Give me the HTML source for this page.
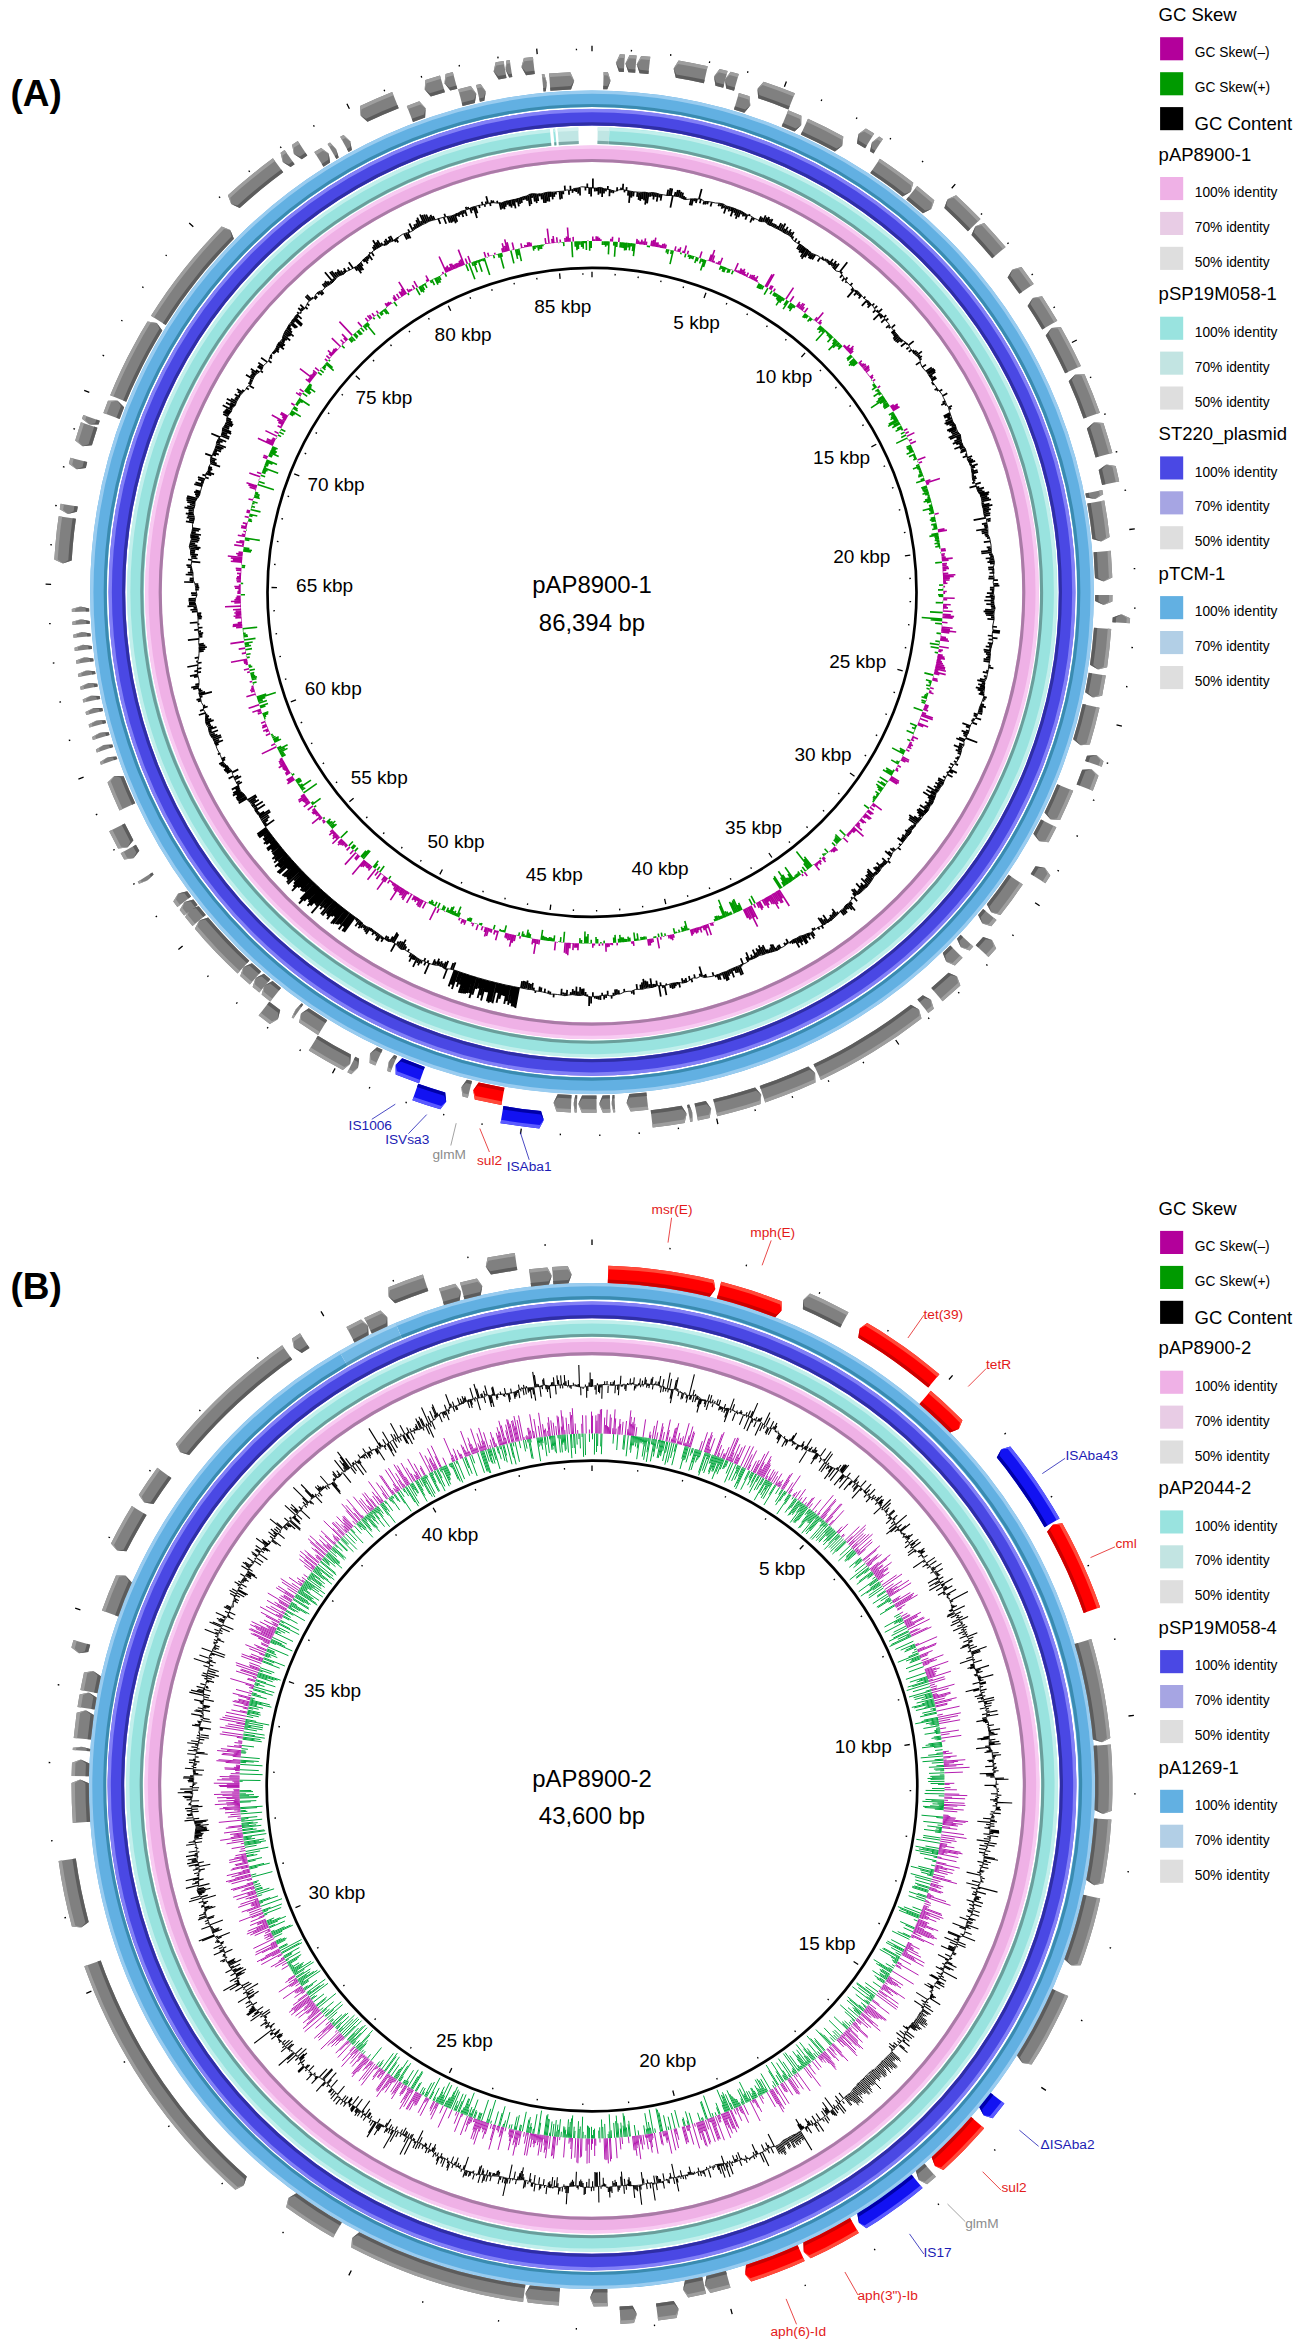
<!DOCTYPE html><html><head><meta charset="utf-8"><title>BRIG</title><style>html,body{margin:0;padding:0;background:#fff;font-family:"Liberation Sans",sans-serif}svg{display:block}</style></head><body><svg width="1301" height="2351" viewBox="0 0 1301 2351" font-family="Liberation Sans, sans-serif"><rect width="1301" height="2351" fill="#fff"/><g><path d="M592.9 188l0 -9.5M594.8 188l0 3.5M596.7 188.1l0 3.2M598.5 187.6l-0.1 7.2M600.4 187.4l-0.1 6.1M602.3 187.7l-0.2 9.2M604.1 188.8l-0.1 4.6M606 188.6l-0.1 2.8M607.8 189.4l0.1 -3.4M609.7 189.3l-0.3 7M611.5 190.2l-0.1 2.6M613.4 190.6l-0.1 2.6M617 191.2l0.2 -3.9M620.9 189.9l0.2 -2.3M622.8 189.6l0.4 -5.9M624.6 190l-0.2 2.4M626.4 190.5l0.3 -3.4M628.3 190.7l-0.4 4.9M630.1 191.1l-1.1 11.7M631.9 191.5l-0.6 6.1M633.8 191.8l-0.5 4.6M637.5 192.1l-0.5 4.8M639.3 192.9l-0.8 7M641.2 192.3l-1 8.5M643.1 192.2l-0.9 7M645 192.2l-1.1 8.1M646.8 192.6l-1.7 12.1M648.6 192.9l-1.5 10.5M650.5 193l-0.6 3.9M652.5 192.5l-0.6 3.9M654.3 193l-1 6.5M656.2 193.1l-0.6 3.8M658 193.7l-1.3 7.9M659.8 194.3l-0.5 3.2M661.6 194.8l-1 5.8M667.1 195.5l1.1 -5.9M669 195.7l1.5 -7.5M670.9 195.5l1.4 -7M672.8 195.7l-2.4 11.9M674.6 196.1l0.9 -4.1M676.5 196.3l1.3 -6.3M678.3 196.6l1.4 -6.6M680.1 197.3l1.2 -5.5M681.8 198.3l1.3 -5.7M683.5 199.2l0.7 -3.2M685.3 199.5l0.5 -2.3M691.3 198.8l-1.6 6.5M693.2 198.9l-1.7 6.6M695.2 198.6l-0.7 2.7M697 199l-1.1 4.1M699 199l2.7 -10M701 199l-1.2 4.2M704.2 201.4l-0.9 3.1M706.1 201.6l-0.9 2.9M708.1 201.6l-0.8 2.6M711.8 202.2l-1.3 4.3M719.4 203.2l-1 3.1M721.3 203.7l-0.8 2.5M723.2 204l-1.6 4.8M724.6 205.5l-0.9 2.7M726.5 206l-2.6 7.5M728.2 206.7l-0.9 2.6M730.1 207l-1.6 4.5M731.9 207.7l-1.2 3.4M733.7 208.1l-3.1 8.3M735.5 208.7l-1.5 4M737.2 209.6l-2.3 5.9M738.9 210.4l-3.2 8.3M740.8 210.9l-2.5 6.4M742.5 211.7l-1 2.7M744.1 212.8l-1.5 3.7M745.6 214l-1 2.4M747.3 214.8l-2 4.9M748.9 215.9l0.8 -1.8M752.4 217.3l-2.2 5.2M754.1 218.2l-1 2.3M758.9 221.3l2.2 -4.9M760.8 221.6l1.8 -3.9M763 221.3l2.7 -5.9M765 221.7l2 -4.3M766.4 222.9l2.8 -5.9M767.8 224.4l2.5 -5.2M769.4 225.4l3.1 -6.4M771.3 225.8l1.4 -2.9M773 226.7l1.5 -3M774.6 227.7l1.6 -3.2M776.5 228.1l1.2 -2.3M778 229.2l3.1 -6.1M779.7 230.1l3 -5.7M781.4 231.1l4 -7.6M783.1 231.9l1.8 -3.3M784.5 233.1l3.3 -6.2M786.4 233.7l1.6 -3M788 234.7l2.9 -5.3M789.5 235.7l2 -3.6M791 236.9l2.8 -5M792.1 238.8l1.4 -2.4M794.8 241.6l1.9 -3.2M798 243.7l1.6 -2.7M799.9 244.1l-3 5M801.5 245l-3 5.1M803 246.2l-3.8 6.3M804.4 247.5l-3.3 5.4M805.9 248.5l-5.3 8.4M807.7 249.3l-6 9.5M808.9 250.8l-4.1 6.5M810.6 251.7l-2.6 4M811.7 253.4l-3.1 4.8M813.4 254.2l-3.2 4.9M815.3 254.7l-3.2 4.8M820.1 257.7l-2.5 3.7M821.5 258.9l1.5 -2.1M822.8 260.3l1.2 -1.8M825 260.5l1.2 -1.8M826.6 261.5l1.4 -1.9M827.8 263l1.6 -2.3M828.8 264.7l4.2 -5.8M831.1 264.7l1.6 -2.2M832.5 266l3.7 -5M833.2 268.2l3.2 -4.4M834.5 269.6l4.5 -6M839.9 271.8l7.4 -9.6M840.9 273.5l1.3 -1.6M842.2 274.9l-2.2 2.8M844.3 278.3l-2.3 2.8M845.4 279.9l2 -2.5M846.5 281.4l-1.1 1.4M850.5 285.3l1.9 -2.3M853 288.2l-1.9 2.2M853.9 289.9l-6.5 7.5M856 290.4l-1.2 1.4M857.7 291.2l-3.7 4.2M859 292.5l-2 2.3M860.4 293.8l-1.8 2M861.4 295.4l-2.8 3.1M863.6 298.5l1.8 -2M866.9 300.4l-5.1 5.4M868.7 301.2l-1.8 1.9M869.9 302.6l-2.3 2.4M871 304.2l-3.4 3.5M872.2 305.6l2.1 -2.1M874.9 308.1l2.3 -2.3M875.3 310.3l-2.4 2.4M876.4 311.8l1.7 -1.7M878.1 312.7l4 -3.9M879.8 313.7l-6.4 6.2M881.7 314.4l-2.2 2.1M883 315.7l-2.7 2.6M884 317.3l2.3 -2.2M884.8 319.2l-3.6 3.4M885.9 320.7l2.4 -2.2M888.9 325.3l-2.8 2.5M890.1 326.8l-1.4 1.3M891.8 327.7l3.3 -3M894.9 330l-3.5 3M895.2 332.1l-2.6 2.3M896.3 333.7l-2.7 2.3M897.6 334.9l-4.4 3.7M898.6 336.5l-4.7 3.9M899.9 337.9l-4.5 3.7M901.3 339.1l-4.3 3.5M902.7 340.3l-2.2 1.8M905.9 342.5l-5 4M907.6 343.5l-1.3 1M908.6 345.1l5.1 -4M908.7 347.4l-2.3 1.8M911.7 349.7l-2.9 2.2M912.4 351.5l1.8 -1.3M913.1 353.3l3.4 -2.5M914.7 354.4l3.2 -2.3M916.2 355.6l5.7 -4.2M917.8 356.7l2.2 -1.6M918.8 358.3l3.1 -2.2M919.9 359.8l1.7 -1.2M919.9 362.1l-4 2.8M922.2 367.2l3.8 -2.6M926.1 371.3l5.7 -3.8M927.3 372.7l6.5 -4.3M928.5 374.1l6.7 -4.4M929.1 375.9l6.3 -4.1M930.2 377.4l2.4 -1.6M931.3 379l4.2 -2.6M931.8 380.8l4.7 -2.9M932.8 382.4l-1.3 0.8M934 383.8l-1.5 0.9M937.2 388.4l-2.6 1.5M938.3 389.9l-1.6 0.9M939.4 391.3l2.9 -1.7M943 395.7l4.3 -2.4M945.1 401l-2.6 1.4M945.4 402.9l-4.1 2.2M946.5 404.4l-1.6 0.9M948.5 407.5l3.4 -1.7M949.3 409.2l1.9 -1M949.8 413.1l-6.2 3.1M950.6 414.8l-6.2 3.1M950.4 416.9l-3 1.5M951.8 418.3l-6.3 3M952.2 420.2l-7.6 3.6M953 421.8l-6.6 3.1M954 423.4l-4.5 2.1M955.3 424.8l-3.7 1.7M955.9 426.6l-8.8 4M956.3 428.4l-7.5 3.4M956.5 430.3l-5.5 2.4M957.8 431.8l-5.7 2.5M959 433.3l-10.4 4.5M960.4 434.7l-10.3 4.4M960.8 436.6l-4.3 1.8M960.9 438.5l-6.6 2.7M961.5 440.3l-8.7 3.6M961.6 442.2l-5.3 2.2M962.6 443.8l-3.2 1.3M963.1 445.6l-8.7 3.4M963.9 447.2l-4.1 1.6M965.4 448.7l-4.6 1.8M966 450.4l-5.7 2.2M966.9 454l-1.7 0.6M967.1 455.9l-4.4 1.6M967.1 457.8l5 -1.8M967.4 459.7l3.9 -1.4M968.2 461.4l4.9 -1.7M969.3 462.9l5.9 -2M969.6 464.8l2.3 -0.8M971 466.3l6.7 -2.2M971.6 468l3.5 -1.1M971.5 470l2.2 -0.7M971.7 471.8l5.8 -1.8M972.1 473.6l5.9 -1.8M972.1 475.5l2 -0.6M972.3 477.4l3.7 -1.1M972.3 479.3l4.4 -1.3M973.2 481l2.2 -0.6M974.4 482.6l-2.2 0.6M975.7 484.1l5.1 -1.5M976.4 485.8l-6.9 1.9M976.5 487.7l2.8 -0.8M977.2 489.4l6.8 -1.8M977.7 491.2l4.8 -1.2M978.6 492.9l6 -1.5M980 494.4l9.2 -2.3M980.3 496.2l8.3 -2M981.3 497.9l6 -1.5M982.1 499.6l7 -1.7M981.9 501.5l9.1 -2.1M981.8 503.5l2.4 -0.5M982.1 505.3l7.4 -1.6M982.5 507.1l9.9 -2.2M983.2 508.8l6 -1.3M983.5 510.7l7.3 -1.5M983.6 512.5l5.2 -1.1M983.9 514.3l6.5 -1.3M984.4 516.1l5.8 -1.1M985.7 517.8l-12.1 2.3M986.5 519.5l4.2 -0.8M987.5 521.2l3.1 -0.6M986.9 523.2l-5 0.9M987 525.1l-3.1 0.5M987.7 526.8l-3.2 0.5M987 528.8l-10.8 1.7M987.9 530.5l-6.4 1M987.8 532.4l-6 0.9M987.9 534.3l-3.3 0.5M988.7 536l-3.2 0.5M989.6 537.8l-2.6 0.4M990.3 541.4l-6.5 0.8M990.6 547l-3.9 0.4M991.2 548.8l-3.4 0.4M991.1 550.7l-10 1M991.4 552.5l-10 1M992 554.3l-3 0.3M993.2 556.1l-3 0.3M993.1 557.9l-7.4 0.6M993.9 559.7l-4.7 0.4M994.5 561.6l-7.1 0.5M994.3 563.4l-4.3 0.3M993.4 567.2l-5.3 0.3M994.1 569.1l-5.7 0.3M993.9 570.9l-2.1 0.1M994.2 572.8l-4.7 0.2M993.4 576.5l-4.6 0.2M994.1 578.4l-5.8 0.2M993.8 580.2l4.1 -0.1M994.1 583.9l4.3 -0.1M993.9 585.8l5.5 -0.1M993.9 587.7l-4 0M993.9 589.5l-4 0M993.7 591.4l-2 0M993.5 593.2l-6.6 0M993.3 595.1l-3.6 0M994.3 596.9l-8.7 -0.1M994.3 598.8l-3.5 -0.1M993.7 600.7l-9.4 -0.2M994 602.5l-3.3 -0.1M994 604.4l-7.7 -0.2M994.8 606.3l-4 -0.1M995.1 608.1l-3.9 -0.2M994 610l-8.9 -0.4M994.1 611.8l-10.5 -0.5M993.6 613.7l-8.4 -0.4M993.9 615.5l-7.9 -0.5M994.1 617.4l-3.1 -0.2M994.1 619.3l-6.7 -0.5M992.6 626.6l4.4 0.4M993 630.4l7.1 0.7M992.3 632.2l7.5 0.7M992.5 636l-4.7 -0.5M992.4 637.8l5.1 0.6M992.1 639.7l-3.5 -0.4M992.7 643.5l-5 -0.6M991.8 645.2l-2.8 -0.4M991.4 647.1l-5.7 -0.8M990.8 648.9l-1.5 -0.2M990.7 650.7l-7.1 -1M990.3 652.6l-6.1 -0.9M990.6 654.5l-4.7 -0.7M990.2 656.3l-2.9 -0.5M990 658.2l-4 -0.7M989.9 660l-6.3 -1.1M989.6 661.9l-6.1 -1.1M988.9 665.5l1.8 0.3M988.5 667.4l4.9 0.9M988.1 671.1l-1.9 -0.4M987.6 672.9l-4.8 -1M986.6 676.5l-2.8 -0.6M986.5 678.4l-2 -0.4M985.2 680l-5.3 -1.2M984.7 681.8l-7.4 -1.7M985.1 683.8l-3.5 -0.8M984.5 685.6l-6.3 -1.5M985 687.6l-5.1 -1.2M984.4 689.4l-8.6 -2.1M983.6 691.1l-6 -1.5M983.8 693.1l-3.6 -0.9M984.2 695.1l-5.5 -1.4M983.7 696.9l3.1 0.8M983.2 698.7l2.4 0.6M982.4 700.5l2 0.5M981 704l3.1 0.9M980.3 705.7l5.6 1.6M979.5 707.4l3.2 1M979.1 709.2l3.6 1.1M978.6 711l4 1.2M978.2 712.9l4 1.2M977.6 714.6l-3.9 -1.2M976.6 716.3l-3 -1M975.8 718l5.3 1.7M974.8 719.6l-2.3 -0.8M973.3 721.1l-2 -0.7M972.4 722.7l4.6 1.6M970.4 726l-8 -2.8M969.6 727.6l-3.7 -1.3M968.9 731.4l-3 -1.1M968.6 733.2l-7 -2.6M967.3 734.7l-4.1 -1.6M966.7 736.5l-3.2 -1.2M965.9 738.1l11.4 4.4M965 739.8l-5.9 -2.3M964 741.4l-7.7 -3.1M963.9 745.3l-4.7 -1.9M962.1 746.6l-3.3 -1.4M961.8 748.5l-7.9 -3.4M960.9 750.1l-3 -1.3M961.1 752.2l-5.4 -2.4M960.7 754.1l-3.1 -1.4M959.1 757.5l-1.8 -0.8M958.4 759.1l-3 -1.4M956.4 762.3l-2.5 -1.2M955.4 763.9l2.6 1.2M953.4 765l-3.2 -1.5M951.5 768.2l-2.8 -1.4M950.1 769.6l6.7 3.3M948.9 771.1l3.9 2M948.4 772.9l-1.8 -0.9M947.4 774.4l5.1 2.6M945.6 777.6l-2.6 -1.3M944.1 781l-5.8 -3.1M943.6 782.9l-5.7 -3.1M942.9 784.6l-4.5 -2.4M941.4 785.9l-6.1 -3.4M940.4 787.4l-3.4 -1.9M939.1 788.8l-5.2 -2.9M938.6 790.7l-3.5 -2M937.3 792l-9.8 -5.7M936.1 793.5l-4.8 -2.8M935.5 795.2l-9.1 -5.4M935.1 797.2l-4.6 -2.8M934.6 799l-11.4 -6.9M933.6 800.6l-5.7 -3.5M933.3 802.5l-4.5 -2.8M932.2 804l-3.7 -2.3M930.6 805.2l-5.4 -3.4M929.7 806.8l-3.3 -2.1M928.7 808.4l-4.2 -2.7M928.3 810.4l-8.4 -5.5M927.1 811.8l-2.9 -1.9M926 813.2l-7.2 -4.8M924.4 814.4l-7.4 -5M923.2 815.8l-5.8 -3.9M921.4 816.8l-2.8 -1.9M921.1 818.9l-2.6 -1.8M919.8 820.2l-5.6 -3.9M918.7 821.7l-9.5 -6.7M917.2 822.9l-7.8 -5.5M916.1 824.4l-7.4 -5.3M915.6 826.2l-2.2 -1.6M914.1 827.5l-2.8 -2.1M912.9 828.8l-3 -2.2M911.6 830.2l-3.1 -2.3M911.4 832.4l-4 -3M910.2 833.8l-5 -3.8M908.9 835.1l-3.3 -2.5M907.6 836.4l-2.6 -2M906.3 837.8l-4 -3.2M905.4 839.4l-3.5 -2.7M904.1 840.7l-3 -2.4M903.1 842.2l-5.5 -4.5M900.9 845.2l-1.9 -1.5M898 847.6l2.7 2.3M895.3 850.2l-2.7 -2.3M893.5 851l-3.2 -2.7M891.8 854.4l-3.3 -2.9M891.2 856.3l-6 -5.3M889.1 859.4l-1.4 -1.2M888.2 861.1l2.1 1.9M887.1 862.6l-4.9 -4.5M886 864.1l-2.9 -2.7M884.5 865.2l-2.5 -2.3M883.2 866.5l-2.7 -2.6M881.7 867.6l-5.1 -4.9M880.3 868.9l-2.5 -2.4M879.8 871l-4.4 -4.3M878.4 872.2l-4.9 -4.8M877.4 873.8l-2.2 -2.2M875.6 874.6l-1.9 -1.9M874.3 875.9l-6.7 -6.7M872.9 877.1l-5.7 -5.8M872.5 879.3l-5.1 -5.2M871.3 880.8l-5.6 -5.8M870.4 882.5l-4.3 -4.5M869.3 884l-4.4 -4.7M868.1 885.5l-6.8 -7.2M867.2 887.2l-2.7 -2.9M865.5 888.2l-4.7 -5.1M863.9 889.1l-3.4 -3.7M862.7 890.6l-6.5 -7.2M861.5 892l-2.9 -3.2M860 893.2l-2.4 -2.7M858.5 894.3l-4.8 -5.4M856.4 894.8l-4.8 -5.5M855.3 896.3l-2.6 -3M853.9 897.5l3.2 3.8M852.4 898.6l-1.2 -1.5M850.3 901.9l2.1 2.6M848.9 903.1l6.1 7.4M847.2 904l4.7 5.8M845.7 905.1l3.1 3.9M844.5 906.5l2.4 3M843.6 908.4l3.5 4.3M842.4 909.9l3.3 4.2M840.5 910.6l3.6 4.6M838.4 913.9l-1.6 -2.1M836.8 915l-4.6 -6M835.6 916.5l-3.1 -4.1M834 917.4l-2.2 -3M832.8 919l-2.9 -3.9M831.6 920.5l-2.2 -3.1M829.8 921.2l-1.7 -2.3M828.4 922.4l-5.3 -7.4M826.5 923.1l-2.7 -3.8M825.2 924.5l-4.6 -6.5M823.3 925l-5.1 -7.3M821.4 925.6l2 3M817.8 926.9l1.8 2.7M815 929.4l-1.1 -1.7M813.5 930.5l-1.5 -2.3M812.1 931.8l2.6 4.1M810.6 932.9l3.6 5.6M808.4 933l1.6 2.6M806.8 933.8l3.6 5.7M805.1 934.7l2.2 3.5M803.3 935.3l4.5 7.4M801.6 936l4.9 8M799.5 936.3l3.2 5.4M798.1 937.5l4.5 7.6M796.4 938.3l2.8 4.7M794.6 939l4.9 8.5M792.9 939.7l2 3.4M791.5 940.9l1.6 2.8M789.9 942l0.8 1.5M788.2 942.7l-2.1 -3.7M786.9 944.1l-0.8 -1.4M785.4 945.2l-1.4 -2.5M780.6 948.1l-1.8 -3.4M779.2 949.4l-1.9 -3.7M777.5 950.3l-1.5 -2.8M775.7 950.7l-3.3 -6.4M773.9 951.3l-3.4 -6.8M772.2 952.1l-2.2 -4.4M770.2 952.3l-1.4 -2.9M768.6 953.2l-1.9 -3.9M766.6 953.2l-3.9 -8M764.8 953.8l-3.3 -6.9M763.1 954.7l-4.4 -9.3M761 954.5l-2.5 -5.4M759.4 955.4l-3.2 -7M757.8 956.4l-1.9 -4.1M756.2 957.4l-3.5 -7.8M754.6 958.2l-1.1 -2.5M752.8 958.9l-1.9 -4.2M751.1 959.4l-0.8 -1.8M749.4 960.1l-3.3 -7.7M748.1 961.9l-2 -4.8M743.1 964.3l-2.4 -6M741.1 964.3l0.8 2.1M739.6 965.5l3.5 8.9M738 966.6l3.4 8.7M736.1 966.9l2.2 5.7M734.4 967.7l2 5.3M732.7 968.3l1 2.6M731.1 969.2l3 8.2M729.3 969.8l1.5 4M727.7 970.9l1.8 4.9M726 971.6l2.9 8.3M724.2 972l3.1 8.9M722.4 972.6l2.3 6.7M720.7 973.5l0.7 2M719 974.2l1.8 5.5M717.2 974.6l1.7 5.2M715.5 975.4l0.6 1.8M713.6 975.7l-1.1 -3.5M706.3 977.2l-1 -3.3M704.5 977.4l-0.7 -2.5M702.3 976.5l-2.9 -10.1M700.3 976.3l-0.7 -2.5M695 977.9l-0.9 -3.5M691.4 978.7l0.9 3.5M689.9 980.1l-1 -4.1M686.6 982.2l-1 -4.2M684.8 982.7l-0.7 -2.9M682.9 983l-1.1 -4.8M679 982.6l1.1 4.9M677.1 982.1l0.5 2.5M675.3 982.9l0.7 3.4M673.5 983l1.1 5.2M671.7 983.4l1.1 5.4M670 984.4l0.7 3.6M666.4 985.2l-0.3 -1.7M664.6 985.6l1.8 9.5M662.7 985.5l0.4 2.5M660.9 985.8l-0.6 -3.4M659 985.9l1.8 10.8M657.1 985.6l-0.8 -4.9M655.4 986.8l-0.5 -3M653.6 987.1l-0.5 -3.1M651.8 987.8l-1.4 -9.4M649.9 987.7l-0.5 -3.6M648 987.4l-0.8 -6M646.3 988.1l-1 -7.4M644.4 987.9l-1.2 -9.1M642.7 989.2l-0.9 -6.8M640.8 989l-0.5 -4.3M637.1 989l-0.6 -4.9M633.5 990l0.5 4.6M631.7 991.2l0.2 2.4M624.4 991.9l-0.3 -3.1M619 994.2l-0.3 -4M617.1 994.1l-0.3 -4.9M615.3 994.7l-0.3 -5.3M613.5 995.7l-0.2 -2.9M611.6 995.7l0.1 2.9M607.8 994.9l-0.2 -4.1M606 994.9l0.1 3.1M604.1 995.3l0.1 4.1M602.2 995.5l-0.1 -2.8M600.4 995.7l0.1 4.2M598.5 996.3l0.1 3.3M596.7 996.6l0 2.5M594.8 996.4l0 2.1M592.9 996.3l0 -4M591.1 996.9l0 6.7M589.2 996.7l-0.1 9.4M587.3 996.2l0 -1.8M585.5 995.8l0.1 -3.7M583.6 995l0.1 -6.4M581.8 994.9l0.2 -6.2M579.9 995.5l0.3 -8.4M578 995.5l0.1 -4M576.2 995.2l0.3 -8.6M574.3 994.7l0.2 -4M572.5 994.6l0.3 -5.6M570.6 994.9l0.2 -2.8M566.8 995.5l0.3 -5.6M564.9 995.7l0.2 -3M563.1 994.6l0.2 -2.3M561.2 995l0.5 -6.3M553.8 994.1l-0.3 3.2M550.1 994.2l0.3 -2.5M548.3 993.2l0.3 -2.6M544.6 992.7l0.5 -4M541 991.5l0.5 -4M539.2 991.3l0.6 -4.7M535.5 990.9l-0.3 1.9M533.7 990l0.3 -2.3M531.9 989.7l1 -6.9M530.1 988.8l0.8 -4.9M528.2 989.3l1 -6.3M526.4 988.4l1.3 -7.9M524.5 988.6l1.2 -7.1M522.7 988.2l1.3 -7.3M520.9 987.9l1.2 -6.7M452.8 969.7l2.7 -7.3M451 969.1l2.3 -6.1M447.2 968.7l-3.8 10M445 969.1l3.2 -8.2M443.4 968.1l2.5 -6.4M441.9 966.7l1.4 -3.5M440.1 966.3l2 -5M438.4 965.4l1.6 -3.9M436.8 964.6l2.4 -5.9M434.6 965l1.5 -3.7M432.7 964.7l2.3 -5.3M429.4 963l-4.8 10.9M427.4 962.8l1.1 -2.5M425.6 962.1l-1.5 3.3M424.1 961.1l1.3 -2.9M422 961.1l-1.1 2.4M420.5 959.9l-2.5 5.4M418.8 959.1l-1.8 3.7M417.3 957.9l-4.3 8.9M415.7 956.8l-1.5 3.1M414.3 955.5l-1.9 4M412.6 954.8l-3.4 6.9M411.1 953.5l-1.8 3.6M407.8 951.7l1.3 -2.5M404.7 949.6l1.7 -3.2M402.7 949.5l2.8 -5.4M400.7 949.2l5.1 -9.6M399.3 947.9l3.4 -6.3M398 946.3l2.8 -5.1M396.8 944.6l1.7 -3.1M395.3 943.5l-4.5 8.1M393.5 942.9l4.9 -8.7M392 941.8l5.3 -9.3M390 941.5l2.9 -5M388 941.2l1.3 -2.3M386.5 940.2l2.1 -3.6M384.8 939.3l2.1 -3.5M383.6 937.7l-2.4 4M382.2 936.5l-1.3 2.2M380.4 935.8l-3.3 5.3M379.1 934.4l-3.5 5.7M377.7 933.1l-1.8 2.9M376.1 932.1l-1.3 2.1M374.5 931.2l-2.4 3.7M373.1 930l-1.3 2M371.8 928.6l-1.6 2.4M370 927.9l-4 6M368.1 927.4l-3.1 4.6M366.4 926.6l-2.5 3.7M364.9 925.5l-1.7 2.4M363.3 924.5l-2.5 3.6M362.3 922.6l-3.9 5.6M360.9 921.4l-2.4 3.5M359.5 920.2l-4.2 6M358 919.1l-1.8 2.5M356.5 918.1l-1.2 1.7M265.2 826.3l9 -6.4M264.2 824.7l2.3 -1.6M263.2 823.2l4.8 -3.4M262.3 821.6l7.1 -5M261.4 819.9l7 -4.8M260.4 818.3l10 -6.8M259.3 816.8l10.2 -6.9M258.7 815l5.4 -3.6M257 813.9l2.5 -1.6M256.1 812.3l2.1 -1.4M254.9 810.9l10 -6.5M254.6 808.9l2.6 -1.7M253.6 807.3l9.2 -5.9M252.1 806l2.9 -1.8M251.9 804l6.9 -4.3M250.5 802.7l5.3 -3.3M249 801.4l7.9 -4.8M247.5 800.1l8.5 -5.1M237.6 784.4l4.3 -2.3M236.2 783l3.5 -1.9M235 779.4l6.1 -3.2M234 777.8l4.2 -2.2M233 776.3l-4.4 2.3M232.3 772.4l6 -3M222.1 760.8l3 -1.4M221.7 758.9l3.6 -1.6M220.4 753.3l-2.6 1.1M215.8 745.1l2.9 -1.2M214.5 743.6l8.5 -3.4M214.3 741.6l4.9 -1.9M213.2 740l8.3 -3.2M212.7 738.2l8.2 -3.2M211 736.9l6.4 -2.4M210.2 735.2l4.6 -1.7M210 733.2l8 -3M209 731.6l2.7 -1M208.7 729.7l7.8 -2.8M208.4 727.8l4.4 -1.5M208.1 725.9l2.9 -1M206.4 724.5l3.7 -1.3M205.6 722.8l8.1 -2.7M205.5 720.8l5.8 -1.9M205.5 718.9l3 -1M205.6 716.9l3.4 -1.1M205.9 714.8l1.5 -0.5M205.7 712.9l-6.9 2.1M203.5 709.7l-3.5 1.1M203.2 707.8l4.5 -1.3M203.4 705.8l1.8 -0.5M200.9 700.7l-3 0.8M200.7 698.8l-4.2 1.1M199.9 697.1l2.6 -0.7M199.4 695.2l12.5 -3.3M198.6 693.5l6.5 -1.7M199.1 691.4l3.4 -0.9M198.5 689.7l2.5 -0.6M198.4 687.8l-5.2 1.3M198.7 685.8l-7.5 1.8M199 683.8l-3.7 0.9M198.1 676.3l-4.1 0.9M197.4 674.6l-7.4 1.5M197.3 672.7l3.7 -0.8M198.2 670.6l-3.9 0.8M197.3 668.9l4.1 -0.8M198 665l-10.7 2M198.1 663.1l3.5 -0.6M197.8 661.3l-1.6 0.3M198.7 657.4l-4 0.7M199.2 651.7l4.6 -0.7M199.1 649.9l6.1 -0.9M198.8 648.1l8.1 -1.1M199.2 646.2l6.1 -0.8M198.9 644.4l4.9 -0.7M199 638.8l-11.1 1.3M199.4 636.9l3 -0.3M199 635.1l3.5 -0.4M199 633.3l4.2 -0.4M198.3 631.5l2.7 -0.3M198.1 629.7l-3.9 0.4M198.4 627.9l4.1 -0.4M197.8 624.2l1.6 -0.1M197.5 622.4l-7.7 0.6M198.2 618.7l3.4 -0.2M197.9 616.9l4.2 -0.3M197.4 615.1l3.7 -0.2M197.4 613.3l3.9 -0.2M197.1 611.5l-5.2 0.3M197.1 609.6l-6.7 0.3M196.4 607.8l-2.9 0.1M196.2 606l-8.7 0.3M196 604.2l-7 0.2M195 602.4l-6.1 0.2M195.4 600.5l-6.9 0.1M195.5 598.7l-6.9 0.1M197 595l-5.5 0M196.4 593.2l-5.4 0M195.4 589.6l3.4 0M195.7 587.7l3.6 0M196.1 585.9l2.5 0M195 584l3.3 0.1M193.5 582.2l-9.4 -0.2M193.4 580.3l-3.9 -0.1M193.5 578.5l-3.8 -0.1M192.7 574.8l-7 -0.3M193 572.9l-5.2 -0.3M192.1 571l-2 -0.1M192 569.2l-1.9 -0.1M191.5 567.3l-4.1 -0.3M191.1 565.4l-4.7 -0.3M191.6 561.7l8.7 0.7M191.5 559.8l-3.5 -0.3M191.9 558l5.6 0.5M192 556.2l4.4 0.4M190.6 554.2l7.4 0.7M190.6 552.3l4.3 0.4M190.5 550.4l4.8 0.5M190.3 548.5l8.6 0.9M189.3 546.5l11.2 1.3M189.8 544.7l7.5 0.9M190.2 542.9l5 0.6M190.7 541l7.5 1M191.4 539.2l7.9 1.1M190.5 537.2l9.3 1.3M190.6 535.4l8.2 1.2M191.5 533.6l9.5 1.4M191.8 531.8l4 0.6M192.1 529.9l6.9 1.1M192.6 528.1l7.8 1.2M193.6 522.6l-7.7 -1.3M193.9 520.7l-4.9 -0.9M194.6 519l-7.9 -1.5M194.2 517l-6.5 -1.2M193.5 514.9l-7.7 -1.5M193.1 513l-4.6 -0.9M192.9 511l-4.4 -0.9M193.6 509.2l-9.1 -1.9M194.4 507.5l-7.2 -1.5M194.8 505.6l-4.9 -1.1M194.9 503.7l-7.7 -1.7M195.1 501.8l-8.6 -2M196.2 500.2l-9.7 -2.3M197.2 498.5l-10 -2.4M198.7 496.9l-3 -0.7M199.6 495.2l-4.6 -1.1M200 493.4l-5.9 -1.5M200.4 491.6l-4.8 -1.2M202.1 486.2l-7.8 -2.1M202.6 484.4l-7.1 -2M203.4 482.7l-2.5 -0.7M203.8 480.9l-5.7 -1.6M204.6 479.2l-6.7 -2M205.6 477.5l3.1 0.9M205.7 475.6l-3.3 -1M205.9 473.7l5.4 1.7M207.4 472.2l6.7 2.1M208.1 470.5l2.6 0.8M208.3 468.6l4 1.3M208.8 466.8l3.2 1M210.7 463.5l9.4 3.2M210.6 461.5l6.1 2.1M210.4 459.5l4.6 1.6M210.3 457.5l6.2 2.2M212.1 456.1l-6.9 -2.5M212.7 454.4l3.3 1.2M213.3 452.6l5.5 2M214.2 450.9l2.7 1M214.8 449.2l6.2 2.4M215.4 447.4l6.1 2.3M216.1 445.7l7.4 2.9M217 444l8.9 3.5M216.7 441.9l3.5 1.4M217.4 440.2l5.2 2.1M218.5 438.6l7.7 3.2M219.8 437.1l-8.5 -3.6M221.2 435.7l7.8 3.3M221.6 433.9l7.9 3.4M222.2 432.1l5.1 2.2M222.2 430l9 3.9M222.6 428.2l8.5 3.8M223.9 426.7l5.2 2.3M224.8 425.1l4.7 2.1M225.4 423.3l6.7 3.1M226.6 421.8l6.6 3.1M226.7 419.8l5.7 2.7M226.9 417.8l4.3 2.1M227.6 416.1l-4.4 -2.1M228.9 414.6l-5.7 -2.8M230 413.1l-5.4 -2.7M231.3 411.7l-5.4 -2.7M231.8 409.8l-9.1 -4.6M232.3 408l-2.7 -1.4M233.7 406.6l-7.7 -4M235.3 405.4l-4.9 -2.6M235.9 403.6l-9.1 -4.8M236.5 401.8l-5.5 -3M237.4 400.1l-2.8 -1.5M238.4 398.6l-2.8 -1.6M239.7 397.1l-5 -2.8M240.3 395.3l-1.5 -0.9M241.4 393.8l-3.6 -2M242.8 392.5l-5.9 -3.4M244.3 391.2l-2.2 -1.3M246.2 388l2.7 1.6M249.6 385.7l4.3 2.6M251 384.4l-2.6 -1.6M251.3 382.4l-1.8 -1.1M252.3 380.9l-2.5 -1.5M252.8 379l-6.8 -4.3M253.9 377.5l-3.5 -2.2M254.7 375.8l-3.2 -2M255.9 374.4l-4.4 -2.8M257.2 373l-6.4 -4.2M259.3 372.2l-3.3 -2.2M260.8 371l2.1 1.4M261.9 369.5l-4.4 -3M262.7 367.9l-4 -2.7M263.2 366l-4.9 -3.4M267 361.9l-5.9 -4.2M268.7 360.8l2.8 2M269.9 357.1l2 1.4M270.2 355.1l1.9 1.4M272.5 352.2l2.1 1.6M274 351l2 1.5M275.2 349.6l3.6 2.8M276.1 348l2.8 2.2M276.7 346.1l2.8 2.2M277.5 344.3l6.4 5M278.3 342.6l4.9 3.9M280 341.6l4.9 3.9M281.5 340.4l2.9 2.3M282.4 338.8l2.7 2.2M282.6 336.6l4.3 3.6M283.4 334.8l6.8 5.7M284.2 333.1l4.3 3.6M285 331.3l5.5 4.7M286.2 329.9l7.4 6.4M287.1 328.2l4.9 4.3M288 326.5l3.5 3.1M288.9 324.8l1.9 1.7M290.4 323.6l5.2 4.6M291.2 321.9l6.2 5.6M292 320l2.6 2.4M293.5 318.9l8 7.3M294.7 317.5l7.7 7.2M295.5 315.7l2.4 2.2M296.8 314.3l4.8 4.5M298.8 313.7l-1.6 -1.6M300.2 312.3l1.1 1.1M301.6 311.2l-3.3 -3.2M302.9 309.8l-1.7 -1.7M304.6 308.8l-4.3 -4.2M305.5 307.1l2.1 2.1M307.2 303.5l2.1 2.1M309.7 300.7l-4.3 -4.4M311.4 299.7l-4.6 -4.8M312.9 298.6l-1.1 -1.2M314.3 297.4l1.8 2M315.4 295.9l1.9 2M317.3 292.4l2.1 2.3M319.1 291.5l3.3 3.6M321.3 291.2l2.4 2.6M325.3 287.3l-2.9 -3.3M326.8 286.1l-2.8 -3.2M328.6 285.3l-3.6 -4.2M330 284.1l-2.5 -2.9M331.7 283.3l-1.7 -2M333.2 282.1l-8.3 -9.9M334.4 280.6l-1.6 -1.9M335.7 279.2l-5.9 -7.2M336.7 277.5l-5.2 -6.4M338.1 276.2l-3.2 -3.9M339.9 275.5l-3 -3.8M341.7 274.9l-4.3 -5.4M343.6 274.2l-2.9 -3.7M344.9 272.8l-1.5 -2M346.3 271.6l-2.6 -3.4M349.8 270l-2 -2.6M353.1 268.2l-4.3 -5.9M354.5 267l2.7 3.7M356.4 266.4l4.9 6.8M357.6 264.9l4 5.6M359.1 263.9l4.4 6.1M360.5 262.6l2.3 3.3M362.9 259.5l1.8 2.6M364.4 258.4l3.4 5M365.9 257.3l2.3 3.5M367.4 256.2l1.7 2.5M368.5 254.4l3.8 5.7M370.2 253.6l-0.8 -1.3M371.7 252.5l2.2 3.4M374.7 250.2l-2.1 -3.3M376.1 249l-2.5 -4M377.7 248l-4.8 -7.7M379.4 247.2l-3.1 -5M380.9 246.1l-3.6 -5.9M382.6 245.2l-1.5 -2.5M385 245.5l-1.1 -1.9M386.7 244.8l-2.4 -4.1M388.3 243.8l-2.8 -4.9M389.6 242.3l-1.2 -2M391.1 241.2l-2.6 -4.5M393.2 241l-2.9 -5.1M394.4 239.5l1.4 2.5M396 238.5l2.2 4M397.4 237.2l0.8 1.4M404.2 234.1l2.8 5.4M405.9 233.1l2.8 5.5M407.9 233.1l2.7 5.3M409.6 232.3l-1.5 -3M412.9 230.6l-3.5 -7.1M414.3 229.2l-1 -2M416 228.3l-2 -4M417.6 227.4l-1.8 -3.8M419.3 226.5l-3.1 -6.5M420.9 225.5l-3.7 -7.9M422.5 224.6l-1.6 -3.6M424 223.4l-4 -8.9M425.9 223.2l-3.7 -8.2M427.4 221.8l-3.3 -7.3M429.2 221.3l-3 -6.8M430.9 220.6l-1.7 -4M432.8 220.2l-2.3 -5.4M434.6 219.7l-1.6 -3.7M438.2 218.5l2.2 5.4M443.7 217.3l2.5 6.4M445.5 216.8l-1.2 -3.1M447.4 216.5l2.4 6.3M449.5 216.8l2.3 6M451.2 216l2.1 5.6M452.9 215.3l2.9 8M454.7 214.6l2.6 7.3M456.2 213.4l1 2.7M458.1 213.1l1.3 3.7M459.7 212.2l0.9 2.6M461.3 211.2l2 5.8M463.1 210.7l1 3.1M464.9 210.3l1.9 5.8M466.6 209.5l-0.9 -2.6M468.5 209.1l-0.7 -2.2M470 207.9l1.7 5.3M471.8 207.3l1 3.1M473.6 206.7l3.4 11.2M475.4 206.4l2.1 6.9M479 205.3l0.8 2.7M482.7 204.9l-0.9 -3.1M484.7 205.1l0.5 1.7M486.3 204l-0.7 -2.5M488 203l-1.8 -6.7M489.9 202.9l0.8 3.1M491.9 203.1l-0.7 -2.8M493.7 202.7l-0.6 -2.2M497.6 203.1l-0.6 -2.3M499.4 202.5l1.7 7.1M501.4 202.9l1.3 5.7M503.1 202.3l1.6 7M504.8 201.5l1.2 5.3M506.6 200.8l0.9 4M508.5 200.8l1.2 5.5M510.2 200.2l1.5 7.4M512.1 199.9l1.2 5.7M513.8 199.3l1.8 9.1M515.7 199.2l0.6 3.2M517.4 198.5l1.5 7.8M519.3 198.2l1 5.7M521 197.3l1 5.5M522.8 196.9l0.6 3.3M524.6 196.3l0.6 3.3M526.4 196l0.8 4.9M528.2 195.3l1.7 10.7M529.9 194.2l1.6 10M531.7 193.7l0.6 4.2M533.6 193.7l1.2 8M535.5 193.8l1.3 9.4M537.4 194.1l0.9 6.9M539.2 193.6l0.4 2.7M541.1 193.9l0.7 5.5M542.9 193.6l1.2 9.4M544.7 192.8l1.2 10M546.5 192.4l1 9M548.4 192.1l1 9.6M550.2 191.8l0.5 5M552.1 192.2l0.7 7.2M554 192.3l0.4 4.5M555.8 191.9l0.2 2.6M559.5 191.4l0.7 8.1M561.4 191.5l0.6 7.3M563.2 191.2l0.2 3.1M565 190.3l-0.3 -4.7M568.8 190.4l0.3 4.4M570.6 190.5l-0.3 -4.7M572.5 189.8l0.1 3.1M574.3 188.5l0.1 2.6M576.1 188.2l0.1 3.8M578 188l0.2 5.6M579.9 187.9l0.2 7.6M585.4 187l0.1 3.5M587.3 187.7l0 -4.1M589.2 187.8l0 6.1M591.1 187.5l0 9" fill="none" stroke="#000" stroke-width="1.75"/><path d="M519 987.6l-3.8 20.4M517.2 987.3l-3.7 19.4M515.4 986.9l-3.8 19.5M513.6 986.6l-3.3 16.8M511.8 986.2l-3.8 18.6M509.9 985.8l-3.2 15.3M508.1 985.5l-3.9 18.4M506.3 985.1l-2.4 10.9M504.5 984.7l-2.4 10.7M502.7 984.3l-3.3 14.6M500.9 983.8l-4.4 19M499.1 983.4l-2.2 9.4M497.3 983l-4.9 20.3M495.4 982.5l-4.8 19.4M493.6 982.1l-5.2 20.6M491.8 981.6l-5 19.6M490 981.2l-2.9 11M488.3 980.7l-3 11.4M486.5 980.2l-5.5 20.3M484.7 979.7l-4.3 15.5M482.9 979.2l-5.3 18.8M481.1 978.7l-2.8 9.7M479.3 978.2l-3.2 10.9M477.5 977.7l-5.1 17.1M475.7 977.1l-6.3 20.9M474 976.6l-5 16.4M472.2 976l-5.3 17.1M470.4 975.5l-5.7 18.1M468.7 974.9l-6 18.5M466.9 974.3l-6.2 18.8M465.1 973.8l-6.3 18.9M463.4 973.2l-3.8 11.3M461.6 972.6l-4.8 14.1M459.9 972l-3.5 10M458.1 971.3l-6.2 17.7M456.4 970.7l-5 13.9M454.6 970.1l-5.9 16.2M355 917l-10.9 14.9M353.5 915.9l-11.2 15.2M352 914.8l-8.6 11.6M350.5 913.7l-11.8 15.7M349 912.5l-9.1 11.9M347.5 911.4l-10.1 13.1M346.1 910.3l-10.6 13.7M344.6 909.1l-11.6 14.8M343.1 908l-12.2 15.5M341.7 906.8l-7.6 9.6M340.2 905.7l-8.6 10.7M338.8 904.5l-11.8 14.6M337.3 903.3l-10.2 12.5M335.9 902.2l-9.4 11.4M334.5 901l-12.1 14.5M333 899.8l-12.1 14.4M331.6 898.6l-7.8 9.2M330.2 897.4l-10.1 11.8M328.8 896.2l-8.5 9.8M327.4 894.9l-15.9 18.2M326 893.7l-10.3 11.7M324.6 892.5l-10 11.2M323.2 891.3l-12.7 14.2M321.9 890l-14.4 15.8M320.5 888.8l-11.9 13M319.1 887.5l-11.1 12M317.8 886.2l-13.7 14.7M316.4 885l-17.4 18.5M315.1 883.7l-14.7 15.5M313.7 882.4l-9.1 9.5M312.4 881.1l-10 10.4M311 879.8l-10.5 10.7M309.7 878.5l-8.9 9M308.4 877.2l-10.3 10.3M307.1 875.9l-15.1 15M305.8 874.6l-12.4 12.2M304.5 873.3l-10.6 10.4M303.2 871.9l-9 8.7M301.9 870.6l-14.1 13.5M300.6 869.2l-13.9 13.2M299.3 867.9l-12.1 11.4M298.1 866.5l-11.6 10.8M296.8 865.2l-12.5 11.5M295.5 863.8l-13.1 12M294.3 862.4l-7 6.4M293 861.1l-13.8 12.4M291.8 859.7l-14.4 12.8M290.6 858.3l-10.6 9.3M289.4 856.9l-11 9.6M288.1 855.5l-13 11.3M286.9 854.1l-8.7 7.5M285.7 852.7l-11.6 9.9M284.5 851.3l-9.6 8.1M283.3 849.8l-10.9 9.1M282.1 848.4l-8.3 6.9M281 847l-8.5 7M279.8 845.5l-8.2 6.6M278.6 844.1l-7.1 5.7M277.5 842.6l-9.8 7.8M276.3 841.2l-9.5 7.5M275.2 839.7l-5.2 4M274 838.2l-7.8 6.1M272.9 836.8l-9 6.9M271.8 835.3l-7.3 5.5M270.6 833.8l-7.4 5.6M269.5 832.3l-5.6 4.2M268.4 830.8l-9.2 6.8M267.3 829.3l-9.3 6.8M266.2 827.8l-8.9 6.5M246.8 798.4l-8.1 4.9M246 796.7l-7.7 4.5M244.8 795.2l-8 4.7M243.7 793.7l-7.6 4.4M242.2 792.5l-5.5 3.1M240.5 791.3l-7.6 4.3M239.7 789.6l-6.5 3.6M239.2 787.7l-3.6 2M239.1 785.7l-7.3 4M231.7 770.7l-4.9 2.4M229.7 769.6l-4.4 2.1M229.1 767.8l-5.1 2.5M228.1 766.2l-3.4 1.6M226.1 765.1l-3.5 1.7M224.5 763.8l-3.8 1.8M223.4 762.2l-4.2 2" fill="none" stroke="#000" stroke-width="1.9"/><path d="M592.9 188L596.7 188.1L600.4 187.4L604.1 188.8L607.8 189.4L611.5 190.2L615.2 191.3L619 189.8L622.8 189.6L626.4 190.5L630.1 191.1L633.8 191.8L637.5 192.1L641.2 192.3L645 192.2L648.6 192.9L652.5 192.5L656.2 193.1L659.8 194.3L663.5 194.8L667.1 195.5L670.9 195.5L674.6 196.1L678.3 196.6L681.8 198.3L685.3 199.5L689.3 199.2L693.2 198.9L697 199L701 199L704.2 201.4L708.1 201.6L711.8 202.2L715.5 203L719.4 203.2L723.2 204L726.5 206L730.1 207L733.7 208.1L737.2 209.6L740.8 210.9L744.1 212.8L747.3 214.8L750.9 216L754.1 218.2L757.6 219.7L760.8 221.6L765 221.7L767.8 224.4L771.3 225.8L774.6 227.7L778 229.2L781.4 231.1L784.5 233.1L788 234.7L791 236.9L793.3 240.4L796.4 242.6L799.9 244.1L803 246.2L805.9 248.5L808.9 250.8L811.7 253.4L815.3 254.7L818.8 256.2L821.5 258.9L825 260.5L827.8 263L831.1 264.7L833.2 268.2L835.9 270.9L839.9 271.8L842.2 274.9L844.3 278.3L846.5 281.4L849 284.3L852 286.5L853.9 289.9L857.7 291.2L860.4 293.8L862.6 296.8L865.3 299.4L868.7 301.2L871 304.2L873.5 306.8L875.3 310.3L878.1 312.7L881.7 314.4L884 317.3L885.9 320.7L888.5 323.3L890.1 326.8L892.9 329.3L895.2 332.1L897.6 334.9L899.9 337.9L902.7 340.3L905.9 342.5L908.6 345.1L910.3 348.4L912.4 351.5L914.7 354.4L917.8 356.7L919.9 359.8L920.7 363.8L922.2 367.2L924.7 370L927.3 372.7L929.1 375.9L931.3 379L932.8 382.4L935 385.4L937.2 388.4L939.4 391.3L941.9 394.2L943.4 397.6L945.1 401L946.5 404.4L948.5 407.5L949.4 411.2L950.6 414.8L951.8 418.3L953 421.8L955.3 424.8L956.3 428.4L957.8 431.8L960.4 434.7L960.9 438.5L961.6 442.2L963.1 445.6L965.4 448.7L966.4 452.2L967.1 455.9L967.4 459.7L969.3 462.9L971 466.3L971.5 470L972.1 473.6L972.3 477.4L973.2 481L975.7 484.1L976.5 487.7L977.7 491.2L980 494.4L981.3 497.9L981.9 501.5L982.1 505.3L983.2 508.8L983.6 512.5L984.4 516.1L986.5 519.5L986.9 523.2L987.7 526.8L987.9 530.5L987.9 534.3L989.6 537.8L990.3 541.4L991 545.1L991.2 548.8L991.4 552.5L993.2 556.1L993.9 559.7L994.3 563.4L993.4 567.2L993.9 570.9L993.6 574.7L994.1 578.4L993.1 582.1L993.9 585.8L993.9 589.5L993.5 593.2L994.3 596.9L993.7 600.7L994 604.4L995.1 608.1L994.1 611.8L993.9 615.5L994.1 619.3L993.3 623L992.6 626.6L993 630.4L992.2 634L992.4 637.8L992.8 641.6L991.8 645.2L990.8 648.9L990.3 652.6L990.2 656.3L989.9 660L989.1 663.7L988.5 667.4L988.1 671.1L987.3 674.7L986.5 678.4L984.7 681.8L984.5 685.6L984.4 689.4L983.8 693.1L983.7 696.9L982.4 700.5L981 704L979.5 707.4L978.6 711L977.6 714.6L975.8 718L973.3 721.1L971 724.2L969.6 727.6L968.9 731.4L967.3 734.7L965.9 738.1L964 741.4L963.9 745.3L961.8 748.5L961.1 752.2L960 755.8L958.4 759.1L956.4 762.3L953.4 765L951.5 768.2L948.9 771.1L947.4 774.4L945.6 777.6L944.1 781L942.9 784.6L940.4 787.4L938.6 790.7L936.1 793.5L935.1 797.2L933.6 800.6L932.2 804L929.7 806.8L928.3 810.4L926 813.2L923.2 815.8L921.1 818.9L918.7 821.7L916.1 824.4L914.1 827.5L911.6 830.2L910.2 833.8L907.6 836.4L905.4 839.4L903.1 842.2L900.9 845.2L898 847.6L895.3 850.2L892.5 852.6L891.2 856.3L889.1 859.4L887.1 862.6L884.5 865.2L881.7 867.6L879.8 871L877.4 873.8L874.3 875.9L872.5 879.3L870.4 882.5L868.1 885.5L865.5 888.2L862.7 890.6L860 893.2L856.4 894.8L853.9 897.5L851.1 900L848.9 903.1L845.7 905.1L843.6 908.4L840.5 910.6L838.4 913.9L835.6 916.5L832.8 919L829.8 921.2L826.5 923.1L823.3 925L819.9 926.6L816.7 928.5L813.5 930.5L810.6 932.9L806.8 933.8L803.3 935.3L799.5 936.3L796.4 938.3L792.9 939.7L789.9 942L786.9 944.1L783.9 946.4L780.6 948.1L777.5 950.3L773.9 951.3L770.2 952.3L766.6 953.2L763.1 954.7L759.4 955.4L756.2 957.4L752.8 958.9L749.4 960.1L746.4 962.7L743.1 964.3L739.6 965.5L736.1 966.9L732.7 968.3L729.3 969.8L726 971.6L722.4 972.6L719 974.2L715.5 975.4L711.9 976.4L708.2 976.9L704.5 977.4L700.3 976.3L697 978.1L693.1 977.9L689.9 980.1L686.6 982.2L682.9 983L679 982.6L675.3 982.9L671.7 983.4L668.2 984.6L664.6 985.6L660.9 985.8L657.1 985.6L653.6 987.1L649.9 987.7L646.3 988.1L642.7 989.2L639 989.3L635.3 989.5L631.7 991.2L628 991.3L624.4 991.9L620.8 993.7L617.1 994.1L613.5 995.7L609.7 995.8L606 994.9L602.2 995.5L598.5 996.3L594.8 996.4L591.1 996.9L587.3 996.2L583.6 995L579.9 995.5L576.2 995.2L572.5 994.6L568.7 995L564.9 995.7L561.2 995L557.5 994.5L553.8 994.1L550.1 994.2L546.5 992.9L542.8 992L539.2 991.3L535.5 990.9L531.9 989.7L528.2 989.3L524.5 988.6L520.9 987.9L517.2 987.3L513.6 986.6L509.9 985.8L506.3 985.1L502.7 984.3L499.1 983.4L495.4 982.5L491.8 981.6L488.3 980.7L484.7 979.7L481.1 978.7L477.5 977.7L474 976.6L470.4 975.5L466.9 974.3L463.4 973.2L459.9 972L456.4 970.7L452.8 969.7L449.1 968.9L445 969.1L441.9 966.7L438.4 965.4L434.6 965L431 964L427.4 962.8L424.1 961.1L420.5 959.9L417.3 957.9L414.3 955.5L411.1 953.5L407.8 951.7L404.7 949.6L400.7 949.2L398 946.3L395.3 943.5L392 941.8L388 941.2L384.8 939.3L382.2 936.5L379.1 934.4L376.1 932.1L373.1 930L370 927.9L366.4 926.6L363.3 924.5L360.9 921.4L358 919.1L355 917L352 914.8L349 912.5L346.1 910.3L343.1 908L340.2 905.7L337.3 903.3L334.5 901L331.6 898.6L328.8 896.2L326 893.7L323.2 891.3L320.5 888.8L317.8 886.2L315.1 883.7L312.4 881.1L309.7 878.5L307.1 875.9L304.5 873.3L301.9 870.6L299.3 867.9L296.8 865.2L294.3 862.4L291.8 859.7L289.4 856.9L286.9 854.1L284.5 851.3L282.1 848.4L279.8 845.5L277.5 842.6L275.2 839.7L272.9 836.8L270.6 833.8L268.4 830.8L266.2 827.8L264.2 824.7L262.3 821.6L260.4 818.3L258.7 815L256.1 812.3L254.6 808.9L252.1 806L250.5 802.7L247.5 800.1L246 796.7L243.7 793.7L240.5 791.3L239.2 787.7L237.6 784.4L235.6 781.2L234 777.8L232.6 774.4L231.7 770.7L229.1 767.8L226.1 765.1L223.4 762.2L221.7 758.9L220.4 755.3L218.7 752L217 748.7L215.8 745.1L214.3 741.6L212.7 738.2L210.2 735.2L209 731.6L208.4 727.8L206.4 724.5L205.5 720.8L205.6 716.9L205.7 712.9L203.5 709.7L203.4 705.8L201.4 702.4L200.7 698.8L199.4 695.2L199.1 691.4L198.4 687.8L199 683.8L199 680L198.1 676.3L197.3 672.7L197.3 668.9L198 665L197.8 661.3L198.7 657.4L199 653.6L199.1 649.9L199.2 646.2L198.7 642.5L199 638.8L199 635.1L198.3 631.5L198.4 627.9L197.8 624.2L198.1 620.6L197.9 616.9L197.4 613.3L197.1 609.6L196.2 606L195 602.4L195.5 598.7L197 595L196.3 591.4L195.7 587.7L195 584L193.4 580.3L193 576.6L193 572.9L192 569.2L191.1 565.4L191.6 561.7L191.9 558L190.6 554.2L190.5 550.4L189.3 546.5L190.2 542.9L191.4 539.2L190.6 535.4L191.8 531.8L192.6 528.1L192.5 524.3L193.9 520.7L194.2 517L193.1 513L193.6 509.2L194.8 505.6L195.1 501.8L197.2 498.5L199.6 495.2L200.4 491.6L201.4 488L202.6 484.4L203.8 480.9L205.6 477.5L205.9 473.7L208.1 470.5L208.8 466.8L210.7 463.5L210.4 459.5L212.1 456.1L213.3 452.6L214.8 449.2L216.1 445.7L216.7 441.9L218.5 438.6L221.2 435.7L222.2 432.1L222.6 428.2L224.8 425.1L226.6 421.8L226.9 417.8L228.9 414.6L231.3 411.7L232.3 408L235.3 405.4L236.5 401.8L238.4 398.6L240.3 395.3L242.8 392.5L245.5 389.7L247.4 386.6L251 384.4L252.3 380.9L253.9 377.5L255.9 374.4L259.3 372.2L261.9 369.5L263.2 366L265.9 363.3L268.7 360.8L269.9 357.1L271.8 353.9L274 351L276.1 348L277.5 344.3L280 341.6L282.4 338.8L283.4 334.8L285 331.3L287.1 328.2L288.9 324.8L291.2 321.9L293.5 318.9L295.5 315.7L298.8 313.7L301.6 311.2L304.6 308.8L306.4 305.4L308.2 301.9L311.4 299.7L314.3 297.4L316.1 293.9L319.1 291.5L322.9 290.2L325.3 287.3L328.6 285.3L331.7 283.3L334.4 280.6L336.7 277.5L339.9 275.5L343.6 274.2L346.3 271.6L349.8 270L353.1 268.2L356.4 266.4L359.1 263.9L361.9 261.4L364.4 258.4L367.4 256.2L370.2 253.6L373 251.1L376.1 249L379.4 247.2L382.6 245.2L386.7 244.8L389.6 242.3L393.2 241L396 238.5L399.2 236.6L402.3 234.4L405.9 233.1L409.6 232.3L412.9 230.6L416 228.3L419.3 226.5L422.5 224.6L425.9 223.2L429.2 221.3L432.8 220.2L436.5 219.4L440.1 218.2L443.7 217.3L447.4 216.5L451.2 216L454.7 214.6L458.1 213.1L461.3 211.2L464.9 210.3L468.5 209.1L471.8 207.3L475.4 206.4L479 205.3L482.7 204.9L486.3 204L489.9 202.9L493.7 202.7L497.6 203.1L501.4 202.9L504.8 201.5L508.5 200.8L512.1 199.9L515.7 199.2L519.3 198.2L522.8 196.9L526.4 196L529.9 194.2L533.6 193.7L537.4 194.1L541.1 193.9L544.7 192.8L548.4 192.1L552.1 192.2L555.8 191.9L559.5 191.4L563.2 191.2L566.9 189.9L570.6 190.5L574.3 188.5L578 188L581.7 186.8L585.4 187L589.2 187.8Z" fill="none" stroke="#000" stroke-width="0.9"/><path d="M592.8 241l0 -4.6M594.4 241l0 -1.8M596.1 241l0.1 -4.7M597.7 241l0.1 -4.4M599.3 241.1l0.1 -3.4M600.9 241.1l0 -1.9M610.7 241.5l0.1 -2.7M612.3 241.6l0.3 -4.8M618.8 242l0.3 -4.4M636.5 243.8l0.6 -4.9M638.1 244l0.5 -3.6M639.7 244.3l0.4 -2.7M641.3 244.5l0.7 -4.8M642.9 244.7l0.5 -3.4M644.5 245l1 -6.7M646.2 245.2l0.5 -3.5M651 246l0.9 -5.3M652.6 246.3l1.1 -6.4M654.2 246.5l1.6 -8.8M655.8 246.8l0.8 -4.4M657.3 247.1l0.9 -4.8M658.9 247.4l0.5 -2.7M660.5 247.8l0.5 -2.7M662.1 248.1l0.8 -4.2M663.7 248.4l1 -4.9M665.3 248.7l0.9 -4.1M674.8 250.9l1.1 -4.5M676.4 251.3l0.1 -0.6M677.9 251.7l0.8 -3M679.5 252.1l1.2 -4.9M682.7 252.9l0.6 -2.2M684.2 253.3l2.1 -7.8M687.4 254.2l1 -3.5M699.8 257.9l2.1 -6.5M707.5 260.5l0.2 -0.6M709 261.1l2.4 -6.7M710.5 261.6l4.1 -11.5M712.1 262.2l2.4 -6.6M713.6 262.7l0.7 -2M715.1 263.3l0.2 -0.6M716.6 263.9l0.6 -1.5M718.1 264.4l1.3 -3.4M719.7 265l2.8 -7.2M731.7 270l0.2 -0.6M734.6 271.3l3.6 -8.2M736.1 271.9l0.7 -1.6M737.6 272.6l1 -2.2M739.1 273.3l2.3 -4.9M740.5 274l2 -4.3M742 274.6l2.7 -5.8M743.5 275.3l1.7 -3.6M744.9 276l0.9 -1.8M746.4 276.8l2 -4.1M747.9 277.5l0.3 -0.5M749.3 278.2l1.8 -3.6M750.8 278.9l2 -3.9M752.2 279.7l2.4 -4.7M753.7 280.4l1.6 -3.2M755.1 281.2l2.7 -5.1M756.5 281.9l0.9 -1.7M758 282.7l0.3 -0.5M765.1 286.6l7 -12.3M766.5 287.4l7.6 -13.2M769.3 289l2.2 -3.7M770.7 289.8l2.4 -4M773.5 291.5l1.7 -2.8M785.8 299.3l7.7 -11.7M789.9 302l3.9 -5.7M796.5 306.7l3.4 -4.7M797.8 307.6l2.5 -3.5M799.1 308.6l4 -5.5M800.5 309.5l4.1 -5.6M801.8 310.5l2.5 -3.4M803.1 311.5l0.4 -0.5M804.4 312.4l3.4 -4.5M814.5 320.5l2.6 -3.2M815.8 321.5l7.5 -9M817.1 322.6l0.4 -0.5M818.3 323.6l3.1 -3.7M819.5 324.6l2 -2.3M843.3 346.8l1.7 -1.7M844.4 347.9l1.8 -1.8M845.5 349.1l4.3 -4.1M846.6 350.3l2.9 -2.7M847.8 351.5l5.7 -5.4M848.9 352.6l4.4 -4.1M850 353.8l3.2 -3M858.6 363.5l3.2 -2.8M859.7 364.8l1.8 -1.6M860.7 366l3 -2.5M861.7 367.2l4 -3.3M862.8 368.5l3.6 -3M863.8 369.8l5.2 -4.2M864.8 371l4.5 -3.6M865.9 372.3l3.7 -3M866.9 373.5l0.5 -0.4M867.9 374.8l0.5 -0.4M868.9 376.1l0.5 -0.4M869.9 377.4l3.2 -2.4M870.9 378.7l2.2 -1.7M872.8 381.2l2.4 -1.8M877.6 387.8l2.6 -1.8M890.3 406.7l3.4 -2.1M891.1 408.1l6.6 -4.1M892 409.4l5.9 -3.6M892.8 410.8l6.7 -4.1M903.9 430.6l3.5 -1.8M905.4 433.5l3.4 -1.7M906.8 436.4l7.6 -3.8M909 440.8l3 -1.4M909.7 442.3l0.5 -0.3M910.3 443.8l5.6 -2.6M917.5 460.1l7.9 -3.2M918.7 463.1l3.4 -1.4M925.3 481.4l5.1 -1.7M925.9 483l14 -4.6M926.4 484.5l2.8 -0.9M934.5 514.2l4.2 -1M937.8 530.1l6.7 -1.2M938 531.7l8.9 -1.6M940.7 549.4l4.8 -0.6M940.9 551l5 -0.6M941.2 554.2l3.7 -0.4M941.4 555.8l3.1 -0.3M941.6 557.5l4.1 -0.4M941.7 559.1l11 -1M941.9 560.7l6.7 -0.6M942.2 563.9l4.8 -0.4M942.3 565.5l4.3 -0.3M942.4 567.2l5.8 -0.4M942.5 568.8l6.5 -0.4M942.6 570.4l3.7 -0.2M942.7 572l0.6 0M942.8 573.6l5.5 -0.3M942.9 575.3l12.5 -0.6M943 576.9l10.8 -0.5M943 578.5l6.9 -0.3M943.1 580.1l6.5 -0.2M943.1 581.8l2.9 -0.1M943.2 583.4l4.3 -0.1M943.3 586.6l1.8 0M943.3 591.5l3.5 0M943.3 593.1l1.8 0M943.3 598l11.4 0.2M943.2 599.6l4 0.1M943.1 604.5l7.6 0.3M943 606.1l3.7 0.1M943 607.7l5 0.2M942.9 609.3l0.6 0M942.8 611l9.8 0.5M942.6 614.2l8.2 0.5M942.5 615.8l11.6 0.8M942.4 617.4l10.3 0.7M942 622.3l5.5 0.5M941.7 625.5l0.6 0.1M941.6 627.1l11 1.1M941.4 628.8l8.6 0.9M941.2 630.4l15 1.6M941.1 632l8.2 0.9M940.7 635.2l0.6 0.1M940.5 636.8l5.5 0.7M940.3 638.4l7.6 1M940 640l9 1.2M939.1 646.5l9.7 1.5M938.6 649.7l4.3 0.7M938.3 651.3l3.1 0.5M937.8 654.5l5 0.9M937.5 656.1l7 1.3M937.2 657.6l7.7 1.5M936.9 659.2l3.9 0.8M936.5 660.8l5.4 1.1M936.2 662.4l6.7 1.4M935.9 664l8.3 1.7M935.6 665.6l9.6 2.1M935.2 667.2l9.8 2.1M934.9 668.8l11 2.5M934.5 670.4l3.9 0.9M934.2 671.9l11.5 2.7M933.8 673.5l5.5 1.3M933 676.7l0.6 0.1M932.6 678.2l4.9 1.2M932.2 679.8l5.6 1.5M930.1 687.7l3.6 1M929.2 690.8l2.3 0.7M928.8 692.3l4.7 1.4M926.4 700.1l0.6 0.2M924.8 704.7l3.9 1.3M924.3 706.2l4 1.4M923.8 707.8l3.6 1.2M923.2 709.3l4.9 1.7M922.1 712.4l4 1.4M921.6 713.9l11.3 4.2M921 715.4l11.7 4.4M920.4 716.9l0.6 0.2M919.9 718.4l8.1 3.1M919.3 720l0.6 0.2M918.7 721.5l0.6 0.2M918.1 723l10 4M917.5 724.5l5.7 2.3M913 734.9l0.5 0.2M912.4 736.4l5.5 2.5M911.7 737.9l1.7 0.8M911 739.4l3.1 1.4M909.7 742.3l2.2 1M909 743.8l3.9 1.9M908.3 745.2l2.8 1.3M907.5 746.7l3.9 1.9M906.8 748.2l0.5 0.3M906.1 749.6l3.3 1.6M902.4 756.8l6.8 3.6M901.6 758.3l7.1 3.8M900.9 759.7l4.5 2.4M897.7 765.4l3.1 1.8M896.9 766.8l0.5 0.3M896.1 768.2l2 1.2M895.3 769.6l2.9 1.7M891.1 776.5l8 4.9M890.3 777.9l8.4 5.3M889.4 779.3l7.6 4.8M888.5 780.7l0.5 0.3M872.8 803.4l8.9 6.7M871.9 804.7l2.9 2.2M870.9 805.9l0.5 0.4M869.9 807.2l3.9 3M867.9 809.8l5.5 4.4M866.9 811.1l4.5 3.5M865.9 812.3l0.5 0.4M864.8 813.6l6.5 5.3M863.8 814.8l5.8 4.7M862.8 816.1l2.6 2.1M861.7 817.4l0.5 0.4M860.7 818.6l5.2 4.4M859.7 819.8l4 3.4M858.6 821.1l0.5 0.4M857.5 822.3l2.4 2.1M856.5 823.5l3.5 3M855.4 824.7l6.5 5.7M854.3 826l0.4 0.4M853.2 827.2l10.3 9.2M852.2 828.4l3.3 2.9M851.1 829.6l3.3 3.1M850 830.8l1.9 1.7M848.9 832l2 1.8M847.8 833.1l1.8 1.7M846.6 834.3l2.4 2.2M843.3 837.8l4.6 4.5M836.4 844.7l0.4 0.4M834 846.9l3.5 3.7M832.8 848.1l2.8 3M831.7 849.2l2.8 3M830.5 850.3l1.6 1.7M829.3 851.4l0.4 0.4M823.2 856.8l2.1 2.4M822 857.8l3.6 4.2M819.5 860l1.8 2.1M818.3 861l2.9 3.5M817.1 862l1.4 1.7M815.8 863.1l2 2.4M814.5 864.1l5 6.1M804.4 872.2l2.9 3.8M801.8 874.1l1.4 1.9M779 889.7l10.3 16.3M777.6 890.6l4.8 7.8M776.2 891.4l6.9 11.1M774.9 892.3l6.6 10.9M773.5 893.1l5 8.2M772.1 893.9l5.9 9.9M770.7 894.8l8.2 13.9M769.3 895.6l5 8.6M767.9 896.4l4.4 7.7M766.5 897.2l2.5 4.3M765.1 898l4 7.1M763.7 898.8l5.1 9.1M762.2 899.6l3.4 6.1M760.8 900.4l0.3 0.5M759.4 901.2l3.7 6.8M758 901.9l4.3 7.9M756.5 902.7l2.7 5.1M753.7 904.2l1.8 3.5M750.8 905.7l6.8 13.5M749.3 906.4l5.4 10.7M747.9 907.1l9.7 19.6M746.4 907.8l5.2 10.7M744.9 908.6l5.4 11.1M743.5 909.3l4.2 8.8M713.6 921.9l0.2 0.6M712.1 922.4l1.2 3.4M710.5 923l1 2.8M709 923.5l0.2 0.6M707.5 924.1l3.8 10.9M705.9 924.6l1.3 3.7M704.4 925.1l3.6 10.5M702.9 925.6l1.5 4.6M701.3 926.2l0.7 2.1M699.8 926.7l1.9 5.7M698.2 927.2l0.9 3M696.7 927.6l1.5 4.9M695.1 928.1l1.7 5.4M693.6 928.6l1.2 3.8M692 929.1l1.5 5.1M690.5 929.5l1.8 6.2M673.2 934.1l0.9 3.6M671.6 934.5l1.3 5.7M670.1 934.8l1 4.3M668.5 935.2l0.7 3.3M666.9 935.5l0.1 0.6M663.7 936.2l0.1 0.6M660.5 936.8l0.6 2.8M657.3 937.5l2 10.8M652.6 938.3l0.7 3.9M651 938.6l0.7 4.4M649.4 938.9l1.1 6.6M647.8 939.1l1 6.5M633.3 941.2l0.6 4.7M631.7 941.4l0.3 2.3M617.1 942.7l0.2 2.7M612.3 943l0.1 2.3M610.7 943.1l0.1 1.6M609 943.2l0.2 3.6M607.4 943.3l0.2 3.9M605.8 943.3l0.3 8.4M602.5 943.4l0.1 2.1M599.3 943.5l0.1 2.5M594.4 943.6l0 1.8M592.8 943.6l0 4.1M578.2 943.3l-0.3 6.9M576.6 943.3l-0.2 4.3M575 943.2l-0.2 4.6M573.3 943.1l-0.4 7M571.7 943l0 0.6M570.1 942.9l-0.3 5.5M568.5 942.8l-0.8 12.5M566.9 942.7l-0.8 11.2M565.2 942.6l-0.8 10.2M562 942.3l-0.1 0.6M557.2 941.9l-0.1 0.6M555.5 941.7l-0.9 8.6M539.5 939.6l-0.7 4.9M537.8 939.4l-0.7 4.6M536.2 939.1l-2.4 14.7M534.6 938.9l-0.7 4.3M533 938.6l-1 5.8M520.3 936.2l-0.5 2.4M515.5 935.2l-1.3 6M513.9 934.8l-1.8 8M512.4 934.5l-2.8 12.1M510.8 934.1l-1.4 6M509.2 933.7l-1.6 6.7M507.6 933.3l-1.3 5.3M506.1 932.9l-1.2 4.7M498.2 930.8l-2.6 9.5M496.6 930.4l-0.6 2M495.1 930l-1.3 4.5M492 929.1l-1.1 3.6M490.4 928.6l-0.9 3.1M488.9 928.1l-2.4 7.8M487.3 927.6l-2.8 8.9M485.8 927.2l-1.5 4.8M484.2 926.7l-0.2 0.6M482.7 926.2l-1.3 4M478.1 924.6l-1.9 5.5M473.5 923l-1.2 3.3M471.9 922.4l-0.5 1.4M465.9 920.2l-1.8 4.6M464.3 919.6l-1.2 3M462.8 919l-1.8 4.6M461.3 918.4l-0.2 0.6M459.8 917.8l-1 2.6M444.9 911.3l-0.3 0.5M439.1 908.6l-2.1 4.3M436.1 907.1l-6.4 12.9M427.5 902.7l-0.3 0.5M426 901.9l-3.5 6.4M424.6 901.2l-0.3 0.5M423.2 900.4l-3.8 6.9M421.8 899.6l-4 7.1M420.3 898.8l-3.6 6.4M418.9 898l-1.7 3M417.5 897.2l-2.7 4.7M416.1 896.4l-2.1 3.6M414.7 895.6l-2.6 4.4M413.3 894.8l-0.3 0.5M411.9 893.9l-5.3 8.9M410.5 893.1l-0.3 0.5M409.1 892.3l-1.3 2.1M407.8 891.4l-5.2 8.4M406.4 890.6l-4.7 7.6M405 889.7l-3.6 5.7M403.6 888.8l-4.1 6.5M402.3 888l-3.1 4.9M400.9 887.1l-3.1 4.8M399.5 886.2l-9.1 13.9M398.2 885.3l-3.7 5.7M396.8 884.4l-3.3 5M395.5 883.5l-2 2.9M394.1 882.6l-1.8 2.7M392.8 881.7l-1.1 1.6M391.5 880.7l-0.9 1.3M390.1 879.8l-2.5 3.6M387.5 877.9l-3 4.2M386.2 877l-9.1 12.6M384.9 876l-3.2 4.4M383.5 875.1l-0.4 0.5M382.2 874.1l-0.4 0.5M380.9 873.1l-4.4 5.8M378.4 871.2l-3.4 4.4M375.8 869.2l-8.3 10.6M372 866.2l-3.6 4.4M370.7 865.1l-2.8 3.5M369.5 864.1l-3 3.6M368.2 863.1l-2.8 3.4M366.9 862l-4.1 4.9M365.7 861l-4.9 5.8M364.5 860l-12.2 14.4M359.6 855.7l-3.9 4.4M358.3 854.6l-3.6 4.1M357.1 853.5l-0.4 0.4M355.9 852.5l-11 12.1M353.5 850.3l-3.4 3.7M350 846.9l-3.4 3.5M347.6 844.7l-2.5 2.6M346.5 843.6l-2.1 2.2M345.3 842.4l-3 3.1M344.2 841.3l-3.7 3.7M343 840.1l-5 5M341.9 839l-3.8 3.8M339.6 836.7l-7.2 7M338.5 835.5l-2.9 2.8M337.4 834.3l-4.7 4.5M336.2 833.1l-3.4 3.2M335.1 832l-2.3 2.1M334 830.8l-4.7 4.4M332.9 829.6l-2.7 2.4M325.4 821.1l-2.3 2M324.3 819.8l-1.9 1.6M322.3 817.4l-3.1 2.6M321.2 816.1l-9.1 7.5M320.2 814.8l-1.8 1.5M319.2 813.6l-2.9 2.4M318.1 812.3l-2.8 2.2M317.1 811.1l-3.9 3.1M316.1 809.8l-4.2 3.3M315.1 808.5l-2.8 2.2M313.1 805.9l-5.4 4.1M310.2 802.1l-6.5 4.8M309.2 800.8l-3.8 2.8M308.3 799.4l-4 3M307.3 798.1l-4.6 3.4M306.4 796.8l-7.5 5.4M305.4 795.5l-7 4.9M304.5 794.2l-3.6 2.5M294.6 779.3l-7.2 4.5M293.7 777.9l-5.7 3.6M292.9 776.5l-6.2 3.8M290.4 772.4l-4.4 2.6M289.5 771l-4.3 2.5M288.7 769.6l-2.7 1.6M287.9 768.2l-3.6 2.1M287.1 766.8l-4.4 2.5M286.3 765.4l-3.9 2.2M285.5 764l-6.8 3.8M284.7 762.5l-4.6 2.6M283.9 761.1l-4.5 2.5M283.1 759.7l-4.3 2.3M282.4 758.3l-2.6 1.4M276.5 746.7l-14.7 7.2M275 743.8l-3.8 1.8M270.3 733.5l-4.5 2M269.7 732l-0.6 0.2M269 730.5l-3.1 1.3M268.4 729l-5.2 2.2M267.8 727.5l-0.6 0.2M267.1 726l-4.9 2M266.5 724.5l-4.2 1.7M265.9 723l-0.6 0.2M265.3 721.5l-4.2 1.7M261.9 712.4l-4.1 1.5M261.3 710.8l-3.7 1.3M260.8 709.3l-8.4 3M259.2 704.7l-10.6 3.6M256.2 695.4l-0.6 0.2M255.7 693.9l-9.3 2.8M255.2 692.3l-0.6 0.2M254.8 690.8l-3.7 1.1M254.3 689.2l-4.2 1.2M253.9 687.7l-2.8 0.8M253.5 686.1l-2 0.6M252.2 681.4l-2.5 0.7M249.8 671.9l-2.7 0.6M249.1 668.8l-5.2 1.2M248.1 664l-2.5 0.5M247.8 662.4l-3.8 0.8M247.5 660.8l-3.9 0.8M247.1 659.2l-16.1 3.1M246.5 656.1l-0.6 0.1M246 652.9l-4.2 0.7M245.7 651.3l-0.6 0.1M245.2 648.1l-6.5 1M244.2 641.6l-13.8 2M242.4 627.1l-6.3 0.6M242.3 625.5l-9.7 0.9M242.1 623.9l-9.2 0.8M242 622.3l-4.3 0.4M241.8 620.7l-0.6 0M241.7 619.1l-0.6 0M241.6 617.4l-6.3 0.5M241.5 615.8l-7.9 0.5M241.4 614.2l-5.8 0.4M241.3 612.6l-7 0.4M241.2 611l-5.6 0.3M241.1 609.3l-8.1 0.4M241 607.7l-0.6 0M241 606.1l-16 0.6M240.9 604.5l-0.6 0M240.9 602.8l-6.6 0.2M240.8 601.2l-9.9 0.3M240.8 599.6l-6.4 0.1M240.7 598l-5.1 0.1M240.7 596.4l-4.1 0M240.7 593.1l-3.4 0M240.7 591.5l-3.3 0M240.7 589.9l-2.3 0M240.7 588.2l-5.7 -0.1M240.7 586.6l-6.4 -0.1M240.8 585l-2 0M240.9 581.8l-4.1 -0.1M240.9 580.1l-4.6 -0.2M241 578.5l-4.8 -0.2M241 576.9l-4 -0.2M241.1 575.3l-2 -0.1M241.2 573.6l-4.2 -0.2M241.3 572l-0.6 0M241.4 570.4l-5.3 -0.3M241.5 568.8l-5.8 -0.4M241.8 563.9l-0.6 0M242 562.3l-11.2 -1M242.1 560.7l-9.3 -0.8M242.3 559.1l-11.5 -1.1M242.4 557.5l-14.6 -1.5M242.6 555.8l-5.1 -0.5M242.8 554.2l-6.7 -0.7M242.9 552.6l-4.4 -0.5M243.7 546.2l-9.5 -1.3M244 544.6l-2 -0.3M244.2 543l-8 -1.1M244.4 541.4l-4.9 -0.7M245.2 536.5l-7.4 -1.2M245.4 534.9l-3.6 -0.6M245.7 533.3l-0.6 -0.1M246 531.7l-2.6 -0.5M246.5 528.5l-5.5 -1M246.8 527l-5.6 -1.1M247.1 525.4l-1.8 -0.4M247.5 523.8l-4.7 -0.9M247.8 522.2l-0.6 -0.1M248.8 517.4l-4.1 -0.9M249.8 512.7l-3.4 -0.8M250.2 511.1l-3.4 -0.8M253 500.1l-4.5 -1.2M253.5 498.5l-0.6 -0.2M255.7 490.7l-0.6 -0.2M256.2 489.2l-6.6 -2M256.7 487.6l-8.3 -2.6M257.1 486.1l-10.6 -3.4M259.2 479.9l-0.6 -0.2M260.2 476.8l-10.9 -3.8M261.3 473.8l-4.3 -1.5M267.1 458.6l-4.1 -1.7M267.8 457.1l-4.2 -1.8M273 445.2l-15.1 -6.9M273.7 443.8l-7.3 -3.4M274.3 442.3l-7.4 -3.5M275 440.8l-3.4 -1.6M275.7 439.4l-3.1 -1.5M277.2 436.4l-11.8 -5.8M278.6 433.5l-4.1 -2.1M281.6 427.8l-4 -2.1M282.4 426.3l-1.7 -0.9M283.1 424.9l-4.8 -2.6M283.9 423.5l-6.6 -3.6M284.7 422.1l-12.9 -7.1M285.5 420.6l-2.9 -1.6M286.3 419.2l-4.2 -2.4M287.1 417.8l-6.8 -3.9M287.9 416.4l-6.8 -3.9M288.7 415l-0.5 -0.3M294.6 405.3l-3.3 -2M300.8 395.8l-4.7 -3.1M301.7 394.4l-2.5 -1.7M303.6 391.8l-3.9 -2.7M310.2 382.5l-4.4 -3.3M311.2 381.2l-3.1 -2.4M312.1 379.9l-2.9 -2.2M313.1 378.7l-13.2 -10.1M314.1 377.4l-3.6 -2.8M315.1 376.1l-2.8 -2.2M316.1 374.8l-3.1 -2.5M317.1 373.5l-4 -3.2M319.2 371l-4.1 -3.3M321.2 368.5l-0.5 -0.4M327.5 361.1l-2.6 -2.3M329.7 358.6l-3.3 -3M330.8 357.4l-0.4 -0.4M331.8 356.2l-2.8 -2.5M332.9 355l-5 -4.6M334 353.8l-2.1 -1.9M335.1 352.6l-2.4 -2.3M336.2 351.5l-2.8 -2.6M337.4 350.3l-2.1 -2M338.5 349.1l-0.4 -0.4M339.6 347.9l-0.4 -0.4M340.7 346.8l-8.9 -8.7M343 344.5l-1 -1M344.2 343.3l-3.6 -3.6M345.3 342.2l-0.4 -0.4M346.5 341l-2.8 -2.9M347.6 339.9l-5.6 -5.8M352.3 335.4l-12.9 -13.8M362 326.8l-4.1 -4.7M368.2 321.5l-2.8 -3.4M369.5 320.5l-0.4 -0.5M370.7 319.5l-3.3 -4.1M372 318.4l-2.6 -3.3M374.5 316.4l-2.5 -3.2M375.8 315.4l-0.4 -0.5M378.4 313.4l-2 -2.7M387.5 306.7l-2.4 -3.4M388.8 305.7l-1.9 -2.7M390.1 304.8l-2 -2.8M391.5 303.9l-1.4 -1.9M395.5 301.1l-2.5 -3.7M396.8 300.2l-3.3 -4.9M398.2 299.3l-0.3 -0.5M399.5 298.4l-2.9 -4.4M400.9 297.5l-0.3 -0.5M402.3 296.6l-3.2 -5M403.6 295.8l-2.8 -4.3M405 294.9l-3.7 -5.9M406.4 294l-7.6 -12.1M409.1 292.3l-2.1 -3.4M410.5 291.5l-1.2 -2.1M411.9 290.7l-1 -1.7M413.3 289.8l-0.3 -0.5M414.7 289l-2.3 -3.9M417.5 287.4l-3.5 -6.2M427.5 281.9l-1.2 -2.2M428.9 281.2l-3 -5.7M442 274.6l-0.3 -0.5M443.5 274l-1 -2.2M446.4 272.6l-7.3 -16.1M447.9 271.9l-2.2 -4.8M449.4 271.3l-2.5 -5.7M450.8 270.6l-1.5 -3.4M452.3 270l-2.6 -6.1M453.8 269.3l-2.4 -5.7M455.3 268.7l-1.7 -4M456.8 268.1l-1.8 -4.3M458.3 267.4l-1.8 -4.3M459.8 266.8l-1.6 -4M461.3 266.2l-2.2 -5.5M462.8 265.6l-2.4 -6.1M464.3 265l-6 -15.4M467.4 263.9l-2.1 -5.4M470.4 262.7l-2.4 -6.6M485.8 257.4l-1.7 -5.4M488.9 256.5l-1.2 -3.8M490.4 256l-0.2 -0.6M492 255.5l-0.2 -0.6M495.1 254.6l-0.5 -1.9M502.9 252.5l-1.1 -4.3M504.5 252.1l-2.3 -8.8M506.1 251.7l-1.5 -5.8M507.6 251.3l-2.9 -11.9M509.2 250.9l-2.1 -8.7M512.4 250.1l-0.1 -0.6M513.9 249.8l-1.7 -7.3M520.3 248.4l-0.1 -0.6M521.9 248.1l-1 -4.8M523.5 247.8l-0.1 -0.6M525.1 247.4l-0.5 -2.5M526.7 247.1l-0.4 -2.3M528.2 246.8l-0.8 -4.4M529.8 246.5l-0.8 -4.3M531.4 246.3l-0.6 -3.6M545.9 244l-0.8 -5.8M547.5 243.8l-0.1 -0.6M549.1 243.6l-1.8 -15M550.7 243.4l-0.1 -0.6M552.3 243.2l-0.5 -4.4M553.9 243.1l-0.8 -7.1M555.5 242.9l-0.1 -0.6M557.2 242.7l-0.5 -5.4M560.4 242.4l-0.3 -2.9M565.2 242l-0.3 -4M566.9 241.9l-0.4 -5.4M568.5 241.8l-1 -14.3M570.1 241.7l-0.2 -3.8M573.3 241.5l-0.2 -4.6M587.9 241l0 -0.6" fill="none" stroke="#b3009b" stroke-width="1.6"/><path d="M602.5 241.2l-0.1 3.7M604.2 241.2l-0.1 3.7M605.8 241.3l-0.2 5.5M607.4 241.3l-0.2 4.1M609 241.4l-0.6 13M613.9 241.7l-0.2 3.9M615.5 241.8l-1 15M617.1 241.9l-0.4 5.1M620.4 242.1l-0.4 5.4M622 242.3l-0.5 5.5M623.6 242.4l-0.5 5.7M625.2 242.6l-0.7 7.9M626.8 242.7l-0.7 7.4M628.5 242.9l-0.5 4.6M630.1 243.1l-0.8 7.2M631.7 243.2l-0.4 3.1M633.3 243.4l-0.9 7.7M634.9 243.6l-1.5 12.5M647.8 245.5l-0.3 1.6M649.4 245.7l-0.3 1.6M666.9 249.1l-0.8 3.6M668.5 249.4l-1 4.7M670.1 249.8l-0.1 0.6M671.6 250.1l-0.9 3.8M673.2 250.5l-3.2 13.6M681.1 252.5l-0.4 1.7M685.8 253.8l-1 3.6M688.9 254.6l-0.7 2.4M690.5 255.1l-1.2 4M692 255.5l-0.9 3.1M693.6 256l-1 3.3M695.1 256.5l-0.2 0.6M696.7 257l-1.9 6M698.2 257.4l-1.2 3.9M701.3 258.4l-1.7 5.1M702.9 259l-1 3M704.4 259.5l-3.8 11.1M705.9 260l-2.4 7M721.2 265.6l-1.7 4.2M722.7 266.2l-1.1 2.8M724.2 266.8l-2 4.8M725.7 267.4l-2 4.9M727.2 268.1l-0.6 1.4M728.7 268.7l-1.7 4.1M730.2 269.3l-1.5 3.5M733.2 270.6l-1.6 3.7M759.4 283.4l-2.4 4.4M760.8 284.2l-2.4 4.3M762.2 285l-2.3 4.1M763.7 285.8l-2 3.5M767.9 288.2l-3.7 6.4M772.1 290.7l-2 3.4M774.9 292.3l-2.1 3.4M776.2 293.2l-2 3.3M777.6 294l-1.8 2.9M779 294.9l-2.7 4.4M780.4 295.8l-3.1 4.9M781.7 296.6l-5.6 8.8M783.1 297.5l-3.4 5.2M784.5 298.4l-1.7 2.5M787.2 300.2l-3.3 4.9M788.5 301.1l-5.4 8M791.2 302.9l-3.3 4.8M792.5 303.9l-3.3 4.8M793.9 304.8l-4.4 6.3M795.2 305.7l-1.6 2.3M805.6 313.4l-3 4M806.9 314.4l-2.7 3.5M808.2 315.4l-2.3 2.9M809.5 316.4l-0.4 0.5M810.8 317.4l-3.2 4.1M812 318.4l-2 2.5M813.3 319.5l-0.4 0.5M820.8 325.7l-3.4 4M822 326.8l-2.8 3.3M823.2 327.8l-4.3 4.9M824.4 328.9l-2.7 3.1M825.7 330l-9.7 10.8M826.9 331.1l-1.2 1.4M828.1 332.1l-1.5 1.7M829.3 333.2l-2.4 2.6M830.5 334.3l-2.2 2.4M831.7 335.4l-2.7 2.9M832.8 336.5l-5.3 5.6M834 337.7l-0.4 0.4M835.2 338.8l-2.4 2.5M836.4 339.9l-4 4.1M837.5 341l-8.9 9.1M838.7 342.2l-5.6 5.6M839.8 343.3l-3.2 3.2M841 344.5l-2.8 2.8M842.1 345.6l-3.9 3.8M851.1 355l-4.2 3.8M852.2 356.2l-4.8 4.4M853.2 357.4l-0.4 0.4M854.3 358.6l-4.8 4.3M855.4 359.9l-6.5 5.7M856.5 361.1l-5.2 4.6M857.5 362.3l-4.3 3.7M871.9 379.9l-0.5 0.4M873.8 382.5l-0.5 0.4M874.8 383.8l-2.3 1.7M875.7 385.2l-2.2 1.6M876.7 386.5l-4.7 3.4M878.6 389.1l-3.2 2.3M879.5 390.4l-2.1 1.4M880.4 391.8l-6.8 4.7M881.4 393.1l-2.8 1.9M882.3 394.4l-0.5 0.3M883.2 395.8l-5.2 3.5M884.1 397.1l-7.6 5.1M885 398.5l-14 9.3M885.9 399.8l-5.9 3.9M886.8 401.2l-3.7 2.4M887.7 402.6l-4.5 2.9M888.5 403.9l-5.3 3.3M889.4 405.3l-5.2 3.3M893.6 412.2l-4.7 2.8M894.5 413.6l-3.3 2M895.3 415l-4.4 2.6M896.1 416.4l-5.6 3.2M896.9 417.8l-3.5 2M897.7 419.2l-9 5.1M898.5 420.6l-10.4 5.8M899.3 422.1l-5.8 3.2M900.1 423.5l-7.8 4.3M900.9 424.9l-0.5 0.3M901.6 426.3l-4.5 2.4M902.4 427.8l-6.8 3.6M903.1 429.2l-1.8 0.9M904.6 432.1l-3.7 1.9M906.1 435l-4.9 2.5M907.5 437.9l-11.3 5.5M908.3 439.4l-0.5 0.3M911 445.2l-4.6 2.1M911.7 446.7l-4.9 2.2M912.4 448.2l-3.9 1.8M913 449.7l-3.9 1.7M913.7 451.1l-7.1 3.1M914.3 452.6l-0.6 0.2M915 454.1l-6 2.6M915.6 455.6l-2.3 1M916.2 457.1l-2.4 1M916.9 458.6l-3.6 1.5M918.1 461.6l-0.6 0.2M919.3 464.6l-3.2 1.3M919.9 466.2l-7 2.7M920.4 467.7l-3.2 1.2M921 469.2l-2.5 0.9M921.6 470.7l-2.7 1M922.1 472.2l-2.8 1M922.7 473.8l-4.4 1.6M923.2 475.3l-5 1.7M923.8 476.8l-0.6 0.2M924.3 478.4l-3.7 1.3M924.8 479.9l-8.6 2.9M926.9 486.1l-5.7 1.8M927.3 487.6l-5.2 1.6M927.8 489.2l-5.2 1.6M928.3 490.7l-4.6 1.4M928.8 492.3l-6.3 1.9M929.2 493.8l-4 1.2M929.7 495.4l-2.2 0.6M930.1 496.9l-2.7 0.8M930.5 498.5l-5.5 1.5M931 500.1l-7.4 2M931.4 501.6l-4.5 1.2M931.8 503.2l-0.6 0.2M932.2 504.8l-3.3 0.9M932.6 506.4l-3.2 0.8M933 507.9l-10.3 2.6M933.4 509.5l-4.3 1M933.8 511.1l-3.4 0.8M934.2 512.7l-5.3 1.2M934.9 515.8l-0.6 0.1M935.2 517.4l-4.5 1M935.6 519l-5.8 1.2M935.9 520.6l-4.5 0.9M936.2 522.2l-0.6 0.1M936.5 523.8l-5.3 1.1M936.9 525.4l-3.6 0.7M937.2 527l-3.7 0.7M937.5 528.5l-5.3 1M938.3 533.3l-7 1.2M938.6 534.9l-9.2 1.5M938.8 536.5l-4.4 0.7M939.1 538.1l-4.1 0.6M939.3 539.8l-4.6 0.7M939.6 541.4l-3.1 0.4M939.8 543l-5.3 0.7M940 544.6l-2.5 0.3M940.3 546.2l-5 0.7M940.5 547.8l-1.5 0.2M941.1 552.6l-0.6 0.1M942 562.3l-6.8 0.6M943.2 585l-4.1 0.1M943.3 588.2l-0.6 0M943.3 589.9l-5.3 0M943.3 594.7l-5.3 0M943.3 596.4l-4.5 -0.1M943.2 601.2l-0.6 0M943.1 602.8l-7.4 -0.2M942.7 612.6l-12.7 -0.7M942.3 619.1l-20.6 -1.6M942.2 620.7l-11.6 -0.9M941.9 623.9l-6.8 -0.6M940.9 633.6l-4.4 -0.5M939.8 641.6l-4.5 -0.6M939.6 643.2l-0.6 -0.1M939.3 644.8l-9.5 -1.4M938.8 648.1l-8.2 -1.3M938 652.9l-3.3 -0.6M933.4 675.1l-9 -2.2M931.8 681.4l-5.9 -1.6M931.4 683l-2.8 -0.8M931 684.5l-1.5 -0.4M930.5 686.1l-4.4 -1.2M929.7 689.2l-3.2 -0.9M928.3 693.9l-1.9 -0.6M927.8 695.4l-3.1 -1M927.3 697l-3.5 -1.1M926.9 698.5l-5.4 -1.7M925.9 701.6l-4.5 -1.5M925.3 703.2l-3.8 -1.3M922.7 710.8l-9.1 -3.3M916.9 726l-6.8 -2.8M916.2 727.5l-1.6 -0.7M915.6 729l-3.6 -1.5M915 730.5l-0.6 -0.2M914.3 732l-0.6 -0.2M913.7 733.5l-7.1 -3.1M910.3 740.8l-3 -1.4M905.4 751.1l-5.6 -2.8M904.6 752.5l-4.7 -2.4M903.9 754l-11.8 -6.1M903.1 755.4l-0.5 -0.3M900.1 761.1l-0.5 -0.3M899.3 762.5l-2.9 -1.6M898.5 764l-7.3 -4.1M894.5 771l-1.6 -1M893.6 772.4l-7.5 -4.5M892.8 773.8l-6.5 -3.9M892 775.2l-9 -5.5M887.7 782l-8 -5.1M886.8 783.4l-0.5 -0.3M885.9 784.8l-5 -3.2M885 786.1l-7.4 -4.9M884.1 787.5l-0.5 -0.3M883.2 788.8l-7 -4.7M882.3 790.2l-5.1 -3.5M881.4 791.5l-3.4 -2.3M880.4 792.8l-0.5 -0.3M879.5 794.2l-4.1 -2.9M878.6 795.5l-2.2 -1.5M877.6 796.8l-1.6 -1.1M876.7 798.1l-3.2 -2.3M875.7 799.4l-2.9 -2.1M874.8 800.8l-1.9 -1.4M873.8 802.1l-1.2 -0.9M868.9 808.5l-4.8 -3.7M845.5 835.5l-5.8 -5.6M844.4 836.7l-0.4 -0.4M842.1 839l-0.4 -0.4M841 840.1l-5.6 -5.6M839.8 841.3l-4.8 -4.8M838.7 842.4l-4 -4M837.5 843.6l-3.8 -3.9M835.2 845.8l-3.1 -3.2M828.1 852.5l-3.5 -3.8M826.9 853.5l-0.4 -0.4M825.7 854.6l-1.2 -1.3M824.4 855.7l-1.9 -2.1M820.8 858.9l-1.1 -1.2M813.3 865.1l-0.4 -0.5M812 866.2l-7.6 -9.4M810.8 867.2l-6.5 -8.2M809.5 868.2l-13.1 -16.6M808.2 869.2l-4.5 -5.8M806.9 870.2l-0.4 -0.5M805.6 871.2l-3.3 -4.3M803.1 873.1l-2.4 -3.2M800.5 875.1l-2.7 -3.6M799.1 876l-1.9 -2.6M797.8 877l-2 -2.8M796.5 877.9l-1.8 -2.5M795.2 878.9l-1.4 -2M793.9 879.8l-8.8 -12.5M792.5 880.7l-4.6 -6.7M791.2 881.7l-2.8 -4.1M789.9 882.6l-3.3 -4.9M788.5 883.5l-5.9 -8.7M787.2 884.4l-8.8 -13.2M785.8 885.3l-5.1 -7.8M784.5 886.2l-2.7 -4.2M783.1 887.1l-0.3 -0.5M781.7 888l-7.5 -11.7M780.4 888.8l-6.9 -10.8M755.1 903.4l-4 -7.6M752.2 904.9l-3.1 -6.1M742 910l-3.4 -7.2M740.5 910.6l-2.7 -5.8M739.1 911.3l-5.6 -12.2M737.6 912l-5.3 -11.5M736.1 912.7l-4.6 -10.2M734.6 913.3l-5.1 -11.4M733.2 914l-0.2 -0.5M731.7 914.6l-1.3 -2.9M730.2 915.3l-1.2 -2.7M728.7 915.9l-1.8 -4.4M727.2 916.5l-2.2 -5.3M725.7 917.2l-7.2 -17.4M724.2 917.8l-4.7 -11.7M722.7 918.4l-1.2 -2.9M721.2 919l-1.2 -3M719.7 919.6l-1.5 -4M718.1 920.2l-1.7 -4.4M716.6 920.7l-1.7 -4.5M715.1 921.3l-0.9 -2.3M688.9 930l-0.4 -1.6M687.4 930.4l-2.6 -9.4M685.8 930.8l-1.4 -5.1M684.2 931.3l-0.9 -3.4M682.7 931.7l-1.3 -5M681.1 932.1l-0.2 -0.6M679.5 932.5l-0.8 -2.9M677.9 932.9l-0.1 -0.6M676.4 933.3l-0.4 -1.7M674.8 933.7l-1.3 -5.5M665.3 935.9l-0.5 -2.5M662.1 936.5l-0.8 -3.8M658.9 937.2l-0.7 -3.6M655.8 937.8l-0.3 -1.7M654.2 938.1l-0.3 -1.6M646.2 939.4l-0.4 -2.9M644.5 939.6l-0.5 -3.2M642.9 939.9l-0.4 -3M641.3 940.1l-0.5 -3.2M639.7 940.3l-0.1 -0.6M638.1 940.6l-0.9 -7.2M636.5 940.8l-0.3 -2.2M634.9 941l-1 -8.5M630.1 941.5l-0.4 -3.8M628.5 941.7l-0.5 -5.1M626.8 941.9l-0.3 -2.9M625.2 942l-0.3 -3.3M623.6 942.2l-0.4 -4.8M622 942.3l-0.4 -5M620.4 942.5l-0.6 -7.6M618.8 942.6l-0.3 -3.9M615.5 942.8l-0.5 -7.9M613.9 942.9l-0.3 -5.5M604.2 943.4l-0.1 -2.8M600.9 943.5l0 -1.5M597.7 943.6l-0.1 -4.7M596.1 943.6l-0.1 -6.6M591.2 943.6l0 -3.9M589.6 943.6l0 -0.6M587.9 943.6l0.1 -9.5M586.3 943.6l0.1 -7M584.7 943.5l0.3 -12M583.1 943.5l0 -0.6M581.5 943.4l0.1 -3.5M579.8 943.4l0.2 -5.3M563.6 942.5l0.9 -10.7M560.4 942.2l0.5 -5.1M558.8 942l0.1 -0.6M553.9 941.5l0.7 -6.1M552.3 941.4l0.4 -3.3M550.7 941.2l0.5 -3.8M549.1 941l0.5 -4M547.5 940.8l0.4 -3M545.9 940.6l0.5 -3.5M544.3 940.3l0.5 -3.6M542.7 940.1l0.6 -4.5M541.1 939.9l1.5 -10M531.4 938.3l0.1 -0.6M529.8 938.1l0.7 -4.1M528.2 937.8l1 -5.3M526.7 937.5l1.5 -7.9M525.1 937.2l0.4 -1.9M523.5 936.8l0.6 -3.1M521.9 936.5l1.1 -5.2M518.7 935.9l0.8 -3.6M517.1 935.5l0.1 -0.6M504.5 932.5l1.8 -7.1M502.9 932.1l0.6 -2.1M501.3 931.7l0.5 -1.7M499.8 931.3l0.6 -2.3M493.5 929.5l1.4 -4.6M481.1 925.6l0.8 -2.5M479.6 925.1l0.7 -2.2M476.5 924.1l0.2 -0.6M475 923.5l0.2 -0.6M470.4 921.9l1.4 -3.8M468.9 921.3l1.4 -3.8M467.4 920.7l1 -2.7M458.3 917.2l1.9 -4.6M456.8 916.5l4.1 -9.9M455.3 915.9l1.2 -2.8M453.8 915.3l2 -4.6M452.3 914.6l1.5 -3.5M450.8 914l3.3 -7.5M449.4 913.3l2.8 -6.3M447.9 912.7l1.3 -2.8M446.4 912l2 -4.4M443.5 910.6l1.9 -4M442 910l2.2 -4.7M440.5 909.3l0.3 -0.5M437.6 907.8l2.4 -5M434.7 906.4l2.3 -4.5M433.2 905.7l0.8 -1.6M431.8 904.9l1.6 -3.2M430.3 904.2l2.2 -4.3M428.9 903.4l1.2 -2.3M388.8 878.9l2 -2.8M379.6 872.2l4.6 -6.1M377.1 870.2l2.7 -3.4M374.5 868.2l3.2 -4.1M373.2 867.2l5.1 -6.5M363.2 858.9l7 -8.1M362 857.8l6.7 -7.7M360.8 856.8l5.2 -6M354.7 851.4l3.2 -3.5M352.3 849.2l3.4 -3.7M351.2 848.1l3.3 -3.5M348.8 845.8l4.1 -4.3M340.7 837.8l6.8 -6.7M331.8 828.4l4.7 -4.2M330.8 827.2l3.6 -3.2M329.7 826l5.6 -5M328.6 824.7l3.8 -3.3M327.5 823.5l2.8 -2.4M326.5 822.3l4 -3.5M323.3 818.6l1.4 -1.1M314.1 807.2l2.1 -1.6M312.1 804.7l8.5 -6.4M311.2 803.4l2.2 -1.7M303.6 792.8l13.2 -9.2M302.6 791.5l0.5 -0.3M301.7 790.2l3.6 -2.4M300.8 788.8l2.8 -1.9M299.9 787.5l11.1 -7.4M299 786.1l3.5 -2.3M298.1 784.8l1.5 -1M297.2 783.4l4.5 -2.9M296.3 782l4.6 -3M295.5 780.7l4.1 -2.6M292 775.2l2.3 -1.4M291.2 773.8l0.5 -0.3M281.6 756.8l4.1 -2.2M280.9 755.4l3.8 -2M280.1 754l3.7 -1.9M279.4 752.5l8.1 -4.1M278.6 751.1l6.2 -3.2M277.9 749.6l9.7 -4.8M277.2 748.2l4 -2M275.7 745.2l0.5 -0.3M274.3 742.3l6.7 -3.2M273.7 740.8l5 -2.3M273 739.4l5.7 -2.6M272.3 737.9l3.2 -1.5M271.6 736.4l2.1 -1M271 734.9l1.7 -0.8M264.7 720l0.6 -0.2M264.1 718.4l1.4 -0.5M263.6 716.9l2.6 -1M263 715.4l5.2 -1.9M262.4 713.9l6 -2.2M260.2 707.8l5.3 -1.9M259.7 706.2l8.3 -2.8M258.7 703.2l8.2 -2.7M258.1 701.6l4.7 -1.5M257.6 700.1l7.7 -2.5M257.1 698.5l18.7 -5.9M256.7 697l9.5 -3M253 684.5l0.6 -0.2M252.6 683l4 -1.1M251.8 679.8l4.7 -1.2M251.4 678.2l5.6 -1.4M251 676.7l4.3 -1.1M250.6 675.1l3.5 -0.8M250.2 673.5l4.1 -1M249.5 670.4l5.4 -1.2M248.8 667.2l3.5 -0.8M248.4 665.6l2.4 -0.5M246.8 657.6l2.9 -0.5M246.2 654.5l4.4 -0.8M245.4 649.7l6.6 -1.1M244.9 646.5l6.2 -1M244.7 644.8l4.4 -0.7M244.4 643.2l8.3 -1.2M244 640l11.5 -1.6M243.7 638.4l0.6 -0.1M243.5 636.8l4.5 -0.6M243.3 635.2l4.2 -0.5M243.1 633.6l2.6 -0.3M242.9 632l0.6 -0.1M242.8 630.4l0.6 -0.1M242.6 628.8l14.6 -1.5M240.7 594.7l4.3 0M240.8 583.4l2.4 0.1M241.6 567.2l3.3 0.2M241.7 565.5l3.6 0.3M243.1 551l7.9 0.9M243.3 549.4l8.7 1.1M243.5 547.8l5.9 0.8M244.7 539.8l4.7 0.7M244.9 538.1l14.9 2.3M246.2 530.1l0.6 0.1M248.1 520.6l4 0.8M248.4 519l3.2 0.7M249.1 515.8l3.4 0.7M249.5 514.2l7.8 1.8M250.6 509.5l9.9 2.4M251 507.9l0.6 0.1M251.4 506.4l3.6 0.9M251.8 504.8l0.6 0.1M252.2 503.2l2.3 0.6M252.6 501.6l5 1.3M253.9 496.9l5.9 1.7M254.3 495.4l4.9 1.4M254.8 493.8l4.9 1.4M255.2 492.3l3.1 0.9M257.6 484.5l16.3 5.3M258.1 483l0.6 0.2M258.7 481.4l6 2M259.7 478.4l0.6 0.2M260.8 475.3l4.3 1.5M261.9 472.2l3.6 1.3M262.4 470.7l3.6 1.3M263 469.2l4.5 1.7M263.6 467.7l14.6 5.5M264.1 466.2l2.3 0.9M264.7 464.6l3.5 1.4M265.3 463.1l3.4 1.4M265.9 461.6l6.5 2.6M266.5 460.1l10.5 4.3M268.4 455.6l3.6 1.5M269 454.1l3.7 1.6M269.7 452.6l9 3.9M270.3 451.1l5.4 2.4M271 449.7l5.9 2.6M271.6 448.2l4.2 1.9M272.3 446.7l5.3 2.4M276.5 437.9l0.5 0.3M277.9 435l3.2 1.6M279.4 432.1l4.4 2.3M280.1 430.6l0.5 0.3M280.9 429.2l4.5 2.3M289.5 413.6l3.6 2.1M290.4 412.2l4.2 2.5M291.2 410.8l9.6 5.8M292 409.4l0.5 0.3M292.9 408.1l4.7 2.9M293.7 406.7l3.9 2.4M295.5 403.9l2.5 1.6M296.3 402.6l2.5 1.6M297.2 401.2l3 1.9M298.1 399.8l4.5 2.9M299 398.5l10.6 7M299.9 397.1l0.5 0.3M302.6 393.1l4.6 3.2M304.5 390.4l5.4 3.8M305.4 389.1l5.6 3.9M306.4 387.8l3.6 2.6M307.3 386.5l7.9 5.7M308.3 385.2l3.1 2.3M309.2 383.8l2.6 1.9M318.1 372.3l3.6 2.9M320.2 369.8l3.5 2.8M322.3 367.2l3.1 2.6M323.3 366l2.3 1.9M324.3 364.8l1.9 1.6M325.4 363.5l8.3 7.1M326.5 362.3l6.1 5.3M328.6 359.9l1.5 1.3M341.9 345.6l2.7 2.7M348.8 338.8l3.4 3.6M350 337.7l3.4 3.6M351.2 336.5l4.1 4.3M353.5 334.3l3.8 4.1M354.7 333.2l3.3 3.6M355.9 332.1l0.4 0.4M357.1 331.1l3.5 3.9M358.3 330l4 4.5M359.6 328.9l0.4 0.4M360.8 327.8l3.3 3.8M363.2 325.7l3.8 4.4M364.5 324.6l2.2 2.6M365.7 323.6l9.3 11.1M366.9 322.6l2.5 3M373.2 317.4l1.5 1.9M377.1 314.4l3.2 4.2M379.6 312.4l2.3 3M380.9 311.5l2.3 3.1M382.2 310.5l1 1.4M383.5 309.5l3.3 4.4M384.9 308.6l3.9 5.4M386.2 307.6l0.4 0.5M392.8 302.9l0.3 0.5M394.1 302l2.8 4.1M407.8 293.2l1.1 1.8M416.1 288.2l3.9 6.8M418.9 286.6l3 5.4M420.3 285.8l3.7 6.6M421.8 285l2.8 5M423.2 284.2l0.8 1.5M424.6 283.4l2.4 4.4M426 282.7l0.3 0.5M430.3 280.4l1.3 2.6M431.8 279.7l2.7 5.4M433.2 278.9l0.3 0.5M434.7 278.2l3.3 6.5M436.1 277.5l2.7 5.5M437.6 276.8l2.9 5.9M439.1 276l1.9 4M440.5 275.3l0.3 0.5M444.9 273.3l1.6 3.4M465.9 264.4l2.6 6.6M468.9 263.3l6 16M471.9 262.2l1.4 3.9M473.5 261.6l3.8 10.6M475 261.1l1.4 4M476.5 260.5l0.8 2.3M478.1 260l4 11.8M479.6 259.5l0.7 2.2M481.1 259l0.7 2.1M482.7 258.4l0.9 2.9M484.2 257.9l5.5 17M487.3 257l0.2 0.6M493.5 255.1l0.9 3.1M496.6 254.2l0.2 0.6M498.2 253.8l1.1 4M499.8 253.3l4.1 15.2M501.3 252.9l1 3.9M510.8 250.5l3.1 12.9M515.5 249.4l2.1 9.4M517.1 249.1l1.4 6.2M518.7 248.7l2.7 12.5M533 246l0.8 4.6M534.6 245.7l0.5 3.3M536.2 245.5l0.3 2M537.8 245.2l0.9 5.5M539.5 245l0.6 4.1M541.1 244.7l0.6 4.3M542.7 244.5l0.3 1.9M544.3 244.3l0.1 0.6M558.8 242.6l0.1 0.6M562 242.3l0.1 0.6M563.6 242.1l0.3 4M571.7 241.6l0.9 15.7M575 241.4l0.3 5.4M576.6 241.3l0.4 9M578.2 241.3l0.3 7.7M579.8 241.2l0.1 3.6M581.5 241.2l0.2 5.8M583.1 241.1l0.2 7.7M584.7 241.1l0 2.1M586.3 241l0.1 8.9M589.6 241l0.1 9.7M591.2 241l0 7" fill="none" stroke="#009a00" stroke-width="1.6"/><circle cx="592" cy="592.3" r="324.5" fill="none" stroke="#000" stroke-width="2.7"/><path d="M592 277.3L592 271.8M592 51.3L592 45.8M615.1 275.5L615.2 273.9M631.4 51.5L631.5 49.9M638 278.1L638.3 276.5M670.6 55.8L670.8 54.2M660.7 282.2L661.1 280.7M709.4 63L709.7 61.4M683.1 288L683.6 286.5M747.5 72.9L748 71.3M704 297.9L706 292.8M784.4 86.7L786.4 81.5M726.2 304.5L726.9 303M821.2 100.9L821.8 99.5M746.8 315L747.6 313.6M856.3 118.9L857 117.5M766.5 327L767.4 325.6M890 139.3L890.8 138M785.4 340.3L786.3 339.1M922.1 162.2L923.1 160.9M801.4 357L805.1 352.9M951.7 188.2L955.3 184.1M819.8 371L821 369.9M980.9 214.5L982.1 213.4M835.3 388.2L836.5 387.1M1007.4 243.8L1008.6 242.8M849.5 406.4L850.8 405.4M1031.6 274.9L1032.9 274M862.3 425.6L863.7 424.7M1053.5 307.7L1054.9 306.9M871.4 446.9L876.3 444.3M1071.9 342.5L1076.8 340M883.6 466.5L885.1 465.9M1089.9 377.6L1091.3 377M892 488.1L893.5 487.5M1104.2 414.3L1105.7 413.8M898.8 510.1L900.3 509.7M1115.7 452L1117.3 451.6M903.9 532.6L905.5 532.3M1124.5 490.4L1126.1 490.1M904.9 555.8L910.3 555.1M1129.3 529.5L1134.8 528.9M909.3 578.5L910.9 578.4M1133.7 568.7L1135.3 568.6M909.5 601.6L911.1 601.6M1134 608.1L1135.6 608.2M908 624.6L909.5 624.8M1131.4 647.5L1133 647.6M904.8 647.5L906.3 647.8M1126 686.5L1127.5 686.8M897.4 669.4L902.7 670.8M1116.5 724.8L1121.9 726.1M893.5 692.2L895 692.7M1106.7 762.9L1108.2 763.4M885.4 713.9L886.9 714.5M1092.9 799.9L1094.4 800.5M875.8 734.9L877.2 735.6M1076.5 835.7L1077.9 836.4M864.7 755.1L866.1 755.9M1057.5 870.3L1058.9 871.1M850 773L854.5 776.2M1035.1 902.7L1039.6 905.8M838.2 792.9L839.4 793.9M1012.3 934.8L1013.6 935.8M823 810.3L824.1 811.4M986.3 964.4L987.5 965.5M806.5 826.5L807.6 827.7M958.2 992.1L959.3 993.3M788.9 841.5L789.9 842.7M928.2 1017.7L929.2 1018.9M768.9 853L771.9 857.5M895.7 1040L898.8 1044.5M750.7 867.4L751.5 868.8M863 1061.9L863.8 1063.3M730.3 878.2L731 879.6M828.2 1080.4L828.9 1081.8M709.2 887.5L709.8 889M792.1 1096.2L792.7 1097.7M687.4 895.2L687.9 896.7M754.9 1109.4L755.4 1111M664.6 898.8L665.8 904.2M716.7 1118.7L717.9 1124.1M642.5 905.9L642.8 907.4M678.3 1127.6L678.5 1129.2M619.6 908.7L619.8 910.3M639.1 1132.4L639.3 1134M596.6 909.9L596.6 911.5M599.8 1134.4L599.8 1136M573.5 909.4L573.4 911M560.4 1133.6L560.3 1135.2M550.8 904.6L550.1 910M521.3 1128.7L520.5 1134.1M527.7 903.3L527.4 904.9M482.2 1123.3L481.9 1124.8M505.3 897.8L504.8 899.4M443.9 1113.9L443.5 1115.4M483.3 890.7L482.8 892.2M406.4 1101.8L405.9 1103.3M461.9 882L461.2 883.5M369.9 1086.9L369.2 1088.4M442.4 869.5L439.8 874.4M335.1 1068.4L332.5 1073.3M421.3 860.1L420.4 861.5M300.6 1049.5L299.7 1050.9M402.3 847L401.3 848.3M268.1 1027.1L267.2 1028.4M384.3 832.5L383.2 833.8M237.4 1002.4L236.3 1003.7M367.4 816.8L366.2 817.9M208.5 975.6L207.4 976.7M353.6 798.2L349.4 801.8M182.6 945.9L178.4 949.5M337.2 781.9L335.9 782.8M157 916L155.7 916.9M324.1 762.9L322.7 763.7M134.6 883.5L133.3 884.4M312.4 743L311 743.7M114.7 849.5L113.3 850.2M302.2 722.2L300.7 722.9M97.3 814.1L95.8 814.8M296 699.9L290.8 701.8M83.6 777.2L78.4 779.1M286.4 678.9L284.9 679.3M70.3 740.1L68.8 740.5M280.9 656.4L279.4 656.7M61 701.8L59.4 702.1M277.1 633.7L275.5 633.9M54.4 662.9L52.8 663.1M274.9 610.7L273.3 610.8M50.7 623.7L49.1 623.7M277 587.6L271.5 587.5M51.1 584.3L45.6 584.2M275.6 564.5L274 564.4M51.9 544.9L50.3 544.7M278.5 541.6L276.9 541.3M56.8 505.7L55.2 505.5M283 519L281.4 518.6M64.5 467.1L62.9 466.7M289.1 496.7L287.6 496.2M75 429.1L73.4 428.6M299.3 475.9L294.2 473.9M89.3 392.4L84.2 390.3M306.2 453.8L304.7 453.1M104.1 355.9L102.6 355.2M317 433.4L315.6 432.6M122.5 321L121.2 320.2M329.3 413.8L328 412.9M143.5 287.6L142.2 286.7M342.9 395.2L341.7 394.2M166.8 255.8L165.6 254.9M359.8 379.4L355.8 375.7M193.3 226.7L189.2 222.9M374.1 361.2L373 360M220.1 197.8L219 196.6M391.5 346L390.5 344.7M249.7 171.8L248.7 170.6M409.9 332.1L409 330.8M281.2 148L280.3 146.7M429.3 319.5L428.5 318.1M314.3 126.6L313.5 125.2M450.7 310.7L448.3 305.8M349.4 108.7L346.9 103.8M470.6 298.8L470 297.3M384.7 91.3L384.1 89.8M492.2 290.8L491.7 289.3M421.7 77.6L421.2 76M514.4 284.3L514 282.8M459.5 66.5L459.1 65M537 279.5L536.7 277.9M498.1 58.3L497.8 56.7M560.1 278.9L559.6 273.4M537.2 54.1L536.7 48.6M582.9 274.8L582.9 273.2M576.5 50.3L576.4 48.7" stroke="#000" stroke-width="1.3" fill="none"/><text x="562.8" y="313" font-size="19.0" fill="#000" text-anchor="middle">85 kbp</text><text x="463.1" y="341.3" font-size="19.0" fill="#000" text-anchor="middle">80 kbp</text><text x="383.9" y="403.5" font-size="19.0" fill="#000" text-anchor="middle">75 kbp</text><text x="336" y="490.6" font-size="19.0" fill="#000" text-anchor="middle">70 kbp</text><text x="324.6" y="592.2" font-size="19.0" fill="#000" text-anchor="middle">65 kbp</text><text x="696.6" y="329" font-size="19.0" fill="#000" text-anchor="middle">5 kbp</text><text x="783.7" y="383.1" font-size="19.0" fill="#000" text-anchor="middle">10 kbp</text><text x="841.6" y="464.3" font-size="19.0" fill="#000" text-anchor="middle">15 kbp</text><text x="861.8" y="563.4" font-size="19.0" fill="#000" text-anchor="middle">20 kbp</text><text x="857.7" y="667.5" font-size="19.0" fill="#000" text-anchor="middle">25 kbp</text><text x="823" y="760.9" font-size="19.0" fill="#000" text-anchor="middle">30 kbp</text><text x="753.6" y="833.5" font-size="19.0" fill="#000" text-anchor="middle">35 kbp</text><text x="660.1" y="875.3" font-size="19.0" fill="#000" text-anchor="middle">40 kbp</text><text x="333.2" y="694.5" font-size="19.0" fill="#000" text-anchor="middle">60 kbp</text><text x="379.2" y="783.6" font-size="19.0" fill="#000" text-anchor="middle">55 kbp</text><text x="456" y="848.2" font-size="19.0" fill="#000" text-anchor="middle">50 kbp</text><text x="554.2" y="880.7" font-size="19.0" fill="#000" text-anchor="middle">45 kbp</text><circle cx="592" cy="592.3" r="438.5" fill="none" stroke="#efb1e6" stroke-width="16.6"/><circle cx="592" cy="592.3" r="445.2" fill="none" stroke="#f8cbf2" stroke-width="3.3"/><circle cx="592" cy="592.3" r="431.8" fill="none" stroke="#a97ba6" stroke-width="3.1"/><path d="M609.1 135.9A456.7 456.7 0 1 1 550.6 137.5" fill="none" stroke="#99e3df" stroke-width="16.6"/><path d="M609.3 129.3A463.4 463.4 0 1 1 550 130.9" fill="none" stroke="#c2efec" stroke-width="3.3"/><path d="M608.8 142.7A449.9 449.9 0 1 1 551.2 144.2" fill="none" stroke="#6a9e9b" stroke-width="3.1"/><path d="M553.8 137.2A456.7 456.7 0 0 1 555.8 137" fill="none" stroke="#99e3df" stroke-width="16.6"/><path d="M553.2 130.6A463.4 463.4 0 0 1 555.2 130.4" fill="none" stroke="#c2efec" stroke-width="3.3"/><path d="M554.3 143.9A449.9 449.9 0 0 1 556.3 143.8" fill="none" stroke="#6a9e9b" stroke-width="3.1"/><path d="M558.2 136.9A456.7 456.7 0 0 1 578.5 135.8" fill="none" stroke="#c0e6e4" stroke-width="16.6"/><path d="M557.7 130.2A463.4 463.4 0 0 1 578.3 129.2" fill="none" stroke="#d6f1ef" stroke-width="3.3"/><path d="M558.7 143.6A449.9 449.9 0 0 1 578.7 142.5" fill="none" stroke="#7fa9a7" stroke-width="3.1"/><path d="M597.6 135.6A456.7 456.7 0 0 1 609.1 135.9" fill="none" stroke="#c0e6e4" stroke-width="16.6"/><path d="M597.7 129A463.4 463.4 0 0 1 609.3 129.3" fill="none" stroke="#d6f1ef" stroke-width="3.3"/><path d="M597.5 142.4A449.9 449.9 0 0 1 608.8 142.7" fill="none" stroke="#7fa9a7" stroke-width="3.1"/><circle cx="592" cy="592.3" r="475.1" fill="none" stroke="#4a48e4" stroke-width="16.6"/><circle cx="592" cy="592.3" r="481.8" fill="none" stroke="#8280f6" stroke-width="3.3"/><circle cx="592" cy="592.3" r="468.4" fill="none" stroke="#2f2ea6" stroke-width="3.1"/><circle cx="592" cy="592.3" r="493.5" fill="none" stroke="#62b0e2" stroke-width="16.6"/><circle cx="592" cy="592.3" r="500.2" fill="none" stroke="#99ccf0" stroke-width="3.3"/><circle cx="592" cy="592.3" r="486.8" fill="none" stroke="#3a8bb0" stroke-width="3.1"/></g><g><path d="M603.6 71.9L607.8 72L610.6 80.8L607.3 89.3L603.2 89.2Z" fill="#808080"/><path d="M603.6 71.9L607.8 72L610.6 80.8L607.7 75.4L603.6 75.3Z" fill="#9e9e9e"/><path d="M603.3 85.8L607.4 85.9L610.6 80.8L607.3 89.3L603.2 89.2Z" fill="#5c5c5c"/><path d="M624.9 54.6L619.9 54.3L615.9 62.8L619 71.7L623.8 72Z" fill="#808080"/><path d="M624.9 54.6L619.9 54.3L615.9 62.8L619.8 57.7L624.7 58Z" fill="#9e9e9e"/><path d="M624 68.6L619.2 68.3L615.9 62.8L619 71.7L623.8 72Z" fill="#5c5c5c"/><path d="M636.6 55.5L629.6 54.9L625.4 63.4L628.4 72.3L635.2 72.8Z" fill="#808080"/><path d="M636.6 55.5L629.6 54.9L625.4 63.4L629.3 58.3L636.3 58.8Z" fill="#9e9e9e"/><path d="M635.4 69.4L628.6 68.9L625.4 63.4L628.4 72.3L635.2 72.8Z" fill="#5c5c5c"/><path d="M650.3 56.8L641.2 55.9L636.8 64.2L639.6 73.2L648.4 74.1Z" fill="#808080"/><path d="M650.3 56.8L641.2 55.9L636.8 64.2L640.9 59.2L649.9 60.1Z" fill="#9e9e9e"/><path d="M648.8 70.7L639.9 69.8L636.8 64.2L639.6 73.2L648.4 74.1Z" fill="#5c5c5c"/><path d="M707.7 66.2L693.2 63.2L678.6 60.6L673.6 68.6L675.8 77.8L689.9 80.3L703.9 83.2Z" fill="#808080"/><path d="M707.7 66.2L693.2 63.2L678.6 60.6L673.6 68.6L678 64L692.5 66.5L706.9 69.5Z" fill="#9e9e9e"/><path d="M704.7 79.8L690.5 76.9L676.3 74.4L673.6 68.6L675.8 77.8L689.9 80.3L703.9 83.2Z" fill="#5c5c5c"/><path d="M727.6 70.9L719.6 68.9L714 76.5L715.5 85.8L723.2 87.8Z" fill="#808080"/><path d="M727.6 70.9L719.6 68.9L714 76.5L718.8 72.2L726.8 74.2Z" fill="#9e9e9e"/><path d="M724.1 84.5L716.3 82.5L714 76.5L715.5 85.8L723.2 87.8Z" fill="#5c5c5c"/><path d="M738.8 74L730.7 71.8L725 79.3L726.2 88.6L734 90.7Z" fill="#808080"/><path d="M738.8 74L730.7 71.8L725 79.3L729.8 75L737.8 77.3Z" fill="#9e9e9e"/><path d="M735 87.4L727.1 85.3L725 79.3L726.2 88.6L734 90.7Z" fill="#5c5c5c"/><path d="M738.9 93L749.5 96.2L750.3 105.6L744.3 112.7L734 109.5Z" fill="#808080"/><path d="M738.9 93L749.5 96.2L750.3 105.6L748.5 99.5L737.9 96.2Z" fill="#9e9e9e"/><path d="M734.9 106.3L745.3 109.5L750.3 105.6L744.3 112.7L734 109.5Z" fill="#5c5c5c"/><path d="M794.9 93.3L779.4 87.3L763.7 81.7L757.5 88.8L758.2 98.2L773.4 103.6L788.4 109.4Z" fill="#808080"/><path d="M794.9 93.3L779.4 87.3L763.7 81.7L757.5 88.8L762.6 84.9L778.2 90.4L793.7 96.4Z" fill="#9e9e9e"/><path d="M789.7 106.3L774.5 100.4L759.3 95L757.5 88.8L758.2 98.2L773.4 103.6L788.4 109.4Z" fill="#5c5c5c"/><path d="M788.2 110.2L801.4 115.8L801.2 125.2L794.5 131.6L781.7 126.2Z" fill="#808080"/><path d="M788.2 110.2L801.4 115.8L801.2 125.2L800.1 118.9L787 113.4Z" fill="#9e9e9e"/><path d="M783 123.1L795.8 128.5L801.2 125.2L794.5 131.6L781.7 126.2Z" fill="#5c5c5c"/><path d="M808 118.7L825.8 127.3L843.3 136.5L842.3 145.8L834.9 151.6L818 142.7L800.8 134.5Z" fill="#808080"/><path d="M808 118.7L825.8 127.3L843.3 136.5L842.3 145.8L841.6 139.5L824.3 130.3L806.6 121.8Z" fill="#9e9e9e"/><path d="M802.2 131.4L819.6 139.7L836.6 148.6L842.3 145.8L834.9 151.6L818 142.7L800.8 134.5Z" fill="#5c5c5c"/><path d="M874.2 133.4L865.9 128.4L858.4 134.1L857 143.4L865.1 148.2Z" fill="#808080"/><path d="M874.2 133.4L865.9 128.4L858.4 134.1L864.2 131.4L872.4 136.3Z" fill="#9e9e9e"/><path d="M866.9 145.4L858.8 140.5L858.4 134.1L857 143.4L865.1 148.2Z" fill="#5c5c5c"/><path d="M882.9 138.9L879.2 136.6L872 142.3L870 151.3L873.5 153.5Z" fill="#808080"/><path d="M882.9 138.9L879.2 136.6L872 142.3L877.4 139.4L881 141.7Z" fill="#9e9e9e"/><path d="M875.3 150.7L871.8 148.4L872 142.3L870 151.3L873.5 153.5Z" fill="#5c5c5c"/><path d="M879.9 158.7L891.2 166.4L902.4 174.5L913.3 182.8L910.8 191.8L902.6 196.4L892.1 188.3L881.3 180.6L870.3 173.1Z" fill="#808080"/><path d="M879.9 158.7L891.2 166.4L902.4 174.5L913.3 182.8L910.8 191.8L911.2 185.5L900.3 177.2L889.3 169.2L878 161.5Z" fill="#9e9e9e"/><path d="M872.2 170.2L883.2 177.8L894.1 185.6L904.7 193.7L910.8 191.8L902.6 196.4L892.1 188.3L881.3 180.6L870.3 173.1Z" fill="#5c5c5c"/><path d="M917.2 185.9L934.3 200.2L931.3 209.1L922.9 213.2L906.3 199.4Z" fill="#808080"/><path d="M917.2 185.9L934.3 200.2L931.3 209.1L932 202.7L915 188.5Z" fill="#9e9e9e"/><path d="M908.5 196.7L925.1 210.6L931.3 209.1L922.9 213.2L906.3 199.4Z" fill="#5c5c5c"/><path d="M980.5 219.1L968.5 207L956.1 195.3L947.5 199.2L944.3 208.1L956.3 219.4L967.9 231.2Z" fill="#808080"/><path d="M980.5 219.1L968.5 207L956.1 195.3L947.5 199.2L953.8 197.8L966.1 209.4L978 221.5Z" fill="#9e9e9e"/><path d="M970.4 228.8L958.7 217L946.6 205.6L947.5 199.2L944.3 208.1L956.3 219.4L967.9 231.2Z" fill="#5c5c5c"/><path d="M1005.6 247.1L995.1 234.9L984.2 223L975.4 226.3L971.5 234.9L982 246.4L992.2 258.3Z" fill="#808080"/><path d="M1005.6 247.1L995.1 234.9L984.2 223L975.4 226.3L981.7 225.3L992.5 237.1L1003 249.3Z" fill="#9e9e9e"/><path d="M994.8 256.1L984.6 244.2L974 232.6L975.4 226.3L971.5 234.9L982 246.4L992.2 258.3Z" fill="#5c5c5c"/><path d="M1033.7 283.9L1021.5 267.1L1012.4 269.5L1007.6 277.6L1019.4 293.8Z" fill="#808080"/><path d="M1033.7 283.9L1021.5 267.1L1012.4 269.5L1018.8 269.2L1030.9 285.8Z" fill="#9e9e9e"/><path d="M1022.2 291.9L1010.3 275.6L1012.4 269.5L1007.6 277.6L1019.4 293.8Z" fill="#5c5c5c"/><path d="M1057.3 320.8L1049.8 308.4L1042.1 296.3L1032.8 298.1L1027.6 305.9L1035 317.6L1042.2 329.5Z" fill="#808080"/><path d="M1057.3 320.8L1049.8 308.4L1042.1 296.3L1032.8 298.1L1039.2 298.2L1046.9 310.2L1054.3 322.5Z" fill="#9e9e9e"/><path d="M1045.2 327.8L1037.9 315.8L1030.4 304L1032.8 298.1L1027.6 305.9L1035 317.6L1042.2 329.5Z" fill="#5c5c5c"/><path d="M1080.9 366L1074.5 352.8L1067.8 339.8L1060.8 326.9L1051.5 328.1L1045.7 335.5L1052.5 347.9L1058.9 360.5L1065.1 373.3Z" fill="#808080"/><path d="M1080.9 366L1074.5 352.8L1067.8 339.8L1060.8 326.9L1051.5 328.1L1057.9 328.6L1064.8 341.4L1071.5 354.3L1077.8 367.4Z" fill="#9e9e9e"/><path d="M1068.2 371.9L1062 359L1055.5 346.3L1048.6 333.8L1051.5 328.1L1045.7 335.5L1052.5 347.9L1058.9 360.5L1065.1 373.3Z" fill="#5c5c5c"/><path d="M1099.9 412.8L1092.6 393.4L1084.6 374.2L1075.2 374.5L1068.7 381.3L1076.5 399.8L1083.5 418.6Z" fill="#808080"/><path d="M1099.9 412.8L1092.6 393.4L1084.6 374.2L1075.2 374.5L1081.5 375.6L1089.5 394.6L1096.7 414Z" fill="#9e9e9e"/><path d="M1086.7 417.5L1079.6 398.5L1071.8 379.9L1075.2 374.5L1068.7 381.3L1076.5 399.8L1083.5 418.6Z" fill="#5c5c5c"/><path d="M1112.4 453L1108.1 437.9L1103.4 423L1094 422.3L1086.9 428.4L1091.4 442.9L1095.6 457.5Z" fill="#808080"/><path d="M1112.4 453L1108.1 437.9L1103.4 423L1094 422.3L1100.2 424L1104.8 438.9L1109.1 453.8Z" fill="#9e9e9e"/><path d="M1098.8 456.6L1094.7 441.9L1090.1 427.4L1094 422.3L1086.9 428.4L1091.4 442.9L1095.6 457.5Z" fill="#5c5c5c"/><path d="M1119.2 481.4L1115.7 465.9L1106.3 464.4L1098.7 470L1102.1 485Z" fill="#808080"/><path d="M1119.2 481.4L1115.7 465.9L1106.3 464.4L1112.4 466.7L1115.8 482.1Z" fill="#9e9e9e"/><path d="M1105.5 484.3L1102.1 469.2L1106.3 464.4L1098.7 470L1102.1 485Z" fill="#5c5c5c"/><path d="M1102.3 490L1103.2 494.2L1095.3 498.9L1086.2 497.5L1085.4 493.4Z" fill="#808080"/><path d="M1102.3 490L1103.2 494.2L1095.3 498.9L1099.8 494.9L1099 490.6Z" fill="#9e9e9e"/><path d="M1088.7 492.7L1089.5 496.9L1095.3 498.9L1086.2 497.5L1085.4 493.4Z" fill="#5c5c5c"/><path d="M1104.3 500.5L1107.3 518.8L1109.6 537.1L1101.3 541.6L1092.4 539L1090.2 521.2L1087.3 503.5Z" fill="#808080"/><path d="M1104.3 500.5L1107.3 518.8L1109.6 537.1L1101.3 541.6L1106.2 537.5L1103.9 519.2L1101 501.1Z" fill="#9e9e9e"/><path d="M1090.7 502.9L1093.5 520.7L1095.7 538.6L1101.3 541.6L1092.4 539L1090.2 521.2L1087.3 503.5Z" fill="#5c5c5c"/><path d="M1110.8 550.8L1112.3 577.6L1103.7 581.4L1095 578L1093.6 552.2Z" fill="#808080"/><path d="M1110.8 550.8L1112.3 577.6L1103.7 581.4L1108.9 577.7L1107.5 551.1Z" fill="#9e9e9e"/><path d="M1097 551.9L1098.4 578L1103.7 581.4L1095 578L1093.6 552.2Z" fill="#5c5c5c"/><path d="M1112.5 595L1112.4 601.4L1103.7 604.9L1095.1 601.1L1095.2 594.9Z" fill="#808080"/><path d="M1112.5 595L1112.4 601.4L1103.7 604.9L1109 601.4L1109.1 595Z" fill="#9e9e9e"/><path d="M1098.6 595L1098.5 601.2L1103.7 604.9L1095.1 601.1L1095.2 594.9Z" fill="#5c5c5c"/><path d="M1129.8 623.3L1130.1 618.3L1121.5 614.3L1112.7 617.5L1112.4 622.3Z" fill="#808080"/><path d="M1129.8 623.3L1130.1 618.3L1121.5 614.3L1126.7 618.1L1126.4 623.1Z" fill="#9e9e9e"/><path d="M1115.8 622.5L1116.1 617.6L1121.5 614.3L1112.7 617.5L1112.4 622.3Z" fill="#5c5c5c"/><path d="M1111.2 628.9L1109.5 648.1L1107.1 667.2L1098 669.5L1090 664.7L1092.3 646.2L1094 627.7Z" fill="#808080"/><path d="M1111.2 628.9L1109.5 648.1L1107.1 667.2L1098 669.5L1103.7 666.7L1106.1 647.7L1107.8 628.6Z" fill="#9e9e9e"/><path d="M1097.3 627.9L1095.7 646.6L1093.3 665.2L1098 669.5L1090 664.7L1092.3 646.2L1094 627.7Z" fill="#5c5c5c"/><path d="M1105.8 675.6L1102.1 695.8L1092.9 697.6L1085.2 692.3L1088.7 672.8Z" fill="#808080"/><path d="M1105.8 675.6L1102.1 695.8L1092.9 697.6L1098.8 695.1L1102.4 675.1Z" fill="#9e9e9e"/><path d="M1092.1 673.4L1088.5 693L1092.9 697.6L1085.2 692.3L1088.7 672.8Z" fill="#5c5c5c"/><path d="M1099.5 707.7L1095 726.1L1089.8 744.4L1080.5 745.3L1073.2 739.3L1078.3 721.7L1082.7 703.9Z" fill="#808080"/><path d="M1099.5 707.7L1095 726.1L1089.8 744.4L1080.5 745.3L1086.5 743.4L1091.7 725.3L1096.2 707Z" fill="#9e9e9e"/><path d="M1086 704.6L1081.6 722.6L1076.5 740.3L1080.5 745.3L1073.2 739.3L1078.3 721.7L1082.7 703.9Z" fill="#5c5c5c"/><path d="M1101.7 766.7L1103.5 761.3L1096.4 755.1L1087 755.8L1085.2 761.1Z" fill="#808080"/><path d="M1101.7 766.7L1103.5 761.3L1096.4 755.1L1100.3 760.2L1098.5 765.6Z" fill="#9e9e9e"/><path d="M1088.4 762.2L1090.2 756.9L1096.4 755.1L1087 755.8L1085.2 761.1Z" fill="#5c5c5c"/><path d="M1092.8 790.8L1098.5 775.7L1091.6 769.3L1082.2 769.7L1076.6 784.4Z" fill="#808080"/><path d="M1092.8 790.8L1098.5 775.7L1091.6 769.3L1095.3 774.5L1089.6 789.5Z" fill="#9e9e9e"/><path d="M1079.8 785.6L1085.4 770.9L1091.6 769.3L1082.2 769.7L1076.6 784.4Z" fill="#5c5c5c"/><path d="M1073.2 790.8L1066.8 805.5L1060.1 820L1050.7 819.4L1044.5 812.4L1051.1 798.4L1057.2 784.2Z" fill="#808080"/><path d="M1073.2 790.8L1066.8 805.5L1060.1 820L1050.7 819.4L1057 818.5L1063.7 804.1L1070 789.5Z" fill="#9e9e9e"/><path d="M1060.3 785.5L1054.2 799.8L1047.6 813.9L1050.7 819.4L1044.5 812.4L1051.1 798.4L1057.2 784.2Z" fill="#5c5c5c"/><path d="M1056.4 827.3L1048.6 842.2L1039.3 841.2L1033.4 833.8L1041 819.5Z" fill="#808080"/><path d="M1056.4 827.3L1048.6 842.2L1039.3 841.2L1045.6 840.5L1053.4 825.8Z" fill="#9e9e9e"/><path d="M1044 821L1036.4 835.5L1039.3 841.2L1033.4 833.8L1041 819.5Z" fill="#5c5c5c"/><path d="M1045.4 883.2L1050.3 875.4L1044.8 867.8L1035.5 866.3L1030.7 873.9Z" fill="#808080"/><path d="M1045.4 883.2L1050.3 875.4L1044.8 867.8L1047.4 873.7L1042.5 881.4Z" fill="#9e9e9e"/><path d="M1033.6 875.7L1038.4 868.1L1044.8 867.8L1035.5 866.3L1030.7 873.9Z" fill="#5c5c5c"/><path d="M1022.8 884.4L1011.9 899.9L1000.4 915L991.4 912.5L986.8 904.3L997.9 889.7L1008.5 874.7Z" fill="#808080"/><path d="M1022.8 884.4L1011.9 899.9L1000.4 915L991.4 912.5L997.7 912.9L1009.1 897.9L1020 882.5Z" fill="#9e9e9e"/><path d="M1011.3 876.6L1000.7 891.7L989.5 906.4L991.4 912.5L986.8 904.3L997.9 889.7L1008.5 874.7Z" fill="#5c5c5c"/><path d="M996.5 919.9L991.3 926.2L982.4 923.4L978.1 915.1L983.1 909Z" fill="#808080"/><path d="M996.5 919.9L991.3 926.2L982.4 923.4L988.7 924L993.9 917.7Z" fill="#9e9e9e"/><path d="M985.7 911.1L980.7 917.2L982.4 923.4L978.1 915.1L983.1 909Z" fill="#5c5c5c"/><path d="M988.5 956.9L996.2 948.5L992 940L983.1 937L975.7 945.2Z" fill="#808080"/><path d="M988.5 956.9L996.2 948.5L992 940L993.6 946.2L986 954.6Z" fill="#9e9e9e"/><path d="M978.2 947.5L985.6 939.2L992 940L983.1 937L975.7 945.2Z" fill="#5c5c5c"/><path d="M973.3 946.6L969.6 950.6L960.8 947.2L957 938.7L960.6 934.8Z" fill="#808080"/><path d="M973.3 946.6L969.6 950.6L960.8 947.2L967.1 948.2L970.8 944.3Z" fill="#9e9e9e"/><path d="M963.1 937.2L959.5 941L960.8 947.2L957 938.7L960.6 934.8Z" fill="#5c5c5c"/><path d="M962.6 957.8L954.9 965.4L946.3 961.7L942.8 953L950.3 945.6Z" fill="#808080"/><path d="M962.6 957.8L954.9 965.4L946.3 961.7L952.5 963L960.2 955.4Z" fill="#9e9e9e"/><path d="M952.7 948L945.2 955.5L946.3 961.7L942.8 953L950.3 945.6Z" fill="#5c5c5c"/><path d="M942.6 1001.3L960.4 985.4L957 976.6L948.5 972.7L931.3 988Z" fill="#808080"/><path d="M942.6 1001.3L960.4 985.4L957 976.6L958 982.9L940.4 998.7Z" fill="#9e9e9e"/><path d="M933.5 990.6L950.8 975.2L957 976.6L948.5 972.7L931.3 988Z" fill="#5c5c5c"/><path d="M928.3 1013.1L933.8 1008.7L931 999.7L922.8 995.2L917.4 999.5Z" fill="#808080"/><path d="M928.3 1013.1L933.8 1008.7L931 999.7L931.6 1006.1L926.2 1010.5Z" fill="#9e9e9e"/><path d="M919.6 1002.2L924.9 997.9L931 999.7L922.8 995.2L917.4 999.5Z" fill="#5c5c5c"/><path d="M820.9 1080L834.1 1073.5L847.2 1066.7L860.2 1059.5L872.9 1052L885.4 1044.1L897.7 1035.9L909.7 1027.3L921.5 1018.5L919 1009.4L910.9 1004.7L899.4 1013.3L887.8 1021.6L875.9 1029.5L863.8 1037.1L851.5 1044.4L839 1051.4L826.3 1058L813.5 1064.2Z" fill="#808080"/><path d="M820.9 1080L834.1 1073.5L847.2 1066.7L860.2 1059.5L872.9 1052L885.4 1044.1L897.7 1035.9L909.7 1027.3L921.5 1018.5L919 1009.4L919.4 1015.8L907.7 1024.6L895.7 1033.1L883.5 1041.3L871.1 1049.1L858.5 1056.6L845.6 1063.7L832.6 1070.5L819.4 1076.9Z" fill="#9e9e9e"/><path d="M814.9 1067.3L827.9 1061L840.6 1054.4L853.2 1047.4L865.6 1040L877.7 1032.4L889.7 1024.4L901.4 1016L912.9 1007.4L919 1009.4L910.9 1004.7L899.4 1013.3L887.8 1021.6L875.9 1029.5L863.8 1037.1L851.5 1044.4L839 1051.4L826.3 1058L813.5 1064.2Z" fill="#5c5c5c"/><path d="M765.2 1102.4L782.2 1096.3L799 1089.7L815.5 1082.5L815.1 1073L808.3 1066.6L792.3 1073.6L776.1 1080L759.7 1085.9Z" fill="#808080"/><path d="M765.2 1102.4L782.2 1096.3L799 1089.7L815.5 1082.5L815.1 1073L814.1 1079.4L797.7 1086.5L781 1093.1L764.2 1099.2Z" fill="#9e9e9e"/><path d="M760.7 1089.1L777.3 1083.2L793.6 1076.7L809.7 1069.7L815.1 1073L808.3 1066.6L792.3 1073.6L776.1 1080L759.7 1085.9Z" fill="#5c5c5c"/><path d="M717.2 1116.2L731.8 1112.6L746.2 1108.5L760.5 1104L761.2 1094.6L755.1 1087.4L741.2 1091.8L727.2 1095.8L713.2 1099.3Z" fill="#808080"/><path d="M717.2 1116.2L731.8 1112.6L746.2 1108.5L760.5 1104L761.2 1094.6L759.5 1100.7L745.2 1105.2L730.9 1109.3L716.4 1112.9Z" fill="#9e9e9e"/><path d="M714 1102.6L728.1 1099L742.2 1095L756.2 1090.7L761.2 1094.6L755.1 1087.4L741.2 1091.8L727.2 1095.8L713.2 1099.3Z" fill="#5c5c5c"/><path d="M697.9 1120.5L709.6 1118L711.2 1108.7L705.8 1101L694.5 1103.4Z" fill="#808080"/><path d="M697.9 1120.5L709.6 1118L711.2 1108.7L708.9 1114.7L697.3 1117.1Z" fill="#9e9e9e"/><path d="M695.2 1106.8L706.6 1104.3L711.2 1108.7L705.8 1101L694.5 1103.4Z" fill="#5c5c5c"/><path d="M690.3 1122L692.5 1121.5L692.4 1112.7L689.2 1104.5L687.1 1104.9Z" fill="#808080"/><path d="M690.3 1122L692.5 1121.5L692.4 1112.7L691.8 1118.2L689.6 1118.6Z" fill="#9e9e9e"/><path d="M687.7 1108.2L689.8 1107.8L692.4 1112.7L689.2 1104.5L687.1 1104.9Z" fill="#5c5c5c"/><path d="M652.7 1127.6L668.7 1125.5L684.6 1123L686.7 1113.8L681.6 1105.8L666.2 1108.3L650.7 1110.3Z" fill="#808080"/><path d="M652.7 1127.6L668.7 1125.5L684.6 1123L686.7 1113.8L684 1119.6L668.2 1122.1L652.3 1124.2Z" fill="#9e9e9e"/><path d="M651.1 1113.7L666.7 1111.7L682.2 1109.2L686.7 1113.8L681.6 1105.8L666.2 1108.3L650.7 1110.3Z" fill="#5c5c5c"/><path d="M648.3 1109.7L630.7 1111.4L626.5 1103L629.4 1094.1L646.4 1092.5Z" fill="#808080"/><path d="M648.3 1109.7L630.7 1111.4L626.5 1103L630.4 1108L647.9 1106.4Z" fill="#9e9e9e"/><path d="M646.8 1095.9L629.7 1097.5L626.5 1103L629.4 1094.1L646.4 1092.5Z" fill="#5c5c5c"/><path d="M615.2 1112.3L613.3 1112.4L611.6 1103.8L612.6 1095.1L614.4 1095Z" fill="#808080"/><path d="M615.2 1112.3L613.3 1112.4L611.6 1103.8L613.2 1109L615 1108.9Z" fill="#9e9e9e"/><path d="M614.5 1098.4L612.7 1098.5L611.6 1103.8L612.6 1095.1L614.4 1095Z" fill="#5c5c5c"/><path d="M610.4 1112.5L602.9 1112.7L599.1 1104.1L602.6 1095.4L609.8 1095.2Z" fill="#808080"/><path d="M610.4 1112.5L602.9 1112.7L599.1 1104.1L602.9 1109.3L610.3 1109.1Z" fill="#9e9e9e"/><path d="M609.9 1098.6L602.6 1098.8L599.1 1104.1L602.6 1095.4L609.8 1095.2Z" fill="#5c5c5c"/><path d="M596.6 1112.8L581.8 1112.7L578.3 1104L582.1 1095.4L596.5 1095.5Z" fill="#808080"/><path d="M596.6 1112.8L581.8 1112.7L578.3 1104L581.8 1109.3L596.6 1109.4Z" fill="#9e9e9e"/><path d="M596.5 1098.9L582 1098.8L578.3 1104L582.1 1095.4L596.5 1095.5Z" fill="#5c5c5c"/><path d="M576.7 1112.6L574.7 1112.5L573.6 1103.8L575.3 1095.2L577.2 1095.3Z" fill="#808080"/><path d="M576.7 1112.6L574.7 1112.5L573.6 1103.8L574.9 1109.1L576.8 1109.2Z" fill="#9e9e9e"/><path d="M577.1 1098.7L575.2 1098.6L573.6 1103.8L575.3 1095.2L577.2 1095.3Z" fill="#5c5c5c"/><path d="M570.8 1112.4L556.5 1111.6L553.5 1102.7L557.7 1094.3L571.5 1095.1Z" fill="#808080"/><path d="M570.8 1112.4L556.5 1111.6L553.5 1102.7L556.8 1108.2L571 1109Z" fill="#9e9e9e"/><path d="M571.4 1098.5L557.5 1097.7L553.5 1102.7L557.7 1094.3L571.5 1095.1Z" fill="#5c5c5c"/><path d="M500.5 1123.2L519.9 1126.1L539.3 1128.4L543.8 1120.1L541 1111.1L522.2 1108.9L503.4 1106Z" fill="#1212f2"/><path d="M500.5 1123.2L519.9 1126.1L539.3 1128.4L543.8 1120.1L539.7 1125L520.3 1122.8L501.1 1119.8Z" fill="#5a5aff"/><path d="M502.9 1109.4L521.7 1112.3L540.7 1114.5L543.8 1120.1L541 1111.1L522.2 1108.9L503.4 1106Z" fill="#0000a8"/><path d="M501.4 1104.9L474.8 1099.4L473.2 1090.2L478.7 1082.6L504.4 1087.8Z" fill="#ff0000"/><path d="M501.4 1104.9L474.8 1099.4L473.2 1090.2L475.5 1096.1L502 1101.5Z" fill="#ff4a3a"/><path d="M503.9 1091.2L477.9 1085.9L473.2 1090.2L478.7 1082.6L504.4 1087.8Z" fill="#cc0000"/><path d="M467.8 1097.8L462.6 1096.5L461.3 1087.2L466.9 1079.7L472 1081Z" fill="#808080"/><path d="M467.8 1097.8L462.6 1096.5L461.3 1087.2L463.4 1093.2L468.7 1094.5Z" fill="#9e9e9e"/><path d="M471.2 1084.3L466 1083L461.3 1087.2L466.9 1079.7L472 1081Z" fill="#5c5c5c"/><path d="M412.4 1100.2L426.3 1104.9L440.3 1109.2L446.2 1101.8L445.2 1092.5L431.6 1088.3L418.2 1083.8Z" fill="#1212f2"/><path d="M412.4 1100.2L426.3 1104.9L440.3 1109.2L446.2 1101.8L441.2 1105.9L427.3 1101.6L413.6 1097Z" fill="#5a5aff"/><path d="M417.1 1087L430.6 1091.6L444.2 1095.8L446.2 1101.8L445.2 1092.5L431.6 1088.3L418.2 1083.8Z" fill="#0000a8"/><path d="M419 1083.2L395.7 1074.4L395.6 1065L402.2 1058.3L424.8 1066.9Z" fill="#1212f2"/><path d="M419 1083.2L395.7 1074.4L395.6 1065L397 1071.2L420.2 1080Z" fill="#5a5aff"/><path d="M423.6 1070.1L400.9 1061.5L395.6 1065L402.2 1058.3L424.8 1066.9Z" fill="#0000a8"/><path d="M390.4 1072.2L387.3 1070.9L388.6 1062L394.1 1055L397.1 1056.2Z" fill="#808080"/><path d="M390.4 1072.2L387.3 1070.9L388.6 1062L388.7 1067.7L391.7 1069Z" fill="#9e9e9e"/><path d="M395.8 1059.4L392.8 1058.1L388.6 1062L394.1 1055L397.1 1056.2Z" fill="#5c5c5c"/><path d="M375.3 1065.6L369.6 1062.9L370 1053.5L377 1047.2L382.5 1049.8Z" fill="#808080"/><path d="M375.3 1065.6L369.6 1062.9L370 1053.5L371 1059.8L376.7 1062.5Z" fill="#9e9e9e"/><path d="M381.1 1052.9L375.5 1050.3L370 1053.5L377 1047.2L382.5 1049.8Z" fill="#5c5c5c"/><path d="M347.4 1072.3L351.3 1074.3L358 1067.8L359.1 1058.7L355.3 1056.8Z" fill="#808080"/><path d="M347.4 1072.3L351.3 1074.3L358 1067.8L352.8 1071.2L349 1069.3Z" fill="#9e9e9e"/><path d="M353.8 1059.8L357.6 1061.7L358 1067.8L359.1 1058.7L355.3 1056.8Z" fill="#5c5c5c"/><path d="M308.8 1050.5L325.6 1060.5L342.8 1069.9L350.1 1063.9L350.9 1054.5L334.2 1045.4L317.9 1035.7Z" fill="#808080"/><path d="M308.8 1050.5L325.6 1060.5L342.8 1069.9L350.1 1063.9L344.4 1066.9L327.3 1057.6L310.6 1047.6Z" fill="#9e9e9e"/><path d="M316.1 1038.6L332.6 1048.4L349.3 1057.5L350.1 1063.9L350.9 1054.5L334.2 1045.4L317.9 1035.7Z" fill="#5c5c5c"/><path d="M318.1 1034.9L299.1 1022.6L301 1013.4L308.8 1008.3L327.2 1020.2Z" fill="#808080"/><path d="M318.1 1034.9L299.1 1022.6L301 1013.4L301 1019.7L319.9 1032Z" fill="#9e9e9e"/><path d="M325.4 1023.1L306.9 1011.1L301 1013.4L308.8 1008.3L327.2 1020.2Z" fill="#5c5c5c"/><path d="M293.3 1018.6L291.7 1017.4L295.6 1009.6L301.7 1003.3L303.2 1004.4Z" fill="#808080"/><path d="M293.3 1018.6L291.7 1017.4L295.6 1009.6L293.7 1014.7L295.3 1015.8Z" fill="#9e9e9e"/><path d="M301.3 1007.2L299.7 1006.1L295.6 1009.6L301.7 1003.3L303.2 1004.4Z" fill="#5c5c5c"/><path d="M258.6 1015.4L269.8 1024L277.9 1019.2L280.2 1010.1L269.3 1001.7Z" fill="#808080"/><path d="M258.6 1015.4L269.8 1024L277.9 1019.2L271.8 1021.3L260.7 1012.7Z" fill="#9e9e9e"/><path d="M267.2 1004.4L278.1 1012.8L277.9 1019.2L280.2 1010.1L269.3 1001.7Z" fill="#5c5c5c"/><path d="M270.3 1001.5L261.6 994.5L264.3 985.5L272.6 981.1L281 987.9Z" fill="#808080"/><path d="M270.3 1001.5L261.6 994.5L264.3 985.5L263.7 991.8L272.4 998.8Z" fill="#9e9e9e"/><path d="M278.9 990.5L270.4 983.7L264.3 985.5L272.6 981.1L281 987.9Z" fill="#5c5c5c"/><path d="M259.3 992.6L252.6 986.9L255.5 978L263.9 973.8L270.4 979.3Z" fill="#808080"/><path d="M259.3 992.6L252.6 986.9L255.5 978L254.8 984.3L261.5 990Z" fill="#9e9e9e"/><path d="M268.2 981.9L261.7 976.4L255.5 978L263.9 973.8L270.4 979.3Z" fill="#5c5c5c"/><path d="M249.8 984.5L240.2 975.9L243.4 967.1L251.9 963.2L261.2 971.5Z" fill="#808080"/><path d="M249.8 984.5L240.2 975.9L243.4 967.1L242.5 973.4L252.1 982Z" fill="#9e9e9e"/><path d="M259 974.1L249.6 965.7L243.4 967.1L251.9 963.2L261.2 971.5Z" fill="#5c5c5c"/><path d="M237.6 973.5L226.4 962.8L215.5 951.7L205 940.4L194.9 928.8L199.2 920.4L208.1 917.6L217.9 928.8L228.1 939.8L238.5 950.5L249.3 960.8Z" fill="#808080"/><path d="M237.6 973.5L226.4 962.8L215.5 951.7L205 940.4L194.9 928.8L199.2 920.4L197.5 926.6L207.6 938.1L218 949.4L228.8 960.4L239.9 971Z" fill="#9e9e9e"/><path d="M247 963.3L236.2 952.9L225.6 942.2L215.4 931.1L205.5 919.8L199.2 920.4L208.1 917.6L217.9 928.8L228.1 939.8L238.5 950.5L249.3 960.8Z" fill="#5c5c5c"/><path d="M192.5 926L185.2 917L189.7 908.8L198.7 906.2L205.8 914.9Z" fill="#808080"/><path d="M192.5 926L185.2 917L189.7 908.8L187.8 914.9L195.1 923.8Z" fill="#9e9e9e"/><path d="M203.2 917.1L196 908.3L189.7 908.8L198.7 906.2L205.8 914.9Z" fill="#5c5c5c"/><path d="M184.1 915.6L179.7 910L184.4 901.9L193.4 899.5L197.6 904.9Z" fill="#808080"/><path d="M184.1 915.6L179.7 910L184.4 901.9L182.4 908L186.8 913.5Z" fill="#9e9e9e"/><path d="M195 907L190.8 901.6L184.4 901.9L193.4 899.5L197.6 904.9Z" fill="#5c5c5c"/><path d="M177.4 906.9L173.3 901.5L178.1 893.4L187.2 891.2L191.1 896.5Z" fill="#808080"/><path d="M177.4 906.9L173.3 901.5L178.1 893.4L176 899.5L180.1 904.9Z" fill="#9e9e9e"/><path d="M188.4 898.5L184.5 893.2L178.1 893.4L187.2 891.2L191.1 896.5Z" fill="#5c5c5c"/><path d="M137.7 881.7L139 883.8L147.3 880.6L153.6 874.4L152.3 872.4Z" fill="#808080"/><path d="M137.7 881.7L139 883.8L147.3 880.6L141.8 882L140.5 879.9Z" fill="#9e9e9e"/><path d="M149.5 874.2L150.8 876.2L147.3 880.6L153.6 874.4L152.3 872.4Z" fill="#5c5c5c"/><path d="M120.7 853.2L124.2 859.4L133.5 858.2L139.3 850.7L135.9 844.8Z" fill="#808080"/><path d="M120.7 853.2L124.2 859.4L133.5 858.2L127.1 857.7L123.7 851.6Z" fill="#9e9e9e"/><path d="M133 846.4L136.3 852.4L133.5 858.2L139.3 850.7L135.9 844.8Z" fill="#5c5c5c"/><path d="M109.2 831.3L118.1 848.4L127.5 847.5L133.4 840.2L124.8 823.6Z" fill="#808080"/><path d="M109.2 831.3L118.1 848.4L127.5 847.5L121.1 846.8L112.3 829.8Z" fill="#9e9e9e"/><path d="M121.8 825.1L130.4 841.8L127.5 847.5L133.4 840.2L124.8 823.6Z" fill="#5c5c5c"/><path d="M119.5 810.5L113.3 796.6L107.5 782.6L114.3 776.1L123.6 776.3L129.2 789.9L135.2 803.3Z" fill="#808080"/><path d="M119.5 810.5L113.3 796.6L107.5 782.6L114.3 776.1L110.7 781.3L116.4 795.3L122.6 809.1Z" fill="#9e9e9e"/><path d="M132.1 804.7L126.1 791.2L120.5 777.5L114.3 776.1L123.6 776.3L129.2 789.9L135.2 803.3Z" fill="#5c5c5c"/><path d="M100.9 764.8L100 762.1L107.5 757.3L116.3 756.5L117.3 759.1Z" fill="#808080"/><path d="M100.9 764.8L100 762.1L107.5 757.3L103.2 761L104.1 763.7Z" fill="#9e9e9e"/><path d="M114 760.2L113.1 757.6L107.5 757.3L116.3 756.5L117.3 759.1Z" fill="#5c5c5c"/><path d="M96.8 752.5L95.9 749.6L103.5 745L112.3 744.4L113.2 747.1Z" fill="#808080"/><path d="M96.8 752.5L95.9 749.6L103.5 745L99.1 748.6L100 751.4Z" fill="#9e9e9e"/><path d="M110 748.2L109.1 745.4L103.5 745L112.3 744.4L113.2 747.1Z" fill="#5c5c5c"/><path d="M92.9 740L92.1 737.1L99.8 732.7L108.7 732.3L109.5 735Z" fill="#808080"/><path d="M92.9 740L92.1 737.1L99.8 732.7L95.3 736.2L96.1 739Z" fill="#9e9e9e"/><path d="M106.2 736L105.4 733.3L99.8 732.7L108.7 732.3L109.5 735Z" fill="#5c5c5c"/><path d="M89.4 727.5L88.6 724.6L96.4 720.4L105.3 720.2L106.1 723Z" fill="#808080"/><path d="M89.4 727.5L88.6 724.6L96.4 720.4L91.9 723.8L92.7 726.7Z" fill="#9e9e9e"/><path d="M102.8 723.9L102 721.1L96.4 720.4L105.3 720.2L106.1 723Z" fill="#5c5c5c"/><path d="M86.2 715L85.5 712.1L93.4 708.1L102.3 708.1L103 711Z" fill="#808080"/><path d="M86.2 715L85.5 712.1L93.4 708.1L88.8 711.3L89.5 714.2Z" fill="#9e9e9e"/><path d="M99.7 711.8L99 708.9L93.4 708.1L102.3 708.1L103 711Z" fill="#5c5c5c"/><path d="M83.3 702.6L82.7 699.6L90.7 695.7L99.6 696.1L100.2 698.9Z" fill="#808080"/><path d="M83.3 702.6L82.7 699.6L90.7 695.7L86 698.9L86.6 701.8Z" fill="#9e9e9e"/><path d="M96.9 699.6L96.3 696.8L90.7 695.7L99.6 696.1L100.2 698.9Z" fill="#5c5c5c"/><path d="M80.7 689.8L80.2 686.8L88.3 683.1L97.2 683.7L97.7 686.6Z" fill="#808080"/><path d="M80.7 689.8L80.2 686.8L88.3 683.1L83.5 686.2L84.1 689.2Z" fill="#9e9e9e"/><path d="M94.4 687.2L93.8 684.3L88.3 683.1L97.2 683.7L97.7 686.6Z" fill="#5c5c5c"/><path d="M78.4 676.9L77.9 673.9L86.1 670.4L95 671.2L95.5 674.1Z" fill="#808080"/><path d="M78.4 676.9L77.9 673.9L86.1 670.4L81.3 673.4L81.8 676.3Z" fill="#9e9e9e"/><path d="M92.1 674.6L91.7 671.7L86.1 670.4L95 671.2L95.5 674.1Z" fill="#5c5c5c"/><path d="M76.4 663.7L76 660.6L84.3 657.3L93.2 658.4L93.6 661.3Z" fill="#808080"/><path d="M76.4 663.7L76 660.6L84.3 657.3L79.4 660.2L79.8 663.2Z" fill="#9e9e9e"/><path d="M90.2 661.8L89.8 658.8L84.3 657.3L93.2 658.4L93.6 661.3Z" fill="#5c5c5c"/><path d="M74.8 650.9L74.5 647.8L82.8 644.7L91.7 646L92 648.9Z" fill="#808080"/><path d="M74.8 650.9L74.5 647.8L82.8 644.7L77.9 647.5L78.2 650.5Z" fill="#9e9e9e"/><path d="M88.6 649.3L88.3 646.3L82.8 644.7L91.7 646L92 648.9Z" fill="#5c5c5c"/><path d="M73.5 637.8L73.2 634.8L81.7 631.9L90.5 633.4L90.7 636.3Z" fill="#808080"/><path d="M73.5 637.8L73.2 634.8L81.7 631.9L76.6 634.5L76.9 637.5Z" fill="#9e9e9e"/><path d="M87.3 636.6L87.1 633.7L81.7 631.9L90.5 633.4L90.7 636.3Z" fill="#5c5c5c"/><path d="M72.5 624.9L72.3 621.8L80.9 619.2L89.6 620.9L89.8 623.8Z" fill="#808080"/><path d="M72.5 624.9L72.3 621.8L80.9 619.2L75.7 621.6L75.9 624.7Z" fill="#9e9e9e"/><path d="M86.4 624L86.2 621.1L80.9 619.2L89.6 620.9L89.8 623.8Z" fill="#5c5c5c"/><path d="M71.9 612.1L71.8 609L80.3 606.6L89.1 608.5L89.2 611.4Z" fill="#808080"/><path d="M71.9 612.1L71.8 609L80.3 606.6L75.2 608.9L75.3 612Z" fill="#9e9e9e"/><path d="M85.8 611.6L85.7 608.6L80.3 606.6L89.1 608.5L89.2 611.4Z" fill="#5c5c5c"/><path d="M58.7 516.2L56.8 530.6L55.4 545L54.3 559.4L62.8 563.5L71.7 560.5L72.7 546.5L74.1 532.6L75.9 518.7Z" fill="#808080"/><path d="M58.7 516.2L56.8 530.6L55.4 545L54.3 559.4L62.8 563.5L57.7 559.6L58.8 545.3L60.2 531L62.1 516.7Z" fill="#9e9e9e"/><path d="M72.6 518.2L70.8 532.2L69.3 546.2L68.3 560.3L62.8 563.5L71.7 560.5L72.7 546.5L74.1 532.6L75.9 518.7Z" fill="#5c5c5c"/><path d="M60.6 503.8L59.8 509.2L67.8 514.1L76.9 511.8L77.8 506.6Z" fill="#808080"/><path d="M60.6 503.8L59.8 509.2L67.8 514.1L63.1 509.7L64 504.3Z" fill="#9e9e9e"/><path d="M74.4 506.1L73.6 511.3L67.8 514.1L76.9 511.8L77.8 506.6Z" fill="#5c5c5c"/><path d="M70.4 457.8L68.9 463.7L76.5 469.3L85.8 467.9L87.2 462.1Z" fill="#808080"/><path d="M70.4 457.8L68.9 463.7L76.5 469.3L72.2 464.5L73.7 458.6Z" fill="#9e9e9e"/><path d="M83.9 461.3L82.5 467.1L76.5 469.3L85.8 467.9L87.2 462.1Z" fill="#5c5c5c"/><path d="M80.9 422.2L75.2 440.4L82.5 446.3L91.9 445.3L97.4 427.7Z" fill="#808080"/><path d="M80.9 422.2L75.2 440.4L82.5 446.3L78.4 441.3L84.1 423.2Z" fill="#9e9e9e"/><path d="M94.2 426.6L88.6 444.3L82.5 446.3L91.9 445.3L97.4 427.7Z" fill="#5c5c5c"/><path d="M83.3 415L82 418.8L89.3 424.4L98.5 424.4L99.8 420.7Z" fill="#808080"/><path d="M83.3 415L82 418.8L89.3 424.4L85.2 419.9L86.5 416.1Z" fill="#9e9e9e"/><path d="M96.5 419.6L95.2 423.3L89.3 424.4L98.5 424.4L99.8 420.7Z" fill="#5c5c5c"/><path d="M103.4 413L108 400.8L117.4 400.6L124.1 407.2L119.6 419Z" fill="#808080"/><path d="M103.4 413L108 400.8L117.4 400.6L111.2 402.1L106.5 414.2Z" fill="#9e9e9e"/><path d="M116.4 417.8L120.9 405.9L117.4 400.6L124.1 407.2L119.6 419Z" fill="#5c5c5c"/><path d="M110.2 395.3L115.6 382.6L121.3 370L127.4 357.6L133.8 345.4L140.5 333.3L147.5 321.4L156.8 322.9L162.3 330.5L155.5 341.9L149 353.6L142.8 365.4L137 377.4L131.4 389.6L126.2 401.8Z" fill="#808080"/><path d="M110.2 395.3L115.6 382.6L121.3 370L127.4 357.6L133.8 345.4L140.5 333.3L147.5 321.4L156.8 322.9L150.4 323.2L143.4 335L136.8 347L130.4 359.2L124.4 371.5L118.7 384L113.4 396.6Z" fill="#9e9e9e"/><path d="M123.1 400.6L128.3 388.2L133.9 376L139.8 363.9L146 352L152.6 340.2L159.4 328.7L156.8 322.9L162.3 330.5L155.5 341.9L149 353.6L142.8 365.4L137 377.4L131.4 389.6L126.2 401.8Z" fill="#5c5c5c"/><path d="M151 315.8L158.8 303.8L166.8 292.1L175.2 280.5L183.9 269.3L192.9 258.2L202.2 247.4L211.8 236.9L221.6 226.6L230.3 230.1L233.9 238.7L224.4 248.7L215.1 258.9L206.1 269.3L197.4 280L189 290.9L180.9 302L173.2 313.4L165.7 325Z" fill="#808080"/><path d="M151 315.8L158.8 303.8L166.8 292.1L175.2 280.5L183.9 269.3L192.9 258.2L202.2 247.4L211.8 236.9L221.6 226.6L230.3 230.1L224 229L214.2 239.2L204.7 249.7L195.5 260.4L186.5 271.4L177.9 282.6L169.6 294L161.6 305.7L153.9 317.6Z" fill="#9e9e9e"/><path d="M162.8 323.2L170.3 311.5L178.2 300.1L186.3 288.9L194.8 277.9L203.5 267.1L212.6 256.6L221.9 246.4L231.5 236.4L230.3 230.1L233.9 238.7L224.4 248.7L215.1 258.9L206.1 269.3L197.4 280L189 290.9L180.9 302L173.2 313.4L165.7 325Z" fill="#5c5c5c"/><path d="M272.9 158.3L261.3 167L249.9 176.2L238.8 185.6L227.9 195.3L231.2 204.1L239.7 208.1L250.2 198.7L261 189.6L272 180.8L283.2 172.3Z" fill="#808080"/><path d="M272.9 158.3L261.3 167L249.9 176.2L238.8 185.6L227.9 195.3L231.2 204.1L230.2 197.8L241 188.1L252.1 178.8L263.4 169.7L274.9 161Z" fill="#9e9e9e"/><path d="M281.2 169.5L269.9 178.1L258.8 187L248 196.1L237.4 205.6L231.2 204.1L239.7 208.1L250.2 198.7L261 189.6L272 180.8L283.2 172.3Z" fill="#5c5c5c"/><path d="M284.6 149.9L280.6 152.7L282.7 161.9L290.6 166.9L294.6 164.2Z" fill="#808080"/><path d="M284.6 149.9L280.6 152.7L282.7 161.9L282.5 155.5L286.6 152.7Z" fill="#9e9e9e"/><path d="M292.6 161.4L288.7 164.2L282.7 161.9L290.6 166.9L294.6 164.2Z" fill="#5c5c5c"/><path d="M297.8 141L292.1 144.8L293.9 154.1L301.8 159.3L307.3 155.6Z" fill="#808080"/><path d="M297.8 141L292.1 144.8L293.9 154.1L294 147.6L299.7 143.9Z" fill="#9e9e9e"/><path d="M305.5 152.7L299.9 156.4L293.9 154.1L301.8 159.3L307.3 155.6Z" fill="#5c5c5c"/><path d="M314.3 152.1L321.1 147.9L328.7 153.4L330.1 162.6L323.5 166.7Z" fill="#808080"/><path d="M314.3 152.1L321.1 147.9L328.7 153.4L322.9 150.8L316.1 155Z" fill="#9e9e9e"/><path d="M321.7 163.9L328.3 159.7L328.7 153.4L330.1 162.6L323.5 166.7Z" fill="#5c5c5c"/><path d="M327.6 144L330 142.5L336.1 149L338.7 157.5L336.4 158.9Z" fill="#808080"/><path d="M327.6 144L330 142.5L336.1 149L331.7 145.5L329.3 146.9Z" fill="#9e9e9e"/><path d="M334.7 155.9L337 154.6L336.1 149L338.7 157.5L336.4 158.9Z" fill="#5c5c5c"/><path d="M340.2 136.8L343.6 134.9L350.2 141.2L351.9 150.1L348.6 151.9Z" fill="#808080"/><path d="M340.2 136.8L343.6 134.9L350.2 141.2L345.3 137.9L341.9 139.7Z" fill="#9e9e9e"/><path d="M346.9 148.9L350.3 147.1L350.2 141.2L351.9 150.1L348.6 151.9Z" fill="#5c5c5c"/><path d="M392.2 92L376 98.8L360 106.1L360.5 115.5L367.5 121.8L383 114.7L398.7 108.2Z" fill="#808080"/><path d="M392.2 92L376 98.8L360 106.1L360.5 115.5L361.5 109.2L377.3 101.9L393.5 95.2Z" fill="#9e9e9e"/><path d="M397.4 105L381.6 111.6L366 118.8L360.5 115.5L367.5 121.8L383 114.7L398.7 108.2Z" fill="#5c5c5c"/><path d="M406.8 105.9L419.3 101.3L425.6 108.2L425.1 117.6L413 122Z" fill="#808080"/><path d="M406.8 105.9L419.3 101.3L425.6 108.2L420.5 104.5L408 109Z" fill="#9e9e9e"/><path d="M411.8 118.8L424 114.4L425.6 108.2L425.1 117.6L413 122Z" fill="#5c5c5c"/><path d="M440 75.5L425.4 80L424.7 89.4L430.8 96.5L444.9 92.2Z" fill="#808080"/><path d="M440 75.5L425.4 80L424.7 89.4L426.5 83.2L441 78.8Z" fill="#9e9e9e"/><path d="M443.9 88.9L429.8 93.3L424.7 89.4L430.8 96.5L444.9 92.2Z" fill="#5c5c5c"/><path d="M452.8 71.9L445.6 73.9L444.5 83.2L450.3 90.6L457.3 88.7Z" fill="#808080"/><path d="M452.8 71.9L445.6 73.9L444.5 83.2L446.5 77.2L453.6 75.2Z" fill="#9e9e9e"/><path d="M456.4 85.4L449.4 87.4L444.5 83.2L450.3 90.6L457.3 88.7Z" fill="#5c5c5c"/><path d="M458.2 89.3L470.8 86.1L476.3 93.7L474.8 102.9L462.6 106Z" fill="#808080"/><path d="M458.2 89.3L470.8 86.1L476.3 93.7L471.6 89.4L459 92.6Z" fill="#9e9e9e"/><path d="M461.7 102.7L474.1 99.6L476.3 93.7L474.8 102.9L462.6 106Z" fill="#5c5c5c"/><path d="M476.1 84.9L480.6 83.9L485.8 91.6L484.3 100.8L479.9 101.7Z" fill="#808080"/><path d="M476.1 84.9L480.6 83.9L485.8 91.6L481.4 87.2L476.8 88.2Z" fill="#9e9e9e"/><path d="M479.2 98.4L483.6 97.4L485.8 91.6L484.3 100.8L479.9 101.7Z" fill="#5c5c5c"/><path d="M503.6 60.9L495.6 62.3L493.6 71.5L498.7 79.4L506.5 78.1Z" fill="#808080"/><path d="M503.6 60.9L495.6 62.3L493.6 71.5L496.2 65.6L504.2 64.2Z" fill="#9e9e9e"/><path d="M505.9 74.7L498.1 76.1L493.6 71.5L498.7 79.4L506.5 78.1Z" fill="#5c5c5c"/><path d="M509.7 59.9L506.4 60.4L505.5 69.4L509.2 77.6L512.3 77.1Z" fill="#808080"/><path d="M509.7 59.9L506.4 60.4L505.5 69.4L507 63.8L510.2 63.3Z" fill="#9e9e9e"/><path d="M511.8 73.8L508.7 74.3L505.5 69.4L509.2 77.6L512.3 77.1Z" fill="#5c5c5c"/><path d="M532.9 56.9L523.9 57.9L521.4 67L526.1 75.2L534.8 74.1Z" fill="#808080"/><path d="M532.9 56.9L523.9 57.9L521.4 67L524.3 61.3L533.3 60.2Z" fill="#9e9e9e"/><path d="M534.4 70.8L525.7 71.8L521.4 67L526.1 75.2L534.8 74.1Z" fill="#5c5c5c"/><path d="M541.8 74.2L544.3 74L546.8 82.5L545.8 91.2L543.5 91.4Z" fill="#808080"/><path d="M541.8 74.2L544.3 74L546.8 82.5L544.6 77.4L542.2 77.6Z" fill="#9e9e9e"/><path d="M543.2 88.1L545.5 87.8L546.8 82.5L545.8 91.2L543.5 91.4Z" fill="#5c5c5c"/><path d="M549 73.6L570.3 72.3L574.2 80.8L571 89.5L550.4 90.8Z" fill="#808080"/><path d="M549 73.6L570.3 72.3L574.2 80.8L570.4 75.7L549.3 77Z" fill="#9e9e9e"/><path d="M550.1 87.4L570.8 86.1L574.2 80.8L571 89.5L550.4 90.8Z" fill="#5c5c5c"/></g><path d="M395.3 1104.2L371.8 1119.3" stroke="#1c1cb4" stroke-width="0.8" fill="none"/><text x="348.6" y="1129.8" font-size="13.7" fill="#1c1cb4">IS1006</text><path d="M426.7 1114.6L408.4 1133.7" stroke="#1c1cb4" stroke-width="0.8" fill="none"/><text x="385.2" y="1144.2" font-size="13.7" fill="#1c1cb4">ISVsa3</text><path d="M456.2 1123.2L450.8 1145.5" stroke="#8c8c8c" stroke-width="0.8" fill="none"/><text x="432.5" y="1159.3" font-size="13.7" fill="#8c8c8c">glmM</text><path d="M479.8 1128.5L489.4 1152" stroke="#e31a1a" stroke-width="0.8" fill="none"/><text x="477" y="1164.5" font-size="13.7" fill="#e31a1a">sul2</text><path d="M520.3 1132.4L529.2 1159.8" stroke="#1c1cb4" stroke-width="0.8" fill="none"/><text x="506.7" y="1171" font-size="13.7" fill="#1c1cb4">ISAba1</text><text x="592" y="592.7" font-size="23.9" fill="#000" text-anchor="middle">pAP8900-1</text><text x="592" y="631" font-size="23.9" fill="#000" text-anchor="middle">86,394 bp</text><g><path d="M592.6 1386.3l0 -7.1M595 1386.2l0 3.6M596.2 1385.7l-0.1 8.9M597.4 1385l0 -1.7M598.6 1385.2l-0.1 6.8M599.8 1385.1l-0.2 8.1M601 1384.8l-0.1 2.7M602.2 1384.7l-0.4 14M603.4 1385.1l0 -1.1M604.6 1384.8l0.1 -3.6M605.8 1384.4l0 0.6M607 1384.6l0.1 -3.7M608.2 1385.8l-0.3 7.1M610.6 1385.3l0.2 -3.3M611.8 1385.4l0.1 -1.3M613 1385.3l0.2 -3.6M614.2 1385l0.3 -4.6M615.4 1385.4l-0.5 7.9M616.6 1385.2l0 0.6M617.8 1384.8l-0.3 4.9M619.1 1384.4l-0.7 10.8M620.3 1384.4l0.6 -8.7M621.4 1385l-0.1 1.8M622.7 1384.6l-0.1 1.9M623.9 1384.8l0.1 -1.1M625.1 1384.9l-0.4 4.4M626.3 1384.7l-0.5 6.3M627.5 1384.7l0.1 -1.7M628.8 1384.1l-0.1 1M630 1384.2l0.5 -5.7M631.3 1383.5l-0.2 1.8M632.4 1384l0.1 -1.4M633.6 1384.2l0.7 -6.8M634.7 1385.5l-0.5 5M636 1384.8l-0.4 3.7M637.2 1385l-0.2 1.3M638.4 1385.4l0.3 -2.2M639.6 1384.9l0.8 -6.4M640.8 1385l-0.3 2.2M642.1 1384.7l0.5 -4.1M643.3 1384.4l-0.3 2.1M644.6 1384l0.9 -6.7M645.8 1384l0.6 -4.4M647.1 1383.5l-0.6 4.2M648.3 1383.7l-0.3 2.3M649.5 1384.2l-0.6 4M650.7 1384.4l0.8 -5.8M651.9 1384.4l1.1 -7.5M653.1 1384.9l-0.7 4.4M654.3 1385.1l0.2 -1.4M655.6 1384.7l0.5 -3.4M656.7 1385.2l0.1 -0.8M657.9 1385.2l0.6 -3.6M659 1386.1l1.7 -10.1M660.3 1385.8l-0.3 1.7M661.4 1386.5l-1 6M662.7 1386.4l1.3 -7.2M663.9 1386.2l-1 5.6M664.9 1387.8l-0.2 1M666.1 1388l-0.6 3.4M667.2 1388.5l3 -15.9M668.5 1388.3l-0.8 4.1M669.5 1389.6l2.1 -10.8M670.7 1389.6l-0.1 0.8M672 1389.1l-1.9 9.5M673.2 1389.4l-2.8 13.7M674.5 1389.3l1.9 -9.3M675.7 1389.3l2.5 -12M676.8 1390.2l0.4 -1.7M677.7 1391.5l0.5 -2.3M678.9 1391.8l-1 4.4M680.1 1391.9l0.2 -1M681.3 1392.1l-0.2 1M682.3 1392.9l-1.5 6.4M683.5 1393.4l-1.2 5.3M684.7 1393.4l0.3 -1.2M685.7 1394.5l0.3 -1.1M686.7 1395.2l-0.8 3.1M687.9 1395.5l-1.8 7.2M689.1 1395.6l5.3 -21.2M690.4 1395.5l-1.1 4.2M691.6 1395.5l-1.1 4.2M692.9 1395.3l1.4 -5.5M694.1 1395.6l-1.7 6.6M695.3 1395.8l0.5 -1.8M696.4 1396.3l-1.6 5.8M697.7 1396.1l-1 3.8M698.5 1397.7l-0.6 2M699.6 1398.5l-2.3 8.1M700.7 1399l-3.8 13.5M701.8 1399.4l-1.4 4.8M703 1399.6l-0.4 1.4M704.3 1399.5l-0.4 1.5M705.5 1399.7l-1.3 4.5M706.4 1400.9l-1.8 6.1M707.6 1401.1l2 -6.6M708.8 1401.3l-2.6 8.6M709.7 1402.4l2.2 -7.3M711.1 1402l-0.5 1.5M712.3 1402.3l0.9 -2.7M713.2 1403.4l-1.2 3.8M714.5 1403.2l0.7 -2.2M716.6 1404.5l1.7 -5.1M717.6 1405.3l0.5 -1.5M718.7 1405.8l1.9 -5.8M719.8 1406.3l-1.3 4M720.9 1406.7l-1 3.1M722.1 1406.9l-0.8 2.3M723.1 1407.6l-1.4 4.2M724.1 1408.4l1.5 -4.3M725.4 1408.3l-1.6 4.5M726.8 1408l-1 2.9M728.1 1407.9l-3.4 9.5M729.1 1408.8l-4.8 13.2M730.1 1409.6l4 -11M731.1 1410.3l-0.9 2.3M732.4 1410.2l2.2 -5.9M733.5 1410.7l0.3 -0.9M734.4 1411.8l0.3 -0.7M735.4 1412.6l-3.1 8.1M736.4 1413l1 -2.5M737.8 1412.8l-0.6 1.4M739.1 1412.9l0.4 -0.9M740.1 1413.5l1.3 -3.2M741.2 1414l0.9 -2.3M743.4 1415.1l-4 9.7M744.3 1415.9l0.4 -1M745.9 1415.1l1.3 -3M747.1 1415.5l-0.8 1.9M748.2 1416l2.3 -5.4M749.4 1416.2l-5.5 12.9M750.3 1417.3l2.6 -6.1M751.3 1418l6.4 -14.9M752.4 1418.3l-5.6 12.7M753.2 1419.4l-1.4 3.3M754.3 1419.9l0.6 -1.3M755.4 1420.6l1.6 -3.7M756.3 1421.4l-2.5 5.6M757.6 1421.4l1.3 -2.9M759 1421.2l1.3 -2.9M760.3 1421.3l1.7 -3.7M761 1422.7l-5.9 12.7M763 1424.1l-3.3 7M764 1424.8l5.9 -12.4M764.9 1425.5l-1.5 3.2M766.2 1425.6l3.8 -7.9M767.8 1427.8l-2.6 5.3M768.7 1428.7l-2.8 5.7M770 1428.8l3.7 -7.5M771.5 1428.4l-3.2 6.4M772.7 1428.6l1.1 -2.1M773.9 1429.1l3.1 -6.2M774.8 1429.8l2 -3.9M775.7 1430.7l-0.6 1.3M776.7 1431.4l-0.5 1M778 1431.4l0.4 -0.7M778.8 1432.6l-0.7 1.3M779.4 1433.9l-2.7 5M780.5 1434.5l-2.8 5.3M781.5 1435.1l-4.4 8.1M783.9 1438.2l1.1 -1.9M784.7 1439.2l0.5 -0.9M786.1 1439l-4.3 7.8M787.4 1439.3l-1.8 3.2M788 1440.6l-2.8 4.9M789 1441.2l1.4 -2.4M790.4 1441.2l3.4 -5.8M791.8 1441.1l4.8 -8.2M793.1 1441.3l-0.9 1.5M794.2 1441.7l-2.4 4.1M794.9 1442.9l-0.9 1.6M796 1443.4l-0.6 0.9M798 1444.8l-2.7 4.5M799.2 1445l-2.9 4.7M800.4 1445.3l-0.9 1.4M801.1 1446.6l3.2 -5.2M802.3 1446.9l1.5 -2.5M803.3 1447.5l-1.7 2.7M804.1 1448.4l1.5 -2.4M804.9 1449.4l6.7 -10.6M805.8 1450.3l2.4 -3.8M806.5 1451.3l-7.3 11.4M808.3 1450.8l1.8 -2.7M809.4 1451.3l2.9 -4.4M811.8 1451.9l1.5 -2.4M813.1 1452.1l3.2 -4.8M814.2 1452.7l1.9 -2.9M815.4 1452.9l1.8 -2.7M816.8 1453.1l-4.2 6.2M818 1453.4l-7.2 10.6M818.6 1454.6l-3.1 4.6M819.4 1455.7l0.4 -0.6M820.4 1456.3l5.4 -7.8M820.9 1457.8l-0.8 1.2M821.5 1459l-2.4 3.4M823.5 1460.2l0.9 -1.2M824.1 1461.4l7.1 -9.9M824.9 1462.4l-6 8.4M825.4 1463.7l7.2 -10M826.4 1464.4l-5.5 7.6M827.5 1464.9l1.5 -2.1M828.6 1465.5l-2.6 3.6M829.4 1466.3l-1.5 2M831 1466.2l-1 1.3M831.8 1467.2l-3.4 4.5M832.8 1467.7l-8.4 11.2M833.8 1468.5l0.4 -0.5M834.9 1468.9l-6.3 8.3M836.1 1469.4l1.6 -2.1M837.5 1469.5l3.5 -4.5M838.8 1469.7l-8.6 11M840 1470.3l4.4 -5.7M840.7 1471.3l5.3 -6.7M841.3 1472.4l5.5 -7M842.2 1473.2l6.6 -8.2M842.9 1474.3l-8.8 10.9M843.9 1474.9l-3.5 4.3M844.5 1476l-5 6.1M845.7 1476.5l-0.9 1.2M846.9 1477l3.5 -4.2M847.9 1477.6l-8.9 10.8M849.3 1477.8l-0.9 1.1M851.6 1480.7l-7.7 9.1M852.6 1481.3l-3.3 3.8M853.5 1482.2l5.7 -6.7M854.2 1483.2l3.2 -3.7M855.4 1483.6l-3.4 3.9M856.5 1484.2l2.3 -2.6M857.6 1484.7l-4.1 4.7M858.6 1485.4l-5.5 6.2M859.7 1485.9l-0.7 0.7M860.4 1487l5.8 -6.4M861.3 1487.9l-9.4 10.4M862 1488.9l-1.7 1.9M863.7 1490.5l0.4 -0.5M863.8 1492.1l7.4 -8M864.7 1493l1.4 -1.5M865.7 1493.7l4 -4.2M866.4 1494.7l-2.5 2.6M867.9 1494.8l1.2 -1.3M868.9 1495.6l6.2 -6.5M869.8 1496.3l-1.3 1.3M870.7 1497.1l-4.7 4.9M872.2 1497.3l2.3 -2.3M873.6 1497.6l-2.3 2.4M874.3 1498.6l1.7 -1.7M875.7 1500.6l3.4 -3.4M876.7 1501.3l5.5 -5.5M877.4 1502.3l-2.3 2.3M878.1 1503.3l3.9 -3.8M879.1 1504l4.6 -4.5M880.1 1504.7l2.6 -2.5M880.1 1506.3l1.8 -1.8M880.9 1507.3l-7.2 6.9M881.9 1508l8.8 -8.5M882.8 1508.8l-1.2 1.2M883.9 1509.4l6.7 -6.4M885.1 1511.6l4.2 -3.9M885.7 1512.6l2.2 -2M887.4 1514.4l-1.4 1.2M888.6 1514.9l5.6 -5.1M889.3 1515.9l5.5 -5M890.4 1516.5l-2.4 2.2M891.3 1517.3l-1.7 1.6M891.9 1518.4l-5.8 5.2M892.9 1519.1l4.4 -3.9M893.5 1520.2l1.8 -1.6M894 1521.3l-2.8 2.5M894.4 1522.6l0.6 -0.5M895.2 1523.5l-6.2 5.3M895.8 1524.5l10.9 -9.3M896.2 1525.8l-9.8 8.4M896.7 1526.9l-6.1 5.2M897.3 1528l4.3 -3.7M898.5 1528.6l-3.8 3.2M899.2 1529.5l-1.5 1.3M899.5 1530.8l6.3 -5.2M900.2 1531.8l9.8 -8M901.5 1532.3l-1 0.8M902.4 1533.1l-1.1 0.9M903.1 1534.1l1.2 -1M903.5 1535.3l2.1 -1.7M904.2 1536.3l-1.6 1.3M904.8 1537.3l2.1 -1.7M905.9 1538l3.6 -2.9M907.2 1538.5l5.4 -4.2M907.5 1539.7l2.2 -1.7M907.9 1540.9l-2.6 2.1M908.7 1543.4l4.4 -3.3M909.3 1544.4l-4.4 3.3M910.5 1545l7.9 -5.9M911.5 1545.7l3.7 -2.8M912.1 1546.8l-1.8 1.3M912.5 1548l8.1 -6M913.3 1548.9l-5.4 4M915.7 1550l-7.7 5.6M916.3 1551.1l-1.6 1.2M917.7 1551.6l2 -1.4M918.5 1552.5l5.9 -4.2M920.3 1552.7l3.1 -2.2M920.9 1553.8l4 -2.8M921.8 1554.6l-3.6 2.5M922.6 1555.5l-1 0.7M923.5 1556.4l-1.3 0.9M924.1 1557.4l3.4 -2.3M924.4 1560.1l-11.2 7.6M925 1561.2l-1.8 1.2M926.4 1563.1l8.5 -5.7M927.5 1563.8l-5 3.3M928.3 1564.7l-1.7 1.1M929.9 1565.1l6.5 -4.3M930.2 1566.3l-3.3 2.1M931.5 1568.4l2.4 -1.5M931.6 1569.8l10 -6.4M932.4 1570.7l3.3 -2.1M933.6 1571.4l-3.2 2M934.2 1572.4l2.4 -1.5M934.9 1573.4l7.9 -4.9M935.6 1574.4l2.3 -1.4M936.6 1575.2l2.3 -1.4M937.3 1576.2l3 -1.8M938 1577.2l-10 6.1M938.2 1578.4l-2.5 1.5M938.8 1579.5l4.5 -2.7M939.3 1580.6l-10 5.9M939.9 1581.7l-4.9 2.9M940.2 1582.9l3.3 -1.9M940.2 1584.3l-10.9 6.3M941 1585.2l11.6 -6.6M941.9 1586.1l2.8 -1.6M943 1586.8l-6.9 3.9M944.1 1587.6l2.3 -1.3M943.5 1589.3l3.7 -2.1M943.9 1590.5l8.4 -4.7M944.2 1591.7l-6.3 3.5M945 1592.6l-1.9 1M945.5 1593.7l-2 1.1M946.7 1594.4l9.4 -5.1M947.3 1595.5l3 -1.6M948.1 1596.4l-1.5 0.8M948.2 1597.7l-0.8 0.4M948.7 1598.8l1 -0.5M950.2 1600.8l17.7 -9.2M950.2 1602.2l2.9 -1.5M950.9 1605.8l1.7 -0.9M951.8 1606.7l2.6 -1.3M951.4 1608.2l5.5 -2.7M952.3 1609.2l-3.4 1.7M952.9 1610.2l-2.7 1.3M953.3 1611.3l11.5 -5.6M953.6 1612.5l-6.1 2.9M954.6 1613.4l-7.6 3.6M955.3 1614.4l5.7 -2.7M956.2 1615.3l-5.4 2.5M957.2 1616.1l2 -0.9M958.4 1616.9l-2.3 1.1M959.1 1617.9l3.6 -1.6M959.1 1619.2l-7.1 3.2M959.4 1620.4l8.7 -3.9M960 1621.5l-9.3 4.2M960.5 1622.6l1.9 -0.8M961 1623.7l1.8 -0.8M961.7 1624.7l-4.4 1.9M962.7 1625.6l2.4 -1M962.8 1626.8l-9.7 4.2M963.2 1628l4.1 -1.8M963.4 1629.2l-2.4 1M963.6 1630.4l2.7 -1.1M964.3 1631.4l-5.7 2.4M965.1 1632.5l2 -0.8M965.7 1633.5l-3.2 1.3M966 1634.7l1.7 -0.7M966.5 1635.8l-6.9 2.8M966.7 1637l10.6 -4.2M968.5 1638.9l4.9 -1.9M968.2 1640.3l-4.9 1.9M968.9 1641.3l3.5 -1.4M968.5 1642.8l4 -1.5M969 1643.9l-6.7 2.5M968.9 1645.2l-8.6 3.2M968.6 1646.6l5 -1.9M969.5 1647.5l-1.5 0.5M969.9 1648.7l7 -2.5M970.4 1649.8l-1.1 0.4M971 1650.8l-3.3 1.2M971.5 1651.9l15.1 -5.3M971.5 1653.2l8.6 -3M972 1654.3l8.5 -2.9M972.2 1655.5l1.7 -0.6M972.5 1656.7l-6.2 2.1M972.9 1657.8l0.6 -0.2M973.2 1659l-13.3 4.4M972.6 1660.4l2.4 -0.8M973.5 1662.7l8.5 -2.7M973.7 1663.9l-3.5 1.1M974.4 1664.9l-3.9 1.2M974.4 1666.2l-6.9 2.2M974.6 1667.4l-4.5 1.4M975 1668.5l-1.1 0.3M975 1669.7l14 -4.3M975.8 1670.8l4.8 -1.4M976.4 1671.8l2.4 -0.7M976.3 1673.1l6.3 -1.9M976.9 1674.2l-3 0.9M977.8 1675.2l-2.7 0.8M977.7 1676.4l2.5 -0.7M977.8 1677.7l3.4 -1M978 1678.8l15.3 -4.2M978.5 1679.9l2.4 -0.6M979.5 1680.9l4 -1.1M979.5 1682.2l-6.9 1.9M979.4 1683.4l6.5 -1.7M980.3 1684.4l5.8 -1.5M979.6 1687.1l3.5 -0.9M979.2 1688.4l-13.6 3.4M979.5 1689.6l-6.2 1.5M980.4 1690.6l6.2 -1.5M981.2 1691.6l-0.8 0.2M981.6 1692.8l3.2 -0.8M982.3 1693.8l-3 0.7M982.2 1695.1l-7.5 1.7M982.6 1696.2l2.7 -0.6M983 1697.4l-6 1.3M983.5 1698.5l-2.6 0.6M983.7 1699.7l10.3 -2.3M983.8 1700.9l-5.6 1.2M983.8 1702.1l10.6 -2.3M984.4 1703.2l2.7 -0.6M984.8 1704.3l6.9 -1.4M985 1705.5l-0.9 0.2M985.3 1706.7l6.1 -1.2M986 1707.8l-6.2 1.2M986.4 1708.9l2.5 -0.5M986.1 1710.2l-0.8 0.2M986.8 1711.3l2.6 -0.5M987.2 1712.5l10.2 -1.9M987 1713.7l-4.9 0.9M986.4 1715l3.6 -0.6M986.4 1716.3l11.9 -2.1M986 1717.5l-4 0.7M986.5 1718.7l-3.9 0.7M986.7 1719.9l-10.3 1.7M987.4 1720.9l-4.1 0.7M988.5 1722l-3.6 0.6M988.5 1723.2l-0.6 0.1M989 1724.3l-2.3 0.4M988.4 1725.6l5.6 -0.8M988.5 1726.8l-1.2 0.2M988.3 1728.1l1.9 -0.3M988.3 1729.3l1.5 -0.2M988.4 1730.5l11.7 -1.6M988.9 1731.6l2.3 -0.3M989.1 1732.8l4.6 -0.6M988.9 1734l5.8 -0.8M989.3 1735.2l8.3 -1.1M989.4 1736.4l-6 0.8M989.3 1737.6l-12 1.5M989.4 1738.8l-8.5 1M989.2 1740l6.2 -0.7M989.4 1741.2l2.2 -0.2M989.1 1742.5l10.2 -1.1M988.8 1743.7l5.8 -0.6M988.8 1744.9l11.9 -1.2M989.5 1746l-4.3 0.4M990 1747.2l-13.9 1.4M990.5 1748.3l-2.2 0.2M991.2 1749.5l-2.4 0.2M992.5 1750.6l-6 0.5M992.1 1751.8l-7.6 0.7M992.1 1753l6.6 -0.5M992.1 1754.2l0.8 -0.1M992.5 1755.4l8.6 -0.7M992.4 1756.6l3.5 -0.3M992.8 1757.8l2.1 -0.1M993.5 1758.9l1.3 -0.1M993.3 1760.1l-6 0.4M993.5 1761.3l-4.8 0.3M993.3 1762.6l-1.2 0.1M993.7 1763.7l2.4 -0.1M994.5 1764.9l-2.1 0.1M993.6 1766.2l-8.4 0.4M993.9 1767.3l3.1 -0.1M993.4 1768.6l3 -0.1M994.1 1769.8l-2 0.1M993.9 1771l4.7 -0.2M993.3 1772.2l2.4 -0.1M993.7 1773.4l-14 0.4M994 1774.6l-8.1 0.2M993.9 1775.8l-7.5 0.2M994.1 1777l-3.8 0.1M995.1 1778.2l8.9 -0.2M995.5 1779.4l13 -0.2M996.6 1781.8l-0.6 0M996.7 1783l-0.8 0M995.9 1784.2l2.6 0M995.8 1785.4l-11.3 0M996 1786.6l-2.4 0M995.9 1787.8l-0.6 0M997.1 1789l1.8 0M997 1790.2l0.9 0M997.5 1791.5l1.5 0M997.5 1793.9l-6.6 -0.1M997.3 1795.1l4.1 0.1M996.9 1796.3l-1.5 0M997.2 1797.5l1.9 0.1M997.3 1798.7l-2.2 -0.1M997.2 1799.9l-7.2 -0.2M997.3 1801.2l-3.9 -0.1M996.8 1802.4l15.4 0.6M997 1803.6l-1.9 -0.1M996.9 1804.8l-1.2 -0.1M996.4 1806l-3.8 -0.2M996.4 1807.2l3.8 0.2M996.1 1808.4l3.6 0.2M995.9 1809.6l5.1 0.3M993.7 1811.9l-3 -0.2M993.6 1813.1l7.1 0.5M992.7 1814.2l-2.9 -0.2M992.3 1815.4l1.4 0.1M991.9 1816.6l2.8 0.2M991 1817.7l3.2 0.3M990.7 1818.9l-7.7 -0.6M990.9 1820.1l4 0.3M990.4 1821.3l6.6 0.6M990 1822.4l-12.7 -1.2M990.3 1823.6l4 0.4M990.1 1824.8l-4 -0.4M990.1 1826l4.4 0.4M990.1 1827.2l-2.2 -0.2M989.9 1828.4l-5.5 -0.6M990.3 1829.7l8.7 1M990.2 1830.9l8.9 1M990 1832l9.2 1.1M989.6 1833.2l3.8 0.4M989.6 1834.4l-6.2 -0.7M990.4 1835.7l7.8 1M990.6 1837l-3.3 -0.4M990.6 1838.2l-1.5 -0.2M989.7 1839.3l-5.9 -0.8M989.6 1840.5l0.9 0.1M989.1 1841.6l-12.4 -1.7M988.4 1842.7l8.3 1.2M987.9 1843.9l-3.6 -0.5M987.4 1845l7.2 1.1M987.1 1846.2l-7.5 -1.1M986.7 1847.3l1.1 0.2M986.1 1848.4l1 0.2M985.8 1849.6l-6.8 -1.1M985.4 1850.7l5 0.8M985 1853.1l-6 -1M984.5 1854.2l3.4 0.6M984 1855.3l-1.3 -0.2M984.2 1856.6l10.7 1.9M983.8 1857.7l14.2 2.6M983.8 1860.1l3.3 0.6M983.6 1861.3l7.2 1.4M983.3 1862.5l-5.8 -1.1M982.6 1863.6l5.5 1.1M982.5 1866l-3 -0.6M981.5 1867l6.9 1.4M980.8 1868l-0.9 -0.2M980 1869.1l0.8 0.2M979.9 1870.3l4.5 1M979.6 1871.4l3.8 0.8M979.9 1872.7l-2.6 -0.6M979.9 1873.9l1.5 0.3M980.2 1875.2l-13.6 -3.1M980.7 1876.6l1.7 0.4M981.6 1878l3.2 0.8M981.4 1879.2l0.6 0.1M981 1880.3l1.3 0.3M980.9 1881.5l2.6 0.6M979.8 1882.5l-7.8 -1.9M979.8 1883.7l0.5 0.1M979.3 1884.8l-1.1 -0.3M979.1 1886l-12.8 -3.3M978.4 1887.1l19.1 5M978 1888.2l2.2 0.6M977.2 1889.2l-5.8 -1.6M976.7 1890.3l-0.7 -0.2M976.1 1891.4l9.8 2.7M976 1892.6l-2.9 -0.8M976.7 1894l-1.3 -0.4M976.2 1895.1l-4.2 -1.2M976.1 1896.3l4.8 1.4M975.2 1897.3l3.7 1.1M974.5 1898.4l4.8 1.4M973.7 1899.4l2.7 0.8M974.2 1900.8l8.7 2.6M973.7 1901.9l-7.1 -2.1M973.7 1903.1l-1.5 -0.5M973.7 1904.4l7.8 2.4M973.6 1905.6l-4.5 -1.4M973.6 1906.8l-1.2 -0.4M973.3 1908l1.5 0.5M973.4 1909.3l-3.8 -1.2M973.4 1910.6l6.3 2M972.8 1911.6l-5.7 -1.9M972.3 1912.7l-4.3 -1.4M971.5 1913.7l7.7 2.6M970.7 1914.7l1.7 0.6M969.9 1917l-3.7 -1.3M969 1917.9l6.6 2.3M968.4 1919l4.5 1.6M967.8 1920l-8.2 -2.9M967.3 1921.1l5.4 1.9M966.9 1922.2l4.6 1.7M966.7 1923.4l0.9 0.3M966.6 1924.7l11.8 4.4M966 1925.7l2.7 1M965.7 1926.9l5 1.9M965.6 1928.1l-13.1 -5M966 1929.6l-6.6 -2.5M965.3 1931.9l6.3 2.5M965.2 1933.1l-0.7 -0.3M964 1933.9l0.6 0.2M963.7 1935.1l-3.3 -1.3M962 1935.7l13.1 5.3M960.7 1936.5l-12.7 -5.2M959.7 1937.3l-11.9 -4.9M958.9 1938.3l-1.6 -0.7M959.4 1939.8l-2.6 -1.1M958.7 1940.8l-4.8 -2M958.1 1941.8l7.6 3.2M957.4 1942.8l-12.9 -5.5M957.1 1944l8.4 3.6M956.7 1945.1l-6.9 -3M956.6 1946.4l1.3 0.6M955.8 1947.3l-1.5 -0.7M955.1 1948.3l-6.4 -2.8M954.7 1949.5l-6.3 -2.9M954.1 1950.5l-6.1 -2.8M953.7 1951.6l-12.7 -5.8M952.5 1952.3l3.8 1.7M952 1953.4l3.4 1.6M951 1955.6l1 0.5M950.2 1956.5l-5.1 -2.4M950.2 1957.8l2 1M949.3 1958.7l1.9 0.9M948.9 1959.9l-10.9 -5.3M947.7 1960.6l-2.6 -1.3M947.1 1961.6l5.3 2.6M945.7 1962.2l10.8 5.4M945 1963.2l1.6 0.8M944.7 1964.4l-2.4 -1.2M944.4 1965.6l9.2 4.7M943.7 1966.5l6.4 3.3M943.8 1967.9l0.5 0.3M943.4 1969l-3 -1.6M943.4 1970.4l-7.6 -4M943.2 1971.6l13.7 7.2M942.9 1972.8l-0.5 -0.3M942.5 1973.9l-1.4 -0.8M941.5 1974.8l-4.9 -2.6M940.8 1975.7l3.1 1.7M940.6 1977l-2.4 -1.3M939.7 1977.8l6.4 3.5M938.8 1978.7l-7.7 -4.3M938.3 1979.8l-8.9 -5M937.5 1980.7l6.8 3.9M936.7 1981.6l3.9 2.2M935.8 1982.4l8.5 4.8M935.4 1983.6l-0.8 -0.5M934.8 1986l5.3 3.1M933.6 1986.7l-6.1 -3.6M933 1987.7l-2.8 -1.6M932.6 1988.8l-8.2 -4.9M931.7 1989.6l1.6 1M931.7 1991l-1 -0.6M931.9 1992.6l-2.3 -1.4M931.4 1993.7l1.7 1.1M930.9 1994.7l4.9 3M930.3 1995.7l3.8 2.4M929.9 1996.9l2.2 1.4M929.9 1998.3l10.3 6.5M928.8 1999l-0.9 -0.6M928 1999.9l-11.8 -7.5M926.8 2000.6l-0.6 -0.4M925.7 2001.3l2.5 1.6M925.7 2002.7l-4.2 -2.7M925.5 2004l5.2 3.4M924.7 2004.9l-2.1 -1.4M924.2 2006l8.9 5.9M923.7 2007.1l-9.4 -6.3M923.3 2008.3l-1.9 -1.3M922.7 2009.3l7.9 5.3M922.2 2010.4l6.1 4.2M921.6 2011.4l1.4 0.9M911.5 2023.3l8.4 6.2M911.3 2024.6l4.7 3.5M910.2 2025.3l7 5.3M909.1 2025.9l5.9 4.5M908.3 2026.9l1.6 1.2M908.4 2028.4l-2.3 -1.7M908.3 2029.8l-5.2 -4M907 2030.3l0.6 0.4M906.6 2031.5l7.6 5.9M906 2032.6l-1.5 -1.2M905.3 2033.5l6.5 5.1M904.8 2034.7l-5.2 -4.1M904.5 2036l-0.7 -0.5M904.1 2037.2l5.2 4.2M904 2038.6l-7.6 -6.1M903.4 2039.7l1.6 1.3M902.7 2040.7l6.9 5.6M901.5 2041.3l-4.2 -3.5M900.7 2042.2l-0.5 -0.4M899.9 2043.1l-2.4 -2M900.1 2044.8l4.6 3.9M898.9 2045.3l8.6 7.3M897.3 2045.6l-3.7 -3.1M895.5 2047.2l-2.6 -2.3M894.5 2047.9l-5.2 -4.5M893.8 2048.8l0.7 0.6M892.8 2049.6l-3.8 -3.3M892.3 2050.7l-1.1 -1M843.5 2098.5l-4.5 -5.6M842.4 2101l2 2.6M840.2 2102.1l-4.9 -6.3M839.2 2102.8l6.7 8.6M838.6 2103.9l-3 -3.9M837.7 2104.8l6.7 8.7M836.2 2106.7l2.5 3.2M835.1 2107.3l-1.9 -2.6M833.9 2107.7l4.1 5.4M833.2 2108.7l-8.4 -11.2M832.3 2109.5l4.6 6.2M831.4 2110.4l3.9 5.3M830.6 2111.3l2.6 3.5M829.6 2112.1l-7.1 -9.8M828.6 2112.7l-3.4 -4.7M827.6 2113.4l-2.5 -3.5M827.4 2115.2l-4.9 -6.9M826.6 2116.1l3.1 4.4M825.2 2116.2l-3.7 -5.2M824.7 2117.6l3.9 5.6M822.4 2118.6l2 2.9M821.2 2118.9l0.4 0.6M820.7 2120.4l-4.7 -6.9M818 2120.8l-0.9 -1.3M817.4 2122l6.3 9.4M816.5 2122.8l-4.6 -6.9M815 2122.7l2.2 3.3M814.2 2123.7l5.2 8M813 2124.1l-2.4 -3.7M811.9 2124.6l0.8 1.2M810.7 2124.9l-2.7 -4.2M809.5 2125.4l-4.3 -6.8M808.3 2125.7l-1.1 -1.7M807.1 2126l4.5 7.1M806 2126.6l1.2 2M805.2 2127.6l2.4 3.9M804 2128l-1.3 -2.1M803 2128.6l-2.9 -4.8M802.1 2129.4l-6.3 -10.3M801.1 2130.1l-3.5 -5.7M800.4 2131.3l11.4 18.8M774.4 2146.6l-6.3 -12.5M773.2 2147l-0.5 -0.9M770.6 2147.1l3 6.1M769.5 2147.7l-1.4 -2.8M768.3 2148l-2.7 -5.6M767.3 2148.6l2.2 4.6M766.5 2149.7l-0.9 -1.8M765.9 2151.4l-0.3 -0.6M764.5 2151.1l-3.1 -6.5M762.3 2152.1l6.5 13.9M761.1 2152.4l0.4 0.9M760 2153l4.2 9.3M759.3 2154.2l-0.2 -0.5M757.8 2154l-1.5 -3.2M756.7 2154.5l-4.6 -10.3M755.4 2154.5l1.2 2.8M754.3 2154.9l-1.3 -2.9M753.3 2155.6l1.5 3.4M752.3 2156.5l0.4 0.9M751.3 2157.2l0.3 0.8M750.3 2157.8l0.4 0.9M749.2 2158.4l0.8 1.8M748 2158.7l-0.5 -1.1M746.7 2158.8l-1.4 -3.3M745.7 2159.3l1.5 3.6M744.3 2159.2l0.6 1.5M742.7 2158.6l0.5 1.3M741.7 2159.1l-0.5 -1.2M740.7 2159.9l-3 -7.6M739.5 2160.1l2.3 5.7M737.9 2159.4l-1.8 -4.5M737.4 2161.4l-0.9 -2.4M736.2 2161.7l-1 -2.7M735.1 2162.2l-2.6 -6.8M732.7 2162.6l-0.5 -1.3M731.5 2162.9l1.2 3.1M730.2 2162.8l-0.8 -2.1M729.1 2163.3l4 10.9M727.7 2163l-0.6 -1.7M726.6 2163.4l1.4 3.8M725.4 2163.6l4.7 13.4M724.3 2164.2l-2.9 -8.4M722.9 2163.6l2.5 7.1M721.6 2163.6l0.8 2.4M720.4 2163.9l4.7 13.7M719.2 2164l0.7 2M718 2164l3.3 9.8M716.8 2164.3l1.9 5.6M715.7 2164.7l-0.2 -0.6M714.7 2165.6l0.4 1.3M713.7 2166.3l0.6 1.9M712.6 2167l0.9 2.9M710.5 2168.2l-0.8 -2.6M708.4 2169.5l2.4 8M707.1 2169.3l-0.7 -2.3M706.1 2170.3l-0.4 -1.3M703.6 2170.3l1.9 6.4M702.6 2171l0.8 2.8M701.5 2171.5l0.3 1.1M700.2 2171.4l1.3 4.8M699 2171.4l-1 -3.8M697.8 2171.7l1.2 4.3M696.8 2172.6l-0.2 -0.7M694.6 2173.5l-0.5 -1.8M693.6 2174.4l-0.4 -1.4M692.3 2174.2l-0.5 -2M691.1 2174.4l-2 -7.8M689.9 2174.5l-0.7 -2.7M688.7 2174.7l-0.7 -2.8M687.4 2174.6l0.4 1.8M686.3 2174.9l0.2 0.9M685.1 2175.3l1 4.1M682.8 2175.7l0.8 3.3M681.8 2176.7l-1.5 -6.4M680.7 2177.2l0.4 1.6M679.4 2177l-0.4 -1.7M678.2 2177.3l-0.3 -1.3M677.2 2178.3l0.9 4.2M675.8 2177.1l3 14.2M674.6 2177.5l-2.9 -13.7M673.4 2177.7l1.3 6.1M672.2 2177.9l-0.2 -0.9M671 2177.9l-1 -5M670 2178.7l-0.4 -2M668.9 2179.7l0.7 3.6M667.7 2179.8l0.6 3.3M666.6 2180.4l-0.3 -1.6M664.2 2180.3l-1.3 -6.9M663.1 2181.1l1.3 7.4M662 2181.6l0.3 1.6M660.9 2182.4l-0.6 -3.4M659.7 2182.6l-0.6 -3.7M658.5 2182.7l-1.1 -6.7M657.3 2183.2l-1.3 -7.6M656.2 2183.3l1.1 6.9M654.9 2183.2l-1.2 -7.6M653.7 2183l0.3 1.7M652.5 2183.1l2.7 17.4M651.3 2183.2l-0.2 -1.1M650 2183.1l0.8 5.2M648.9 2183.4l-0.2 -1.1M647.6 2183.1l-0.5 -3.4M646.4 2183.5l0.8 5.7M644 2183.4l-0.6 -4.9M642.9 2184.4l-1.6 -12.3M641.8 2184.8l0.1 0.9M640.6 2184.9l0.6 4.7M639.4 2185.4l2.3 19.4M638.3 2186l0.1 0.7M637 2185.4l0.7 5.9M635.8 2185.7l0.5 4.5M634.6 2185.5l0.4 3.7M633.4 2185.2l1.3 12.7M632.2 2185.8l-0.1 -0.7M631 2186.1l-0.5 -4.7M629.8 2186.2l-0.9 -9M628.6 2185.9l-0.6 -6.3M627.3 2185.2l-0.1 -1.4M626.1 2185l0.4 4.7M625 2185.7l-0.6 -6.8M623.8 2185.9l0.6 7.8M622.5 2185.6l-1.1 -14M621.3 2185.5l-0.7 -8.9M620.2 2186.3l0.1 1.3M619 2186.1l0.3 4M617.8 2186l0.4 5.7M616.6 2186l-0.2 -4M615.4 2186.3l-0.4 -6.4M614.2 2185.8l-0.2 -2.8M613 2186.3l-0.3 -5.2M611.8 2186.7l0.3 6.3M610.6 2186.8l0.2 4.6M609.4 2187.1l0.5 10.4M608.2 2187.4l0.2 4.6M607 2186.8l0 1.2M605.8 2186.3l-0.1 -2.1M604.6 2185.9l-0.1 -2.4M603.4 2186l-0.2 -8.2M602.2 2186.5l0 -1.7M601 2186.4l0.1 2.4M599.8 2185.7l-0.3 -14M598.6 2186.4l0.3 16.1M597.4 2186.3l-0.2 -14M596.2 2186.4l-0.1 -14M595 2185.9l-0.1 -14M593.8 2186.9l0 3.8M592.6 2187.2l0 -6M591.4 2187.1l0 4.1M589 2187.4l0.1 -8.6M587.8 2187.1l0 -0.7M586.6 2187.2l0.1 -5.2M585.4 2187l-0.1 7.1M584.2 2187.3l-0.1 7.7M583 2187.3l0.1 -4.4M581.8 2187l0.1 -5.8M580.6 2186.7l0.2 -7.2M579.4 2185.9l0.1 -4.7M578.2 2185.7l-0.1 3.9M577.1 2185.5l-0.1 2.5M575.8 2185.7l0.6 -14M574.6 2186.1l0 -0.9M573.4 2186.3l0.2 -4.7M572.2 2186.3l0.3 -6.6M571 2186.1l0.2 -4.4M569.8 2186.5l0.2 -3.2M568.6 2186.4l-0.4 6.7M567.4 2186l-1.1 18.2M566.2 2186.2l-0.4 6.8M565 2186.2l-0.2 3M563.8 2186.7l0.2 -2.3M562.5 2187.2l-0.3 4.4M560.1 2187.7l-0.3 3.6M558.9 2187.7l-0.6 6.8M557.7 2187.4l0.4 -4.2M556.5 2187l0.9 -9.7M555.3 2187.1l0.1 -1.1M554.1 2187l0.6 -6.7M552.9 2187.1l-0.1 1.4M551.7 2186.8l1 -9.8M550.4 2187.7l0.4 -3.5M549.2 2187.6l0.7 -6.3M548 2187.1l0.5 -4.7M546.8 2187.1l-0.8 7M545.7 2185.8l0.1 -0.7M544.6 2185.1l-0.3 2.8M543.4 2184.9l0.7 -5.8M542.2 2185.2l-0.1 0.8M541 2184.7l-0.5 3.9M539.9 2184.3l-0.8 6M538.7 2183.8l0.9 -6.4M536.2 2184.3l-0.1 0.7M535.1 2183.7l-1.1 7.6M533.9 2183.3l1.2 -8.3M532.8 2182.5l-0.7 4.5M531.6 2182.8l-0.5 3.5M530.5 2181.9l0.5 -3M529.3 2181.7l1.4 -8.5M528.1 2181.8l-0.4 2.3M525.9 2180.7l-1.1 6.6M524.7 2180.4l-1.4 8.1M523.5 2180.2l0.5 -2.9M522.4 2179.7l1 -5.6M521.1 2180l2.3 -12.6M519.9 2179.7l1.6 -8.7M518.7 2179.9l1.3 -6.8M517.4 2180l0.7 -3.7M516.4 2179.3l-0.9 4.8M513.9 2179.3l1.5 -7.7M512.8 2178.7l-0.3 1.7M510.5 2178.3l-1.1 5.2M509.2 2178.4l2.9 -13.7M508 2178.5l-1.1 5.1M506.8 2178.1l-3.9 17.9M505.6 2178l-1.2 5.4M504.4 2177.9l-0.2 0.9M503.4 2177.1l-1.2 5.5M501 2176.7l-0.7 3.1M499.8 2176.6l-1.8 7.6M498.6 2176.4l1.1 -4.6M497.5 2175.7l1.3 -5.4M496.3 2175.7l1.2 -4.8M495 2175.9l0.5 -2M493.7 2176l0.8 -3M492.5 2175.9l0.8 -2.9M491.2 2176.2l-1.3 4.9M489.9 2176.4l1.1 -4M488.8 2175.9l1 -3.9M487.6 2175.5l-1.7 6.2M486.5 2175l1.4 -5.2M485.4 2174.6l-1.7 6.3M484.1 2174.7l-2.2 8.1M482.8 2174.7l1.2 -4.2M481.6 2174.6l1.8 -6.3M480.3 2174.8l-2.3 8.1M479.1 2174.5l2.7 -9.2M477.8 2174.7l2.4 -8.3M476.7 2174.2l-0.4 1.5M474.3 2173.8l-1.7 5.5M473.2 2173.2l0.8 -2.5M472.1 2172.7l0.4 -1.4M471.1 2171.7l-1.3 4.2M469.9 2171.7l-1.6 4.9M468.7 2171.3l-0.3 0.8M467.5 2171.1l-1.5 4.8M466.5 2170.3l-1.7 5.3M465.2 2170.3l-2.3 7.1M464 2170.2l4.4 -13.3M463.1 2169l1.3 -3.7M461.7 2169.3l-0.9 2.5M459.5 2168.4l1.2 -3.4M458.5 2167.4l0.5 -1.5M457.5 2166.7l1.4 -3.8M456.5 2165.8l-0.6 1.6M455.6 2164.9l2.6 -7.3M454.3 2165l1.1 -3.1M453.2 2164.3l-1.4 3.7M452.2 2163.7l0.3 -0.9M451 2163.4l2.6 -6.8M449.6 2163.6l-2.6 7M449 2161.8l-2.3 6.1M448.1 2160.8l-0.8 2.2M447.1 2160.1l0.9 -2.3M445.2 2158.4l-3.4 8.5M444.1 2157.9l-0.3 0.9M442.8 2158.1l-2.2 5.4M441.2 2158.7l1 -2.4M440.2 2157.9l1.9 -4.7M439.3 2157l-3.1 7.5M438.1 2156.8l-1.6 3.9M437.1 2155.9l1.4 -3.3M436.1 2155.2l-0.5 1.3M435.2 2154.3l0.8 -2M434.4 2153.2l-1.7 3.9M433.4 2152.6l2.2 -5M432.4 2151.7l3.3 -7.5M431.6 2150.7l1.4 -3.1M430.6 2150.1l-0.8 1.8M429.6 2149.2l-1.7 3.7M428.6 2148.6l2.5 -5.6M427.5 2148.1l-2.3 5M426.6 2147.2l-0.9 1.9M425.3 2147.2l1.4 -3.1M424.3 2146.5l1.7 -3.7M423.6 2145.3l-1.7 3.6M422.7 2144.4l-0.5 1M421.8 2143.5l-0.3 0.6M420.5 2143.5l-2.4 5.1M419.4 2143l2.8 -5.8M418.4 2142.4l-3.2 6.6M417.3 2142l5.7 -11.5M416.1 2141.6l-3.2 6.4M414.8 2141.6l-0.8 1.5M413.8 2141.1l1.1 -2.1M412.7 2140.6l1.3 -2.6M411.8 2139.6l-7.5 14.8M410.9 2138.9l2.5 -4.9M409.9 2138.1l1.8 -3.6M408.6 2138.1l-8.6 16.5M407.5 2137.7l2.2 -4.2M406.6 2136.8l-2.7 5.1M405.5 2136.4l2.3 -4.2M404.2 2136.2l2.8 -5.2M403.4 2135.2l0.7 -1.3M402.4 2134.6l3.8 -6.9M401.5 2133.7l-1.6 3M400.5 2133.2l2.1 -3.8M398.4 2132.1l-2.7 4.8M397.5 2131.2l0.6 -1M396.1 2131.2l-6 10.5M395.1 2130.5l2.3 -4.1M393.7 2130.6l-10.2 17.7M392.7 2130l-2.5 4.3M391.5 2129.7l1.7 -2.9M390.2 2129.5l-2.2 3.7M389 2129.2l2.8 -4.7M388 2128.7l-1.7 2.9M386.9 2128.1l-2.7 4.6M386.2 2127l4.7 -7.9M384.9 2126.8l2.4 -4M383.9 2126.1l-0.7 1.1M383.3 2124.8l-1.4 2.2M381.9 2124.8l-3.9 6.2M380.9 2124.3l-6.7 10.7M379.7 2123.9l-3.2 5.1M378.2 2124l-2.5 3.9M377.3 2123.2l2.8 -4.4M376.4 2122.4l-9.4 14.7M375.4 2121.8l-7 10.9M374.3 2121.2l-0.6 0.9M373.2 2120.8l-3.1 4.7M370.8 2120l-1.8 2.6M370.2 2118.7l1.8 -2.7M369.1 2118.2l-0.3 0.4M368.1 2117.6l3 -4.5M367.2 2116.8l3.1 -4.6M366.1 2116.2l-2.9 4.3M365.2 2115.5l4.6 -6.6M364 2115.1l1.2 -1.7M363.4 2113.8l-2.6 3.8M362.5 2113.1l1.6 -2.3M361.7 2112.1l8.1 -11.4M360.8 2111.3l-3.5 4.9M360.1 2110.2l-1.9 2.6M358.9 2109.8l-4.2 5.9M358.2 2108.8l-2.9 4.1M357.3 2108.1l-2.6 3.6M356 2107.7l6.4 -8.7M355.2 2106.8l-3.8 5.1M354.2 2106.2l-3.4 4.6M353.2 2105.6l-2.9 3.9M352.5 2104.5l6.2 -8.2M351.4 2103.9l-2.4 3.1M350.3 2103.4l-1.5 1.9M348.9 2103.2l3.4 -4.4M347.9 2102.7l4.1 -5.3M346.4 2102.6l-3 3.9M345.1 2102.4l-0.9 1.1M344 2101.8l4.1 -5.2M343.1 2101l-2.8 3.5M342 2100.5l4 -5M341.4 2099.2l-0.5 0.7M340.4 2098.6l-4.6 5.8M339.4 2097.9l0.8 -0.9M338.5 2097.2l-0.6 0.7M337.7 2096.2l-4.3 5.2M337.4 2094.7l7.1 -8.7M336.8 2093.5l0.4 -0.4M335.9 2092.8l-5.2 6.2M334.4 2090.9l-3.8 4.5M333.7 2089.8l-0.4 0.4M332.8 2089l-3.2 3.7M331.8 2088.4l-3.4 3.9M330.9 2087.5l6.6 -7.6M329 2086.1l0.9 -1.1M328.8 2084.5l-2.1 2.3M327.7 2084l3.8 -4.3M327 2083l9.3 -10.4M325.7 2082.7l-3.1 3.4M324.8 2081.9l-8.5 9.4M324.1 2080.8l1 -1.1M323.3 2080l9.4 -10.3M322.6 2078.9l9.5 -10.3M321.3 2078.7l-0.4 0.5M319.5 2077l7.6 -8.1M318.4 2076.5l-6.8 7.2M316.9 2076.3l-2.1 2.3M315.4 2076.2l-0.6 0.6M314.8 2075.1l0.7 -0.7M313.5 2074.7l1.9 -2M312.3 2074.2l-5.8 6M311.3 2073.5l-1.7 1.7M310.3 2072.8l0.9 -1M309.2 2072.2l-0.5 0.5M308.9 2070.8l5.1 -5.1M306.6 2069.7l-1.3 1.3M305.7 2068.9l4 -3.9M305 2067.9l3.3 -3.2M304.4 2066.8l-5.9 5.7M303.5 2066l-5.6 5.5M302.4 2065.4l1.4 -1.3M301.6 2064.4l0.4 -0.3M301.4 2063l3.3 -3.1M301.2 2061.6l-3.2 3M300.2 2060.9l4.1 -3.9M299.7 2059.7l7.2 -6.7M299.4 2058.4l4.7 -4.4M298.5 2057.5l-3.2 3M297.9 2056.4l8.5 -7.8M297 2055.6l-0.8 0.7M296.3 2054.7l-9.3 8.4M295.4 2053.9l6.7 -6.1M294.5 2053.1l-7.1 6.4M293.5 2052.3l-14.8 13.2M291.1 2051.3l1.1 -0.9M290 2050.7l-0.7 0.6M289.2 2049.8l1.3 -1.1M288 2049.2l5.9 -5.1M287.4 2048.1l4.9 -4.2M286.3 2047.4l-5.2 4.4M285.5 2046.6l7.1 -6M284.6 2045.8l-2.3 2M284.2 2044.6l5.3 -4.4M283.6 2043.4l-1.3 1.1M282.7 2042.6l2.8 -2.3M281.4 2040.6l-2.5 2M279.9 2040.3l-1 0.8M279.2 2039.3l-1 0.8M278.4 2038.4l3.9 -3.2M277.2 2037.8l5.5 -4.4M276.9 2036.5l3.6 -2.8M275.7 2035.9l-4.3 3.4M274.9 2035l4.3 -3.4M274.2 2034l5.8 -4.5M273.3 2033.2l-2.7 2.1M272.3 2032.5l-2.3 1.7M271.9 2031.3l3.4 -2.6M271.7 2029.9l-17.5 13.3M270.4 2027.8l1.8 -1.4M269.9 2026.7l4.6 -3.4M269.3 2025.6l-3.8 2.8M268.9 2024.4l-3.5 2.6M268.1 2023.6l1.8 -1.3M267.3 2022.7l-2.5 1.9M266.5 2021.7l-6 4.4M266.5 2020.3l-1.1 0.8M265.7 2019.3l-1.8 1.3M265.3 2018.1l1.6 -1.2M264.4 2017.4l2 -1.4M263.6 2016.4l6.6 -4.6M262.6 2015.7l-2.2 1.6M262.2 2014.5l7.4 -5.1M261.3 2013.6l-10.8 7.5M260 2013.1l2.7 -1.8M259 2012.3l-6.8 4.6M258.3 2011.3l-4 2.7M257.4 2010.5l5.8 -3.9M256.3 2009.7l-8.6 5.8M255.2 2009l-8.6 5.7M254.5 2008l-5.6 3.7M253.9 2007l-4.4 2.9M253.2 2006.1l-1.8 1.2M252.7 2004.9l4.2 -2.7M252.3 2003.7l-6.1 3.9M251.3 2003l0.6 -0.4M250.5 2002l-1.8 1.1M250 2000.9l-4.4 2.8M248.7 1998.8l5.5 -3.4M248.1 1997.8l10.5 -6.5M248 1996.4l-10 6.1M247.2 1995.5l6.9 -4.2M247.2 1994.1l2.4 -1.4M246.9 1992.9l6.3 -3.8M246.6 1991.7l-3.4 2M246 1990.6l12.1 -7.1M244.2 1988.9l-1 0.6M243.7 1987.8l7.8 -4.5M243 1986.8l-7.7 4.4M241.8 1986.1l7.4 -4.2M241.9 1984.6l0.4 -0.2M240.4 1984.1l-10.6 6M239.3 1983.3l-2.9 1.6M239.2 1982l-15.8 8.8M239.1 1980.7l-1.9 1M238.1 1979.9l-3.7 2M237.6 1978.8l2 -1.1M237.2 1977.6l-7.4 4M236.3 1976.7l8.3 -4.4M236 1975.5l5.5 -2.9M236 1974.2l10 -5.3M235.6 1973l-5.1 2.7M234.5 1972.2l8.8 -4.6M233.3 1971.5l7.6 -3.9M232.6 1970.5l3.8 -2M231.9 1969.5l-6.4 3.3M231.2 1968.5l9 -4.6M230.1 1967.7l3.7 -1.9M230 1966.4l-0.7 0.4M228.7 1965.7l12.5 -6.2M228.7 1964.3l6.8 -3.3M228 1963.3l6.1 -3M227.1 1962.4l8 -3.9M226.2 1961.5l0.9 -0.4M225.5 1960.5l-3 1.4M225.3 1959.2l-5.1 2.4M225.5 1957.8l1.7 -0.8M225 1956.7l-0.7 0.3M225.1 1955.3l-2.5 1.2M225 1954l-2 0.9M224.8 1952.8l7.6 -3.5M224.6 1951.5l-1 0.4M224.3 1950.4l-10.5 4.7M223.8 1949.3l-4.2 1.9M223.2 1948.2l3.1 -1.4M222 1947.4l-3.2 1.4M221.3 1945.1l-7.7 3.3M221 1943.9l2.5 -1.1M220.3 1942.9l3.6 -1.5M219.8 1941.8l-2.4 1M219.2 1940.8l-4.1 1.7M217.8 1940l-1.5 0.6M217.8 1938.7l3.9 -1.6M216.8 1937.8l13 -5.3M215.5 1937l2.3 -0.9M214.5 1936.1l-12.4 4.9M214.2 1934.9l-15.4 6.1M212.2 1933.1l9.8 -3.8M212.3 1931.8l6.4 -2.5M212.1 1930.5l7.2 -2.7M212 1929.3l2 -0.8M211.1 1928.3l1.8 -0.7M210.6 1927.2l1.8 -0.7M210.9 1925.8l-9.6 3.5M209.7 1924.9l13.2 -4.8M209.1 1923.9l-0.8 0.3M209 1922.6l-3.6 1.3M208.5 1920.2l-3.7 1.3M207.9 1919.1l6 -2.1M206.8 1918.2l7.6 -2.6M206 1917.2l-8 2.7M205.8 1916l-6.8 2.3M205.9 1914.6l-1.2 0.4M205.6 1913.5l-6.5 2.2M205.5 1912.2l-2.1 0.7M204.6 1911.2l2.5 -0.8M204.7 1909.9l10.7 -3.4M204.8 1908.6l7.6 -2.4M204.6 1907.4l4.7 -1.5M204 1906.3l-3 0.9M203.6 1905.2l-2.2 0.7M203.7 1903.9l2.9 -0.9M203.6 1902.6l4.5 -1.4M203.4 1901.4l-4.7 1.4M202.4 1899.2l13.4 -3.9M201.2 1898.3l-12.1 3.5M200.8 1897.1l7 -2M199.7 1896.2l-9 2.5M199.3 1895l2.8 -0.8M198.7 1893.9l5.9 -1.6M197.8 1892.9l7.9 -2.1M197.3 1891.8l13.2 -3.5M197.1 1890.5l8.4 -2.2M197.7 1889.1l6.2 -1.6M198.5 1886.4l11 -2.8M198.5 1885.2l-12.6 3.2M198 1884l1.2 -0.3M198.5 1882.6l-6.4 1.6M198.9 1881.3l-3.9 0.9M198.7 1880.1l4.9 -1.2M199.2 1878.7l-6.4 1.5M198.9 1877.6l-13.2 3.1M198.9 1875.1l-2.1 0.5M199 1873.9l-1 0.2M198.4 1872.7l-4.3 1M198.5 1871.5l2.1 -0.5M199.1 1870.1l5.7 -1.2M198.6 1869l-5.7 1.2M198.8 1867.7l-3.3 0.7M199.1 1866.5l11.2 -2.3M199 1865.2l-4.1 0.8M198.8 1864.1l-10.1 2M198.3 1862.9l5.6 -1.1M197.9 1861.8l-10.8 2.1M197.1 1860.7l-5.5 1M196.6 1859.6l-4.9 0.9M196.3 1858.4l-8.6 1.6M196.7 1857.1l1.7 -0.3M197.4 1855.8l-3.1 0.5M197.3 1854.6l-11.3 2M197.6 1853.3l-2.8 0.5M197.7 1852.1l1.7 -0.3M196.9 1851l-8.2 1.3M197.1 1848.5l1.3 -0.2M197.2 1847.3l-2.5 0.4M195.5 1845.2l1.1 -0.2M195 1844l-8.9 1.3M194.9 1842.8l7.1 -1M195.1 1841.6l-6.5 0.9M194.7 1840.4l-1.2 0.2M195 1839.2l7.4 -1M194.4 1838l4.4 -0.6M194.7 1836.8l7.3 -0.9M194.9 1835.6l7.7 -1M195.2 1834.3l8.4 -1M194.9 1833.1l6.4 -0.8M195.3 1831.9l13.9 -1.6M195.1 1830.7l12 -1.3M195.4 1829.5l11.8 -1.3M195.8 1828.2l10.7 -1.1M196 1827l7.4 -0.8M196 1825.8l12.7 -1.3M195.4 1824.7l5.3 -0.5M194.8 1823.5l7.9 -0.7M194.5 1822.4l11.9 -1.1M194.2 1821.2l13.9 -1.2M194.6 1820l-10.1 0.9M194 1818.8l5.2 -0.4M193.2 1817.7l-6.7 0.5M192.5 1815.3l-4.6 0.3M192.2 1814.2l-5.2 0.4M192 1813l-1.6 0.1M191.8 1811.8l6.9 -0.4M191.9 1810.6l-5.3 0.3M191.7 1809.4l6.3 -0.4M191.7 1808.2l-6.6 0.4M191.7 1807l10.8 -0.6M191.9 1805.8l6.6 -0.3M191.3 1804.6l-3 0.1M190.6 1803.4l-1.8 0.1M190.6 1802.2l0.7 0M191.1 1801l8 -0.3M190.9 1799.8l-4.3 0.1M191.8 1798.6l-2.1 0.1M192.1 1797.4l-7.7 0.2M192.6 1796.2l-9.8 0.3M192.8 1793.8l-2.3 0M192 1792.6l-14.3 0.2M191.9 1791.4l-7.6 0.1M192.4 1790.2l5.7 -0.1M192.1 1789l-11.9 0.1M192.4 1787.8l6.7 0M193 1786.6l-3.3 0M192.6 1785.4l1.5 0M192.9 1784.2l2.6 0M192.9 1783l4.3 0M193.6 1781.8l-5.5 -0.1M193 1780.6l-5.4 -0.1M193.7 1779.4l-4.8 -0.1M193.4 1778.2l-10.4 -0.2M192.9 1777l-9.3 -0.2M193 1775.9l-3 -0.1M193.6 1774.7l8.8 0.3M193.8 1773.5l4.5 0.1M193.4 1772.3l2.4 0.1M192.9 1771.1l2.7 0.1M193.3 1769.9l10.7 0.4M193 1768.7l-8.1 -0.4M193.1 1767.5l3.2 0.1M193.3 1766.3l-1.8 -0.1M193.6 1765.1l2.5 0.1M193.3 1763.9l3.6 0.2M193.6 1762.7l-4.7 -0.3M194.3 1761.6l5.2 0.3M195.3 1760.4l-6.3 -0.4M195.3 1759.3l-2.1 -0.1M195.4 1756.9l3.2 0.2M195.5 1754.5l-8.3 -0.7M195.9 1753.3l11.8 1M197 1752.2l7.6 0.6M196.9 1751l-8.7 -0.8M196.8 1749.8l-3.1 -0.3M197.1 1748.7l2.6 0.3M197.2 1747.5l-5.8 -0.6M197.6 1746.3l0.5 0.1M198.3 1745.2l-3.1 -0.3M198.2 1744l-11 -1.2M198 1742.8l4.8 0.5M198.8 1741.7l-7.7 -0.9M199.6 1740.6l-1.2 -0.1M198.9 1739.3l5.4 0.6M199.2 1738.2l-2.7 -0.3M199.7 1737l9.2 1.2M199.7 1735.8l-2.8 -0.4M200.6 1734.8l8.2 1.1M200.1 1733.5l-1 -0.1M199.3 1732.2l-1 -0.1M199.7 1729.9l2.9 0.4M199.5 1728.6l3.5 0.5M199.3 1727.4l11.6 1.7M199.5 1726.2l-7.5 -1.1M200.1 1725.1l-5.4 -0.8M200.3 1724l-1.6 -0.2M200.7 1722.8l-2.8 -0.5M201.5 1721.7l-4.3 -0.7M202.5 1720.7l8.7 1.5M202.4 1719.5l-1.8 -0.3M203.1 1718.4l6.6 1.1M203.3 1717.3l-3.5 -0.6M202.4 1715.9l-11.2 -2M202.8 1714.8l1 0.2M203 1713.6l-1.6 -0.3M202.7 1712.3l-8.4 -1.6M202.2 1711l-6.5 -1.2M202.4 1709.9l7.7 1.5M202.9 1708.7l-5.1 -1M203.1 1707.6l3.2 0.6M203.5 1706.4l5.4 1.1M203.1 1705.2l7 1.4M203.1 1703.9l-2.7 -0.6M202.5 1702.6l-2.8 -0.6M203.4 1701.6l-9.2 -2M203.8 1700.5l-1.3 -0.3M203.8 1699.2l10 2.2M203.7 1696.8l5.2 1.2M203.3 1695.4l-14 -3.3M203.5 1694.3l6.4 1.5M204.1 1693.2l-13.1 -3.1M204.2 1692l-7.3 -1.8M204.1 1690.7l-5.8 -1.4M203.4 1689.3l7.5 1.9M205 1688.5l-8.4 -2.1M205.7 1687.4l2.9 0.7M205.6 1686.2l2.4 0.6M205.7 1685l-5.3 -1.4M205.6 1682.5l0.7 0.2M206.1 1681.4l3.1 0.8M206.9 1680.4l7.1 2M206.9 1679.1l-2.6 -0.7M206.6 1677.8l5.3 1.5M207 1676.6l-5.5 -1.6M206.9 1675.4l7.6 2.2M207.1 1674.2l-4.4 -1.3M207.3 1673l11.5 3.4M207.8 1670.6l7.7 2.3M209 1668.5l9.7 3M209.1 1667.3l-5.7 -1.8M209.7 1664.9l3.6 1.1M209.8 1663.7l-16 -5.1M209.7 1662.4l-3 -1M209.1 1660.9l6.7 2.2M209.3 1659.7l3.2 1.1M208.9 1658.3l-9.5 -3.2M209.5 1657.3l2.6 0.9M209.6 1656l-0.7 -0.2M209.8 1654.8l1.8 0.6M210.5 1653.8l4.1 1.4M211.5 1652.9l12.9 4.5M212 1651.8l-10.4 -3.7M212.3 1650.6l12.9 4.6M212.7 1649.4l-0.7 -0.2M213.3 1648.4l2.9 1.1M213.8 1647.3l5.1 1.9M214.4 1646.2l1.2 0.5M215 1645.2l4.6 1.7M215.1 1643.9l-1.5 -0.6M216.3 1643.1l-2.9 -1.1M216.7 1641.9l1.2 0.5M217.3 1640.9l-3.4 -1.3M217.2 1639.6l7 2.7M217.6 1638.4l3 1.2M217.2 1637l-2 -0.8M217.7 1635.9l-0.8 -0.3M217.8 1634.6l-13.1 -5.3M218.4 1633.5l-2.9 -1.2M218.9 1632.4l3.5 1.4M218.9 1631.1l-4.5 -1.9M219.5 1630.1l3 1.3M220.7 1629.3l-1.2 -0.5M221.3 1628.2l8.4 3.6M221.2 1626.9l-11.7 -5M221.9 1625.8l-9.1 -3.9M222.7 1624.9l10.7 4.7M223.6 1622.7l-5.1 -2.3M224 1621.5l-7.2 -3.2M224.5 1620.4l-4.3 -2M224.7 1619.2l-0.5 -0.2M225.3 1618.1l-2.6 -1.2M226.4 1617.3l-10.6 -4.9M227.3 1616.4l6.2 2.9M227.8 1615.3l2.3 1.1M228.7 1614.4l-1 -0.5M229.3 1613.3l-4.3 -2M229.2 1612l6.1 2.9M230.4 1609.9l-6.5 -3.1M231 1608.8l-5.3 -2.6M231.2 1607.6l-4.6 -2.3M232.2 1606.7l1.1 0.6M232.7 1605.6l1.2 0.6M233 1604.4l0.6 0.3M232.9 1603.1l0.7 0.4M233.8 1602.1l-1 -0.5M233.9 1600.8l4 2.1M234.6 1599.8l1.7 0.9M234.3 1598.3l4.5 2.4M235 1597.3l-1.3 -0.7M235.4 1596.2l-5.3 -2.8M235.7 1594.9l4.2 2.3M236.3 1593.9l-6.7 -3.6M236.8 1592.8l7.5 4.1M237 1591.5l-4.9 -2.7M237.8 1590.6l8.4 4.6M238.2 1589.4l9.6 5.4M238.5 1588.2l0.7 0.4M238.7 1586.9l3.8 2.1M239.3 1585.9l-1.7 -1M240.6 1585.2l-6 -3.4M240.9 1584l5.7 3.3M241.1 1582.7l-2.8 -1.6M241.5 1581.6l2.2 1.3M241.8 1580.3l2.5 1.4M242.5 1579.3l3.5 2M243.4 1578.4l5.2 3.1M244.2 1577.5l2.6 1.6M244.9 1576.5l-4.6 -2.8M245.7 1575.6l5.5 3.3M246 1574.3l4.9 3M247.3 1573.7l4 2.5M247.5 1572.4l9.4 5.8M247.9 1571.2l7.2 4.5M248.3 1570l-6.9 -4.3M248.6 1568.8l4 2.6M249.3 1567.8l-3.4 -2.2M250.4 1567.1l-7.6 -4.9M251.2 1566.1l-6.1 -3.9M252.1 1565.3l-1.7 -1.1M253.3 1563.2l-2 -1.3M253.9 1562.1l-6.4 -4.3M254.3 1560.9l6.6 4.4M255.8 1559l-1.3 -0.9M256.7 1558.1l6.5 4.4M256.9 1556.8l-4.6 -3.2M257.3 1555.6l-5.8 -4M258.3 1554.8l0.6 0.4M258.7 1553.6l8.7 6.1M260.1 1553.1l-5.2 -3.6M260.3 1551.8l-4 -2.8M261.2 1550.9l2.7 1.9M261.5 1549.6l-5.8 -4.1M262 1548.5l3 2.2M263.2 1547.8l4.8 3.5M264.9 1547.6l5.2 3.8M266 1546.9l-1.8 -1.3M267.3 1546.4l-11.1 -8.2M267.9 1545.3l-5.1 -3.8M269.2 1544.8l-7.3 -5.4M269.9 1543.8l-1.2 -0.9M270.7 1542.9l-2.8 -2.1M271.8 1540.7l4.8 3.7M272.1 1539.4l8.7 6.7M273.3 1538.8l-3.3 -2.5M274.3 1538.1l1.1 0.8M275 1537l-6.5 -5.1M276.1 1536.4l-1.6 -1.3M276.8 1535.4l-3.3 -2.6M277.4 1534.3l-6.6 -5.3M277.7 1533l6.9 5.6M278 1531.7l-3.7 -3M279.6 1531.5l1.2 1M280.5 1530.7l-4.5 -3.7M281.9 1528.7l-11.9 -9.9M282.5 1527.6l-5.8 -4.9M283.2 1526.7l4.1 3.5M284.1 1525.8l3.5 2.9M284.9 1524.9l0.9 0.8M285.8 1524.1l3.4 2.9M286.7 1523.3l4.3 3.7M287.9 1522.7l7.3 6.3M288.6 1521.7l-4.2 -3.7M289.8 1521.2l10.5 9.2M290.5 1520.2l9.9 8.7M291 1519.1l-1.7 -1.5M291.2 1517.6l-0.8 -0.7M292.6 1517.2l7.7 6.9M293.6 1516.5l6.1 5.5M294.5 1515.7l1.4 1.3M295.4 1514.9l-10.5 -9.6M296.6 1514.4l5.4 5M297.5 1513.6l-7 -6.5M297.9 1512.3l-3.5 -3.3M298.6 1511.3l-7.4 -6.9M299.4 1510.4l1 0.9M300.5 1509.8l9.4 8.9M301.9 1509.5l-3.1 -3M302.6 1508.5l-0.4 -0.4M304.6 1505.4l2.2 2.2M305.7 1504.8l-2.8 -2.8M306.5 1503.9l1.4 1.4M307.6 1503.3l-5.1 -5.1M308.9 1502.9l-15.6 -15.6M309.4 1501.7l2.1 2.1M310.2 1500.8l3.6 3.6M311.6 1498.8l-0.7 -0.7M312.5 1498l-7.4 -7.6M313.6 1497.4l-12.5 -12.9M314.7 1496.8l-2.6 -2.7M315.1 1495.6l6.9 7.2M316.3 1495.1l-1.2 -1.3M318 1495.1l1.3 1.4M318.8 1492.5l3.4 3.6M320 1491.9l-4.8 -5.2M320.5 1490.7l-2.4 -2.6M321.8 1490.3l-4.5 -4.9M322.7 1489.6l-2.7 -2.9M323.6 1488.8l-1.5 -1.7M324.7 1488.2l-2.1 -2.4M324.9 1486.7l2.5 2.8M326.1 1486.2l-0.5 -0.6M327.3 1485.8l2.4 2.8M328.2 1485l-7.9 -9M329.6 1484.7l-0.8 -0.9M330.5 1484l0.4 0.4M331.4 1483.2l9.1 10.6M332.2 1482.3l8 9.4M333.7 1482.1l3.6 4.2M334.5 1481.2l-1.6 -1.9M335.1 1480.1l-1.6 -1.9M335.9 1479.3l-0.6 -0.7M336.2 1477.8l-3.4 -4M337.9 1477.9l-5.3 -6.5M339 1477.3l-0.6 -0.7M340 1476.7l-2.2 -2.7M340.7 1475.6l-4 -5M341.3 1474.6l-0.7 -0.8M342.1 1473.5l-0.8 -1M343.4 1473.3l7.5 9.4M343.6 1471.6l-9.1 -11.5M344.2 1470.5l1.2 1.6M345.7 1470.5l-2.3 -3M346.8 1469.8l-7.2 -9.3M348 1469.5l-5 -6.4M349 1468.8l-8.9 -11.6M349.8 1468l-12.3 -16.1M350.8 1467.3l4.8 6.3M351.6 1466.3l-6 -8M352.6 1465.7l4 5.3M353.7 1465.1l-1.5 -2.1M354.4 1464.1l-1.5 -2.1M355.4 1463.5l8.3 11.3M356.5 1462.9l-1.7 -2.4M357.1 1461.6l1.6 2.2M358.2 1461.1l8.2 11.4M358.8 1459.9l2.4 3.4M360.6 1458.3l-2.7 -3.8M361 1456.8l0.8 1.1M361.9 1456l1.3 1.9M363 1455.4l2.3 3.4M364.1 1454.9l0.8 1.1M364.9 1453.9l3 4.4M365.6 1452.8l-2.9 -4.3M367.1 1452.9l3.6 5.3M368.2 1452.4l2.5 3.7M369.2 1451.7l1 1.5M370.4 1451.4l2 3M371.6 1451l-2.8 -4.2M372.6 1450.3l-0.4 -0.7M373.7 1449.8l-0.4 -0.7M374.8 1449.3l3.3 5.1M375.8 1448.8l2.7 4.3M377.1 1448.5l7.5 11.8M378.2 1447.9l-1.3 -2.1M379.4 1447.6l1.1 1.7M380.5 1447.1l-11.6 -18.7M381.5 1446.5l-2.4 -3.9M382.8 1446.3l-1 -1.6M384 1446l2.2 3.7M384.7 1444.9l1.1 1.8M385.7 1444.2l-3 -5M387.1 1444.2l7.2 12M388 1443.4l4.3 7.3M389.3 1443.2l-6.8 -11.5M390.1 1442.2l6.1 10.4M392.9 1440l4.6 7.9M393.9 1439.3l-3.1 -5.4M395.1 1439l1.5 2.6M396.1 1438.3l-2.3 -4M397.2 1437.9l2.5 4.5M398.6 1437.9l-8.1 -14.6M399.5 1437.2l2 3.6M400.5 1436.5l-0.4 -0.7M401.4 1435.5l-0.9 -1.7M402.7 1435.4l4.2 7.8M403.7 1434.9l4.9 9.2M404.7 1434.1l-4.7 -8.8M406 1434l2.5 4.8M407.1 1433.7l5.4 10.3M408.3 1433.4l-0.8 -1.5M409.3 1432.7l-2.7 -5.2M410.5 1432.5l3.7 7.2M411.5 1431.7l-1.6 -3.2M412.7 1431.6l-0.4 -0.8M413.5 1430.5l1.5 3.1M414.8 1430.3l-1.2 -2.4M416.1 1430.3l-0.7 -1.4M417.1 1429.7l-1.7 -3.4M418.4 1429.7l-2.8 -5.8M419.5 1429.2l0.4 0.8M420.4 1428.4l-4.7 -9.8M421.8 1428.4l-3.6 -7.5M422.7 1427.6l1.4 3M423.5 1426.5l-4.6 -9.8M424.6 1426.1l-3.5 -7.6M425.8 1425.9l3.8 8.3M426.9 1425.5l-0.9 -1.9M427.9 1424.7l5.8 12.7M429.1 1424.5l-7.6 -16.9M429.8 1423.2l1.6 3.5M430.7 1422.3l-2.8 -6.3M431.6 1421.2l3.6 8.2M433.7 1420.1l-4 -9.1M434.6 1419.3l0.3 0.6M435.4 1418l-1.1 -2.6M436.2 1417l-4.3 -10.1M437.3 1416.5l-5 -12M438.2 1415.6l-1.2 -3M439.1 1414.5l3.1 7.6M440.1 1413.8l-0.2 -0.5M441.2 1413.3l-0.5 -1.1M442.1 1412.4l2.3 5.7M443.3 1412l1.1 2.9M444.4 1411.7l1.4 3.7M445.5 1411l3.6 9.1M446.6 1410.6l-2.2 -5.8M447.7 1410l1.5 4M448.7 1409.3l0.7 1.9M449.7 1408.6l-0.6 -1.7M450.6 1407.5l-5 -13.3M451.6 1406.6l-1.1 -2.8M452.9 1406.7l1.8 4.9M454.1 1406.4l-1.7 -4.8M455.2 1406.1l1.4 3.9M456.4 1405.9l1.4 3.9M458.6 1404.7l0.4 1.2M459.8 1404.5l-2.4 -6.8M461.1 1404.5l-0.5 -1.4M462.1 1403.9l-1.8 -5.2M463.4 1403.8l-0.8 -2.5M464.2 1402.6l-2.2 -6.5M465.3 1402l-1.3 -4M466.4 1401.5l-1.7 -5.1M467.5 1401l2.2 6.8M468.4 1399.8l0.7 2.2M469.8 1400l2.5 7.9M470.8 1399.3l1.7 5.3M472.1 1399.2l0.3 1.1M473.3 1399.1l-3.4 -11.2M474.4 1398.6l0.9 2.9M475.5 1398.1l-0.4 -1.3M476.9 1398.4l3.5 11.8M478.1 1398.1l-4.2 -14.1M479.3 1398l-2.7 -9.4M481.6 1397.5l-0.9 -3.3M482.9 1397.4l-1.2 -4.1M484 1396.9l1.6 5.9M484.9 1395.8l-1.4 -4.9M486 1395l-0.3 -1.2M487.3 1395.2l-2.6 -9.7M488.5 1395l3.1 11.8M489.8 1395.4l2 7.8M491.2 1395.8l2.8 11M492.4 1395.6l-0.4 -1.7M493.5 1395.2l-1.9 -7.7M494.8 1395.5l-2.2 -8.8M496 1395.1l1.2 4.8M497.1 1394.5l0.9 3.7M498.2 1394.1l-0.2 -0.8M500.9 1394.9l-0.8 -3.3M502 1394.3l-0.2 -0.7M503.2 1394.3l0.4 1.9M504.4 1394l0.6 2.8M505.6 1393.8l-1.2 -5.6M506.7 1393.6l0.3 1.5M508 1393.5l1.8 8.6M509.2 1393.6l1.3 6M510.2 1392.5l0.1 0.6M511.5 1393.1l-0.9 -4.4M513.8 1392.2l1.3 6.6M515 1391.9l1 5.3M516.1 1391.3l0.8 4.2M517.1 1390.3l0.5 2.5M518.3 1389.8l1.5 8.3M519.4 1389.5l-0.9 -4.9M520.6 1388.9l0.4 2.4M521.7 1388.3l-0.2 -1M522.8 1387.9l1.3 7.3M524.1 1388.1l-0.6 -3.2M525.3 1387.9l1.1 6.5M526.5 1387.9l-0.3 -1.9M527.8 1388.1l0.7 4.5M528.9 1387.8l0.6 3.6M530.1 1387.7l1.6 10.6M531.4 1387.8l0.3 2M532.6 1387.6l1 6.9M533.8 1387.8l1.9 12.9M534.9 1387.1l-2.2 -15.3M536.1 1387.1l-1.7 -12M537.3 1386.6l-0.4 -2.8M538.6 1387.1l-0.4 -3M539.7 1386.2l1.4 10.6M540.8 1385.9l0.2 1.2M542 1385.4l0.5 3.7M543.2 1384.9l-0.6 -5.3M544.4 1385.1l-0.8 -6.9M545.6 1385l0.5 4.2M546.8 1385.2l0.8 6.8M548.1 1386l0.4 3.2M549.3 1385.8l1.3 12.3M550.6 1386.1l-0.1 -1.3M551.7 1385.8l-0.3 -3.4M553 1386l-0.4 -3.9M554.2 1385.6l-0.8 -8.2M555.3 1384.9l0.9 9.5M557.7 1384.4l-0.8 -9M558.9 1385.1l-0.4 -5M560.1 1384.7l0.3 3.7M561.4 1385.3l-0.8 -9.9M562.6 1385.2l0.2 3.2M563.7 1384.8l-0.1 -2.1M565 1385.7l-0.7 -10.7M566.2 1385.5l-0.3 -4.2M567.5 1386.4l0.1 0.9M568.6 1385.9l-0.3 -5.8M569.8 1385.6l0.1 2.1M571 1385.2l0.2 3.7M573.4 1385.6l-0.1 -2.8M574.6 1385.3l0 -0.7M575.8 1386l-0.1 -1.5M577 1386.4l-0.1 -1.5M578.3 1386.7l-0.1 -2.6M579.5 1386.9l-0.7 -22M580.7 1387l0.2 8.2M583.1 1387.4l0 1.5M585.4 1386.6l0 -2.1M586.6 1386.7l0.1 11.1M587.8 1386.2l0.1 4.8M589 1386.3l0 -3.7M590.2 1386.7l-0.1 -14.3M591.4 1386.9l0 -8" fill="none" stroke="#000" stroke-width="1.1"/><path d="M921 2012.5l5.5 3.8M919.6 2012.9l4.9 3.4M919.1 2014.1l3.4 2.4M918.8 2015.3l7.9 5.5M918.3 2016.4l7.6 5.4M917.4 2017.2l10 7.1M916.9 2018.4l9.9 7.1M915.7 2019l7.7 5.5M915 2019.9l10.3 7.5M914.2 2020.9l4.2 3M914 2022.2l4.9 3.6M912.4 2022.4l9.3 6.8M891.7 2051.8l8 7.1M891 2052.8l9.7 8.6M890.1 2053.6l7.5 6.8M889.4 2054.6l5.6 5.1M888.5 2055.4l6.2 5.6M887.6 2056.2l5.2 4.8M886.8 2057.1l10.6 9.7M885.9 2057.9l10.6 9.8M885.1 2058.8l10.3 9.6M884.1 2059.5l8.6 8.1M883.4 2060.5l9.3 8.8M881.9 2060.7l6.6 6.2M881.4 2061.9l8.2 7.8M880.8 2063l10.2 9.8M879.9 2063.8l4.2 4M879 2064.5l7.2 7M878 2065.3l8.4 8.2M877.3 2066.3l9.5 9.3M876.8 2067.4l8.8 8.7M876.1 2068.4l8.8 8.7M875 2069l5.5 5.5M874 2069.7l7.5 7.5M872.3 2069.7l7.7 7.8M871.8 2070.9l7.8 8M871.3 2072.1l8.5 8.7M869.7 2072.1l6.8 7M869.1 2073.3l6.5 6.7M868.8 2074.6l6.7 7M867.6 2075.1l13.2 13.8M866.3 2075.5l8.4 8.9M865.5 2076.3l8 8.5M865 2077.6l7.5 8.1M863.8 2078l6.5 7M863 2079l7.4 8M862.2 2079.8l9.4 10.2M861.2 2080.5l11 12M860.5 2081.5l7.2 8M859.5 2082.2l10.4 11.5M858.4 2082.8l10.5 11.7M857.5 2083.5l8.2 9.2M856.8 2084.5l8.4 9.5M856.6 2086.1l5.8 6.5M855.5 2086.7l6.8 7.8M854.6 2087.5l6.3 7.2M853.5 2088.1l8.8 10.2M853 2089.3l5.1 5.9M852.7 2090.7l10.4 12.2M852.2 2092l8.1 9.5M851.1 2092.6l8.4 9.9M850.2 2093.4l8.2 9.8M848.9 2093.7l9.7 11.6M848.1 2094.6l6.7 8.1M847.4 2095.6l4.6 5.6M846.1 2095.9l4 4.9M845.3 2096.9l6.6 8.1M844.7 2098l6.2 7.7M799.1 2131.5l4.8 8M798.3 2132.4l4.8 8M797.1 2132.9l3.8 6.3M796.3 2133.8l4.7 8M795 2134l5.7 9.8M793.9 2134.4l4.2 7.3M792.8 2135l5.9 10.2M791.8 2135.7l5.1 9M791 2136.8l3.1 5.5M789.6 2136.7l5.9 10.5M788.7 2137.5l5.8 10.4M787.7 2138.1l2 3.5M786.6 2138.8l4.2 7.6M785.5 2139.2l4.7 8.5M784.5 2139.9l5 9.3M783.3 2140.2l2.6 4.7M782.5 2141.2l2.3 4.3M781.5 2142l4 7.4M780.8 2143.3l5.4 10.2M779.8 2144l5.7 10.9M778.9 2144.8l4 7.6M777.8 2145.4l4.5 8.8M776.6 2145.6l3.5 6.8M775.6 2146.3l4 7.9" fill="none" stroke="#000" stroke-width="1.0"/><path d="M592.6 1386.3L597.4 1385L602.2 1384.7L607 1384.6L611.8 1385.4L616.6 1385.2L621.4 1385L626.3 1384.7L631.3 1383.5L636 1384.8L640.8 1385L645.8 1384L650.7 1384.4L655.6 1384.7L660.3 1385.8L664.9 1387.8L669.5 1389.6L674.5 1389.3L678.9 1391.8L683.5 1393.4L687.9 1395.5L692.9 1395.3L697.7 1396.1L701.8 1399.4L706.4 1400.9L711.1 1402L715.6 1403.7L719.8 1406.3L724.1 1408.4L729.1 1408.8L733.5 1410.7L737.8 1412.8L742.4 1414.4L747.1 1415.5L751.3 1418L755.4 1420.6L760.3 1421.3L764 1424.8L767.8 1427.8L772.7 1428.6L776.7 1431.4L780.5 1434.5L783.9 1438.2L788 1440.6L793.1 1441.3L796.9 1444.2L801.1 1446.6L804.9 1449.4L809.4 1451.3L814.2 1452.7L818.6 1454.6L821.5 1459L824.9 1462.4L828.6 1465.5L832.8 1467.7L837.5 1469.5L841.3 1472.4L844.5 1476L849.3 1477.8L852.6 1481.3L856.5 1484.2L860.4 1487L863.7 1490.5L866.4 1494.7L870.7 1497.1L875.2 1499.4L878.1 1503.3L880.9 1507.3L884.5 1510.5L887.4 1514.4L891.3 1517.3L894 1521.3L896.2 1525.8L899.2 1529.5L902.4 1533.1L904.8 1537.3L907.9 1540.9L910.5 1545L913.3 1548.9L917.7 1551.6L921.8 1554.6L924 1558.9L926.4 1563.1L930.2 1566.3L932.4 1570.7L935.6 1574.4L938.2 1578.4L940.2 1582.9L943 1586.8L944.2 1591.7L947.3 1595.5L949.4 1599.8L951.3 1604.3L952.3 1609.2L954.6 1613.4L958.4 1616.9L960 1621.5L962.7 1625.6L963.6 1630.4L966 1634.7L968.5 1638.9L969 1643.9L969.9 1648.7L971.5 1653.2L972.9 1657.8L973.5 1662.7L974.6 1667.4L976.4 1671.8L977.7 1676.4L979.5 1680.9L980.2 1685.7L980.4 1690.6L982.2 1695.1L983.7 1699.7L984.8 1704.3L986.4 1708.9L987 1713.7L986.5 1718.7L988.5 1723.2L988.3 1728.1L989.1 1732.8L989.3 1737.6L989.1 1742.5L990 1747.2L992.1 1751.8L992.4 1756.6L993.5 1761.3L993.6 1766.2L993.9 1771L993.9 1775.8L996.3 1780.6L995.8 1785.4L997 1790.2L997.3 1795.1L997.2 1799.9L996.9 1804.8L995.9 1809.6L992.7 1814.2L990.7 1818.9L990.3 1823.6L989.9 1828.4L989.6 1833.2L990.6 1838.2L988.4 1842.7L986.7 1847.3L984.9 1851.8L984.2 1856.6L983.6 1861.3L982.5 1866L979.9 1870.3L980.2 1875.2L981 1880.3L979.3 1884.8L977.2 1889.2L976.7 1894L974.5 1898.4L973.7 1903.1L973.3 1908L972.3 1912.7L969.9 1917L967.3 1921.1L966 1925.7L965.1 1930.5L963.7 1935.1L958.9 1938.3L957.4 1942.8L955.8 1947.3L953.7 1951.6L951 1955.6L948.9 1959.9L945 1963.2L943.8 1967.9L942.9 1972.8L940.6 1977L937.5 1980.7L934.9 1984.6L932.6 1988.8L931.4 1993.7L929.9 1998.3L925.7 2001.3L924.2 2006L922.2 2010.4L919.1 2014.1L916.9 2018.4L914 2022.2L910.2 2025.3L908.3 2029.8L905.3 2033.5L904 2038.6L900.7 2042.2L897.3 2045.6L893.8 2048.8L891 2052.8L887.6 2056.2L884.1 2059.5L880.8 2063L877.3 2066.3L874 2069.7L869.7 2072.1L866.3 2075.5L863 2079L859.5 2082.2L856.6 2086.1L853 2089.3L850.2 2093.4L846.1 2095.9L842.6 2099.3L839.2 2102.8L836.2 2106.7L832.3 2109.5L828.6 2112.7L825.2 2116.2L821.2 2118.9L817.4 2122L813 2124.1L808.3 2125.7L804 2128L800.4 2131.3L796.3 2133.8L791.8 2135.7L787.7 2138.1L783.3 2140.2L779.8 2144L775.6 2146.3L770.6 2147.1L766.5 2149.7L762.3 2152.1L757.8 2154L753.3 2155.6L749.2 2158.4L744.3 2159.2L739.5 2160.1L735.1 2162.2L730.2 2162.8L725.4 2163.6L720.4 2163.9L715.7 2164.7L711.4 2167L707.1 2169.3L702.6 2171L697.8 2171.7L693.6 2174.4L688.7 2174.7L683.9 2175.4L679.4 2177L674.6 2177.5L670 2178.7L665.4 2180.2L660.9 2182.4L656.2 2183.3L651.3 2183.2L646.4 2183.5L641.8 2184.8L637 2185.4L632.2 2185.8L627.3 2185.2L622.5 2185.6L617.8 2186L613 2186.3L608.2 2187.4L603.4 2186L598.6 2186.4L593.8 2186.9L589 2187.4L584.2 2187.3L579.4 2185.9L574.6 2186.1L569.8 2186.5L565 2186.2L560.1 2187.7L555.3 2187.1L550.4 2187.7L545.7 2185.8L541 2184.7L536.2 2184.3L531.6 2182.8L527.1 2180.6L522.4 2179.7L517.4 2180L512.8 2178.7L508 2178.5L503.4 2177.1L498.6 2176.4L493.7 2176L488.8 2175.9L484.1 2174.7L479.1 2174.5L474.3 2173.8L469.9 2171.7L465.2 2170.3L460.6 2168.9L456.5 2165.8L452.2 2163.7L448.1 2160.8L444.1 2157.9L439.3 2157L435.2 2154.3L431.6 2150.7L427.5 2148.1L423.6 2145.3L419.4 2143L414.8 2141.6L410.9 2138.9L406.6 2136.8L402.4 2134.6L398.4 2132.1L393.7 2130.6L389 2129.2L384.9 2126.8L380.9 2124.3L376.4 2122.4L372 2120.4L368.1 2117.6L364 2115.1L360.8 2111.3L357.3 2108.1L353.2 2105.6L348.9 2103.2L344 2101.8L340.4 2098.6L337.4 2094.7L334.4 2090.9L330.9 2087.5L327.7 2084L324.1 2080.8L320.4 2077.8L315.4 2076.2L311.3 2073.5L308 2070L304.4 2066.8L301.4 2063L299.4 2058.4L296.3 2054.7L292.7 2051.4L288 2049.2L284.6 2045.8L281.8 2041.8L278.4 2038.4L274.9 2035L271.9 2031.3L269.9 2026.7L267.3 2022.7L265.3 2018.1L262.2 2014.5L258.3 2011.3L254.5 2008L252.3 2003.7L249.4 1999.9L247.2 1995.5L246 1990.6L243 1986.8L239.3 1983.3L237.6 1978.8L236 1974.2L232.6 1970.5L230 1966.4L227.1 1962.4L225.5 1957.8L224.8 1952.8L223.2 1948.2L221 1943.9L217.8 1940L214.5 1936.1L212.3 1931.8L210.6 1927.2L209 1922.6L206.8 1918.2L205.6 1913.5L204.8 1908.6L203.7 1903.9L202.4 1899.2L199.3 1895L197.1 1890.5L198.5 1885.2L198.7 1880.1L198.9 1875.1L199.1 1870.1L199 1865.2L197.1 1860.7L197.4 1855.8L196.9 1851L196.1 1846.3L195.1 1841.6L194.7 1836.8L195.3 1831.9L196 1827L194.5 1822.4L193.2 1817.7L192 1813L191.7 1808.2L190.6 1803.4L191.8 1798.6L192.8 1793.8L192.1 1789L192.9 1784.2L193.7 1779.4L193.6 1774.7L193.3 1769.9L193.6 1765.1L195.3 1760.4L195.2 1755.7L196.9 1751L197.6 1746.3L198.8 1741.7L199.7 1737L199.3 1732.2L199.3 1727.4L200.7 1722.8L203.1 1718.4L203 1713.6L202.9 1708.7L203.1 1703.9L203.8 1699.2L203.5 1694.3L203.4 1689.3L205.7 1685L206.9 1680.4L206.9 1675.4L207.8 1670.6L209.6 1666.2L209.1 1660.9L209.6 1656L212 1651.8L213.8 1647.3L216.3 1643.1L217.6 1638.4L218.4 1633.5L220.7 1629.3L222.7 1624.9L224.5 1620.4L227.3 1616.4L229.2 1612L231.2 1607.6L232.9 1603.1L234.3 1598.3L236.3 1593.9L238.2 1589.4L240.6 1585.2L241.8 1580.3L244.9 1576.5L247.5 1572.4L249.3 1567.8L252.9 1564.4L255 1559.9L257.3 1555.6L260.3 1551.8L263.2 1547.8L267.9 1545.3L271 1541.6L274.3 1538.1L277.4 1534.3L280.5 1530.7L283.2 1526.7L286.7 1523.3L290.5 1520.2L293.6 1516.5L297.5 1513.6L300.5 1509.8L303.3 1505.8L307.6 1503.3L310.7 1499.7L314.7 1496.8L318.4 1493.8L321.8 1490.3L324.9 1486.7L329.6 1484.7L333.7 1482.1L336.2 1477.8L340.7 1475.6L343.6 1471.6L348 1469.5L351.6 1466.3L355.4 1463.5L358.8 1459.9L361.9 1456L365.6 1452.8L370.4 1451.4L374.8 1449.3L379.4 1447.6L384 1446L388 1443.4L391.9 1440.6L396.1 1438.3L400.5 1436.5L404.7 1434.1L409.3 1432.7L413.5 1430.5L418.4 1429.7L422.7 1427.6L426.9 1425.5L430.7 1422.3L434.6 1419.3L438.2 1415.6L442.1 1412.4L446.6 1410.6L450.6 1407.5L455.2 1406.1L459.8 1404.5L464.2 1402.6L468.4 1399.8L473.3 1399.1L478.1 1398.1L482.9 1397.4L487.3 1395.2L492.4 1395.6L497.1 1394.5L502 1394.3L506.7 1393.6L511.5 1393.1L516.1 1391.3L520.6 1388.9L525.3 1387.9L530.1 1387.7L534.9 1387.1L539.7 1386.2L544.4 1385.1L549.3 1385.8L554.2 1385.6L558.9 1385.1L563.7 1384.8L568.6 1385.9L573.4 1385.6L578.3 1386.7L583.1 1387.4L587.8 1386.2Z" fill="none" stroke="#000" stroke-width="0.7"/><path d="M592.5 1433.5l0 -17.8M595.7 1433.5l0.2 -18.2M596.7 1433.5l0.2 -12.8M597.8 1433.5l0.3 -19.7M598.9 1433.6l0.4 -19.5M599.9 1433.6l0.5 -24M601 1433.6l0.6 -24.6M604.1 1433.7l0.6 -16.2M605.2 1433.7l0.3 -8.6M606.2 1433.8l1 -24.1M607.3 1433.8l0.3 -7.9M608.3 1433.9l0.3 -6.8M609.4 1433.9l1 -19.5M610.4 1434l0.9 -16.3M612.6 1434.1l0.3 -5.9M613.6 1434.2l1.5 -24.8M614.7 1434.2l1 -15.8M615.7 1434.3l0.4 -5.7M617.8 1434.4l0.6 -7.9M618.9 1434.5l1.2 -15.5M619.9 1434.6l0.8 -10.7M622 1434.8l1.1 -13M625.2 1435.1l1.3 -14.1M627.3 1435.3l0.6 -6.2M628.3 1435.4l2.6 -25M629.4 1435.5l2 -18.6M630.4 1435.6l1.3 -11.7M631.5 1435.7l1.5 -13.5M632.5 1435.8l2.1 -18.4M633.6 1436l1.4 -12.1M635.7 1436.2l1.1 -9.1M643 1437.2l2.6 -17.8M649.2 1438.2l1.1 -6.5M650.3 1438.3l0.6 -3.5M652.3 1438.7l2.2 -12.8M654.4 1439.1l3.3 -18.5M656.5 1439.5l1.3 -7.1M659.6 1440l3.3 -16.8M660.6 1440.2l2.7 -13.5M662.7 1440.7l1.8 -8.6M665.8 1441.3l4.6 -21.7M666.8 1441.5l2.5 -11.5M668.9 1442l1.2 -5.2M671 1442.5l0.9 -3.9M672 1442.7l3.4 -14.4M673 1442.9l3.6 -15.3M674 1443.2l4.8 -20M675.1 1443.4l1.2 -4.8M677.1 1443.9l2.7 -11M678.1 1444.2l0.8 -3.1M679.2 1444.4l1.7 -6.5M680.2 1444.7l0.8 -3.1M681.2 1445l2.3 -8.7M683.2 1445.5l6 -22.3M684.3 1445.8l0.8 -2.9M685.3 1446.1l0.9 -3.4M686.3 1446.3l3 -10.8M687.3 1446.6l5.6 -20.1M688.3 1446.9l1 -3.5M689.3 1447.2l4.5 -15.8M690.3 1447.5l4.3 -14.8M699.4 1450.3l2.9 -9.2M701.4 1450.9l6.1 -18.6M704.4 1451.9l4.6 -13.6M705.4 1452.2l6.8 -20.1M706.4 1452.6l6 -17.4M707.4 1452.9l2.2 -6.3M708.4 1453.3l1.5 -4.2M709.4 1453.6l5.4 -15.3M714.4 1455.4l7.8 -21.2M715.4 1455.8l8.8 -23.6M717.3 1456.5l4.4 -11.4M718.3 1456.9l1.4 -3.7M720.3 1457.7l3.4 -8.6M722.3 1458.4l2 -5.1M723.2 1458.8l2.1 -5.2M724.2 1459.2l4.9 -12M726.2 1460l9.1 -22M727.1 1460.4l1.4 -3.4M728.1 1460.8l9.7 -23.1M729.1 1461.2l9.6 -22.7M730.1 1461.7l3.9 -9.2M731 1462.1l1.5 -3.5M732 1462.5l7.9 -18.3M733.9 1463.3l4 -9.1M734.9 1463.8l7.3 -16.5M735.9 1464.2l3 -6.6M736.8 1464.6l8.6 -19.1M740.7 1466.4l9.5 -20.5M743.5 1467.7l10.1 -21.2M745.4 1468.6l6.9 -14.2M747.3 1469.6l9.4 -19.1M748.3 1470l2.6 -5.3M751.1 1471.4l5.4 -10.6M753 1472.4l6.4 -12.4M753.9 1472.9l4.7 -9M754.8 1473.4l10.1 -19.5M756.7 1474.3l12.1 -23M757.6 1474.8l6.6 -12.5M758.6 1475.3l3.3 -6.2M759.5 1475.8l6.2 -11.5M760.4 1476.3l10.9 -20.1M761.4 1476.8l9.4 -17.2M762.3 1477.4l7.8 -14.1M763.2 1477.9l7.3 -13.1M765 1478.9l5.5 -9.8M766 1479.4l1.9 -3.3M767.8 1480.5l6.3 -10.9M768.7 1481l2 -3.5M769.6 1481.5l5.7 -9.8M771.4 1482.6l6.6 -11.2M773.2 1483.7l4.5 -7.5M775.1 1484.8l6.8 -11.2M776 1485.3l1.6 -2.7M776.9 1485.9l3.1 -5M777.8 1486.4l2.9 -4.7M778.6 1487l4.4 -7.1M779.5 1487.5l2.1 -3.3M781.3 1488.7l8.9 -14M782.2 1489.2l10.3 -16.1M783.1 1489.8l6.3 -9.8M786.6 1492.1l6.3 -9.6M788.4 1493.3l11.9 -17.7M789.3 1493.9l3.2 -4.8M792.7 1496.2l2 -2.9M793.6 1496.8l3.4 -4.9M795.3 1498.1l5.3 -7.6M797.9 1499.9l7.7 -10.7M799.6 1501.1l2.6 -3.6M802.2 1503l4.3 -5.9M804.7 1504.9l1.9 -2.5M806.4 1506.2l6.3 -8.3M807.2 1506.8l7.3 -9.5M808.9 1508.1l3.6 -4.6M812.2 1510.7l8.8 -11M814.7 1512.7l1.9 -2.3M817.1 1514.7l16.2 -19.5M817.9 1515.4l2.1 -2.5M820.3 1517.4l15.6 -18.4M821.1 1518.1l14.9 -17.4M821.9 1518.8l8.7 -10.1M822.7 1519.5l4.3 -5M825.1 1521.6l15.8 -17.9M825.9 1522.3l16.2 -18.3M826.7 1523l6.2 -6.9M829 1525.1l4.5 -5M829.8 1525.8l14 -15.4M836.7 1532.3l5.5 -5.7M837.5 1533l2.9 -3M838.3 1533.8l9.6 -9.9M841.3 1536.7l2.8 -2.8M842 1537.5l2.7 -2.7M845 1540.5l14.4 -14M846.4 1542l6.1 -5.8M847.1 1542.8l18.7 -17.8M848.6 1544.3l16.8 -15.9M849.3 1545.1l5.1 -4.7M850 1545.9l13.4 -12.5M851.5 1547.4l14.1 -13M852.2 1548.2l5.2 -4.7M852.9 1549l16.3 -14.8M854.3 1550.5l18.3 -16.4M855 1551.3l3.4 -3.1M855.7 1552.1l3 -2.6M856.4 1552.9l15.2 -13.4M857.1 1553.7l3.1 -2.7M857.8 1554.5l14.6 -12.7M858.5 1555.3l7.1 -6.2M862.6 1560.1l17.3 -14.4M863.3 1560.9l13.3 -11.1M864.6 1562.5l5.4 -4.4M865.9 1564.2l12.4 -10M866.6 1565l10.4 -8.4M867.3 1565.8l14.2 -11.3M867.9 1566.6l4.3 -3.4M869.9 1569.1l8.7 -6.8M870.5 1570l19.8 -15.3M871.2 1570.8l15.8 -12.2M871.8 1571.6l5.8 -4.5M872.5 1572.5l10.1 -7.7M873.1 1573.3l10.1 -7.7M873.7 1574.1l5.4 -4M874.4 1575l17.2 -12.8M875 1575.8l8.8 -6.5M875.6 1576.7l12.5 -9.2M876.2 1577.5l12 -8.8M876.9 1578.4l6.3 -4.6M877.5 1579.2l6.8 -4.9M878.1 1580.1l11.2 -8.1M879.9 1582.7l3.4 -2.4M881.8 1585.3l14.8 -10.3M883 1587l19 -13M884.7 1589.6l8.8 -5.9M885.9 1591.4l16.1 -10.6M886.5 1592.2l5.7 -3.7M887.1 1593.1l10.2 -6.7M887.6 1594l21.3 -13.8M888.2 1594.9l5.4 -3.5M888.8 1595.8l10.6 -6.8M889.3 1596.7l21.8 -13.9M892.1 1601.1l8.3 -5.1M892.7 1602l6.2 -3.8M893.2 1602.9l17.1 -10.4M894.3 1604.8l19.7 -11.8M894.9 1605.7l18.2 -10.8M895.4 1606.6l16.2 -9.6M895.9 1607.5l21.7 -12.7M897 1609.3l8.3 -4.8M897.5 1610.2l4.3 -2.5M899.6 1613.9l3.5 -2M901.2 1616.6l6.2 -3.4M902.2 1618.5l7.3 -3.9M902.7 1619.4l7.5 -4M903.7 1621.3l17.2 -9.1M904.1 1622.2l13 -6.8M904.6 1623.2l13.3 -7M905.1 1624.1l6.3 -3.3M905.6 1625l6.9 -3.5M906.1 1626l17.5 -8.9M906.6 1626.9l17.9 -9M907 1627.9l8.1 -4.1M908 1629.7l21.7 -10.7M909.4 1632.6l8 -3.8M909.8 1633.5l10.5 -5M910.7 1635.4l16.8 -7.9M911.2 1636.4l20.2 -9.5M915.1 1645l3.6 -1.6M915.5 1646l21.6 -9.3M917.2 1649.9l7.8 -3.2M917.6 1650.9l18.9 -7.8M918 1651.8l17.8 -7.3M919.6 1655.7l13 -5.2M919.9 1656.7l8.4 -3.3M920.3 1657.7l7.3 -2.8M921.5 1660.7l6.9 -2.6M922.2 1662.6l21.2 -7.9M922.6 1663.6l11.1 -4.1M922.9 1664.6l14 -5.1M923.3 1665.6l6 -2.2M924.7 1669.6l23.6 -8.3M925.1 1670.6l6.7 -2.3M925.4 1671.6l10.7 -3.7M925.8 1672.6l13.9 -4.7M926.1 1673.6l7.6 -2.6M926.4 1674.6l10.4 -3.5M926.8 1675.6l8.1 -2.7M927.1 1676.6l8.9 -2.9M927.4 1677.6l7.4 -2.4M927.7 1678.6l23.2 -7.4M928.4 1680.6l4.4 -1.4M928.7 1681.6l15.8 -4.9M929.3 1683.6l16 -4.8M929.9 1685.6l5 -1.5M930.5 1687.7l6.6 -1.9M931.1 1689.7l5.7 -1.6M931.4 1690.7l23.1 -6.5M931.9 1692.7l16.6 -4.5M932.5 1694.8l4.3 -1.2M932.8 1695.8l5.4 -1.4M933 1696.8l17.4 -4.6M933.3 1697.8l17.4 -4.5M933.6 1698.8l12.7 -3.2M934.1 1700.9l10.7 -2.7M934.6 1702.9l22 -5.3M934.8 1704l16.9 -4M935.3 1706l12.1 -2.8M935.5 1707l11.8 -2.7M936.5 1711.2l23.1 -5M937.3 1715.3l5.5 -1.1M937.8 1717.4l23 -4.6M938.2 1719.4l19.9 -3.8M938.5 1721.5l11.7 -2.2M938.9 1723.6l21.2 -3.8M939.8 1728.8l6.3 -1M940.5 1732.9l18.4 -2.8M940.8 1735l8.8 -1.3M941.2 1738.2l20.1 -2.8M941.7 1741.3l3.6 -0.5M942.8 1751.8l6.1 -0.6M942.9 1752.8l3.1 -0.3M943 1753.9l9.4 -0.9M943.3 1757l13.4 -1.1M943.4 1758.1l7.1 -0.6M943.6 1760.2l3 -0.2M943.6 1761.2l21.7 -1.5M943.7 1762.3l14.4 -1M943.8 1763.3l10.3 -0.7M943.8 1764.4l5.4 -0.3M943.9 1765.4l19.4 -1.1M944 1766.5l12.4 -0.7M944.1 1768.6l25.5 -1.3M944.3 1772.8l18.6 -0.7M944.5 1783.4l9.8 -0.1M944.5 1784.4l5.1 0M944.5 1787.6l6 0M944.5 1789.7l12.4 0.1M944.4 1793.9l14.9 0.3M944.4 1795l22.9 0.6M944.3 1797.1l7.8 0.2M944.3 1798.1l20.8 0.7M944.2 1800.2l3.8 0.2M944.1 1802.3l20.5 1M944 1804.4l21.4 1.1M944 1805.5l13.3 0.7M943.8 1807.6l9.5 0.6M943.8 1808.7l19.9 1.3M943.6 1810.8l13.7 1M943.3 1815l5.3 0.4M943.2 1816l7.1 0.6M943.1 1817.1l12.7 1.1M943 1818.1l11.8 1.1M942.9 1819.2l25.2 2.4M942.8 1820.2l22.7 2.2M942.7 1821.3l10.4 1.1M942.6 1822.3l20 2.1M942.5 1823.4l13.7 1.5M942.4 1824.4l15.6 1.7M942.2 1826.5l8 0.9M942 1827.6l15.2 1.8M941.5 1831.7l22.4 2.9M941.1 1834.9l25.4 3.6M940.8 1837l14 2.1M940.5 1839.1l16 2.4M940.2 1841.1l11.2 1.8M939.8 1843.2l7.4 1.2M939.7 1844.3l7.1 1.2M939.5 1845.3l14.9 2.5M939.3 1846.3l6.1 1.1M939.1 1847.4l3 0.5M938.9 1848.4l21.7 3.9M938.7 1849.5l23.8 4.4M938.5 1850.5l19.6 3.6M938.4 1851.5l8.9 1.7M938.2 1852.6l5.7 1.1M938 1853.6l20.4 4M937.3 1856.7l4.2 0.9M937.1 1857.7l19.4 4M936.2 1861.9l10.2 2.2M936 1862.9l23.7 5.3M935.5 1865l7.3 1.7M935.3 1866l19 4.4M935.1 1867l12.1 2.9M934.8 1868l4.2 1M934.6 1869.1l18.1 4.4M934.3 1870.1l4.8 1.2M934.1 1871.1l13.5 3.4M933.3 1874.2l11.6 3M932.8 1876.2l18.6 4.9M932.5 1877.2l24.4 6.5M931.9 1879.3l8.7 2.4M931.4 1881.3l7 2M930.8 1883.3l12.5 3.6M930.5 1884.3l7.8 2.3M930.2 1885.4l11 3.2M929.6 1887.4l7 2.1M929.3 1888.4l13.8 4.2M929 1889.4l12.1 3.7M927.7 1893.4l3 1M927.4 1894.4l6.3 2M927.1 1895.4l18.9 6.2M926.8 1896.4l4 1.3M926.4 1897.4l24.1 8M925.4 1900.4l3.3 1.1M925.1 1901.4l5.9 2M924.4 1903.4l6.2 2.2M923.7 1905.4l5.3 1.9M923.3 1906.4l3.5 1.3M922.9 1907.4l18.6 6.8M922.6 1908.4l19.4 7.2M922.2 1909.4l2.9 1.1M921.8 1910.4l21.5 8.1M921.5 1911.3l8.1 3.1M921.1 1912.3l18.8 7.2M920.7 1913.3l5.4 2.1M920.3 1914.3l8.9 3.5M919.9 1915.3l16.4 6.4M919.6 1916.3l8 3.2M919.2 1917.2l4.2 1.7M918.4 1919.2l10.8 4.4M918 1920.2l8.9 3.7M917.6 1921.1l9.5 3.9M917.2 1922.1l21 8.8M916.8 1923.1l16.7 7.1M916.3 1924.1l9.2 3.9M915.9 1925l3.3 1.4M915.5 1926l8.6 3.7M915.1 1927l16.4 7.1M914.7 1927.9l19.4 8.5M914.2 1928.9l22.6 10M913.8 1929.9l19.9 8.9M913.4 1930.8l15.9 7.1M912.9 1931.8l3.3 1.5M912.5 1932.7l8.8 4M911.6 1934.7l22.3 10.3M911.2 1935.6l12.9 6.1M910.7 1936.6l3 1.4M908 1942.3l4.3 2.1M907.5 1943.2l12.1 6M907 1944.1l3.9 2M906.6 1945.1l7 3.5M906.1 1946l7.3 3.7M905.6 1947l12.8 6.6M905.1 1947.9l2.9 1.5M904.6 1948.8l16.4 8.5M904.1 1949.8l2.7 1.4M903.7 1950.7l4 2.1M903.2 1951.6l21.3 11.4M902.7 1952.6l11.3 6.1M902.2 1953.5l13.4 7.2M901.7 1954.4l21.9 11.9M899.6 1958.1l11.4 6.4M897.5 1961.8l4.2 2.4M897 1962.7l21.5 12.4M895.9 1964.5l4.8 2.8M895.4 1965.4l6 3.5M892.1 1970.9l21.6 13.3M888.8 1976.2l14.3 9.2M888.2 1977.1l3.9 2.5M887.6 1978l10.6 6.9M887.1 1978.9l13.9 9.1M886.5 1979.8l9.3 6.2M885.9 1980.6l6.3 4.2M884.7 1982.4l2.8 1.9M883.5 1984.1l21.3 14.5M883 1985l14.4 9.8M882.4 1985.9l5.9 4M881.8 1986.7l9.1 6.3M881.2 1987.6l11.8 8.2M880.5 1988.5l2.5 1.8M879.3 1990.2l19.2 13.7M878.7 1991.1l8.1 5.8M877.5 1992.8l20.5 14.8M876.2 1994.5l20.3 14.9M872.5 1999.5l7 5.3M871.8 2000.4l17.5 13.4M869.2 2003.7l6.8 5.3M867.9 2005.4l18.5 14.7M867.3 2006.2l18.1 14.5M866.6 2007l15.4 12.4M865.9 2007.8l13.2 10.7M865.3 2008.7l12.5 10.2M864.6 2009.5l10.6 8.7M863.9 2010.3l3.6 3M863.3 2011.1l8 6.6M861.9 2012.7l16.2 13.6M861.2 2013.5l11.7 9.9M860.6 2014.3l19.7 16.7M859.2 2015.9l5.2 4.5M858.5 2016.7l12.6 10.9M857.1 2018.3l10.9 9.5M856.4 2019.1l4.9 4.3M855.7 2019.9l5.3 4.7M854.3 2021.5l3.3 3M853.6 2022.3l6.7 6M852.9 2023l15 13.6M852.2 2023.8l15.5 14.1M850.8 2025.4l7.2 6.6M849.3 2026.9l2.5 2.3M848.6 2027.7l9.6 9M847.9 2028.5l14.7 13.9M847.1 2029.2l2.9 2.8M846.4 2030l11.4 11M845.7 2030.7l12.3 11.8M845 2031.5l18.1 17.6M844.2 2032.3l15.9 15.5M843.5 2033l12.9 12.7M842.7 2033.8l2.4 2.3M842 2034.5l9.7 9.7M841.3 2035.3l14.8 14.8M840.5 2036l2.7 2.7M839.8 2036.7l15.8 15.9M839 2037.5l18.2 18.5M838.3 2038.2l7.2 7.4M837.5 2039l3 3.1M836.7 2039.7l7 7.2M832.9 2043.3l8.7 9.3M832.1 2044l15.9 17.1M831.4 2044.8l11.4 12.4M829.8 2046.2l4.8 5.2M829 2046.9l7.6 8.3M827.5 2048.3l11.3 12.6M826.7 2049l8 9M824.3 2051.1l6.6 7.5M823.5 2051.8l11.2 12.8M822.7 2052.5l12.8 14.8M821.9 2053.2l14.3 16.6M821.1 2053.9l8.2 9.5M820.3 2054.6l3.4 4M819.5 2055.2l6.4 7.5M818.7 2055.9l3.4 4.1M817.9 2056.6l4.9 5.8M814.7 2059.3l6.6 8.2M812.2 2061.3l7 8.7M808.9 2063.9l2 2.5M808 2064.5l7.6 9.8M805.5 2066.5l15.1 19.9M803.9 2067.7l7.8 10.4M797.1 2072.7l13.1 18.3M795.3 2073.9l2.1 3M793.6 2075.2l9.9 14.1M791 2077l7.7 11.2M789.3 2078.1l10.5 15.5M788.4 2078.7l10.6 15.8M787.5 2079.3l9.8 14.7M784 2081.6l8.8 13.6M782.2 2082.8l5.6 8.8M781.3 2083.3l5.6 8.9M780.4 2083.9l5 7.9M777.8 2085.6l11.3 18.1M775.1 2087.2l10.7 17.7M774.2 2087.8l3.9 6.5M772.3 2088.9l12 20.1M771.4 2089.4l10 16.9M770.5 2089.9l13.1 22.3M769.6 2090.5l7.9 13.5M766.9 2092.1l8.5 14.9M761.4 2095.2l2.1 3.8M759.5 2096.2l4 7.4M754.8 2098.6l6.9 13.3M753.9 2099.1l4.4 8.5M753 2099.6l1.4 2.7M752 2100.1l1.6 3.1M750.1 2101l10 20M743.5 2104.3l5 10.5M740.7 2105.6l7.9 17.1M739.7 2106.1l3.7 8M738.7 2106.5l2.9 6.3M736.8 2107.4l1.6 3.4M735.9 2107.8l5.9 13.1M733.9 2108.7l2.5 5.7M731 2109.9l7.9 18.5M730.1 2110.3l7.1 16.6M728.1 2111.2l8.8 21M727.1 2111.6l7.2 17.3M726.2 2112l6.9 16.7M725.2 2112.4l2.7 6.7M724.2 2112.8l8.3 20.6M723.2 2113.2l6.1 15.1M722.3 2113.6l4.4 11.2M721.3 2113.9l9.5 24M719.3 2114.7l1.6 4.2M718.3 2115.1l2.7 6.9M717.3 2115.5l2.7 7.1M715.4 2116.2l9 24M713.4 2116.9l3.2 8.8M712.4 2117.3l7.9 21.8M711.4 2117.7l7.7 21.5M710.4 2118l8 22.6M709.4 2118.4l1.4 3.9M708.4 2118.7l1.1 3.2M707.4 2119.1l7.9 22.7M705.4 2119.8l3.3 9.6M703.4 2120.4l7.3 22M702.4 2120.8l7.7 23.5M701.4 2121.1l3.4 10.3M700.4 2121.4l3.1 9.7M699.4 2121.7l7.9 24.8M698.4 2122.1l7.4 23.3M697.4 2122.4l3.4 10.8M696.4 2122.7l5.3 17.2M694.4 2123.3l1 3.3M692.4 2123.9l7.3 24.5M689.3 2124.8l0.9 3.2M688.3 2125.1l5.5 19.5M687.3 2125.4l1.5 5.5M686.3 2125.7l1.4 5.1M684.3 2126.2l4.4 16.2M683.2 2126.5l4.2 15.7M682.2 2126.8l4.6 17.3M676.1 2128.3l2.8 11.6M675.1 2128.6l1.4 5.6M674 2128.8l4.6 19.3M671 2129.5l4.8 20.8M666.8 2130.5l5 23.1M665.8 2130.7l2.1 9.9M664.8 2130.9l2.5 11.9M663.7 2131.1l1.1 5.2M662.7 2131.3l1 5.1M660.6 2131.8l2.7 13.5M659.6 2132l2.4 12.2M654.4 2132.9l3.7 20.8M652.3 2133.3l0.8 4.8M651.3 2133.5l1.1 6.2M650.3 2133.7l2.3 13.5M649.2 2133.8l3.1 18.8M648.2 2134l1.3 8M647.1 2134.2l0.6 3.7M646.1 2134.3l2.3 14.9M645.1 2134.5l0.5 3.1M643 2134.8l1.4 9.8M640.9 2135.1l2 14.4M639.8 2135.2l1.2 9.1M638.8 2135.4l0.4 3.1M637.7 2135.5l3.1 23.7M636.7 2135.7l1.2 9.6M635.7 2135.8l1.5 12.3M634.6 2135.9l2.4 19.9M633.6 2136l1.7 14.2M632.5 2136.2l1.6 14.1M628.3 2136.6l0.7 6.6M622 2137.2l0.6 6.8M619.9 2137.4l1 12M615.7 2137.7l1.4 20.5M610.4 2138l1.1 20.9M609.4 2138.1l1.2 23.3M607.3 2138.2l1.1 25.2M606.2 2138.2l0.9 21.5M605.2 2138.3l0.8 21.8M604.1 2138.3l0.7 21.1M599.9 2138.4l0.1 4.1M595.7 2138.5l0.1 7.2M594.6 2138.5l0.1 17.5M592.5 2138.5l0 5.3M591.5 2138.5l0 11.4M589.4 2138.5l-0.2 24.6M588.3 2138.5l-0.1 6M587.3 2138.5l-0.3 25.1M586.2 2138.5l-0.2 12.3M582 2138.4l-0.5 18.2M580.9 2138.3l-0.6 19.3M578.8 2138.3l-0.9 25M577.8 2138.2l-1 24.3M575.7 2138.1l-0.9 19.6M572.5 2138l-1.2 20.9M571.4 2137.9l-0.6 11.1M570.4 2137.8l-0.3 4.1M569.3 2137.8l-0.4 5.8M565.1 2137.5l-1.5 19.9M559.9 2137l-0.3 3.1M557.8 2136.8l-0.8 8.6M555.7 2136.6l-2.3 22M554.6 2136.5l-2 18.8M553.6 2136.4l-2.2 19.8M550.4 2136l-1.5 12.8M548.3 2135.8l-2.8 22.4M547.3 2135.7l-1.8 14M546.3 2135.5l-2.2 17.2M545.2 2135.4l-1.3 10M544.2 2135.2l-0.5 4M543.1 2135.1l-2.4 16.9M542.1 2134.9l-1.1 7.4M541 2134.8l-3 20.7M540 2134.6l-1.1 7.4M538.9 2134.5l-1.6 10.7M537.9 2134.3l-0.9 6M536.9 2134.2l-1.4 8.9M535.8 2134l-2.1 13.2M534.8 2133.8l-1.7 10.2M533.7 2133.7l-1 6.2M532.7 2133.5l-2.3 13.7M531.7 2133.3l-0.9 5.4M530.6 2133.1l-4 22.5M528.5 2132.7l-4.1 22.5M527.5 2132.5l-0.6 3M526.5 2132.4l-2.1 11.2M524.4 2132l-0.9 4.7M521.3 2131.3l-2.8 13.7M520.3 2131.1l-1.4 6.8M519.2 2130.9l-3.4 16.3M518.2 2130.7l-5.3 24.9M517.2 2130.5l-2.6 11.8M516.1 2130.2l-3.3 14.9M514.1 2129.8l-1.9 8.3M513 2129.5l-4.8 20.7M512 2129.3l-2.7 11.7M511 2129.1l-1.9 8M510 2128.8l-1.3 5.6M505.9 2127.8l-0.9 3.5M503.8 2127.3l-5.8 22.6M502.8 2127l-2.2 8.5M501.8 2126.8l-2.7 10.4M499.7 2126.2l-1.7 6.3M498.7 2125.9l-1.3 4.7M497.7 2125.7l-1.2 4.2M495.7 2125.1l-6.9 24.4M494.7 2124.8l-4.4 15.2M493.7 2124.5l-1.3 4.6M491.6 2123.9l-1.4 4.8M488.6 2123l-3.4 11.1M487.6 2122.7l-5 16M486.6 2122.4l-2.4 7.5M485.6 2122.1l-3.2 10.2M484.6 2121.7l-2.4 7.6M483.6 2121.4l-2 6.2M482.6 2121.1l-3.4 10.5M481.6 2120.8l-7.8 23.7M480.6 2120.4l-2.9 8.6M479.6 2120.1l-6.6 19.5M478.6 2119.8l-4 11.7M477.6 2119.4l-6.7 19.5M476.6 2119.1l-3.7 10.7M475.6 2118.7l-1.1 3.2M474.6 2118.4l-1.3 3.7M472.6 2117.7l-1.8 5M471.6 2117.3l-2.4 6.7M470.6 2116.9l-5.4 14.7M469.6 2116.6l-3.2 8.5M467.6 2115.8l-7.2 19.2M462.7 2113.9l-1.1 2.9M461.7 2113.6l-7.2 18.2M458.8 2112.4l-4.6 11.3M456.9 2111.6l-1.6 3.9M452 2109.5l-3.8 8.8M447.2 2107.4l-9.1 20.1M443.3 2105.6l-3.6 7.7M438.6 2103.4l-7.7 15.9M437.6 2102.9l-2.9 5.9M436.7 2102.4l-6.3 12.8M434.8 2101.5l-4.8 9.7M433.9 2101l-3.9 7.7M429.2 2098.6l-9 17.2M428.2 2098.1l-1.8 3.3M427.3 2097.7l-2.6 4.9M426.4 2097.2l-8.3 15.6M421.7 2094.6l-5.9 10.7M420.8 2094.1l-6.3 11.4M419.9 2093.6l-5.6 9.9M419 2093.1l-9.7 17.2M418 2092.6l-5.1 9M417.1 2092.1l-10 17.5M416.2 2091.5l-10.1 17.6M413.5 2089.9l-9.9 16.9M412.6 2089.4l-2.1 3.6M411.7 2088.9l-12.1 20.3M410.8 2088.3l-6.7 11.2M409.8 2087.8l-9.2 15.2M408.9 2087.2l-1.9 3.1M407.1 2086.1l-4.8 7.8M406.2 2085.6l-6.4 10.4M405.4 2085l-5.6 9M403.6 2083.9l-2.6 4M401.8 2082.8l-10.4 16.2M400.9 2082.2l-7.2 11.1M400 2081.6l-8.4 12.9M398.2 2080.5l-7.6 11.6M396.5 2079.3l-2.1 3.1M395.6 2078.7l-2.5 3.7M394.7 2078.1l-9.7 14.4M393.9 2077.5l-3.7 5.5M393 2077l-7.2 10.6M392.1 2076.4l-9.6 14M391.3 2075.8l-14.7 21.1M390.4 2075.2l-1.9 2.7M389.5 2074.5l-11.9 17M388.7 2073.9l-12.2 17.3M387.8 2073.3l-11.6 16.4M385.2 2071.5l-5.6 7.8M384.4 2070.9l-2.8 3.8M383.5 2070.2l-5.7 7.8M382.7 2069.6l-5.4 7.4M381.8 2069l-2.2 2.9M381 2068.4l-8.6 11.5M380.1 2067.7l-7.1 9.4M378.5 2066.5l-2 2.6M377.6 2065.8l-2.9 3.8M376.8 2065.2l-15.6 20.2M375.1 2063.9l-12.2 15.6M373.5 2062.6l-14.6 18.5M372.6 2061.9l-2.9 3.6M371.8 2061.3l-6 7.5M371 2060.6l-8.1 10.1M369.3 2059.3l-4.8 5.9M368.5 2058.6l-11 13.5M367.7 2057.9l-15.7 19M366.9 2057.3l-13.9 16.7M366.1 2056.6l-14.2 17M365.3 2055.9l-2 2.4M364.5 2055.2l-2 2.4M363.7 2054.6l-6.2 7.3M362.9 2053.9l-10.9 12.7M362.1 2053.2l-3.8 4.5M360.5 2051.8l-10.3 11.8M358.9 2050.4l-7.2 8.2M358.1 2049.7l-3.5 4M357.3 2049l-15.8 17.7M356.5 2048.3l-6 6.7M355 2046.9l-12.7 13.9M354.2 2046.2l-4.3 4.7M351.1 2043.3l-13.3 14.2M349.5 2041.9l-2.6 2.8M348.8 2041.1l-8.9 9.4M348 2040.4l-12.3 12.8M345 2037.5l-3.1 3.2M344.2 2036.7l-8.8 8.9M343.5 2036l-4.8 4.9M342.7 2035.3l-11.3 11.3M342 2034.5l-5.7 5.7M341.3 2033.8l-9.7 9.6M340.5 2033l-12.9 12.7M339 2031.5l-18.3 17.8M337.6 2030l-2.4 2.3M334 2026.1l-15.3 14.2M333.2 2025.4l-4.8 4.5M332.5 2024.6l-14.4 13.2M331.8 2023.8l-9.3 8.5M331.1 2023l-16.9 15.4M329.7 2021.5l-4 3.6M326.9 2018.3l-11.4 10M324.1 2015.1l-19.5 16.7M322.1 2012.7l-19.1 16M321.4 2011.9l-14.7 12.3M320.1 2010.3l-11.5 9.5M319.4 2009.5l-16.3 13.4M318.7 2008.7l-11 8.9M318.1 2007.8l-6.7 5.5M317.4 2007l-5 4M316.7 2006.2l-9.2 7.3M316.1 2005.4l-10.2 8.1M315.4 2004.5l-16.9 13.4M314.8 2003.7l-4.5 3.5M314.1 2002.9l-9.8 7.7M313.5 2002l-18 14M312.8 2001.2l-8.4 6.5M312.2 2000.4l-5 3.8M311.5 1999.5l-20.3 15.5M310.9 1998.7l-16.8 12.7M310.3 1997.9l-16.3 12.3M309.6 1997l-20.5 15.4M309 1996.2l-17.6 13.1M307.8 1994.5l-14.7 10.7M307.1 1993.6l-9.2 6.7M305.3 1991.1l-3.6 2.6M304.7 1990.2l-10.2 7.3M304.1 1989.3l-3.6 2.5M303.5 1988.5l-6.8 4.7M302.8 1987.6l-7.6 5.3M302.2 1986.7l-7.6 5.2M301.6 1985.9l-18.6 12.8M299.9 1983.3l-4.3 2.9M298.7 1981.5l-7.5 5M298.1 1980.6l-8.9 5.9M297.5 1979.8l-18.7 12.3M296.9 1978.9l-3.1 2M296.4 1978l-7.6 4.9M295.2 1976.2l-9.8 6.3M294.7 1975.3l-6.6 4.2M288.6 1965.4l-6.9 4.1M287 1962.7l-5 2.9M285.9 1960.9l-10.8 6.1M284.9 1959l-14.1 8M284.4 1958.1l-5.8 3.2M283.9 1957.2l-2.9 1.6M282.3 1954.4l-4.5 2.5M281.8 1953.5l-20.5 11.1M280.8 1951.6l-8.7 4.6M280.3 1950.7l-19.3 10.2M279.9 1949.8l-22.9 12M279.4 1948.8l-14.1 7.4M277.9 1946l-7.2 3.7M277.4 1945.1l-15.3 7.7M277 1944.1l-21.7 10.9M276.5 1943.2l-5.3 2.6M276 1942.3l-20.3 10M275.6 1941.3l-4.8 2.4M274.2 1938.5l-20.8 10M273.3 1936.6l-6.8 3.2M272.8 1935.6l-2.7 1.3M272.4 1934.7l-7.9 3.7M271.9 1933.7l-4.3 2M271.5 1932.7l-7.5 3.4M270.6 1930.8l-5.6 2.5M270.2 1929.9l-2.7 1.2M269.8 1928.9l-15.1 6.7M268.9 1927l-18.6 8.1M268.5 1926l-15.3 6.6M268.1 1925l-21.2 9.1M267.7 1924.1l-11.3 4.8M267.2 1923.1l-19.5 8.2M266.8 1922.1l-4.2 1.7M266.4 1921.1l-9.2 3.8M266 1920.2l-8.6 3.5M265.6 1919.2l-15.5 6.3M264.4 1916.3l-13.8 5.5M264.1 1915.3l-5.3 2.1M263.3 1913.3l-11.7 4.5M262.9 1912.3l-23.8 9.1M262.2 1910.4l-12.6 4.8M261.4 1908.4l-12.3 4.6M260.7 1906.4l-13.8 5M260.3 1905.4l-18.6 6.7M260 1904.4l-5.6 2M259.6 1903.4l-8 2.8M259.3 1902.4l-8.5 3M258.9 1901.4l-7.7 2.7M258.6 1900.4l-20.4 7M258.2 1899.4l-3.3 1.1M257.9 1898.4l-17.5 5.9M257.2 1896.4l-7.7 2.5M256.9 1895.4l-11.3 3.7M256.3 1893.4l-19.8 6.3M255.9 1892.4l-7.8 2.5M255.6 1891.4l-8.8 2.8M255.3 1890.4l-22.1 6.9M254.7 1888.4l-3.6 1.1M254.4 1887.4l-13 3.9M254.1 1886.4l-9.8 2.9M253.5 1884.3l-20.5 6M253.2 1883.3l-22.3 6.4M252.9 1882.3l-6.3 1.8M252.1 1879.3l-4.8 1.3M251.8 1878.3l-20.3 5.5M251.2 1876.2l-22.6 6M251 1875.2l-25 6.5M250.7 1874.2l-15.8 4.1M250.2 1872.1l-18.7 4.7M249.9 1871.1l-11.7 2.9M249.7 1870.1l-22.9 5.6M249.4 1869.1l-6.8 1.7M248.9 1867l-7.8 1.8M248.7 1866l-18 4.2M248.5 1865l-16.1 3.7M248 1862.9l-12.1 2.7M247.8 1861.9l-13 2.9M247.5 1860.8l-5.1 1.1M247.3 1859.8l-5.3 1.1M247.1 1858.8l-17.8 3.8M246.9 1857.7l-7.4 1.5M246.7 1856.7l-17.6 3.6M246.5 1855.7l-12.2 2.5M246.2 1854.6l-4.7 0.9M246 1853.6l-10.6 2.1M245.5 1850.5l-6.1 1.1M245.1 1848.4l-4.5 0.8M244.7 1846.3l-13.1 2.3M244.2 1843.2l-3.4 0.6M243.8 1841.1l-17.2 2.7M243.5 1839.1l-11.7 1.8M243.2 1837l-23 3.4M243.1 1835.9l-12.4 1.8M242.9 1834.9l-9 1.3M242.8 1833.8l-9.2 1.3M242.6 1832.8l-12.4 1.7M242.3 1830.7l-18.3 2.3M242.1 1828.6l-4.6 0.6M241.8 1826.5l-16 1.8M241.7 1825.5l-13.3 1.5M241.2 1820.2l-22.4 2.2M241 1818.1l-3.7 0.3M240.8 1816l-12.9 1.1M240.6 1813.9l-10.2 0.8M240.4 1811.8l-15.4 1.1M240.4 1810.8l-3 0.2M240.3 1809.7l-6.1 0.4M240.2 1808.7l-15.2 1M240.2 1807.6l-20.7 1.3M240.1 1806.6l-17.1 1M240 1805.5l-5.6 0.3M240 1804.4l-13 0.7M239.9 1803.4l-25.1 1.2M239.9 1802.3l-13.7 0.6M239.8 1801.3l-6.2 0.3M239.8 1800.2l-21.8 0.9M239.7 1799.2l-5.1 0.2M239.7 1798.1l-13.3 0.5M239.7 1797.1l-22.7 0.7M239.6 1796l-7.3 0.2M239.6 1795l-17.1 0.4M239.6 1793.9l-25.6 0.6M239.6 1792.9l-7.4 0.1M239.5 1791.8l-18.7 0.3M239.5 1790.7l-5.5 0.1M239.5 1789.7l-6.2 0.1M239.5 1787.6l-12.6 0.1M239.5 1786.5l-19.8 0M239.5 1785.5l-20.7 0M239.5 1784.4l-12.7 -0.1M239.5 1783.4l-25.7 -0.2M239.5 1782.3l-5.5 -0.1M239.5 1781.3l-7.1 -0.1M239.5 1780.2l-22.4 -0.4M239.6 1779.1l-17.8 -0.3M239.6 1778.1l-10.3 -0.2M239.6 1777l-19.9 -0.5M239.6 1776l-10.1 -0.3M239.7 1773.9l-9 -0.3M239.7 1772.8l-4.1 -0.2M239.8 1770.7l-4.7 -0.2M239.9 1769.7l-15.1 -0.7M239.9 1768.6l-15.4 -0.8M240 1767.6l-6.1 -0.3M240 1766.5l-4 -0.2M240.1 1765.4l-4.2 -0.2M240.2 1763.3l-14.6 -0.9M240.3 1762.3l-23.9 -1.6M240.4 1761.2l-21.9 -1.5M240.4 1760.2l-7.5 -0.6M240.7 1757l-8 -0.7M240.8 1756l-19.2 -1.6M240.9 1754.9l-18.4 -1.6M241 1753.9l-7.3 -0.7M241.1 1752.8l-24 -2.3M241.2 1751.8l-14.2 -1.4M241.3 1750.7l-20.4 -2.1M241.6 1747.6l-14.5 -1.6M241.7 1746.5l-7.6 -0.9M241.8 1745.5l-3.1 -0.4M242.1 1743.4l-7.6 -0.9M242.2 1742.3l-3.9 -0.5M242.3 1741.3l-4.1 -0.5M242.8 1738.2l-6 -0.8M242.9 1737.1l-23.1 -3.2M243.2 1735l-21 -3.1M243.8 1730.9l-24 -3.8M244.2 1728.8l-18.8 -3.1M244.5 1726.7l-16.6 -2.8M244.9 1724.6l-8.6 -1.5M245.1 1723.6l-25.4 -4.6M245.5 1721.5l-23.1 -4.3M245.8 1719.4l-20.7 -4M246.5 1716.3l-20.4 -4.1M247.1 1713.2l-15.7 -3.3M247.3 1712.2l-7.4 -1.6M248 1709.1l-5.2 -1.2M248.2 1708.1l-14.7 -3.3M248.7 1706l-5.1 -1.2M248.9 1705l-16.3 -3.8M249.2 1704l-14.7 -3.5M249.4 1702.9l-10.7 -2.6M249.7 1701.9l-11.5 -2.8M250.2 1699.9l-3.8 -1M250.4 1698.8l-12.1 -3.1M250.7 1697.8l-18 -4.6M251.2 1695.8l-3 -0.8M251.8 1693.7l-15.8 -4.3M252.3 1691.7l-3 -0.8M253.2 1688.7l-4.1 -1.2M253.5 1687.7l-2.9 -0.8M253.8 1686.6l-8.3 -2.4M254.1 1685.6l-23.8 -7.1M255.3 1681.6l-8.2 -2.5M255.6 1680.6l-7.5 -2.3M256.3 1678.6l-3.3 -1.1M256.6 1677.6l-20.6 -6.6M257.2 1675.6l-17 -5.6M257.6 1674.6l-16.3 -5.4M258.2 1672.6l-22 -7.5M258.9 1670.6l-23.1 -8M259.3 1669.6l-9.1 -3.2M259.6 1668.6l-10.5 -3.7M260.3 1666.6l-11 -4M261.4 1663.6l-20.2 -7.5M262.2 1661.6l-20.5 -7.7M262.5 1660.7l-12.8 -4.9M262.9 1659.7l-4.4 -1.7M263.3 1658.7l-12.2 -4.7M264.4 1655.7l-5.3 -2.1M264.8 1654.8l-15.5 -6.2M265.6 1652.8l-20.2 -8.2M266.4 1650.9l-9.8 -4.1M266.8 1649.9l-12.6 -5.3M268.1 1647l-6.9 -3M268.5 1646l-7.5 -3.3M269.3 1644.1l-5.9 -2.6M269.8 1643.1l-11.8 -5.2M270.2 1642.1l-19.4 -8.7M270.6 1641.2l-17.1 -7.7M271.5 1639.3l-22.6 -10.3M271.9 1638.3l-21.3 -9.8M272.4 1637.3l-11.5 -5.4M272.8 1636.4l-16.9 -7.9M273.3 1635.4l-23 -10.9M273.7 1634.5l-19 -9.1M274.2 1633.5l-13.5 -6.5M274.6 1632.6l-23 -11.1M275.1 1631.6l-6.6 -3.2M275.6 1630.7l-9 -4.4M276 1629.7l-16.2 -8M276.5 1628.8l-4.6 -2.3M277.4 1626.9l-13.4 -6.8M277.9 1626l-4.6 -2.4M278.4 1625l-6.8 -3.5M279.4 1623.2l-13.6 -7.1M279.9 1622.2l-19 -10M280.8 1620.4l-2.7 -1.4M281.8 1618.5l-21.8 -11.8M282.3 1617.6l-6.1 -3.3M282.8 1616.6l-3.8 -2.1M283.4 1615.7l-17.3 -9.5M284.4 1613.9l-13.8 -7.7M284.9 1613l-3.3 -1.9M285.9 1611.1l-18.9 -10.8M286.5 1610.2l-9.3 -5.3M287 1609.3l-12.5 -7.2M288.1 1607.5l-9 -5.3M288.6 1606.6l-10.2 -6M289.1 1605.7l-21.3 -12.7M290.2 1603.8l-11 -6.6M291.3 1602l-10.6 -6.5M291.9 1601.1l-8.3 -5.1M292.4 1600.2l-8.6 -5.3M293.5 1598.5l-17.4 -10.9M294.1 1597.6l-9.3 -5.9M294.7 1596.7l-16.5 -10.5M296.4 1594l-9 -5.8M297.5 1592.2l-15.6 -10.2M298.7 1590.5l-18 -12M299.9 1588.7l-8 -5.4M301.6 1586.1l-12.6 -8.7M302.2 1585.3l-2.5 -1.7M302.8 1584.4l-4.8 -3.3M304.1 1582.7l-7.1 -5M304.7 1581.8l-2.6 -1.8M305.9 1580.1l-4 -2.9M307.8 1577.5l-4.2 -3.1M312.2 1571.6l-7.9 -6.1M313.5 1570l-14.2 -11M314.1 1569.1l-2.9 -2.3M314.8 1568.3l-10.7 -8.4M315.4 1567.5l-15.9 -12.6M316.7 1565.8l-11.3 -9M317.4 1565l-17.2 -13.8M318.7 1563.3l-11.2 -9.1M319.4 1562.5l-14.8 -12.2M320.7 1560.9l-4.6 -3.8M321.4 1560.1l-6.1 -5.1M322.1 1559.3l-5.2 -4.4M323.4 1557.7l-11.8 -10M324.1 1556.9l-9.2 -7.8M325.5 1555.3l-15.3 -13.2M326.2 1554.5l-18.1 -15.8M327.6 1552.9l-12 -10.5M328.3 1552.1l-18.5 -16.4M329.7 1550.5l-7 -6.3M330.4 1549.7l-11.1 -10.1M331.1 1549l-4.5 -4.1M331.8 1548.2l-4.7 -4.3M332.5 1547.4l-13 -12M334.7 1545.1l-9.8 -9.2M335.4 1544.3l-14.4 -13.5M336.1 1543.5l-2.3 -2.2M337.6 1542l-3.7 -3.6M338.3 1541.3l-5.2 -5M339 1540.5l-6.5 -6.3M339.8 1539.7l-3.3 -3.2M341.3 1538.2l-17.6 -17.4M342 1537.5l-9.2 -9.1M343.5 1536l-5.9 -5.9M344.2 1535.3l-12 -12.1M345 1534.5l-12.3 -12.5M346.5 1533l-11 -11.3M347.3 1532.3l-2.8 -2.9M348 1531.6l-6.9 -7.2M348.8 1530.9l-4.8 -5M349.5 1530.1l-12.8 -13.6M350.3 1529.4l-6.2 -6.6M351.1 1528.7l-8.4 -9M351.9 1528l-8.9 -9.6M352.6 1527.2l-10 -10.8M353.4 1526.5l-9.7 -10.6M355.7 1524.4l-3.1 -3.5M357.3 1523l-11.2 -12.5M358.1 1522.3l-16.4 -18.5M359.7 1520.9l-13.8 -15.7M360.5 1520.2l-6.3 -7.3M362.1 1518.8l-9.1 -10.5M362.9 1518.1l-16 -18.7M363.7 1517.4l-2 -2.3M367.7 1514.1l-14.4 -17.4M369.3 1512.7l-10.1 -12.4M371 1511.4l-10.5 -13M371.8 1510.7l-4 -5M372.6 1510.1l-1.9 -2.4M373.5 1509.4l-7.6 -9.7M374.3 1508.8l-12 -15.2M376 1507.5l-11.5 -14.9M376.8 1506.8l-6.2 -8.1M379.3 1504.9l-6.7 -8.9M381 1503.6l-8.8 -11.8M381.8 1503l-5.1 -6.9M382.7 1502.4l-2.1 -2.9M383.5 1501.8l-15 -20.4M386.9 1499.3l-4.6 -6.4M387.8 1498.7l-11.5 -16.2M389.5 1497.5l-8.4 -11.9M393 1495l-13.5 -19.7M393.9 1494.5l-12.8 -18.9M394.7 1493.9l-2.5 -3.7M396.5 1492.7l-3.1 -4.7M397.4 1492.1l-1.9 -2.8M398.2 1491.5l-5 -7.6M399.1 1490.9l-13.8 -21.2M400 1490.4l-2.6 -4M401.8 1489.2l-13.4 -21M403.6 1488.1l-5.1 -8M404.5 1487.5l-8.9 -14.2M405.4 1487l-2.1 -3.3M407.1 1485.9l-13.2 -21.4M408 1485.3l-9.3 -15.2M408.9 1484.8l-11.7 -19.3M409.8 1484.2l-4.5 -7.4M412.6 1482.6l-11.6 -19.6M414.4 1481.5l-8.1 -13.8M415.3 1481l-4.4 -7.6M417.1 1479.9l-3.1 -5.5M418 1479.4l-2.4 -4.2M419 1478.9l-11.3 -20M419.9 1478.4l-3.9 -7M421.7 1477.4l-7.6 -13.7M424.5 1475.8l-4.2 -7.8M425.4 1475.3l-5.1 -9.5M430.1 1472.9l-10.6 -20.6M432 1471.9l-3.3 -6.4M432.9 1471.4l-8 -15.8M434.8 1470.5l-5.6 -11.2M435.7 1470l-6.1 -12.3M436.7 1469.6l-3 -6.1M437.6 1469.1l-10.1 -20.7M440.5 1467.7l-5.4 -11.4M441.4 1467.3l-10.2 -21.6M446.2 1465.1l-3.4 -7.4M453 1462.1l-1.7 -4M453.9 1461.7l-10.1 -23.7M454.9 1461.2l-2.8 -6.6M456.9 1460.4l-2 -4.9M457.8 1460l-4.7 -11.3M460.8 1458.8l-3.6 -8.9M461.7 1458.4l-2 -5M462.7 1458.1l-1.7 -4.2M465.7 1456.9l-4.7 -12.2M466.7 1456.5l-3.7 -9.8M467.6 1456.2l-2.2 -5.7M468.6 1455.8l-1.4 -3.7M469.6 1455.4l-9 -24.4M470.6 1455.1l-1.4 -3.8M472.6 1454.3l-3.9 -10.8M473.6 1454l-5.8 -16.3M474.6 1453.6l-3.3 -9.4M475.6 1453.3l-1.7 -4.9M476.6 1452.9l-1.7 -4.8M477.6 1452.6l-1.7 -5.1M478.6 1452.2l-8 -23.6M480.6 1451.6l-2.7 -8.2M481.6 1451.2l-1.8 -5.4M482.6 1450.9l-5.7 -17.5M483.6 1450.6l-1.6 -5M484.6 1450.3l-3 -9.5M485.6 1449.9l-7 -22M486.6 1449.6l-2.8 -8.8M488.6 1449l-5.1 -16.6M490.6 1448.4l-1 -3.4M492.6 1447.8l-2.4 -8.3M494.7 1447.2l-4.3 -15.1M495.7 1446.9l-2.7 -9.5M496.7 1446.6l-0.9 -3.4M499.7 1445.8l-3.5 -13M500.8 1445.5l-2.8 -10.5M501.8 1445.2l-4.8 -18M502.8 1445l-3.5 -13.5M503.8 1444.7l-0.8 -3.2M504.8 1444.4l-6 -23.6M505.9 1444.2l-4.7 -18.8M506.9 1443.9l-1.5 -6.1M508.9 1443.4l-3.2 -13M510 1443.2l-4.4 -18.6M512 1442.7l-5.4 -23.3M513 1442.5l-5.3 -22.9M514.1 1442.2l-4.2 -18.4M516.1 1441.8l-4.6 -20.8M517.2 1441.5l-4.6 -21.2M518.2 1441.3l-3.3 -15.2M519.2 1441.1l-5.3 -25.1M521.3 1440.7l-4.2 -20.7M523.4 1440.2l-4.9 -24.7M524.4 1440l-0.6 -3M526.5 1439.6l-0.6 -3.2M527.5 1439.5l-0.8 -4.3M528.5 1439.3l-0.6 -3.1M529.6 1439.1l-2 -11.2M530.6 1438.9l-2 -11.1M531.7 1438.7l-1.4 -8.2M533.7 1438.3l-4 -24M534.8 1438.2l-1.2 -7.1M536.9 1437.8l-3 -18.8M540 1437.4l-1.7 -11.5M542.1 1437.1l-3.5 -24.3M544.2 1436.8l-1.7 -12.6M545.2 1436.6l-0.9 -6.8M546.3 1436.5l-1 -8M548.3 1436.2l-0.7 -5.3M549.4 1436.1l-1.6 -13.4M550.4 1436l-2.2 -18.9M552.5 1435.7l-1.7 -15.3M554.6 1435.5l-1.4 -12.8M556.7 1435.3l-0.9 -9.2M558.8 1435.1l-1.8 -19.5M559.9 1435l-1.7 -18.3M562 1434.8l-0.7 -8.3M563 1434.7l-2 -24.5M564.1 1434.6l-1.4 -18.1M565.1 1434.5l-0.3 -4.4M567.2 1434.4l-1.2 -16.7M569.3 1434.2l-0.7 -10.2M571.4 1434.1l-1.3 -22.1M572.5 1434l-1.1 -19M573.6 1434l-1.3 -25.8M575.7 1433.9l-0.5 -10.4M577.8 1433.8l-0.2 -3.7M582 1433.6l-0.3 -9.8M583 1433.6l-0.5 -18.4M586.2 1433.5l-0.3 -18.1M589.4 1433.5l0 -4M591.5 1433.5l0 -21.9" fill="none" stroke="#b010ac" stroke-width="0.95"/><path d="M592.5 1433.5l0 5.8M594.6 1433.5l-0.2 21.1M596.7 1433.5l-0.2 18.5M597.8 1433.5l-0.2 12.5M601 1433.6l-0.3 12.8M602 1433.6l-0.6 20.6M613.6 1434.2l-0.6 9.4M617.8 1434.4l-1.1 15.6M624.1 1435l-1.3 14.3M625.2 1435.1l-1.4 14.7M628.3 1435.4l-2.2 20.9M631.5 1435.7l-1.6 14M632.5 1435.8l-2 16.9M633.6 1436l-1.1 9.4M634.6 1436.1l-1.1 9.3M635.7 1436.2l-0.8 6.1M636.7 1436.3l-1.3 10.3M637.7 1436.5l-0.8 6.4M638.8 1436.6l-1.6 11.8M639.8 1436.8l-3.1 22.4M640.9 1436.9l-0.8 5.4M641.9 1437.1l-0.9 6.2M643 1437.2l-0.7 5M644 1437.4l-1 6.9M645.1 1437.5l-2.9 19.1M646.1 1437.7l-1.4 8.7M647.1 1437.8l-3.5 22M648.2 1438l-0.5 3.4M649.2 1438.2l-2.3 14M650.3 1438.3l-4 23.6M652.3 1438.7l-1 5.6M653.4 1438.9l-1 5.9M654.4 1439.1l-4 22.3M655.5 1439.3l-2.3 12.6M656.5 1439.5l-3.2 17M658.6 1439.8l-1.7 8.9M659.6 1440l-0.7 3.4M660.6 1440.2l-3.5 17.7M661.7 1440.5l-3.5 17.6M662.7 1440.7l-2.9 14.3M663.7 1440.9l-3.2 15.3M664.8 1441.1l-2.1 10.1M666.8 1441.5l-4.2 19.5M667.9 1441.8l-2.4 10.9M669.9 1442.2l-5.1 22.5M672 1442.7l-4.6 19.7M674 1443.2l-3.5 14.8M676.1 1443.7l-2 8.1M677.1 1443.9l-5.3 21.3M685.3 1446.1l-3.5 12.6M686.3 1446.3l-6.3 22.7M687.3 1446.6l-3.8 13.7M688.3 1446.9l-3.6 12.8M690.3 1447.5l-4.3 14.9M692.4 1448.1l-2.2 7.6M693.4 1448.4l-1.5 5M695.4 1449l-6.6 21.6M696.4 1449.3l-4.1 13.1M697.4 1449.6l-6.4 20.4M698.4 1449.9l-1.9 6.1M699.4 1450.3l-3.9 12.1M700.4 1450.6l-2.9 9M701.4 1450.9l-2.1 6.4M705.4 1452.2l-6.9 20.3M706.4 1452.6l-7.8 22.8M707.4 1452.9l-1 3M708.4 1453.3l-6.1 17.4M709.4 1453.6l-2 5.5M710.4 1454l-6.8 19M712.4 1454.7l-3.2 8.9M713.4 1455.1l-2.9 8M714.4 1455.4l-6 16.3M715.4 1455.8l-6.8 18.3M716.4 1456.2l-4.7 12.4M717.3 1456.5l-5.6 14.8M718.3 1456.9l-5.6 14.7M719.3 1457.3l-2.3 5.9M720.3 1457.7l-8.3 21.4M721.3 1458.1l-5.6 14.3M722.3 1458.4l-2.7 6.7M723.2 1458.8l-6.2 15.4M724.2 1459.2l-4.1 10.2M726.2 1460l-3.7 8.9M727.1 1460.4l-3.4 8.3M728.1 1460.8l-2.5 6.1M731 1462.1l-4.9 11.4M733 1462.9l-8.5 19.5M735.9 1464.2l-7.2 16.1M737.8 1465.1l-1.8 4M738.7 1465.5l-7.1 15.5M739.7 1465.9l-3.5 7.7M740.7 1466.4l-6.2 13.4M742.6 1467.3l-4.3 9.1M743.5 1467.7l-9.2 19.4M744.5 1468.2l-7.4 15.4M745.4 1468.6l-9.8 20.4M749.2 1470.5l-4.7 9.3M750.1 1471l-9.4 18.7M752 1471.9l-3 5.8M753 1472.4l-3.7 7.3M753.9 1472.9l-6.4 12.3M755.8 1473.9l-4.5 8.6M756.7 1474.3l-6.9 13M758.6 1475.3l-9.5 17.8M759.5 1475.8l-3.3 6M761.4 1476.8l-7.3 13.4M763.2 1477.9l-6.6 11.8M764.1 1478.4l-3.8 6.8M766 1479.4l-11.8 20.9M766.9 1479.9l-7.6 13.3M767.8 1480.5l-2.5 4.4M768.7 1481l-8.1 14M769.6 1481.5l-5.1 8.7M770.5 1482.1l-9.4 15.9M771.4 1482.6l-2.4 4.1M772.3 1483.1l-9.3 15.7M775.1 1484.8l-5.9 9.7M776 1485.3l-12.1 19.7M779.5 1487.5l-4 6.4M782.2 1489.2l-3.5 5.5M783.1 1489.8l-7.7 11.9M784.9 1490.9l-9.3 14.2M785.8 1491.5l-6.4 9.8M786.6 1492.1l-2.3 3.5M789.3 1493.9l-4.7 7M790.1 1494.5l-13.3 19.6M791 1495l-6.4 9.4M793.6 1496.8l-1.7 2.5M795.3 1498.1l-10.2 14.4M796.2 1498.7l-7.6 10.7M797.1 1499.3l-6.2 8.6M798.8 1500.5l-10.9 15.1M799.6 1501.1l-10.2 14M800.5 1501.8l-8.2 11.1M801.3 1502.4l-9.1 12.4M802.2 1503l-2.7 3.6M803 1503.6l-6.6 8.9M803.9 1504.3l-13.7 18.3M804.7 1504.9l-5.1 6.7M805.5 1505.5l-12.3 16.1M806.4 1506.2l-12.5 16.4M807.2 1506.8l-12.4 16.1M808 1507.5l-10.2 13.1M809.7 1508.8l-4.8 6.1M810.5 1509.4l-3.7 4.7M811.4 1510.1l-9.8 12.3M812.2 1510.7l-14 17.5M813 1511.4l-13.3 16.5M813.8 1512.1l-7.5 9.3M814.7 1512.7l-7.1 8.7M815.5 1513.4l-7.9 9.7M816.3 1514.1l-7.2 8.8M817.1 1514.7l-15.4 18.6M817.9 1515.4l-2.8 3.3M818.7 1516.1l-13.1 15.6M819.5 1516.8l-10.6 12.6M820.3 1517.4l-14.1 16.6M821.1 1518.1l-11.1 12.9M821.9 1518.8l-2.3 2.7M822.7 1519.5l-2.1 2.4M823.5 1520.2l-2.2 2.5M824.3 1520.9l-4.6 5.3M825.1 1521.6l-14.9 16.9M825.9 1522.3l-3.5 3.9M826.7 1523l-14.8 16.6M827.5 1523.7l-3.2 3.5M828.3 1524.4l-12.2 13.5M829.8 1525.8l-13.6 14.9M830.6 1526.5l-5.8 6.3M831.4 1527.2l-12.5 13.5M832.1 1528l-13.3 14.3M832.9 1528.7l-6.6 7M833.7 1529.4l-6.8 7.2M834.5 1530.1l-11 11.6M835.2 1530.9l-9.1 9.6M836 1531.6l-12.8 13.4M836.7 1532.3l-8.5 8.9M838.3 1533.8l-9.6 9.8M839 1534.5l-14.7 15M839.8 1535.3l-4.7 4.8M840.5 1536l-11.5 11.6M842 1537.5l-11.4 11.3M843.5 1539l-13.1 12.8M845 1540.5l-10.5 10.2M845.7 1541.3l-13.3 12.8M846.4 1542l-10 9.6M850 1545.9l-10.2 9.5M852.2 1548.2l-13.8 12.7M853.6 1549.7l-7.5 6.8M854.3 1550.5l-7.9 7.1M855 1551.3l-10.4 9.3M855.7 1552.1l-10.5 9.3M856.4 1552.9l-8.6 7.5M860.6 1557.7l-11.3 9.6M861.2 1558.5l-6.1 5.1M861.9 1559.3l-6.3 5.3M862.6 1560.1l-9.1 7.6M865.3 1563.3l-10.2 8.3M867.3 1565.8l-17.6 14M868.6 1567.5l-12.7 10M869.2 1568.3l-12.8 10M869.9 1569.1l-5.6 4.4M871.8 1571.6l-12.9 9.9M872.5 1572.5l-15.7 11.9M873.1 1573.3l-5.4 4.1M873.7 1574.1l-6.1 4.6M875.6 1576.7l-3.2 2.4M876.9 1578.4l-18.2 13.3M877.5 1579.2l-8.6 6.3M878.1 1580.1l-8.2 5.9M879.3 1581.8l-9 6.4M879.9 1582.7l-19.1 13.5M880.5 1583.5l-13.9 9.7M881.2 1584.4l-8.3 5.8M882.4 1586.1l-13.6 9.4M883.5 1587.9l-14.8 10.1M885.3 1590.5l-8.1 5.4M885.9 1591.4l-8.8 5.8M887.6 1594l-14.8 9.6M888.8 1595.8l-8.2 5.2M889.9 1597.6l-4.6 2.9M890.5 1598.5l-13.7 8.6M891 1599.4l-13.2 8.3M891.6 1600.2l-3.4 2.1M892.7 1602l-2.9 1.8M894.3 1604.8l-9.3 5.6M894.9 1605.7l-14.9 8.9M899.6 1613.9l-5.5 3.1M900.6 1615.7l-4.6 2.6M901.7 1617.6l-17.2 9.4M902.2 1618.5l-7.6 4.1M902.7 1619.4l-8.6 4.6M903.2 1620.4l-4.3 2.3M904.1 1622.2l-19.3 10.1M906.1 1626l-12.5 6.3M907 1627.9l-15.5 7.8M908.4 1630.7l-15.1 7.4M908.9 1631.6l-19.9 9.7M909.8 1633.5l-12 5.8M910.3 1634.5l-3.9 1.9M910.7 1635.4l-19.3 9.1M911.2 1636.4l-21.6 10.1M913.4 1641.2l-18.1 8.2M914.7 1644.1l-14 6.1M915.1 1645l-5.2 2.2M915.5 1646l-9.8 4.2M915.9 1647l-11.4 4.9M916.8 1648.9l-2.8 1.2M917.6 1650.9l-5.5 2.3M918.4 1652.8l-9.9 4M918.8 1653.8l-21 8.5M919.6 1655.7l-13.6 5.4M919.9 1656.7l-8.4 3.3M920.3 1657.7l-9.6 3.7M920.7 1658.7l-11.1 4.3M922.2 1662.6l-16.2 6.1M923.7 1666.6l-14.9 5.4M925.8 1672.6l-19.9 6.8M927.1 1676.6l-17.3 5.6M927.4 1677.6l-8.4 2.7M927.7 1678.6l-11.1 3.5M928.1 1679.6l-4.5 1.4M928.4 1680.6l-20.7 6.5M928.7 1681.6l-16.4 5.1M929.3 1683.6l-22.6 6.9M930.2 1686.6l-17.3 5.1M931.1 1689.7l-5.5 1.6M931.4 1690.7l-22.4 6.3M931.9 1692.7l-18.3 5M932.2 1693.7l-7.4 2M932.5 1694.8l-17.9 4.8M932.8 1695.8l-7.2 1.9M933 1696.8l-11.4 3M933.6 1698.8l-17 4.3M933.8 1699.9l-8.7 2.2M934.1 1700.9l-12.2 3M934.3 1701.9l-22.5 5.5M934.6 1702.9l-20.4 5M934.8 1704l-8.5 2M935.1 1705l-10.5 2.5M935.3 1706l-19.4 4.5M935.8 1708.1l-5.4 1.2M936 1709.1l-3.1 0.7M936.2 1710.1l-13.9 3.1M936.7 1712.2l-12.8 2.7M936.9 1713.2l-16.8 3.6M937.8 1717.4l-13.9 2.8M938 1718.4l-16.5 3.2M938.2 1719.4l-23 4.4M938.4 1720.5l-7 1.3M938.5 1721.5l-12.6 2.3M938.7 1722.5l-9.2 1.7M938.9 1723.6l-8.2 1.5M939.1 1724.6l-3.5 0.6M939.3 1725.7l-15.9 2.8M939.7 1727.7l-3.5 0.6M939.8 1728.8l-3.8 0.6M940 1729.8l-5.7 0.9M940.2 1730.9l-5.6 0.9M940.3 1731.9l-15.7 2.4M940.5 1732.9l-4.6 0.7M940.9 1736.1l-7.1 1M941.1 1737.1l-9.6 1.3M941.2 1738.2l-6.5 0.9M941.4 1739.2l-4.9 0.7M941.8 1742.3l-13.4 1.7M941.9 1743.4l-16.3 2M942 1744.4l-12.1 1.4M942.2 1745.5l-20.2 2.3M942.3 1746.5l-8.3 0.9M942.6 1749.7l-7.5 0.8M942.9 1752.8l-6.4 0.6M943 1753.9l-14.8 1.4M943.2 1756l-22.5 1.9M943.5 1759.1l-8.9 0.7M943.6 1760.2l-21.1 1.5M943.7 1762.3l-11.9 0.8M943.9 1765.4l-7.5 0.4M944 1766.5l-15.1 0.8M944.1 1768.6l-10.2 0.5M944.1 1769.7l-8.7 0.4M944.2 1770.7l-4 0.2M944.3 1772.8l-15.3 0.6M944.3 1774.9l-4.5 0.1M944.4 1776l-14.1 0.4M944.4 1777l-12.5 0.3M944.4 1778.1l-16.9 0.4M944.4 1779.1l-13.9 0.3M944.5 1781.3l-16.3 0.2M944.5 1783.4l-13.9 0.1M944.5 1784.4l-6.5 0M944.5 1788.6l-12.5 -0.1M944.5 1790.7l-18.9 -0.3M944.4 1793.9l-19.8 -0.4M944.4 1796l-5.7 -0.2M944.2 1800.2l-18.7 -0.8M944.2 1801.3l-12.7 -0.6M944.1 1802.3l-21.7 -1M944.1 1803.4l-6.6 -0.3M944 1804.4l-11.5 -0.6M944 1805.5l-5.2 -0.3M943.9 1806.6l-13.8 -0.8M943.8 1807.6l-20.8 -1.3M943.8 1808.7l-19.2 -1.2M943.7 1809.7l-8.9 -0.6M943.1 1817.1l-21.6 -1.9M943 1818.1l-6.6 -0.6M942.5 1823.4l-19.2 -2M942.3 1825.5l-4.8 -0.5M942 1827.6l-14.7 -1.7M941.9 1828.6l-5.8 -0.7M941.8 1829.7l-3 -0.4M941.7 1830.7l-6.2 -0.8M941.5 1831.7l-17.5 -2.3M941.4 1832.8l-6.4 -0.9M940.6 1838l-17.2 -2.6M940.3 1840.1l-17.3 -2.7M939.8 1843.2l-23.5 -3.9M938.9 1848.4l-13.4 -2.4M938.5 1850.5l-23 -4.3M938.4 1851.5l-15.8 -3M938.2 1852.6l-19.3 -3.7M938 1853.6l-6 -1.2M937.8 1854.6l-22.4 -4.5M937.3 1856.7l-17.4 -3.6M937.1 1857.7l-3.6 -0.8M936.5 1860.8l-12.3 -2.7M936.2 1861.9l-4 -0.9M935.3 1866l-4.3 -1M934.3 1870.1l-16 -3.9M934.1 1871.1l-3.6 -0.9M933.8 1872.1l-23 -5.8M933.6 1873.2l-13.5 -3.4M933.3 1874.2l-3.6 -0.9M933 1875.2l-11.9 -3.1M932.8 1876.2l-5.8 -1.5M931.9 1879.3l-21.2 -5.8M931.4 1881.3l-16.5 -4.6M930.5 1884.3l-15.2 -4.4M929.6 1887.4l-14.6 -4.4M929.3 1888.4l-12.2 -3.7M928.7 1890.4l-14.5 -4.5M928.4 1891.4l-16.1 -5.1M928.1 1892.4l-15.8 -5M926.8 1896.4l-9.1 -3M926.4 1897.4l-17.4 -5.8M925.8 1899.4l-9.5 -3.2M925.1 1901.4l-16.5 -5.7M921.8 1910.4l-9.3 -3.5M920.7 1913.3l-16.8 -6.5M919.9 1915.3l-22 -8.7M919.6 1916.3l-19.4 -7.7M919.2 1917.2l-13 -5.2M918.8 1918.2l-19.8 -8M917.6 1921.1l-3.8 -1.6M914.7 1927.9l-14.5 -6.4M914.2 1928.9l-8.8 -3.9M912.9 1931.8l-9.3 -4.2M910.7 1936.6l-7.8 -3.7M910.3 1937.5l-12.6 -6M909.4 1939.4l-17.3 -8.4M905.6 1947l-14.4 -7.4M904.1 1949.8l-16.7 -8.7M903.7 1950.7l-10 -5.3M903.2 1951.6l-17.2 -9.2M902.2 1953.5l-11.1 -6M901.2 1955.4l-5.6 -3.1M900.1 1957.2l-16.4 -9.1M899.6 1958.1l-17.1 -9.6M899.1 1959l-3 -1.7M898.6 1960l-18.9 -10.7M898.1 1960.9l-7.2 -4.1M897.5 1961.8l-3.1 -1.8M897 1962.7l-4.9 -2.9M896.5 1963.6l-3.3 -2M894.9 1966.3l-2.8 -1.7M893.8 1968.2l-8 -4.8M892.7 1970l-4.1 -2.5M892.1 1970.9l-18.4 -11.4M891.6 1971.8l-12.5 -7.8M891 1972.6l-14.8 -9.2M889.9 1974.4l-8 -5.1M889.3 1975.3l-9.6 -6.1M888.8 1976.2l-8.4 -5.4M888.2 1977.1l-3.3 -2.2M887.6 1978l-8.1 -5.3M887.1 1978.9l-6.9 -4.5M886.5 1979.8l-14 -9.2M885.3 1981.5l-5.4 -3.6M884.7 1982.4l-10.1 -6.8M884.1 1983.3l-7.3 -4.9M881.2 1987.6l-8.3 -5.8M878.1 1991.9l-12.9 -9.3M876.2 1994.5l-10.7 -7.8M875 1996.2l-18.2 -13.5M874.4 1997l-17.8 -13.3M873.7 1997.9l-3.6 -2.7M873.1 1998.7l-14.8 -11.2M872.5 1999.5l-3.1 -2.4M871.8 2000.4l-5.2 -4M871.2 2001.2l-18.8 -14.5M869.9 2002.9l-3.5 -2.7M869.2 2003.7l-4.9 -3.8M868.6 2004.5l-12.9 -10.2M866.6 2007l-5.6 -4.5M865.9 2007.8l-2.5 -2.1M864.6 2009.5l-5.7 -4.6M863.9 2010.3l-16.3 -13.5M863.3 2011.1l-13.8 -11.4M861.9 2012.7l-15 -12.6M861.2 2013.5l-6.8 -5.7M860.6 2014.3l-8 -6.8M859.9 2015.1l-5.9 -5.1M858.5 2016.7l-10.5 -9.1M856.4 2019.1l-16.2 -14.3M855 2020.7l-10.2 -9.1M854.3 2021.5l-2.6 -2.3M852.9 2023l-2.9 -2.7M851.5 2024.6l-2.6 -2.4M850 2026.1l-5.5 -5.2M848.6 2027.7l-6.4 -6M847.9 2028.5l-5.1 -4.8M847.1 2029.2l-13.1 -12.5M842.7 2033.8l-13.7 -13.5M840.5 2036l-6.1 -6.1M839 2037.5l-6.3 -6.4M837.5 2039l-3.9 -4M836 2040.4l-11.9 -12.5M834.5 2041.9l-4.3 -4.5M832.1 2044l-8.5 -9.2M831.4 2044.8l-11.3 -12.2M830.6 2045.5l-14.7 -16M825.1 2050.4l-10.7 -12.2M824.3 2051.1l-9.4 -10.7M822.7 2052.5l-12.1 -14M821.9 2053.2l-15 -17.4M820.3 2054.6l-2.7 -3.1M818.7 2055.9l-10.1 -12.1M817.1 2057.3l-3.5 -4.3M815.5 2058.6l-8.4 -10.3M814.7 2059.3l-6.4 -7.8M813.8 2059.9l-14.2 -17.6M813 2060.6l-9.5 -11.9M811.4 2061.9l-4.8 -6.1M810.5 2062.6l-14.3 -18.1M809.7 2063.2l-5.6 -7.1M808.9 2063.9l-2.5 -3.2M808 2064.5l-11.4 -14.7M807.2 2065.2l-2.5 -3.2M806.4 2065.8l-8.7 -11.4M805.5 2066.5l-8.5 -11.2M804.7 2067.1l-12 -15.8M803.9 2067.7l-6.7 -8.9M803 2068.4l-2 -2.7M802.2 2069l-2.2 -3M801.3 2069.6l-3.4 -4.6M800.5 2070.2l-10.8 -14.7M799.6 2070.9l-1.8 -2.5M798.8 2071.5l-13.7 -18.9M797.1 2072.7l-13.8 -19.2M796.2 2073.3l-3.8 -5.4M795.3 2073.9l-3.1 -4.3M794.5 2074.5l-2.4 -3.4M792.7 2075.8l-9.7 -14M791 2077l-12.6 -18.4M790.1 2077.5l-2 -2.9M788.4 2078.7l-5.6 -8.3M787.5 2079.3l-11 -16.6M786.6 2079.9l-3.5 -5.3M785.8 2080.5l-3.3 -5M784 2081.6l-12.7 -19.6M783.1 2082.2l-7 -10.8M781.3 2083.3l-5.3 -8.3M778.6 2085l-12.5 -20.1M777.8 2085.6l-9.2 -14.8M776 2086.7l-3.4 -5.5M774.2 2087.8l-1.6 -2.6M770.5 2089.9l-9.6 -16.4M767.8 2091.5l-7.2 -12.6M766.9 2092.1l-2 -3.5M766 2092.6l-7 -12.3M765 2093.1l-8.1 -14.3M764.1 2093.6l-3 -5.4M763.2 2094.1l-8 -14.4M762.3 2094.6l-3 -5.3M761.4 2095.2l-3.8 -7M760.4 2095.7l-5.6 -10.2M759.5 2096.2l-1.8 -3.3M757.6 2097.2l-3.4 -6.4M756.7 2097.7l-5.2 -9.8M755.8 2098.1l-5.2 -9.9M754.8 2098.6l-2.9 -5.6M753.9 2099.1l-1.9 -3.7M753 2099.6l-4.5 -8.7M751.1 2100.6l-4.7 -9.3M750.1 2101l-1.4 -2.7M749.2 2101.5l-9.8 -19.6M748.3 2102l-4.1 -8.4M747.3 2102.4l-3.7 -7.6M746.4 2102.9l-7 -14.4M744.5 2103.8l-6.8 -14.2M743.5 2104.3l-2.7 -5.8M742.6 2104.7l-1.5 -3.3M740.7 2105.6l-1.5 -3.2M739.7 2106.1l-3.3 -7.1M738.7 2106.5l-3.4 -7.3M737.8 2106.9l-4.2 -9.2M736.8 2107.4l-5.2 -11.5M735.9 2107.8l-6.2 -13.8M734.9 2108.2l-7.9 -17.9M733 2109.1l-2.7 -6.2M732 2109.5l-6.6 -15.2M730.1 2110.3l-7.7 -18M729.1 2110.8l-6.4 -15.2M728.1 2111.2l-6.8 -16.3M727.1 2111.6l-4.5 -10.8M726.2 2112l-9.2 -22.3M725.2 2112.4l-3 -7.5M720.3 2114.3l-4.4 -11.4M719.3 2114.7l-2.8 -7.2M716.4 2115.8l-1.3 -3.5M713.4 2116.9l-1.4 -3.9M711.4 2117.7l-7.9 -22.1M707.4 2119.1l-6.2 -18M706.4 2119.4l-5.9 -17.3M703.4 2120.4l-1 -3.1M702.4 2120.8l-1 -3M700.4 2121.4l-2.8 -8.6M692.4 2123.9l-3.3 -11.1M689.3 2124.8l-3.9 -13.4M688.3 2125.1l-1.3 -4.6M685.3 2125.9l-2.3 -8.5M684.3 2126.2l-1.9 -7.1M679.2 2127.6l-4.5 -17.6M675.1 2128.6l-3.8 -15.6M671 2129.5l-2.9 -12.8M668.9 2130l-0.8 -3.5M666.8 2130.5l-3.3 -15.2M662.7 2131.3l-3.8 -18.6M661.7 2131.5l-4.4 -21.8M660.6 2131.8l-4.6 -23.3M655.5 2132.7l-0.8 -4.3M653.4 2133.1l-4.2 -23.6M651.3 2133.5l-1 -5.8M650.3 2133.7l-2 -11.7M649.2 2133.8l-1 -5.9M648.2 2134l-3.4 -20.8M647.1 2134.2l-0.9 -5.5M645.1 2134.5l-1.4 -9.1M638.8 2135.4l-0.7 -5M635.7 2135.8l-1.4 -10.8M630.4 2136.4l-1.7 -15.6M629.4 2136.5l-1.3 -12.2M627.3 2136.7l-0.9 -9.3M626.2 2136.8l-2 -21M625.2 2136.9l-2.2 -23.7M624.1 2137l-1 -11.4M622 2137.2l-1.2 -14.6M621 2137.3l-0.7 -8.8M618.9 2137.5l-1.1 -14.2M617.8 2137.6l-1.6 -22M616.8 2137.6l-1.2 -16.4M614.7 2137.8l-1 -14.9M611.5 2138l-0.4 -7.7M610.4 2138l-1.2 -23.7M609.4 2138.1l-0.3 -6.6M608.3 2138.1l-0.2 -4.1M605.2 2138.3l-0.5 -14.4M603.1 2138.3l-0.4 -11.4M602 2138.4l-0.5 -18.9M599.9 2138.4l-0.2 -11.1M598.9 2138.4l-0.2 -7.8M594.6 2138.5l-0.1 -9.9M593.6 2138.5l0 -8.5M592.5 2138.5l0 -3.4M591.5 2138.5l0 -11.7M589.4 2138.5l0.1 -10.8M588.3 2138.5l0.1 -12.2M587.3 2138.5l0.2 -13M585.1 2138.4l0.1 -3.5M583 2138.4l0.2 -6.6M582 2138.4l0.6 -21.7M579.9 2138.3l0.4 -11.8M578.8 2138.3l0.3 -9.3M577.8 2138.2l0.7 -17M574.6 2138.1l0.4 -7.2M573.6 2138l0.6 -11.3M571.4 2137.9l1.3 -22.5M570.4 2137.8l1.2 -19.4M569.3 2137.8l1 -15.8M568.3 2137.7l0.7 -10.8M567.2 2137.6l1.3 -18.2M566.2 2137.6l0.2 -3.2M565.1 2137.5l0.6 -7.8M564.1 2137.4l0.8 -10.1M563 2137.3l0.9 -11M560.9 2137.1l0.5 -5.3M558.8 2136.9l1.7 -17.6M557.8 2136.8l0.7 -7M556.7 2136.7l1.2 -12.1M555.7 2136.6l0.5 -5.1M554.6 2136.5l1.7 -16.4M552.5 2136.3l1.4 -12.4M550.4 2136l1.7 -14.5M549.4 2135.9l0.4 -3.2M547.3 2135.7l2.1 -16.4M546.3 2135.5l2.2 -16.7M545.2 2135.4l2.8 -21.2M544.2 2135.2l2.7 -19.9M538.9 2134.5l1.8 -11.7M537.9 2134.3l3.7 -23.7M533.7 2133.7l3.3 -19.5M532.7 2133.5l0.8 -4.7M530.6 2133.1l1.1 -6.3M529.6 2132.9l1.7 -9.7M528.5 2132.7l1 -5.4M527.5 2132.5l2.9 -15.4M526.5 2132.4l2.4 -12.8M522.3 2131.5l4 -19.7M520.3 2131.1l1.2 -6M519.2 2130.9l1.3 -6.2M516.1 2130.2l3.3 -15M515.1 2130l0.9 -3.9M514.1 2129.8l3 -13.2M511 2129.1l1.1 -4.8M508.9 2128.6l1 -4M505.9 2127.8l4 -15.7M503.8 2127.3l1.8 -6.9M502.8 2127l0.8 -3.1M499.7 2126.2l5.4 -19.9M498.7 2125.9l3.5 -12.9M494.7 2124.8l3.8 -13.3M490.6 2123.6l0.9 -2.9M488.6 2123l7.1 -23M487.6 2122.7l1.1 -3.4M486.6 2122.4l4.2 -13.6M481.6 2120.8l6.9 -20.9M479.6 2120.1l2.4 -7.1M478.6 2119.8l2.2 -6.6M477.6 2119.4l2.4 -7.1M474.6 2118.4l2.4 -6.7M473.6 2118l2.8 -7.9M471.6 2117.3l6.4 -17.7M470.6 2116.9l2.9 -7.8M469.6 2116.6l1.4 -3.8M468.6 2116.2l3.4 -9.2M466.7 2115.5l2.3 -5.9M465.7 2115.1l8.6 -22.4M464.7 2114.7l4 -10.4M463.7 2114.3l6 -15.4M462.7 2113.9l6.1 -15.5M461.7 2113.6l2.6 -6.5M460.8 2113.2l1.3 -3.3M458.8 2112.4l7.3 -17.9M457.8 2112l4.5 -11M455.9 2111.2l7.3 -17.4M454.9 2110.8l2.4 -5.6M453.9 2110.3l4 -9.4M452 2109.5l7.7 -17.9M450.1 2108.7l8.4 -19M449.1 2108.2l5.5 -12.5M448.1 2107.8l9.4 -21M447.2 2107.4l7.2 -16M446.2 2106.9l4.3 -9.4M445.3 2106.5l4.2 -9.1M444.3 2106.1l2.5 -5.5M442.4 2105.2l9.4 -20.1M441.4 2104.7l2.4 -5.1M440.5 2104.3l4.1 -8.7M439.5 2103.8l10.3 -21.4M438.6 2103.4l4 -8.2M437.6 2102.9l5.4 -11.1M436.7 2102.4l7.7 -15.7M435.7 2102l2.6 -5.3M433.9 2101l1.8 -3.6M432.9 2100.6l6.4 -12.7M430.1 2099.1l3.8 -7.4M429.2 2098.6l10.8 -20.8M426.4 2097.2l8.1 -15.2M425.4 2096.7l2.6 -4.9M424.5 2096.2l7.2 -13.4M422.6 2095.2l1.8 -3.3M421.7 2094.6l3.6 -6.6M419.9 2093.6l3.6 -6.4M416.2 2091.5l5.3 -9.3M415.3 2091l4.6 -7.9M412.6 2089.4l10.1 -17M411.7 2088.9l10.6 -17.8M410.8 2088.3l7.3 -12.1M408 2086.7l10.3 -16.9M406.2 2085.6l2.5 -4M405.4 2085l2.7 -4.3M404.5 2084.5l9 -14.3M403.6 2083.9l2.4 -3.8M402.7 2083.3l2.2 -3.4M400 2081.6l3.3 -5.1M399.1 2081.1l11.7 -17.9M398.2 2080.5l9.7 -14.8M396.5 2079.3l3.4 -5.1M395.6 2078.7l12.4 -18.5M394.7 2078.1l7.5 -11.1M393.9 2077.5l5.7 -8.4M391.3 2075.8l7.8 -11.2M388.7 2073.9l8.1 -11.5M387.8 2073.3l11.7 -16.5M385.2 2071.5l11 -15.1M384.4 2070.9l13 -17.9M381.8 2069l11.6 -15.7M379.3 2067.1l3.4 -4.4M378.5 2066.5l5.1 -6.7M376.8 2065.2l2.9 -3.7M371 2060.6l10.5 -13.1M367.7 2057.9l2.9 -3.5M362.9 2053.9l2.4 -2.7M361.3 2052.5l2.3 -2.7M359.7 2051.1l6.7 -7.7M358.9 2050.4l8.9 -10.1M358.1 2049.7l4.9 -5.5M357.3 2049l12.6 -14.1M356.5 2048.3l16.1 -18M355.7 2047.6l4.5 -5M354.2 2046.2l5.3 -5.8M352.6 2044.8l3.3 -3.5M351.9 2044l15.2 -16.3M351.1 2043.3l9.8 -10.5M350.3 2042.6l4.1 -4.3M349.5 2041.9l16 -16.9M348.8 2041.1l14.1 -14.8M348 2040.4l6.8 -7.1M347.3 2039.7l11.3 -11.7M345 2037.5l16.6 -16.9M344.2 2036.7l10.6 -10.7M342.7 2035.3l16.3 -16.3M341.3 2033.8l16.3 -16.1M339.8 2032.3l13.5 -13.2M339 2031.5l3.9 -3.8M338.3 2030.7l16.2 -15.6M336.9 2029.2l3.4 -3.3M336.1 2028.5l12.8 -12.1M335.4 2027.7l5.9 -5.6M334 2026.1l14.1 -13.1M333.2 2025.4l12.8 -11.9M332.5 2024.6l2.2 -2.1M331.8 2023.8l10.2 -9.3M330.4 2022.3l3.3 -2.9M329.7 2021.5l3.4 -3M328.3 2019.9l8.9 -7.9M326.9 2018.3l15.8 -13.8M325.5 2016.7l8.3 -7.2M324.8 2015.9l16.5 -14.2M323.4 2014.3l6.1 -5.2M322.1 2012.7l4.8 -4M321.4 2011.9l12.2 -10.2M320.1 2010.3l3.1 -2.6M318.1 2007.8l17.8 -14.4M316.7 2006.2l8.9 -7.1M316.1 2005.4l10.6 -8.4M313.5 2002l10.5 -8.1M311.5 1999.5l5.6 -4.2M310.9 1998.7l4.1 -3.1M309.6 1997l18.4 -13.7M308.4 1995.3l15.7 -11.6M307.8 1994.5l12.3 -9M307.1 1993.6l3.8 -2.7M306.5 1992.8l18.8 -13.6M304.7 1990.2l8.3 -5.9M304.1 1989.3l12.8 -9M303.5 1988.5l4.1 -2.9M301.6 1985.9l7.4 -5.1M301 1985l7.3 -5M300.5 1984.1l19.8 -13.4M299.9 1983.3l3.8 -2.6M299.3 1982.4l18.1 -12.2M298.7 1981.5l15.1 -10.1M298.1 1980.6l8.8 -5.8M297.5 1979.8l12.6 -8.3M296.4 1978l14 -9.1M295.8 1977.1l8.2 -5.3M294.7 1975.3l9.8 -6.2M294.1 1974.4l19.6 -12.4M293.5 1973.5l4.3 -2.7M293 1972.6l18.1 -11.3M292.4 1971.8l9.4 -5.8M291.9 1970.9l11 -6.8M291.3 1970l12.4 -7.6M290.8 1969.1l3.5 -2.1M290.2 1968.2l8.9 -5.4M289.7 1967.2l3.2 -1.9M289.1 1966.3l2.6 -1.6M288.6 1965.4l2.7 -1.6M288.1 1964.5l9.2 -5.4M287.5 1963.6l11.7 -6.8M287 1962.7l14.2 -8.2M285.9 1960.9l2.8 -1.6M285.4 1960l14.8 -8.4M284.4 1958.1l7.5 -4.2M283.9 1957.2l8.4 -4.7M283.4 1956.3l16 -8.8M281.8 1953.5l20.2 -10.9M281.3 1952.6l18 -9.7M280.3 1950.7l21.2 -11.2M279.4 1948.8l8.3 -4.3M278.9 1947.9l8.3 -4.3M277 1944.1l8.5 -4.3M276.5 1943.2l10.1 -5.1M276 1942.3l9 -4.4M275.6 1941.3l5.7 -2.8M273.7 1937.5l8.5 -4M272.8 1935.6l9.4 -4.4M272.4 1934.7l20.4 -9.5M271.9 1933.7l18.7 -8.6M271.5 1932.7l13.1 -6M271.1 1931.8l3.3 -1.5M269.3 1927.9l15.6 -6.9M268.9 1927l5.9 -2.6M268.1 1925l9.9 -4.2M267.7 1924.1l18.2 -7.8M267.2 1923.1l13.1 -5.5M266.8 1922.1l5.2 -2.2M266.4 1921.1l7.7 -3.2M264.1 1915.3l3.2 -1.3M263.7 1914.3l17.5 -6.8M262.9 1912.3l4.9 -1.9M262.5 1911.3l19.4 -7.4M262.2 1910.4l8.3 -3.1M260.7 1906.4l21.3 -7.7M259.6 1903.4l3.4 -1.2M259.3 1902.4l18.7 -6.5M258.9 1901.4l11.3 -3.9M257.2 1896.4l5 -1.7M256.6 1894.4l17.5 -5.6M255.9 1892.4l13.5 -4.3M255.3 1890.4l7.5 -2.3M255 1889.4l7.2 -2.2M254.4 1887.4l6.7 -2M253.8 1885.4l6.3 -1.9M253.2 1883.3l3.9 -1.1M252.9 1882.3l5.8 -1.7M251.5 1877.2l20.9 -5.6M251 1875.2l5.2 -1.4M249.4 1869.1l8.2 -2M249.2 1868l20.6 -4.9M248.9 1867l15.1 -3.6M247.8 1861.9l8 -1.8M247.5 1860.8l14.5 -3.2M246.7 1856.7l10.6 -2.2M246.5 1855.7l7.3 -1.5M246 1853.6l14.1 -2.7M245.6 1851.5l22.7 -4.3M244.9 1847.4l11.7 -2.1M244.5 1845.3l16.6 -2.8M244.3 1844.3l21.7 -3.6M244.2 1843.2l14.8 -2.4M244 1842.2l20.3 -3.3M243.7 1840.1l11.4 -1.8M243.5 1839.1l7.5 -1.1M243.4 1838l8.6 -1.3M243.2 1837l23.1 -3.4M242.8 1833.8l22.3 -3.1M242.6 1832.8l21.6 -2.9M242.3 1830.7l14.3 -1.8M242.2 1829.7l10.9 -1.4M242 1827.6l19.3 -2.3M241.8 1826.5l14.3 -1.7M241.7 1825.5l7.2 -0.8M241.6 1824.4l16.1 -1.8M241.5 1823.4l11.8 -1.3M241.3 1821.3l20.9 -2.1M241.2 1820.2l3.5 -0.3M241.1 1819.2l7.3 -0.7M241 1818.1l16.3 -1.5M240.6 1813.9l21.5 -1.7M240.4 1811.8l7 -0.5M240.4 1810.8l5.4 -0.4M240.2 1808.7l16.9 -1.1M240.2 1807.6l22.4 -1.4M239.9 1802.3l10.9 -0.5M239.8 1801.3l16.5 -0.7M239.7 1798.1l17.8 -0.6M239.7 1797.1l19.1 -0.6M239.6 1796l9.5 -0.3M239.6 1795l14.4 -0.4M239.6 1793.9l6.3 -0.1M239.5 1791.8l13.5 -0.2M239.5 1790.7l11.8 -0.2M239.5 1781.3l3.2 0M239.5 1780.2l21 0.3M239.7 1773.9l22.9 0.8M239.9 1769.7l18.9 0.9M240.2 1764.4l22.3 1.4M240.3 1762.3l5.8 0.4M240.4 1761.2l13.4 0.9M240.4 1760.2l18.4 1.3M240.7 1757l19.1 1.6M241.1 1752.8l4.6 0.4M241.2 1751.8l5.1 0.5M241.3 1750.7l4.2 0.4M241.5 1748.6l6.4 0.7M241.8 1745.5l12.2 1.4M242.6 1739.2l19.2 2.6M242.8 1738.2l11.8 1.6M242.9 1737.1l17.6 2.5M243.2 1735l21.6 3.2M243.4 1734l11.5 1.7M243.7 1731.9l20.9 3.2M244.2 1728.8l12.7 2.1M244.3 1727.7l3.3 0.6M244.5 1726.7l18 3.1M244.7 1725.7l6.7 1.2M244.9 1724.6l18.1 3.2M245.1 1723.6l3.2 0.6M245.3 1722.5l17.8 3.3M245.5 1721.5l3.8 0.7M245.6 1720.5l23.6 4.5M245.8 1719.4l10.4 2M246.5 1716.3l6.7 1.3M246.9 1714.3l11.9 2.5M247.1 1713.2l3.2 0.7M247.3 1712.2l13.4 2.9M247.5 1711.2l10.9 2.4M247.8 1710.1l12.5 2.8M248.2 1708.1l4.9 1.1M248.5 1707l10.2 2.3M248.9 1705l14.1 3.3M249.2 1704l7.7 1.8M249.4 1702.9l7.6 1.8M249.7 1701.9l21.7 5.3M249.9 1700.9l12.7 3.2M250.2 1699.9l19.7 5M250.4 1698.8l3 0.8M250.7 1697.8l4.4 1.1M251.5 1694.8l15.2 4.1M251.8 1693.7l9.3 2.5M252.1 1692.7l4.8 1.3M252.9 1689.7l19.8 5.6M253.2 1688.7l12.6 3.6M253.8 1686.6l20.5 6M254.4 1684.6l3.9 1.2M254.7 1683.6l9.8 3M255 1682.6l5 1.5M255.6 1680.6l19.8 6.2M255.9 1679.6l10.1 3.2M256.9 1676.6l15.8 5.2M257.2 1675.6l10.2 3.4M257.6 1674.6l16.8 5.6M257.9 1673.6l19.6 6.6M258.2 1672.6l22.4 7.6M258.9 1670.6l3.8 1.3M259.3 1669.6l12.3 4.3M260 1667.6l14.3 5.1M262.2 1661.6l17.5 6.6M262.5 1660.7l10.1 3.8M263.3 1658.7l10.9 4.2M263.7 1657.7l21.2 8.3M264.4 1655.7l4.3 1.7M264.8 1654.8l6.4 2.6M265.2 1653.8l4.7 1.9M265.6 1652.8l11.7 4.8M266.4 1650.9l9.7 4M266.8 1649.9l7.6 3.2M267.2 1648.9l7.6 3.2M268.1 1647l20.3 8.7M270.2 1642.1l5.6 2.5M270.6 1641.2l21.8 9.8M271.1 1640.2l14 6.3M271.5 1639.3l10.6 4.9M272.4 1637.3l14.4 6.7M274.6 1632.6l18.4 8.9M275.1 1631.6l2.8 1.4M275.6 1630.7l5.6 2.7M276.5 1628.8l8.6 4.3M277 1627.9l3 1.5M277.4 1626.9l12.2 6.2M278.9 1624.1l20.3 10.5M279.4 1623.2l10.5 5.5M280.3 1621.3l3.8 2M280.8 1620.4l18.3 9.8M282.8 1616.6l6.4 3.5M283.4 1615.7l14.1 7.8M284.4 1613.9l6.3 3.5M284.9 1613l2.7 1.5M285.9 1611.1l7.4 4.2M286.5 1610.2l18.3 10.5M288.1 1607.5l7 4.1M288.6 1606.6l9.7 5.7M289.1 1605.7l2.6 1.6M289.7 1604.8l10.2 6.1M290.2 1603.8l16.2 9.8M290.8 1602.9l18.5 11.2M291.3 1602l5.8 3.5M293 1599.4l15.8 9.9M293.5 1598.5l15.3 9.6M294.7 1596.7l9.6 6.1M295.2 1595.8l13.8 8.9M295.8 1594.9l14.8 9.5M296.4 1594l11.7 7.6M297.5 1592.2l19.8 13M298.1 1591.4l18.2 12M298.7 1590.5l13.3 8.8M299.3 1589.6l14.3 9.6M299.9 1588.7l3.8 2.6M300.5 1587.9l18.6 12.6M301 1587l9.2 6.3M301.6 1586.1l5.6 3.8M302.2 1585.3l5.5 3.8M302.8 1584.4l8.2 5.7M303.5 1583.5l19.3 13.5M304.1 1582.7l8.2 5.8M304.7 1581.8l14.2 10.1M305.3 1580.9l9.3 6.6M305.9 1580.1l19 13.7M307.1 1578.4l14.3 10.4M307.8 1577.5l2.8 2.1M308.4 1576.7l12.7 9.4M309 1575.8l15.6 11.6M309.6 1575l12.5 9.3M310.3 1574.1l4.6 3.4M310.9 1573.3l13.9 10.5M311.5 1572.5l8.8 6.7M312.8 1570.8l11.4 8.8M313.5 1570l18.4 14.2M314.1 1569.1l14.2 11.1M314.8 1568.3l7.2 5.6M315.4 1567.5l4.9 3.9M316.1 1566.6l14.4 11.5M316.7 1565.8l17.6 14.1M318.1 1564.2l15 12.1M320.1 1561.7l16.2 13.4M320.7 1560.9l14.9 12.3M322.1 1559.3l7.4 6.2M322.8 1558.5l6.9 5.8M323.4 1557.7l5.8 4.9M324.1 1556.9l11.4 9.8M325.5 1555.3l9.5 8.3M326.2 1554.5l15.9 13.8M326.9 1553.7l11.8 10.3M327.6 1552.9l12.1 10.6M328.3 1552.1l11.7 10.4M329.7 1550.5l7 6.3M331.1 1549l5 4.5M331.8 1548.2l12.8 11.7M332.5 1547.4l11 10.1M333.2 1546.6l12.9 11.9M334.7 1545.1l2.9 2.7M335.4 1544.3l7.1 6.7M337.6 1542l9.5 9.1M338.3 1541.3l9.5 9.2M340.5 1539l13 12.8M341.3 1538.2l6.1 6M342 1537.5l6.8 6.7M343.5 1536l13.4 13.4M345.7 1533.8l9.5 9.7M348 1531.6l8.8 9.2M350.3 1529.4l12.9 13.7M351.1 1528.7l3.9 4.2M354.2 1525.8l7 7.7M356.5 1523.7l5.8 6.4M357.3 1523l3.7 4.1M358.1 1522.3l6.7 7.6M358.9 1521.6l14 15.8M359.7 1520.9l6.6 7.5M361.3 1519.5l10.4 12M362.1 1518.8l9.7 11.3M362.9 1518.1l7.4 8.6M363.7 1517.4l3.6 4.2M364.5 1516.8l2.4 2.8M365.3 1516.1l9.6 11.4M366.1 1515.4l13.6 16.3M366.9 1514.7l10.7 12.9M367.7 1514.1l3 3.6M368.5 1513.4l6.5 7.9M369.3 1512.7l9.4 11.6M370.2 1512.1l5.2 6.5M371 1511.4l1.9 2.4M371.8 1510.7l12.8 16M372.6 1510.1l7 8.9M373.5 1509.4l3 3.8M374.3 1508.8l3.5 4.5M375.1 1508.1l14.5 18.6M376 1507.5l7.2 9.2M376.8 1506.8l3.4 4.4M377.6 1506.2l5.8 7.5M380.1 1504.3l8.3 11.1M381 1503.6l14.3 19.1M381.8 1503l5.1 6.9M382.7 1502.4l6.8 9.3M384.4 1501.1l2 2.8M385.2 1500.5l7.5 10.3M388.7 1498.1l2.4 3.5M389.5 1497.5l4.3 6.1M390.4 1496.8l9.3 13.3M391.3 1496.2l1.8 2.6M392.1 1495.6l1.9 2.7M393.9 1494.5l4.4 6.5M394.7 1493.9l5.4 8.1M397.4 1492.1l7.6 11.4M398.2 1491.5l13 19.8M400 1490.4l4.2 6.4M402.7 1488.7l2.3 3.6M403.6 1488.1l5.1 8M405.4 1487l9.5 15.2M406.2 1486.4l12.3 19.8M408 1485.3l11.1 18.2M409.8 1484.2l7.2 11.9M410.8 1483.7l3.6 6.1M411.7 1483.1l6.2 10.4M412.6 1482.6l6 10.2M415.3 1481l11.9 20.5M416.2 1480.5l8.7 15.1M417.1 1479.9l6.2 10.8M419 1478.9l4.3 7.6M420.8 1477.9l8.9 16.1M421.7 1477.4l10.6 19.3M422.6 1476.8l3.8 6.9M423.6 1476.3l11.3 20.8M424.5 1475.8l1.8 3.3M425.4 1475.3l9.8 18.3M426.4 1474.8l1.5 2.7M429.2 1473.4l9.5 18.3M430.1 1472.9l9.5 18.3M431 1472.4l5.1 10M432 1471.9l1.6 3.2M433.9 1471l6.4 12.8M434.8 1470.5l10.3 20.6M436.7 1469.6l8.2 16.8M437.6 1469.1l4.4 9M439.5 1468.2l1.9 4M440.5 1467.7l8.8 18.5M441.4 1467.3l1.3 2.8M442.4 1466.8l8.3 17.6M443.3 1466.4l6.5 13.9M444.3 1465.9l6.3 13.6M445.3 1465.5l4.7 10.2M446.2 1465.1l4.4 9.6M449.1 1463.8l1.4 3.2M450.1 1463.3l2.3 5.1M451 1462.9l7.2 16.5M452 1462.5l8.2 18.9M453.9 1461.7l8.9 20.8M455.9 1460.8l1.4 3.3M456.9 1460.4l7.7 18.7M462.7 1458.1l7 17.6M464.7 1457.3l4.2 10.8M465.7 1456.9l6.5 16.9M469.6 1455.4l7.6 20.6M471.6 1454.7l3.1 8.6M477.6 1452.6l6.9 20.2M480.6 1451.6l6.6 20M481.6 1451.2l6.7 20.2M482.6 1450.9l7.2 22M483.6 1450.6l7.2 22.4M485.6 1449.9l3.7 11.8M487.6 1449.3l4.1 13.1M488.6 1449l4.5 14.8M489.6 1448.7l2.2 7.1M490.6 1448.4l4.5 15.1M492.6 1447.8l3.6 12.3M493.7 1447.5l6.3 21.5M496.7 1446.6l1.9 6.8M497.7 1446.3l3.6 12.9M499.7 1445.8l0.9 3.4M500.8 1445.5l4.1 15.4M502.8 1445l4.5 17.3M503.8 1444.7l2.8 10.8M506.9 1443.9l5.1 20.4M510 1443.2l3.5 14.4M511 1442.9l5.1 21.5M513 1442.5l0.9 3.9M515.1 1442l4.4 19.8M519.2 1441.1l1.5 7M523.4 1440.2l2.2 11.2M525.4 1439.8l1.7 8.8M527.5 1439.5l0.6 3M528.5 1439.3l3.5 19.1M529.6 1439.1l3.6 19.8M530.6 1438.9l0.6 3.4M536.9 1437.8l3.7 23.4M537.9 1437.7l1.4 8.9M538.9 1437.5l0.8 5.5M540 1437.4l1.2 8.1M541 1437.2l1.8 12.5M542.1 1437.1l0.9 6M544.2 1436.8l2.7 19.4M545.2 1436.6l1.1 8.1M547.3 1436.3l2.1 16.6M549.4 1436.1l0.4 3.3M550.4 1436l1.6 13.9M551.5 1435.8l1.6 13.6M552.5 1435.7l1.2 10.3M553.6 1435.6l1.8 16M554.6 1435.5l1.9 17.7M557.8 1435.2l0.3 3.1M558.8 1435.1l1.6 17.4M559.9 1435l0.3 3.7M560.9 1434.9l1.5 17.5M562 1434.8l0.8 9.9M563 1434.7l0.7 8M564.1 1434.6l1.3 16.3M565.1 1434.5l1.1 14.9M567.2 1434.4l1.3 18.2M570.4 1434.2l1.5 24M571.4 1434.1l0.8 13.9M573.6 1434l0.7 13.9M574.6 1433.9l1 20M576.7 1433.8l0.5 10.8M578.8 1433.7l0.2 5.3M579.9 1433.7l0.5 14.7M582 1433.6l0.1 3.4M583 1433.6l0.6 23.3M585.1 1433.6l0.4 21.5M589.4 1433.5l0.1 8.4" fill="none" stroke="#00a63c" stroke-width="1.0"/><circle cx="592" cy="1786" r="325.3" fill="none" stroke="#000" stroke-width="2.7"/><path d="M592 1471L592 1465.5M592 1245L592 1239.5M637.6 1471.7L637.8 1470.1M669.9 1249.4L670.1 1247.8M682.3 1481.5L682.7 1480M746.1 1266.2L746.6 1264.6M725.1 1497.6L725.7 1496.2M819.2 1293.7L819.8 1292.2M765.1 1519.7L766 1518.4M887.5 1331.4L888.4 1330.1M799.8 1549.3L803.5 1545.2M949 1379.5L952.6 1375.3M833.7 1579.9L834.9 1578.9M1004.5 1434.2L1005.8 1433.1M860.7 1616.7L862.1 1615.9M1050.8 1497.1L1052.2 1496.2M882.3 1657.1L883.7 1656.4M1087.5 1565.9L1089 1565.3M897.8 1700.1L899.3 1699.7M1114 1639.4L1115.5 1639M904.4 1745.3L909.8 1744.5M1128.5 1716L1133.9 1715.3M909.6 1790.6L911.2 1790.6M1134.1 1793.8L1135.7 1793.8M905.6 1836.1L907.2 1836.4M1127.4 1871.6L1129 1871.8M895.2 1880.7L896.7 1881.1M1109.6 1947.6L1111.1 1948.1M878.4 1923.2L879.9 1923.9M1081 2020.2L1082.4 2020.9M853.6 1961.5L858.2 1964.5M1041.3 2087.4L1045.9 2090.4M827.6 1999L828.8 2000M994.2 2149.6L995.4 2150.6M794.6 2030.6L795.6 2031.8M937.9 2203.6L938.9 2204.8M757.4 2057.2L758.2 2058.5M874.3 2248.9L875.1 2250.3M716.7 2078.1L717.3 2079.6M804.9 2284.7L805.5 2286.1M672.8 2090.5L674.2 2095.8M730.8 2308.9L732.2 2314.2M628.5 2101.5L628.7 2103.1M654.4 2324.6L654.6 2326.2M582.8 2103.5L582.8 2105.1M576.4 2328L576.3 2329.6M537.4 2098.9L537.1 2100.4M498.7 2320.1L498.4 2321.7M493 2087.8L492.5 2089.3M423 2301.2L422.5 2302.7M451.8 2068.1L449.4 2073M351.3 2270.5L348.8 2275.4M411.3 2047.2L410.4 2048.5M283.5 2231.9L282.6 2233.2M375.7 2018.5L374.6 2019.7M222.7 2183L221.6 2184.1M344.5 1985L343.3 1986M169.5 2125.8L168.2 2126.8M318.5 1947.4L317.1 1948.2M125.1 2061.6L123.7 2062.4M300.5 1905.5L295.5 1907.6M91.4 1991.2L86.3 1993.3M283.9 1863L282.3 1863.4M66 1917.5L64.4 1917.9M276 1818L274.4 1818.1M52.6 1840.6L51 1840.8M274.7 1772.3L273.1 1772.2M50.3 1762.6L48.7 1762.5M280 1726.8L278.4 1726.5M59.3 1685L57.7 1684.7M294.1 1683.5L288.9 1681.7M80.4 1609.9L75.2 1608.2M309.6 1640.6L308.2 1639.9M110 1537.8L108.5 1537M333.5 1601.5L332.1 1600.6M150.6 1471.1L149.3 1470.2M362.6 1566.3L361.5 1565.2M200.4 1411L199.3 1409.9M396.5 1535.7L395.6 1534.4M258.3 1358.6L257.3 1357.4M435.8 1512.4L433.1 1507.7M323.8 1316.2L321 1311.4M475.8 1490.4L475.2 1488.9M393.6 1281.4L393 1279.9M519.4 1476.8L519.1 1475.2M468.1 1258.1L467.7 1256.6M564.6 1469.6L564.4 1468M545.2 1245.8L545 1244.2" stroke="#000" stroke-width="1.3" fill="none"/><text x="449.9" y="1540.6" font-size="19.0" fill="#000" text-anchor="middle">40 kbp</text><text x="332.5" y="1696.8" font-size="19.0" fill="#000" text-anchor="middle">35 kbp</text><text x="782.2" y="1574.5" font-size="19.0" fill="#000" text-anchor="middle">5 kbp</text><text x="863.2" y="1753.3" font-size="19.0" fill="#000" text-anchor="middle">10 kbp</text><text x="336.9" y="1898.9" font-size="19.0" fill="#000" text-anchor="middle">30 kbp</text><text x="464.4" y="2047.3" font-size="19.0" fill="#000" text-anchor="middle">25 kbp</text><text x="667.7" y="2067.3" font-size="19.0" fill="#000" text-anchor="middle">20 kbp</text><text x="827.1" y="1949.9" font-size="19.0" fill="#000" text-anchor="middle">15 kbp</text><circle cx="592" cy="1786" r="439.1" fill="none" stroke="#efb1e6" stroke-width="16.6"/><circle cx="592" cy="1786" r="445.8" fill="none" stroke="#f8cbf2" stroke-width="3.3"/><circle cx="592" cy="1786" r="432.4" fill="none" stroke="#a97ba6" stroke-width="3.1"/><circle cx="592" cy="1786" r="457.5" fill="none" stroke="#99e3df" stroke-width="16.6"/><circle cx="592" cy="1786" r="464.2" fill="none" stroke="#c2efec" stroke-width="3.3"/><circle cx="592" cy="1786" r="450.8" fill="none" stroke="#6a9e9b" stroke-width="3.1"/><circle cx="592" cy="1786" r="476.1" fill="none" stroke="#4a48e4" stroke-width="16.6"/><circle cx="592" cy="1786" r="482.8" fill="none" stroke="#8280f6" stroke-width="3.3"/><circle cx="592" cy="1786" r="469.4" fill="none" stroke="#2f2ea6" stroke-width="3.1"/><path d="M398.7 1330.6A494.7 494.7 0 1 1 343.2 1358.4" fill="none" stroke="#62b0e2" stroke-width="16.6"/><path d="M396.1 1324.5A501.4 501.4 0 1 1 339.8 1352.7" fill="none" stroke="#99ccf0" stroke-width="3.3"/><path d="M401.3 1336.8A487.9 487.9 0 1 1 346.6 1364.3" fill="none" stroke="#3a8bb0" stroke-width="3.1"/><path d="M343.2 1358.4A494.7 494.7 0 0 1 398.7 1330.6" fill="none" stroke="#72b9e6" stroke-width="16.6"/><path d="M339.8 1352.7A501.4 501.4 0 0 1 396.1 1324.5" fill="none" stroke="#a2d1f1" stroke-width="3.3"/><path d="M346.6 1364.3A487.9 487.9 0 0 1 401.3 1336.8" fill="none" stroke="#4f96b8" stroke-width="3.1"/></g><g><path d="M608.3 1265.8L623.6 1266.5L638.8 1267.6L653.9 1269.2L669 1271.2L684 1273.7L699 1276.6L713.8 1280L715.3 1289.2L709.8 1296.8L695.4 1293.5L681 1290.7L666.4 1288.3L651.8 1286.4L637.2 1284.8L622.5 1283.7L607.8 1283Z" fill="#ff0000"/><path d="M608.3 1265.8L623.6 1266.5L638.8 1267.6L653.9 1269.2L669 1271.2L684 1273.7L699 1276.6L713.8 1280L715.3 1289.2L713 1283.3L698.3 1279.9L683.4 1277L668.5 1274.6L653.5 1272.6L638.4 1271L623.4 1269.9L608.2 1269.2Z" fill="#ff4a3a"/><path d="M607.9 1279.6L622.7 1280.3L637.5 1281.4L652.2 1283L666.9 1285L681.6 1287.4L696.1 1290.2L710.6 1293.5L715.3 1289.2L709.8 1296.8L695.4 1293.5L681 1290.7L666.4 1288.3L651.8 1286.4L637.2 1284.8L622.5 1283.7L607.8 1283Z" fill="#cc0000"/><path d="M721.2 1281.8L736.5 1286L751.6 1290.6L766.6 1295.7L781.5 1301.2L781.7 1310.6L775.2 1317.3L760.8 1312L746.3 1307L731.7 1302.6L716.9 1298.5Z" fill="#ff0000"/><path d="M721.2 1281.8L736.5 1286L751.6 1290.6L766.6 1295.7L781.5 1301.2L781.7 1310.6L780.2 1304.4L765.5 1298.9L750.6 1293.8L735.5 1289.2L720.3 1285.1Z" fill="#ff4a3a"/><path d="M717.7 1295.2L732.6 1299.3L747.4 1303.8L762 1308.8L776.4 1314.2L781.7 1310.6L775.2 1317.3L760.8 1312L746.3 1307L731.7 1302.6L716.9 1298.5Z" fill="#cc0000"/><path d="M848.5 1312.3L835.9 1305.7L823 1299.3L810 1293.4L803.2 1299.9L802.9 1309.3L815.5 1315.1L828 1321.2L840.3 1327.6Z" fill="#808080"/><path d="M848.5 1312.3L835.9 1305.7L823 1299.3L810 1293.4L803.2 1299.9L808.6 1296.5L821.5 1302.4L834.3 1308.7L846.9 1315.3Z" fill="#9e9e9e"/><path d="M841.9 1324.6L829.5 1318.1L817 1312L804.3 1306.2L803.2 1299.9L802.9 1309.3L815.5 1315.1L828 1321.2L840.3 1327.6Z" fill="#5c5c5c"/><path d="M939.4 1374.3L928 1364.9L916.3 1355.8L904.4 1347.1L892.2 1338.7L879.8 1330.6L867.2 1322.9L859.6 1328.5L858.3 1337.8L870.5 1345.3L882.5 1353.1L894.3 1361.3L905.8 1369.7L917.1 1378.5L928.2 1387.6Z" fill="#ff0000"/><path d="M939.4 1374.3L928 1364.9L916.3 1355.8L904.4 1347.1L892.2 1338.7L879.8 1330.6L867.2 1322.9L859.6 1328.5L865.4 1325.8L878 1333.5L890.3 1341.5L902.4 1349.9L914.2 1358.6L925.9 1367.6L937.2 1376.9Z" fill="#ff4a3a"/><path d="M930.4 1385L919.3 1375.9L907.9 1367L896.2 1358.5L884.4 1350.3L872.3 1342.5L860 1334.9L859.6 1328.5L858.3 1337.8L870.5 1345.3L882.5 1353.1L894.3 1361.3L905.8 1369.7L917.1 1378.5L928.2 1387.6Z" fill="#cc0000"/><path d="M930.7 1390.8L941.6 1400.3L952.1 1410.2L962.4 1420.3L958.8 1429L950.1 1432.5L940.1 1422.7L929.9 1413.2L919.5 1403.9Z" fill="#ff0000"/><path d="M930.7 1390.8L941.6 1400.3L952.1 1410.2L962.4 1420.3L958.8 1429L960 1422.7L949.8 1412.6L939.3 1402.9L928.5 1393.4Z" fill="#ff4a3a"/><path d="M921.7 1401.4L932.2 1410.6L942.5 1420.2L952.5 1430.1L958.8 1429L950.1 1432.5L940.1 1422.7L929.9 1413.2L919.5 1403.9Z" fill="#cc0000"/><path d="M1059.6 1518.5L1052.2 1506L1044.5 1493.7L1036.4 1481.6L1028.1 1469.7L1019.4 1458L1010.3 1446.6L1001.3 1449.3L996.8 1457.6L1005.6 1468.6L1014 1479.9L1022.1 1491.4L1029.9 1503.1L1037.3 1515L1044.5 1527.2Z" fill="#1212f2"/><path d="M1059.6 1518.5L1052.2 1506L1044.5 1493.7L1036.4 1481.6L1028.1 1469.7L1019.4 1458L1010.3 1446.6L1001.3 1449.3L1007.7 1448.8L1016.7 1460.1L1025.3 1471.7L1033.6 1483.5L1041.6 1495.5L1049.3 1507.8L1056.7 1520.2Z" fill="#5a5aff"/><path d="M1047.5 1525.5L1040.3 1513.3L1032.7 1501.3L1024.9 1489.5L1016.7 1477.9L1008.3 1466.6L999.5 1455.4L1001.3 1449.3L996.8 1457.6L1005.6 1468.6L1014 1479.9L1022.1 1491.4L1029.9 1503.1L1037.3 1515L1044.5 1527.2Z" fill="#0000a8"/><path d="M1100.1 1607.2L1094.8 1592.8L1089.1 1578.5L1083 1564.4L1076.5 1550.5L1069.6 1536.8L1062.3 1523.3L1053 1524.5L1047.1 1531.8L1054.2 1544.9L1060.9 1558.2L1067.2 1571.6L1073.1 1585.2L1078.6 1599L1083.7 1612.9Z" fill="#ff0000"/><path d="M1100.1 1607.2L1094.8 1592.8L1089.1 1578.5L1083 1564.4L1076.5 1550.5L1069.6 1536.8L1062.3 1523.3L1053 1524.5L1059.4 1525L1066.6 1538.4L1073.5 1552L1079.9 1565.8L1086 1579.8L1091.7 1594L1096.9 1608.3Z" fill="#ff4a3a"/><path d="M1086.9 1611.8L1081.8 1597.8L1076.2 1583.9L1070.3 1570.2L1063.9 1556.7L1057.2 1543.3L1050.1 1530.2L1053 1524.5L1047.1 1531.8L1054.2 1544.9L1060.9 1558.2L1067.2 1571.6L1073.1 1585.2L1078.6 1599L1083.7 1612.9Z" fill="#cc0000"/><path d="M1091.3 1639L1095.2 1652.9L1098.7 1666.9L1101.8 1680.9L1104.5 1695.1L1106.8 1709.3L1108.7 1723.6L1110.3 1737.9L1102 1742.3L1093 1739.5L1091.6 1725.6L1089.7 1711.9L1087.5 1698.1L1084.8 1684.4L1081.8 1670.8L1078.5 1657.3L1074.7 1643.9Z" fill="#808080"/><path d="M1091.3 1639L1095.2 1652.9L1098.7 1666.9L1101.8 1680.9L1104.5 1695.1L1106.8 1709.3L1108.7 1723.6L1110.3 1737.9L1102 1742.3L1106.9 1738.2L1105.4 1724L1103.5 1709.8L1101.2 1695.7L1098.5 1681.6L1095.4 1667.7L1091.9 1653.8L1088.1 1640Z" fill="#9e9e9e"/><path d="M1078 1643L1081.8 1656.5L1085.2 1670.1L1088.2 1683.8L1090.8 1697.5L1093.1 1711.4L1094.9 1725.2L1096.4 1739.2L1102 1742.3L1093 1739.5L1091.6 1725.6L1089.7 1711.9L1087.5 1698.1L1084.8 1684.4L1081.8 1670.8L1078.5 1657.3L1074.7 1643.9Z" fill="#5c5c5c"/><path d="M1110.8 1744.4L1111.9 1761L1112.4 1777.5L1112.4 1794.1L1111.9 1810.7L1103.1 1813.9L1094.6 1809.9L1095.1 1793.8L1095.1 1777.8L1094.6 1761.8L1093.6 1745.8Z" fill="#808080"/><path d="M1110.8 1744.4L1111.9 1761L1112.4 1777.5L1112.4 1794.1L1111.9 1810.7L1103.1 1813.9L1108.5 1810.5L1109 1794.1L1109 1777.6L1108.5 1761.1L1107.4 1744.7Z" fill="#9e9e9e"/><path d="M1097 1745.5L1098 1761.6L1098.5 1777.8L1098.5 1793.9L1098 1810L1103.1 1813.9L1094.6 1809.9L1095.1 1793.8L1095.1 1777.8L1094.6 1761.8L1093.6 1745.8Z" fill="#5c5c5c"/><path d="M1111.4 1819.6L1110.1 1835.6L1108.4 1851.5L1106.1 1867.4L1103.3 1883.2L1094.2 1885.2L1086.3 1880L1089 1864.7L1091.2 1849.4L1092.9 1833.9L1094.2 1818.5Z" fill="#808080"/><path d="M1111.4 1819.6L1110.1 1835.6L1108.4 1851.5L1106.1 1867.4L1103.3 1883.2L1094.2 1885.2L1100 1882.6L1102.7 1866.9L1105 1851.1L1106.7 1835.3L1108 1819.4Z" fill="#9e9e9e"/><path d="M1097.5 1818.7L1096.3 1834.3L1094.6 1849.8L1092.4 1865.3L1089.7 1880.6L1094.2 1885.2L1086.3 1880L1089 1864.7L1091.2 1849.4L1092.9 1833.9L1094.2 1818.5Z" fill="#5c5c5c"/><path d="M1100.2 1898.4L1097 1912L1093.5 1925.4L1089.6 1938.8L1085.3 1952L1080.7 1965.2L1071.3 1965.6L1064.4 1959.2L1068.9 1946.5L1073 1933.7L1076.8 1920.8L1080.2 1907.8L1083.3 1894.7Z" fill="#808080"/><path d="M1100.2 1898.4L1097 1912L1093.5 1925.4L1089.6 1938.8L1085.3 1952L1080.7 1965.2L1071.3 1965.6L1077.5 1964L1082.1 1951L1086.3 1937.8L1090.2 1924.5L1093.7 1911.1L1096.9 1897.7Z" fill="#9e9e9e"/><path d="M1086.6 1895.4L1083.5 1908.6L1080.1 1921.7L1076.3 1934.7L1072.1 1947.6L1067.6 1960.4L1071.3 1965.6L1064.4 1959.2L1068.9 1946.5L1073 1933.7L1076.8 1920.8L1080.2 1907.8L1083.3 1894.7Z" fill="#5c5c5c"/><path d="M1068.2 1996L1061.7 2010.2L1054.8 2024.1L1047.5 2037.9L1039.8 2051.4L1031.6 2064.6L1022.4 2063L1017 2055.4L1024.9 2042.6L1032.4 2029.5L1039.4 2016.2L1046.1 2002.7L1052.4 1989.1Z" fill="#808080"/><path d="M1068.2 1996L1061.7 2010.2L1054.8 2024.1L1047.5 2037.9L1039.8 2051.4L1031.6 2064.6L1022.4 2063L1028.8 2062.8L1036.8 2049.6L1044.5 2036.2L1051.8 2022.6L1058.7 2008.7L1065.1 1994.7Z" fill="#9e9e9e"/><path d="M1055.5 1990.4L1049.2 2004.2L1042.5 2017.8L1035.3 2031.1L1027.8 2044.3L1019.9 2057.2L1022.4 2063L1017 2055.4L1024.9 2042.6L1032.4 2029.5L1039.4 2016.2L1046.1 2002.7L1052.4 1989.1Z" fill="#5c5c5c"/><path d="M1004.4 2103.5L992.7 2118.2L983.7 2115.5L979.3 2107.2L990.7 2093Z" fill="#1212f2"/><path d="M1004.4 2103.5L992.7 2118.2L983.7 2115.5L990 2116.1L1001.7 2101.4Z" fill="#5a5aff"/><path d="M993.4 2095L982 2109.4L983.7 2115.5L979.3 2107.2L990.7 2093Z" fill="#0000a8"/><path d="M984.2 2128.2L974.4 2139.1L964.4 2149.7L954 2160L943.4 2170L934.9 2166L931.7 2157.2L942 2147.5L952 2137.6L961.7 2127.4L971.1 2116.9Z" fill="#ff0000"/><path d="M984.2 2128.2L974.4 2139.1L964.4 2149.7L954 2160L943.4 2170L934.9 2166L941.1 2167.5L951.7 2157.5L961.9 2147.3L971.9 2136.8L981.6 2126Z" fill="#ff4a3a"/><path d="M973.7 2119.1L964.2 2129.7L954.4 2140L944.4 2150L934 2159.7L934.9 2166L931.7 2157.2L942 2147.5L952 2137.6L961.7 2127.4L971.1 2116.9Z" fill="#cc0000"/><path d="M935.9 2176.7L927.1 2184.3L918.7 2180L915.9 2171.1L924.5 2163.7Z" fill="#808080"/><path d="M935.9 2176.7L927.1 2184.3L918.7 2180L924.9 2181.7L933.7 2174.1Z" fill="#9e9e9e"/><path d="M926.8 2166.2L918.1 2173.7L918.7 2180L915.9 2171.1L924.5 2163.7Z" fill="#5c5c5c"/><path d="M922.6 2188L911.8 2196.7L900.8 2205L889.5 2213.1L878 2220.9L866.4 2228.3L858.8 2222.8L857.3 2213.6L868.5 2206.4L879.6 2198.9L890.5 2191.1L901.2 2183L911.6 2174.7Z" fill="#1212f2"/><path d="M922.6 2188L911.8 2196.7L900.8 2205L889.5 2213.1L878 2220.9L866.4 2228.3L858.8 2222.8L864.6 2225.4L876.2 2218L887.6 2210.3L898.7 2202.3L909.7 2194L920.4 2185.4Z" fill="#5a5aff"/><path d="M913.8 2177.3L903.2 2185.7L892.5 2193.8L881.6 2201.7L870.4 2209.2L859.1 2216.5L858.8 2222.8L857.3 2213.6L868.5 2206.4L879.6 2198.9L890.5 2191.1L901.2 2183L911.6 2174.7Z" fill="#0000a8"/><path d="M858.8 2232.9L843.1 2241.9L827 2250.4L810.7 2258.3L803.8 2252L803.4 2242.6L819.2 2235L834.7 2226.8L850 2218Z" fill="#ff0000"/><path d="M858.8 2232.9L843.1 2241.9L827 2250.4L810.7 2258.3L803.8 2252L809.3 2255.2L825.5 2247.4L841.4 2239L857.1 2230Z" fill="#ff4a3a"/><path d="M851.7 2221L836.4 2229.8L820.7 2238L804.8 2245.7L803.8 2252L803.4 2242.6L819.2 2235L834.7 2226.8L850 2218Z" fill="#cc0000"/><path d="M804.7 2261.1L791.6 2266.7L778.3 2272L764.9 2277L751.3 2281.5L745.2 2274.4L746 2265L759.1 2260.6L772.1 2255.9L784.9 2250.7L797.6 2245.3Z" fill="#ff0000"/><path d="M804.7 2261.1L791.6 2266.7L778.3 2272L764.9 2277L751.3 2281.5L745.2 2274.4L750.3 2278.3L763.7 2273.7L777.1 2268.8L790.3 2263.6L803.3 2258Z" fill="#ff4a3a"/><path d="M799 2248.4L786.2 2253.9L773.3 2259L760.2 2263.8L747.1 2268.3L745.2 2274.4L746 2265L759.1 2260.6L772.1 2255.9L784.9 2250.7L797.6 2245.3Z" fill="#cc0000"/><path d="M730.5 2287.7L710.4 2292.9L704.9 2285.2L706.4 2276L725.9 2271.1Z" fill="#808080"/><path d="M730.5 2287.7L710.4 2292.9L704.9 2285.2L709.6 2289.6L729.6 2284.5Z" fill="#9e9e9e"/><path d="M726.8 2274.3L707.2 2279.3L704.9 2285.2L706.4 2276L725.9 2271.1Z" fill="#5c5c5c"/><path d="M706.1 2293.8L688.2 2297.5L683.1 2289.7L685 2280.5L702.3 2277Z" fill="#808080"/><path d="M706.1 2293.8L688.2 2297.5L683.1 2289.7L687.6 2294.2L705.3 2290.5Z" fill="#9e9e9e"/><path d="M703 2280.3L685.7 2283.9L683.1 2289.7L685 2280.5L702.3 2277Z" fill="#5c5c5c"/><path d="M658.1 2320.6L676.5 2318L678.7 2308.9L673.7 2300.9L656 2303.4Z" fill="#808080"/><path d="M658.1 2320.6L676.5 2318L678.7 2308.9L675.9 2314.7L657.7 2317.3Z" fill="#9e9e9e"/><path d="M656.4 2306.7L674.3 2304.2L678.7 2308.9L673.7 2300.9L656 2303.4Z" fill="#5c5c5c"/><path d="M620.5 2323.9L634 2323.1L636.9 2314.1L632.6 2305.7L619.6 2306.6Z" fill="#808080"/><path d="M620.5 2323.9L634 2323.1L636.9 2314.1L633.7 2319.7L620.3 2320.6Z" fill="#9e9e9e"/><path d="M619.7 2310L632.9 2309.1L636.9 2314.1L632.6 2305.7L619.6 2306.6Z" fill="#5c5c5c"/><path d="M607.8 2306.3L593.7 2306.5L590 2297.8L593.6 2289.2L607.3 2289Z" fill="#808080"/><path d="M607.8 2306.3L593.7 2306.5L590 2297.8L593.7 2303.1L607.7 2302.9Z" fill="#9e9e9e"/><path d="M607.4 2292.4L593.6 2292.6L590 2297.8L593.6 2289.2L607.3 2289Z" fill="#5c5c5c"/><path d="M558.9 2305.4L543.3 2304.2L527.8 2302.5L525.3 2293.5L529.9 2285.4L544.9 2287L560 2288.2Z" fill="#808080"/><path d="M558.9 2305.4L543.3 2304.2L527.8 2302.5L525.3 2293.5L528.2 2299.1L543.6 2300.8L559.1 2302.1Z" fill="#9e9e9e"/><path d="M559.7 2291.6L544.6 2290.4L529.5 2288.7L525.3 2293.5L529.9 2285.4L544.9 2287L560 2288.2Z" fill="#5c5c5c"/><path d="M523.1 2301.9L509.3 2299.9L495.6 2297.5L481.9 2294.7L468.3 2291.6L454.8 2288.1L441.5 2284.3L428.2 2280L415 2275.5L402 2270.6L389.1 2265.3L376.3 2259.7L363.7 2253.8L351.3 2247.5L352.1 2238.1L359.3 2232.2L371.3 2238.2L383.5 2244L395.8 2249.4L408.3 2254.5L420.9 2259.2L433.6 2263.6L446.5 2267.7L459.4 2271.4L472.4 2274.8L485.6 2277.8L498.8 2280.5L512 2282.8L525.4 2284.8Z" fill="#808080"/><path d="M523.1 2301.9L509.3 2299.9L495.6 2297.5L481.9 2294.7L468.3 2291.6L454.8 2288.1L441.5 2284.3L428.2 2280L415 2275.5L402 2270.6L389.1 2265.3L376.3 2259.7L363.7 2253.8L351.3 2247.5L352.1 2238.1L352.9 2244.5L365.2 2250.7L377.7 2256.6L390.4 2262.2L403.2 2267.4L416.2 2272.3L429.2 2276.8L442.4 2281L455.7 2284.8L469.1 2288.3L482.6 2291.4L496.2 2294.1L509.8 2296.5L523.5 2298.5Z" fill="#9e9e9e"/><path d="M524.9 2288.1L511.5 2286.2L498.1 2283.8L484.8 2281.1L471.6 2278.1L458.5 2274.7L445.5 2270.9L432.6 2266.9L419.7 2262.4L407.1 2257.6L394.5 2252.5L382.1 2247.1L369.8 2241.3L357.7 2235.2L352.1 2238.1L359.3 2232.2L371.3 2238.2L383.5 2244L395.8 2249.4L408.3 2254.5L420.9 2259.2L433.6 2263.6L446.5 2267.7L459.4 2271.4L472.4 2274.8L485.6 2277.8L498.8 2280.5L512 2282.8L525.4 2284.8Z" fill="#5c5c5c"/><path d="M333.2 2237.6L321.1 2230.5L309.3 2223L297.7 2215.3L286.2 2207.2L288.4 2198.1L296.4 2193.2L307.4 2201L318.7 2208.5L330.1 2215.7L341.8 2222.6Z" fill="#808080"/><path d="M333.2 2237.6L321.1 2230.5L309.3 2223L297.7 2215.3L286.2 2207.2L288.4 2198.1L288.2 2204.5L299.6 2212.5L311.1 2220.2L322.9 2227.6L334.9 2234.6Z" fill="#9e9e9e"/><path d="M340.1 2225.5L328.4 2218.6L316.8 2211.4L305.5 2203.8L294.4 2196L288.4 2198.1L296.4 2193.2L307.4 2201L318.7 2208.5L330.1 2215.7L341.8 2222.6Z" fill="#5c5c5c"/><path d="M84.3 1966.2L89.3 1979.6L94.6 1992.9L100.3 2006.1L106.4 2019.1L112.7 2032L119.5 2044.7L126.5 2057.1L133.9 2069.4L141.6 2081.5L149.6 2093.4L158 2105.1L166.6 2116.5L175.6 2127.8L184.8 2138.7L194.4 2149.4L204.2 2159.9L214.3 2170.1L224.6 2180L235.3 2189.7L243.7 2185.5L246.8 2176.6L236.5 2167.3L226.5 2157.7L216.7 2147.8L207.2 2137.7L198 2127.3L189 2116.7L180.4 2105.9L172 2094.8L163.9 2083.5L156.2 2072L148.7 2060.3L141.5 2048.4L134.7 2036.3L128.2 2024L122 2011.6L116.2 1999L110.7 1986.3L105.5 1973.4L100.7 1960.4Z" fill="#808080"/><path d="M84.3 1966.2L89.3 1979.6L94.6 1992.9L100.3 2006.1L106.4 2019.1L112.7 2032L119.5 2044.7L126.5 2057.1L133.9 2069.4L141.6 2081.5L149.6 2093.4L158 2105.1L166.6 2116.5L175.6 2127.8L184.8 2138.7L194.4 2149.4L204.2 2159.9L214.3 2170.1L224.6 2180L235.3 2189.7L243.7 2185.5L237.5 2187.1L227 2177.5L216.7 2167.7L206.6 2157.5L196.9 2147.1L187.4 2136.5L178.2 2125.6L169.3 2114.5L160.7 2103.1L152.4 2091.5L144.5 2079.7L136.8 2067.7L129.5 2055.4L122.4 2043L115.8 2030.4L109.4 2017.7L103.4 2004.7L97.8 1991.6L92.5 1978.4L87.5 1965Z" fill="#9e9e9e"/><path d="M97.5 1961.5L102.4 1974.6L107.6 1987.6L113.1 2000.4L119 2013.1L125.2 2025.6L131.7 2037.9L138.6 2050.1L145.8 2062.1L153.3 2073.9L161.1 2085.4L169.3 2096.8L177.7 2108L186.4 2118.9L195.4 2129.6L204.7 2140L214.3 2150.2L224.1 2160.1L234.2 2169.8L244.5 2179.2L243.7 2185.5L246.8 2176.6L236.5 2167.3L226.5 2157.7L216.7 2147.8L207.2 2137.7L198 2127.3L189 2116.7L180.4 2105.9L172 2094.8L163.9 2083.5L156.2 2072L148.7 2060.3L141.5 2048.4L134.7 2036.3L128.2 2024L122 2011.6L116.2 1999L110.7 1986.3L105.5 1973.4L100.7 1960.4Z" fill="#5c5c5c"/><path d="M58.6 1861.1L61.1 1877.6L64.2 1894L67.8 1910.3L71.9 1926.4L81.3 1927.6L88.7 1921.9L84.8 1906.2L81.3 1890.5L78.3 1874.6L75.8 1858.6Z" fill="#808080"/><path d="M58.6 1861.1L61.1 1877.6L64.2 1894L67.8 1910.3L71.9 1926.4L81.3 1927.6L75.2 1925.5L71.1 1909.5L67.6 1893.3L64.5 1877L61.9 1860.6Z" fill="#9e9e9e"/><path d="M72.4 1859.1L74.9 1875.2L77.9 1891.2L81.4 1907L85.4 1922.8L81.3 1927.6L88.7 1921.9L84.8 1906.2L81.3 1890.5L78.3 1874.6L75.8 1858.6Z" fill="#5c5c5c"/><path d="M72.8 1823L71.8 1803.1L71.5 1783.1L80.2 1779.6L88.8 1783.2L89.1 1802.5L90.1 1821.8Z" fill="#808080"/><path d="M72.8 1823L71.8 1803.1L71.5 1783.1L80.2 1779.6L74.9 1783.1L75.2 1803L76.2 1822.8Z" fill="#9e9e9e"/><path d="M86.7 1822L85.7 1802.6L85.4 1783.2L80.2 1779.6L88.8 1783.2L89.1 1802.5L90.1 1821.8Z" fill="#5c5c5c"/><path d="M71.6 1776L72 1762.8L80.8 1759.6L89.3 1763.6L88.9 1776.3Z" fill="#808080"/><path d="M71.6 1776L72 1762.8L80.8 1759.6L75.4 1762.9L75 1776.1Z" fill="#9e9e9e"/><path d="M85.5 1776.3L85.9 1763.4L80.8 1759.6L89.3 1763.6L88.9 1776.3Z" fill="#5c5c5c"/><path d="M72.7 1750.1L72.9 1747.8L81.7 1746.8L90.2 1749.1L90 1751.2Z" fill="#808080"/><path d="M72.7 1750.1L72.9 1747.8L81.7 1746.8L76.3 1748L76.1 1750.3Z" fill="#9e9e9e"/><path d="M86.6 1751L86.8 1748.8L81.7 1746.8L90.2 1749.1L90 1751.2Z" fill="#5c5c5c"/><path d="M73.7 1738L76.7 1712.7L85.8 1710.3L93.8 1715.1L90.9 1739.6Z" fill="#808080"/><path d="M73.7 1738L76.7 1712.7L85.8 1710.3L80.1 1713.2L77.1 1738.3Z" fill="#9e9e9e"/><path d="M87.6 1739.3L90.5 1714.6L85.8 1710.3L93.8 1715.1L90.9 1739.6Z" fill="#5c5c5c"/><path d="M77.5 1706.9L79.6 1694.5L88.8 1692.5L96.6 1697.5L94.6 1709.5Z" fill="#808080"/><path d="M77.5 1706.9L79.6 1694.5L88.8 1692.5L83 1695.1L80.9 1707.4Z" fill="#9e9e9e"/><path d="M91.3 1709L93.3 1696.9L88.8 1692.5L96.6 1697.5L94.6 1709.5Z" fill="#5c5c5c"/><path d="M80.4 1690.1L84 1672.6L93.2 1670.9L100.9 1676.3L97.4 1693.3Z" fill="#808080"/><path d="M80.4 1690.1L84 1672.6L93.2 1670.9L87.3 1673.3L83.8 1690.7Z" fill="#9e9e9e"/><path d="M94.1 1692.6L97.6 1675.6L93.2 1670.9L100.9 1676.3L97.4 1693.3Z" fill="#5c5c5c"/><path d="M73.5 1640L71.4 1647.6L78.9 1653.3L88.2 1652.1L90.2 1644.7Z" fill="#808080"/><path d="M73.5 1640L71.4 1647.6L78.9 1653.3L74.7 1648.5L76.7 1640.9Z" fill="#9e9e9e"/><path d="M87 1643.8L84.9 1651.2L78.9 1653.3L88.2 1652.1L90.2 1644.7Z" fill="#5c5c5c"/><path d="M102 1610.5L108.7 1592.8L116 1575.4L125.4 1575.6L131.8 1582.4L124.7 1599.3L118.3 1616.4Z" fill="#808080"/><path d="M102 1610.5L108.7 1592.8L116 1575.4L125.4 1575.6L119.1 1576.8L111.8 1594.1L105.2 1611.7Z" fill="#9e9e9e"/><path d="M115.1 1615.2L121.6 1598L128.7 1581L125.4 1575.6L131.8 1582.4L124.7 1599.3L118.3 1616.4Z" fill="#5c5c5c"/><path d="M131.8 1506.1L124.5 1518.3L117.6 1530.8L111 1543.5L117.1 1550.6L126.5 1551.3L132.9 1539L139.6 1527L146.6 1515.1Z" fill="#808080"/><path d="M131.8 1506.1L124.5 1518.3L117.6 1530.8L111 1543.5L117.1 1550.6L114 1545L120.6 1532.4L127.5 1520L134.7 1507.8Z" fill="#9e9e9e"/><path d="M143.7 1513.3L136.7 1525.3L129.9 1537.4L123.5 1549.8L117.1 1550.6L126.5 1551.3L132.9 1539L139.6 1527L146.6 1515.1Z" fill="#5c5c5c"/><path d="M157.3 1467.8L147.9 1481.1L138.8 1494.7L144.2 1502.5L153.5 1504.1L162.2 1491L171.4 1478Z" fill="#808080"/><path d="M157.3 1467.8L147.9 1481.1L138.8 1494.7L144.2 1502.5L141.7 1496.6L150.7 1483L160.1 1469.8Z" fill="#9e9e9e"/><path d="M168.6 1476L159.4 1489L150.6 1502.3L144.2 1502.5L153.5 1504.1L162.2 1491L171.4 1478Z" fill="#5c5c5c"/><path d="M282.2 1345.3L270.4 1353.8L258.8 1362.7L247.5 1371.9L236.4 1381.3L225.6 1391.1L215.1 1401.1L204.8 1411.4L194.9 1422L185.2 1432.9L175.8 1444L180.2 1452.3L189.2 1455.1L198.3 1444.3L207.7 1433.8L217.3 1423.5L227.3 1413.5L237.5 1403.8L247.9 1394.4L258.6 1385.2L269.6 1376.4L280.8 1367.8L292.2 1359.6Z" fill="#808080"/><path d="M282.2 1345.3L270.4 1353.8L258.8 1362.7L247.5 1371.9L236.4 1381.3L225.6 1391.1L215.1 1401.1L204.8 1411.4L194.9 1422L185.2 1432.9L175.8 1444L180.2 1452.3L178.4 1446.2L187.7 1435.1L197.4 1424.3L207.3 1413.8L217.5 1403.5L227.9 1393.6L238.7 1383.9L249.7 1374.5L260.9 1365.4L272.4 1356.6L284.1 1348.1Z" fill="#9e9e9e"/><path d="M290.2 1356.8L278.7 1365.1L267.5 1373.7L256.5 1382.6L245.7 1391.8L235.2 1401.3L224.9 1411.1L214.9 1421.2L205.2 1431.5L195.7 1442.1L186.6 1452.9L180.2 1452.3L189.2 1455.1L198.3 1444.3L207.7 1433.8L217.3 1423.5L227.3 1413.5L237.5 1403.8L247.9 1394.4L258.6 1385.2L269.6 1376.4L280.8 1367.8L292.2 1359.6Z" fill="#5c5c5c"/><path d="M300 1333.3L292.1 1338.5L293.9 1347.8L301.8 1353L309.5 1347.9Z" fill="#808080"/><path d="M300 1333.3L292.1 1338.5L293.9 1347.8L294 1341.3L301.9 1336.1Z" fill="#9e9e9e"/><path d="M307.6 1345.1L299.9 1350.1L293.9 1347.8L301.8 1353L309.5 1347.9Z" fill="#5c5c5c"/><path d="M346.4 1327.1L361 1319.6L368 1325.8L368.6 1335.1L354.5 1342.4Z" fill="#808080"/><path d="M346.4 1327.1L361 1319.6L368 1325.8L362.5 1322.6L348 1330.1Z" fill="#9e9e9e"/><path d="M352.9 1339.4L367.1 1332L368 1325.8L368.6 1335.1L354.5 1342.4Z" fill="#5c5c5c"/><path d="M364.2 1318L380.4 1310.5L387.2 1316.9L387.4 1326.3L371.8 1333.5Z" fill="#808080"/><path d="M364.2 1318L380.4 1310.5L387.2 1316.9L381.7 1313.6L365.7 1321Z" fill="#9e9e9e"/><path d="M370.3 1330.5L386 1323.2L387.2 1316.9L387.4 1326.3L371.8 1333.5Z" fill="#5c5c5c"/><path d="M422.9 1274.5L405.6 1280.6L388.5 1287.2L388.5 1296.6L395.1 1303.3L411.6 1296.9L428.3 1291.1Z" fill="#808080"/><path d="M422.9 1274.5L405.6 1280.6L388.5 1287.2L388.5 1296.6L389.8 1290.3L406.8 1283.8L423.9 1277.8Z" fill="#9e9e9e"/><path d="M427.2 1287.8L410.4 1293.7L393.8 1300.2L388.5 1296.6L395.1 1303.3L411.6 1296.9L428.3 1291.1Z" fill="#5c5c5c"/><path d="M439 1288.5L455.2 1283.8L460.9 1291.2L459.7 1300.5L444 1305Z" fill="#808080"/><path d="M439 1288.5L455.2 1283.8L460.9 1291.2L456 1287.1L440 1291.8Z" fill="#9e9e9e"/><path d="M443 1301.8L458.8 1297.2L460.9 1291.2L459.7 1300.5L444 1305Z" fill="#5c5c5c"/><path d="M460 1282.5L476.9 1278.4L482.3 1286L480.7 1295.3L464.4 1299.2Z" fill="#808080"/><path d="M460 1282.5L476.9 1278.4L482.3 1286L477.7 1281.7L460.9 1285.8Z" fill="#9e9e9e"/><path d="M463.5 1296L480 1291.9L482.3 1286L480.7 1295.3L464.4 1299.2Z" fill="#5c5c5c"/><path d="M514.8 1252.9L487.6 1257.5L485.8 1266.8L491 1274.6L517.3 1270.1Z" fill="#808080"/><path d="M514.8 1252.9L487.6 1257.5L485.8 1266.8L488.3 1260.8L515.3 1256.2Z" fill="#9e9e9e"/><path d="M516.8 1266.7L490.3 1271.2L485.8 1266.8L491 1274.6L517.3 1270.1Z" fill="#5c5c5c"/><path d="M529 1269.3L547.4 1267.4L551.8 1275.7L548.9 1284.6L531.1 1286.5Z" fill="#808080"/><path d="M529 1269.3L547.4 1267.4L551.8 1275.7L547.7 1270.8L529.4 1272.7Z" fill="#9e9e9e"/><path d="M530.7 1283.1L548.6 1281.3L551.8 1275.7L548.9 1284.6L531.1 1286.5Z" fill="#5c5c5c"/><path d="M552.1 1267L567.7 1266.1L571.7 1274.6L568.5 1283.3L553.4 1284.3Z" fill="#808080"/><path d="M552.1 1267L567.7 1266.1L571.7 1274.6L567.9 1269.5L552.3 1270.4Z" fill="#9e9e9e"/><path d="M553.1 1280.9L568.4 1280L571.7 1274.6L568.5 1283.3L553.4 1284.3Z" fill="#5c5c5c"/></g><path d="M671.6 1217.7L668 1242.6" stroke="#e31a1a" stroke-width="0.8" fill="none"/><text x="651.5" y="1213.5" font-size="13.7" fill="#e31a1a">msr(E)</text><path d="M771.2 1240.4L762.1 1265.3" stroke="#e31a1a" stroke-width="0.8" fill="none"/><text x="750.3" y="1236.5" font-size="13.7" fill="#e31a1a">mph(E)</text><path d="M923.9 1315.1L907.9 1338" stroke="#e31a1a" stroke-width="0.8" fill="none"/><text x="923.5" y="1318.7" font-size="13.7" fill="#e31a1a">tet(39)</text><path d="M986.2 1368.5L968.2 1386.5" stroke="#e31a1a" stroke-width="0.8" fill="none"/><text x="986" y="1368.5" font-size="13.7" fill="#e31a1a">tetR</text><path d="M1065.1 1458.3L1042.3 1473.6" stroke="#1c1cb4" stroke-width="0.8" fill="none"/><text x="1065.5" y="1460" font-size="13.7" fill="#1c1cb4">ISAba43</text><path d="M1115 1546.8L1090.5 1557.6" stroke="#e31a1a" stroke-width="0.8" fill="none"/><text x="1115.5" y="1548" font-size="13.7" fill="#e31a1a">cml</text><path d="M1019.4 2130.2L1038.6 2146.3" stroke="#1c1cb4" stroke-width="0.8" fill="none"/><text x="1040.5" y="2148.6" font-size="13.7" fill="#1c1cb4">&#916;ISAba2</text><path d="M982.6 2171.7L1001 2190.1" stroke="#e31a1a" stroke-width="0.8" fill="none"/><text x="1001.5" y="2191.7" font-size="13.7" fill="#e31a1a">sul2</text><path d="M947.5 2204L965.3 2221.7" stroke="#8c8c8c" stroke-width="0.8" fill="none"/><text x="965.2" y="2227.5" font-size="13.7" fill="#8c8c8c">glmM</text><path d="M909.5 2233.9L923.8 2254" stroke="#1c1cb4" stroke-width="0.8" fill="none"/><text x="923.5" y="2257.4" font-size="13.7" fill="#1c1cb4">IS17</text><path d="M844.9 2272L858 2295" stroke="#e31a1a" stroke-width="0.8" fill="none"/><text x="857.5" y="2300.2" font-size="13.7" fill="#e31a1a">aph(3&quot;)-Ib</text><path d="M786.1 2298.9L796.5 2324.3" stroke="#e31a1a" stroke-width="0.8" fill="none"/><text x="770.5" y="2335.5" font-size="13.7" fill="#e31a1a">aph(6)-Id</text><text x="592" y="1786.5" font-size="23.9" fill="#000" text-anchor="middle">pAP8900-2</text><text x="592" y="1824.2" font-size="23.9" fill="#000" text-anchor="middle">43,600 bp</text><text x="10.4" y="105.7" font-size="37" fill="#000" font-weight="bold">(A)</text><text x="10.4" y="1299.4" font-size="37" fill="#000" font-weight="bold">(B)</text><text x="1158.6" y="20.9" font-size="18.5" fill="#000">GC Skew</text><rect x="1160.1" y="37.2" width="23.1" height="23.1" fill="#b3009b"/><text x="1194.8" y="57.3" font-size="13.75" fill="#000">GC Skew(&#8211;)</text><rect x="1160.1" y="72.2" width="23.1" height="23.1" fill="#009a00"/><text x="1194.8" y="92.3" font-size="13.75" fill="#000">GC Skew(+)</text><rect x="1160.1" y="107.1" width="23.1" height="23.1" fill="#000"/><text x="1194.5" y="130.1" font-size="18.5" fill="#000">GC Content</text><text x="1158.6" y="160.6" font-size="18.5" fill="#000">pAP8900-1</text><rect x="1160.1" y="177" width="23.1" height="23.1" fill="#efb1e6"/><text x="1194.8" y="197.1" font-size="13.75" fill="#000">100% identity</text><rect x="1160.1" y="211.9" width="23.1" height="23.1" fill="#e8cce5"/><text x="1194.8" y="232" font-size="13.75" fill="#000">70% identity</text><rect x="1160.1" y="246.8" width="23.1" height="23.1" fill="#dedede"/><text x="1194.8" y="266.9" font-size="13.75" fill="#000">50% identity</text><text x="1158.6" y="300.3" font-size="18.5" fill="#000">pSP19M058-1</text><rect x="1160.1" y="316.7" width="23.1" height="23.1" fill="#99e3df"/><text x="1194.8" y="336.8" font-size="13.75" fill="#000">100% identity</text><rect x="1160.1" y="351.6" width="23.1" height="23.1" fill="#c2e4e2"/><text x="1194.8" y="371.7" font-size="13.75" fill="#000">70% identity</text><rect x="1160.1" y="386.5" width="23.1" height="23.1" fill="#dedede"/><text x="1194.8" y="406.6" font-size="13.75" fill="#000">50% identity</text><text x="1158.6" y="440.1" font-size="18.5" fill="#000">ST220_plasmid</text><rect x="1160.1" y="456.4" width="23.1" height="23.1" fill="#4a48e4"/><text x="1194.8" y="476.5" font-size="13.75" fill="#000">100% identity</text><rect x="1160.1" y="491.3" width="23.1" height="23.1" fill="#a6a5e3"/><text x="1194.8" y="511.4" font-size="13.75" fill="#000">70% identity</text><rect x="1160.1" y="526.2" width="23.1" height="23.1" fill="#dedede"/><text x="1194.8" y="546.4" font-size="13.75" fill="#000">50% identity</text><text x="1158.6" y="579.8" font-size="18.5" fill="#000">pTCM-1</text><rect x="1160.1" y="596.1" width="23.1" height="23.1" fill="#62b0e2"/><text x="1194.8" y="616.2" font-size="13.75" fill="#000">100% identity</text><rect x="1160.1" y="631" width="23.1" height="23.1" fill="#b2cfe6"/><text x="1194.8" y="651.1" font-size="13.75" fill="#000">70% identity</text><rect x="1160.1" y="666" width="23.1" height="23.1" fill="#dedede"/><text x="1194.8" y="686.1" font-size="13.75" fill="#000">50% identity</text><text x="1158.6" y="1214.6" font-size="18.5" fill="#000">GC Skew</text><rect x="1160.1" y="1230.9" width="23.1" height="23.1" fill="#b3009b"/><text x="1194.8" y="1251" font-size="13.75" fill="#000">GC Skew(&#8211;)</text><rect x="1160.1" y="1265.9" width="23.1" height="23.1" fill="#009a00"/><text x="1194.8" y="1286" font-size="13.75" fill="#000">GC Skew(+)</text><rect x="1160.1" y="1300.8" width="23.1" height="23.1" fill="#000"/><text x="1194.5" y="1323.8" font-size="18.5" fill="#000">GC Content</text><text x="1158.6" y="1354.3" font-size="18.5" fill="#000">pAP8900-2</text><rect x="1160.1" y="1370.7" width="23.1" height="23.1" fill="#efb1e6"/><text x="1194.8" y="1390.8" font-size="13.75" fill="#000">100% identity</text><rect x="1160.1" y="1405.6" width="23.1" height="23.1" fill="#e8cce5"/><text x="1194.8" y="1425.7" font-size="13.75" fill="#000">70% identity</text><rect x="1160.1" y="1440.5" width="23.1" height="23.1" fill="#dedede"/><text x="1194.8" y="1460.6" font-size="13.75" fill="#000">50% identity</text><text x="1158.6" y="1494" font-size="18.5" fill="#000">pAP2044-2</text><rect x="1160.1" y="1510.4" width="23.1" height="23.1" fill="#99e3df"/><text x="1194.8" y="1530.5" font-size="13.75" fill="#000">100% identity</text><rect x="1160.1" y="1545.3" width="23.1" height="23.1" fill="#c2e4e2"/><text x="1194.8" y="1565.4" font-size="13.75" fill="#000">70% identity</text><rect x="1160.1" y="1580.2" width="23.1" height="23.1" fill="#dedede"/><text x="1194.8" y="1600.3" font-size="13.75" fill="#000">50% identity</text><text x="1158.6" y="1633.8" font-size="18.5" fill="#000">pSP19M058-4</text><rect x="1160.1" y="1650.1" width="23.1" height="23.1" fill="#4a48e4"/><text x="1194.8" y="1670.2" font-size="13.75" fill="#000">100% identity</text><rect x="1160.1" y="1685" width="23.1" height="23.1" fill="#a6a5e3"/><text x="1194.8" y="1705.1" font-size="13.75" fill="#000">70% identity</text><rect x="1160.1" y="1720" width="23.1" height="23.1" fill="#dedede"/><text x="1194.8" y="1740" font-size="13.75" fill="#000">50% identity</text><text x="1158.6" y="1773.5" font-size="18.5" fill="#000">pA1269-1</text><rect x="1160.1" y="1789.8" width="23.1" height="23.1" fill="#62b0e2"/><text x="1194.8" y="1809.9" font-size="13.75" fill="#000">100% identity</text><rect x="1160.1" y="1824.7" width="23.1" height="23.1" fill="#b2cfe6"/><text x="1194.8" y="1844.8" font-size="13.75" fill="#000">70% identity</text><rect x="1160.1" y="1859.7" width="23.1" height="23.1" fill="#dedede"/><text x="1194.8" y="1879.8" font-size="13.75" fill="#000">50% identity</text></svg></body></html>
